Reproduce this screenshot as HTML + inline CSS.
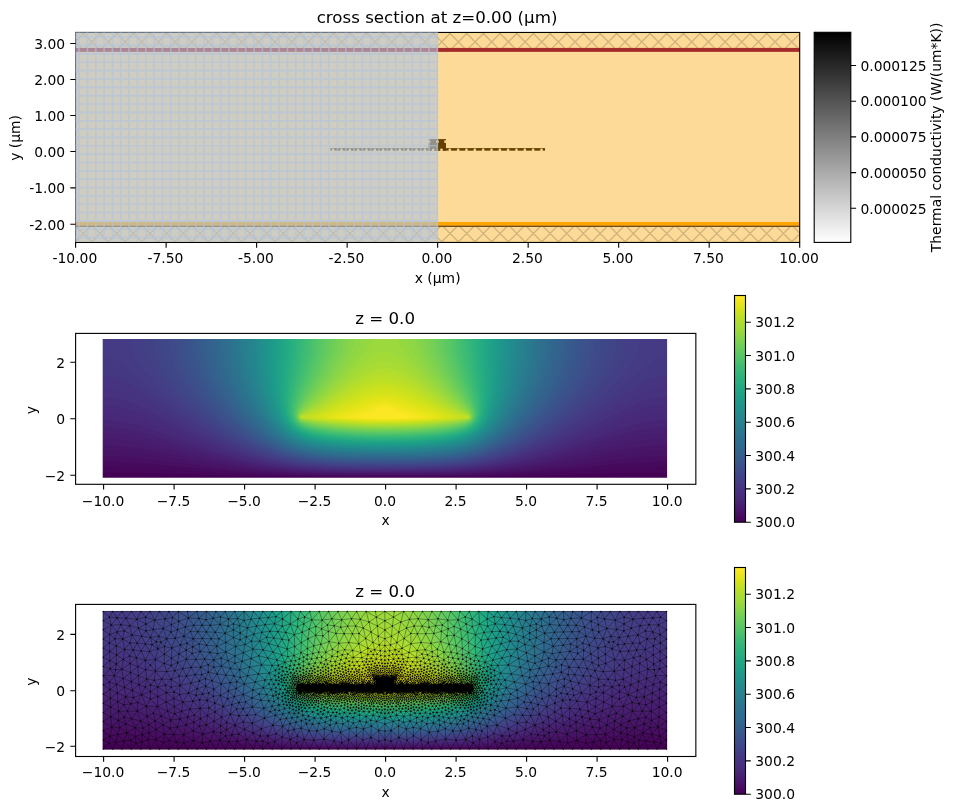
<!DOCTYPE html><html><head><meta charset="utf-8"><title>cross section</title><style>html,body{margin:0;padding:0;background:#fff}svg{display:block}</style></head><body><svg width="954" height="812" viewBox="0 0 954 812" font-family="DejaVu Sans, Liberation Sans, sans-serif" font-size="13.89" fill="#000">
<rect width="954" height="812" fill="#fff"/>
<defs><clipPath id="c1"><rect x="75.6" y="32.45" width="724.1" height="210.0"/></clipPath><clipPath id="c1t"><rect x="75.6" y="32.45" width="724.1" height="15.449999999999996"/></clipPath><clipPath id="c1b"><rect x="75.6" y="226.8" width="724.1" height="15.649999999999977"/></clipPath><linearGradient id="gy" x1="0" y1="1" x2="0" y2="0"><stop offset="0" stop-color="#fff"/><stop offset="1" stop-color="#000"/></linearGradient><linearGradient id="gv" x1="0" y1="1" x2="0" y2="0"><stop offset="0" stop-color="#440154"/><stop offset="0.03" stop-color="#470d60"/><stop offset="0.06" stop-color="#48186a"/><stop offset="0.09" stop-color="#482374"/><stop offset="0.12" stop-color="#472d7b"/><stop offset="0.16" stop-color="#453781"/><stop offset="0.19" stop-color="#424086"/><stop offset="0.22" stop-color="#3e4989"/><stop offset="0.25" stop-color="#3b528b"/><stop offset="0.28" stop-color="#375b8d"/><stop offset="0.31" stop-color="#33638d"/><stop offset="0.34" stop-color="#2f6b8e"/><stop offset="0.38" stop-color="#2c728e"/><stop offset="0.41" stop-color="#297a8e"/><stop offset="0.44" stop-color="#26828e"/><stop offset="0.47" stop-color="#23898e"/><stop offset="0.5" stop-color="#21918c"/><stop offset="0.53" stop-color="#1f988b"/><stop offset="0.56" stop-color="#1fa088"/><stop offset="0.59" stop-color="#22a785"/><stop offset="0.62" stop-color="#28ae80"/><stop offset="0.66" stop-color="#32b67a"/><stop offset="0.69" stop-color="#3fbc73"/><stop offset="0.72" stop-color="#4ec36b"/><stop offset="0.75" stop-color="#5ec962"/><stop offset="0.78" stop-color="#70cf57"/><stop offset="0.81" stop-color="#84d44b"/><stop offset="0.84" stop-color="#98d83e"/><stop offset="0.88" stop-color="#addc30"/><stop offset="0.91" stop-color="#c2df23"/><stop offset="0.94" stop-color="#d8e219"/><stop offset="0.97" stop-color="#ece51b"/><stop offset="1" stop-color="#fde725"/></linearGradient><clipPath id="cm"><rect x="102.4" y="610.6" width="565" height="139.3"/></clipPath></defs>
<rect x="75.6" y="32.45" width="724.1" height="210.0" fill="#fdda97"/>
<path clip-path="url(#c1t)" d="M32.4 32.45L47.85 47.9M49.07 32.45L64.52 47.9M65.73 32.45L81.18 47.9M82.4 32.45L97.85 47.9M99.07 32.45L114.52 47.9M115.73 32.45L131.18 47.9M132.4 32.45L147.85 47.9M149.07 32.45L164.52 47.9M165.73 32.45L181.18 47.9M182.4 32.45L197.85 47.9M199.07 32.45L214.52 47.9M215.73 32.45L231.18 47.9M232.4 32.45L247.85 47.9M249.07 32.45L264.52 47.9M265.73 32.45L281.18 47.9M282.4 32.45L297.85 47.9M299.07 32.45L314.52 47.9M315.73 32.45L331.18 47.9M332.4 32.45L347.85 47.9M349.07 32.45L364.52 47.9M365.73 32.45L381.18 47.9M382.4 32.45L397.85 47.9M399.07 32.45L414.52 47.9M415.73 32.45L431.18 47.9M432.4 32.45L447.85 47.9M449.07 32.45L464.52 47.9M465.73 32.45L481.18 47.9M482.4 32.45L497.85 47.9M499.07 32.45L514.52 47.9M515.73 32.45L531.18 47.9M532.4 32.45L547.85 47.9M549.07 32.45L564.52 47.9M565.73 32.45L581.18 47.9M582.4 32.45L597.85 47.9M599.07 32.45L614.52 47.9M615.73 32.45L631.18 47.9M632.4 32.45L647.85 47.9M649.07 32.45L664.52 47.9M665.73 32.45L681.18 47.9M682.4 32.45L697.85 47.9M699.07 32.45L714.52 47.9M715.73 32.45L731.18 47.9M732.4 32.45L747.85 47.9M749.07 32.45L764.52 47.9M765.73 32.45L781.18 47.9M782.4 32.45L797.85 47.9M799.07 32.45L814.52 47.9M815.73 32.45L831.18 47.9M832.4 32.45L847.85 47.9M51.1 32.45L35.65 47.9M67.77 32.45L52.32 47.9M84.43 32.45L68.98 47.9M101.1 32.45L85.65 47.9M117.77 32.45L102.32 47.9M134.43 32.45L118.98 47.9M151.1 32.45L135.65 47.9M167.77 32.45L152.32 47.9M184.43 32.45L168.98 47.9M201.1 32.45L185.65 47.9M217.77 32.45L202.32 47.9M234.43 32.45L218.98 47.9M251.1 32.45L235.65 47.9M267.77 32.45L252.32 47.9M284.43 32.45L268.98 47.9M301.1 32.45L285.65 47.9M317.77 32.45L302.32 47.9M334.43 32.45L318.98 47.9M351.1 32.45L335.65 47.9M367.77 32.45L352.32 47.9M384.43 32.45L368.98 47.9M401.1 32.45L385.65 47.9M417.77 32.45L402.32 47.9M434.43 32.45L418.98 47.9M451.1 32.45L435.65 47.9M467.77 32.45L452.32 47.9M484.43 32.45L468.98 47.9M501.1 32.45L485.65 47.9M517.77 32.45L502.32 47.9M534.43 32.45L518.98 47.9M551.1 32.45L535.65 47.9M567.77 32.45L552.32 47.9M584.43 32.45L568.98 47.9M601.1 32.45L585.65 47.9M617.77 32.45L602.32 47.9M634.43 32.45L618.98 47.9M651.1 32.45L635.65 47.9M667.77 32.45L652.32 47.9M684.43 32.45L668.98 47.9M701.1 32.45L685.65 47.9M717.77 32.45L702.32 47.9M734.43 32.45L718.98 47.9M751.1 32.45L735.65 47.9M767.77 32.45L752.32 47.9M784.43 32.45L768.98 47.9M801.1 32.45L785.65 47.9M817.77 32.45L802.32 47.9M834.43 32.45L818.98 47.9" stroke="#000" stroke-opacity="0.17" stroke-width="1.45" fill="none"/>
<path clip-path="url(#c1b)" d="M26.75 226.8L42.4 242.45M43.42 226.8L59.07 242.45M60.08 226.8L75.73 242.45M76.75 226.8L92.4 242.45M93.42 226.8L109.07 242.45M110.08 226.8L125.73 242.45M126.75 226.8L142.4 242.45M143.42 226.8L159.07 242.45M160.08 226.8L175.73 242.45M176.75 226.8L192.4 242.45M193.42 226.8L209.07 242.45M210.08 226.8L225.73 242.45M226.75 226.8L242.4 242.45M243.42 226.8L259.07 242.45M260.08 226.8L275.73 242.45M276.75 226.8L292.4 242.45M293.42 226.8L309.07 242.45M310.08 226.8L325.73 242.45M326.75 226.8L342.4 242.45M343.42 226.8L359.07 242.45M360.08 226.8L375.73 242.45M376.75 226.8L392.4 242.45M393.42 226.8L409.07 242.45M410.08 226.8L425.73 242.45M426.75 226.8L442.4 242.45M443.42 226.8L459.07 242.45M460.08 226.8L475.73 242.45M476.75 226.8L492.4 242.45M493.42 226.8L509.07 242.45M510.08 226.8L525.73 242.45M526.75 226.8L542.4 242.45M543.42 226.8L559.07 242.45M560.08 226.8L575.73 242.45M576.75 226.8L592.4 242.45M593.42 226.8L609.07 242.45M610.08 226.8L625.73 242.45M626.75 226.8L642.4 242.45M643.42 226.8L659.07 242.45M660.08 226.8L675.73 242.45M676.75 226.8L692.4 242.45M693.42 226.8L709.07 242.45M710.08 226.8L725.73 242.45M726.75 226.8L742.4 242.45M743.42 226.8L759.07 242.45M760.08 226.8L775.73 242.45M776.75 226.8L792.4 242.45M793.42 226.8L809.07 242.45M810.08 226.8L825.73 242.45M826.75 226.8L842.4 242.45M56.75 226.8L41.1 242.45M73.42 226.8L57.77 242.45M90.08 226.8L74.43 242.45M106.75 226.8L91.1 242.45M123.42 226.8L107.77 242.45M140.08 226.8L124.43 242.45M156.75 226.8L141.1 242.45M173.42 226.8L157.77 242.45M190.08 226.8L174.43 242.45M206.75 226.8L191.1 242.45M223.42 226.8L207.77 242.45M240.08 226.8L224.43 242.45M256.75 226.8L241.1 242.45M273.42 226.8L257.77 242.45M290.08 226.8L274.43 242.45M306.75 226.8L291.1 242.45M323.42 226.8L307.77 242.45M340.08 226.8L324.43 242.45M356.75 226.8L341.1 242.45M373.42 226.8L357.77 242.45M390.08 226.8L374.43 242.45M406.75 226.8L391.1 242.45M423.42 226.8L407.77 242.45M440.08 226.8L424.43 242.45M456.75 226.8L441.1 242.45M473.42 226.8L457.77 242.45M490.08 226.8L474.43 242.45M506.75 226.8L491.1 242.45M523.42 226.8L507.77 242.45M540.08 226.8L524.43 242.45M556.75 226.8L541.1 242.45M573.42 226.8L557.77 242.45M590.08 226.8L574.43 242.45M606.75 226.8L591.1 242.45M623.42 226.8L607.77 242.45M640.08 226.8L624.43 242.45M656.75 226.8L641.1 242.45M673.42 226.8L657.77 242.45M690.08 226.8L674.43 242.45M706.75 226.8L691.1 242.45M723.42 226.8L707.77 242.45M740.08 226.8L724.43 242.45M756.75 226.8L741.1 242.45M773.42 226.8L757.77 242.45M790.08 226.8L774.43 242.45M806.75 226.8L791.1 242.45M823.42 226.8L807.77 242.45M840.08 226.8L824.43 242.45" stroke="#000" stroke-opacity="0.17" stroke-width="1.45" fill="none"/>
<rect x="75.6" y="47.9" width="724.1" height="3.95" fill="#a52a2a"/>
<rect x="75.6" y="221.95" width="724.1" height="3.8" fill="#ffa500"/>
<rect x="75.6" y="225.7" width="724.1" height="1.15" fill="#553706"/>
<rect x="330.5" y="148.1" width="214.5" height="2.55" fill="#644100"/>
<rect x="428.4" y="139.1" width="17.6" height="11.55" fill="#644100"/>
<path d="M333.17 149.9h0M341.5 149.9h0M349.84 149.9h0M358.17 149.9h0M366.5 149.9h0M374.84 149.9h0M383.17 149.9h0M391.5 149.9h0M399.83 149.9h0M408.17 149.9h0M416.5 149.9h0M424.83 149.9h0M433.17 149.9h0M441.5 149.9h0M449.83 149.9h0M458.17 149.9h0M466.5 149.9h0M474.83 149.9h0M483.17 149.9h0M491.5 149.9h0M499.83 149.9h0M508.16 149.9h0M516.5 149.9h0M524.83 149.9h0M533.16 149.9h0M541.5 149.9h0M429.2 141.7h0M437.5 141.7h0M445.4 141.7h0" stroke="#fbd696" stroke-width="2.7" stroke-linecap="round" fill="none"/>
<rect x="75.6" y="32.45" width="724.1" height="210.0" fill="none" stroke="#000" stroke-width="1.11"/>
<rect x="75.03999999999999" y="31.890000000000004" width="362.76" height="210" fill="#b0c4de" fill-opacity="0.6"/>
<path d="M437.4 32.45V241.85M429.07 32.45V241.85M420.73 32.45V241.85M412.4 32.45V241.85M404.07 32.45V241.85M395.74 32.45V241.85M387.4 32.45V241.85M379.07 32.45V241.85M370.74 32.45V241.85M362.4 32.45V241.85M354.07 32.45V241.85M345.74 32.45V241.85M337.4 32.45V241.85M329.07 32.45V241.85M320.74 32.45V241.85M312.41 32.45V241.85M304.07 32.45V241.85M295.74 32.45V241.85M287.41 32.45V241.85M279.07 32.45V241.85M270.74 32.45V241.85M262.41 32.45V241.85M254.07 32.45V241.85M245.74 32.45V241.85M237.41 32.45V241.85M229.08 32.45V241.85M220.74 32.45V241.85M212.41 32.45V241.85M204.08 32.45V241.85M195.74 32.45V241.85M187.41 32.45V241.85M179.08 32.45V241.85M170.74 32.45V241.85M162.41 32.45V241.85M154.08 32.45V241.85M145.75 32.45V241.85M137.41 32.45V241.85M129.08 32.45V241.85M120.75 32.45V241.85M112.41 32.45V241.85M104.08 32.45V241.85M95.75 32.45V241.85M87.41 32.45V241.85M79.08 32.45V241.85M75.6 37.2H437.8M75.6 45.55H437.8M75.6 53.9H437.8M75.6 62.25H437.8M75.6 70.6H437.8M75.6 78.95H437.8M75.6 87.3H437.8M75.6 95.65H437.8M75.6 104H437.8M75.6 112.35H437.8M75.6 120.7H437.8M75.6 129.05H437.8M75.6 137.4H437.8M75.6 145.75H437.8M75.6 154.1H437.8M75.6 162.45H437.8M75.6 170.8H437.8M75.6 179.15H437.8M75.6 187.5H437.8M75.6 195.85H437.8M75.6 204.2H437.8M75.6 212.55H437.8M75.6 220.9H437.8M75.6 229.25H437.8M75.6 237.6H437.8" stroke="#b0c4de" stroke-opacity="0.62" stroke-width="1.65" fill="none"/>
<path d="M75.6 242.45v5.3M166.11 242.45v5.3M256.62 242.45v5.3M347.14 242.45v5.3M437.65 242.45v5.3M528.16 242.45v5.3M618.68 242.45v5.3M709.19 242.45v5.3M799.7 242.45v5.3M75.6 43.5h-5.3M75.6 79.5h-5.3M75.6 115.5h-5.3M75.6 151.5h-5.3M75.6 187.9h-5.3M75.6 224.3h-5.3" stroke="#000" stroke-width="1.11" fill="none"/>
<text x="74.9" y="263.1" text-anchor="middle">-10.00</text>
<text x="165.41" y="263.1" text-anchor="middle">-7.50</text>
<text x="255.93" y="263.1" text-anchor="middle">-5.00</text>
<text x="346.44" y="263.1" text-anchor="middle">-2.50</text>
<text x="436.95" y="263.1" text-anchor="middle">0.00</text>
<text x="527.46" y="263.1" text-anchor="middle">2.50</text>
<text x="617.98" y="263.1" text-anchor="middle">5.00</text>
<text x="708.49" y="263.1" text-anchor="middle">7.50</text>
<text x="799" y="263.1" text-anchor="middle">10.00</text>
<text x="65.2" y="48.7" text-anchor="end">3.00</text>
<text x="65.2" y="84.7" text-anchor="end">2.00</text>
<text x="65.2" y="120.7" text-anchor="end">1.00</text>
<text x="65.2" y="156.7" text-anchor="end">0.00</text>
<text x="65.2" y="193.1" text-anchor="end">-1.00</text>
<text x="65.2" y="229.5" text-anchor="end">-2.00</text>
<text x="437.65" y="283" text-anchor="middle">x (μm)</text>
<text transform="translate(19.8 137.95) rotate(-90)" text-anchor="middle">y (μm)</text>
<text x="437.05" y="23.2" text-anchor="middle" font-size="16.67">cross section at z=0.00 (μm)</text>
<rect x="814.2" y="32.3" width="36.6" height="210.1" fill="url(#gy)" stroke="#000" stroke-width="1.11"/>
<text x="860.4" y="70.7">0.000125</text>
<text x="860.4" y="106.4">0.000100</text>
<text x="860.4" y="142.1">0.000075</text>
<text x="860.4" y="177.8">0.000050</text>
<text x="860.4" y="213.5">0.000025</text>
<path d="M850.8 65.5h5.3M850.8 101.2h5.3M850.8 136.9h5.3M850.8 172.6h5.3M850.8 208.3h5.3" stroke="#000" stroke-width="1.11" fill="none"/>
<text transform="translate(941.3 137.4) rotate(-90)" text-anchor="middle">Thermal conductivity (W/(um*K))</text>
<g><rect x="101.2" y="337.6" width="567.4" height="141.6" fill="#440154"/><path d="M280.3 476.6l34.8 0.3 52.2 0.2 70.5-0.1 42.3-0.3 56.5-1 95.9-2.9 36.1-0.4 0-134.8-567.4 0 0 134.8 37.5 0.4 88.9 2.7 52.2 1.1z" fill="#46075a"/><path d="M296 475.9l40.2 0.4 66.3 0.1 48-0.2 33.9-0.5 26.8-0.9 28.2-1.3 91.7-5.6 19.8-0.7 17.7-0.2 0-129.4-567.4 0 0 129.4 17.7 0.2 18.4 0.7 97.9 5.9 30.5 1.3 29.6 0.8z" fill="#460a5d"/><path d="M303.1 475.2l41.6 0.5 69.1 0 40.9-0.3 31.1-0.8 26.8-1.3 26.8-1.8 25.4-2.3 48-4.7 18.3-1.5 19.8-1.1 17.7-0.3 0-124-567.4 0 0 124 19.1 0.4 21.2 1.2 18.3 1.6 53.7 5.2 33.8 2.7 28.2 1.6 26.9 0.9z" fill="#470e61"/><path d="M307.3 474.5l43 0.6 67.8 0 38.1-0.5 29.6-1 26.8-1.7 26.8-2.5 25.4-3 49.4-6.5 18.3-2 18.4-1.3 17.7-0.4 0-118.6-567.4 0 0 118.6 9.3 0.1 9.8 0.3 9.9 0.7 11.3 1 18.3 2.1 53.3 7 18.8 2.1 16.8 1.7 28.3 2 29.6 1.3z" fill="#471365"/><path d="M371.2 474.5l46.9-0.1 33.8-0.4 24-0.8 22.6-1.5 24-2.3 24-3.1 22.5-3.4 43.8-7.3 18.3-2.6 9.9-1.1 9.9-0.8 8.4-0.4 9.3-0.1 0-113-567.4 0 0 113 9.3 0.1 9.8 0.5 9.9 0.8 9.9 1.2 18.3 2.6 41 6.8 21.7 3.4 23.4 3 21.2 2.2 21.1 1.6 21.2 0.9 25.4 0.6 36.7 0.2z" fill="#481668"/><path d="M355 473.8l51.8 0 39.5-0.4 26.8-1 22.6-1.6 23.6-2.7 25.7-3.9 24-4.4 43.8-8.8 18.3-3.2 9.9-1.3 9.9-0.9 8.4-0.5 9.3-0.2 0-107.3-567.4 0 0 107.3 9.3 0.2 9.8 0.6 9.9 1 9.9 1.4 18.3 3.2 39.5 8 20.5 3.8 21.9 3.6 21.8 2.8 20.5 2 19.8 1.2 22.5 0.7 29.7 0.4z" fill="#481a6c"/><path d="M348.1 473.1l53 0.1 42.4-0.5 26.8-1 12.7-0.9 11.3-1 12.7-1.5 12.7-1.9 12.6-2.1 12.7-2.4 24.2-5.2 45-10.7 18.3-3.7 9.9-1.5 8.5-1 8.4-0.5 9.3-0.2 0-101.5-567.4 0 0 101.5 9.3 0.2 9.8 0.7 9.9 1.2 9.9 1.6 16.9 3.5 40.5 9.7 19.2 4.3 22 4.3 19.9 3.1 19.8 2.3 19.7 1.6 21.2 1 28.2 0.5z" fill="#481d6f"/><path d="M344 472.4l52.9 0.2 45.1-0.5 15.6-0.6 12.7-0.7 12.7-1 11.3-1.2 12.7-1.7 12.7-2.1 12.5-2.4 13.1-2.8 11.9-2.9 13.7-3.5 44.7-12.4 16.9-3.9 9.9-1.8 8.5-1.2 8.4-0.6 9.3-0.2 0-95.5-567.4 0 0 95.5 9.3 0.2 8.4 0.6 9.9 1.4 9.9 1.9 8.4 1.9 9.9 2.5 39.2 10.9 19.3 4.9 22.1 5 19.3 3.6 18.6 2.6 19.8 1.9 21.2 1.2 26.8 0.7z" fill="#482071"/><path d="M341.2 471.7l24.7 0.2 29.6 0.1 25.4-0.2 21.1-0.4 15.6-0.6 12.7-0.8 12.7-1.2 11.9-1.4 12.1-1.9 12.9-2.4 13.1-2.8 14.3-3.6 12.8-3.5 12-3.6 43.5-13.8 9.9-2.8 8.4-2.1 9.9-2 8.5-1.3 8.5-0.7 7.8-0.1 0-89.2-567.4 0 0 89.2 9.3 0.2 8.4 0.8 9.9 1.6 9.9 2.1 16.9 4.7 39.8 12.7 19.3 5.7 21.3 5.5 19.8 4.2 19.1 3.1 19 2.1 21.2 1.4 25.4 0.7z" fill="#482475"/><path d="M339.1 470.9l25.3 0.4 29.7 0 26.8-0.2 21.1-0.4 15.6-0.7 12.7-0.9 12.7-1.2 12.7-1.8 13-2.3 13.3-2.8 13.2-3.3 13.5-3.8 11.4-3.6 12.7-4.2 44.2-16 8.5-2.7 8.4-2.5 9.9-2.3 8.5-1.4 8.5-0.9 7.8-0.2 0-82.5-567.4 0 0 82.5 9.3 0.3 8.4 1 8.5 1.5 9.9 2.4 8.4 2.5 8.5 2.8 38.8 14 21.1 7.2 19.5 5.6 11.2 2.9 9.4 2.1 10.1 2 8.9 1.6 9.8 1.4 9.5 1.1 9.9 0.9 11.2 0.7 25.4 0.8z" fill="#482878"/><path d="M337.5 470.2l24.1 0.4 29.6 0.1 28.3-0.2 21.1-0.5 15.6-0.7 14.1-1 12.7-1.4 12.7-1.9 13.1-2.6 13.7-3.2 13.8-3.9 13.5-4.3 12.1-4.2 13.1-5 43.4-17.7 8.5-3.1 8.5-2.8 8.4-2.2 8.5-1.7 8.5-1 7.8-0.2 0-75.5-567.4 0 0 75.5 7.8 0.2 8.5 1 8.5 1.7 9.9 2.7 8.4 2.8 8.5 3.2 38.4 15.7 18.7 7.1 10.1 3.5 11.1 3.6 9.8 2.8 10.9 2.9 9.6 2.2 10.4 2.1 9.4 1.5 9.8 1.3 9.9 1 9.9 0.8 11.3 0.5 14.1 0.5z" fill="#472a7a"/><path d="M336.3 469.5l25.3 0.5 29.6 0.1 28.3-0.3 22.5-0.5 15.6-0.8 14.1-1.2 12.7-1.6 12.7-2.2 14.1-3.1 13.7-3.7 13.6-4.2 13.9-5 12.5-5 11.6-5 44.7-20.4 8.5-3.5 7.1-2.6 8.4-2.6 8.5-1.8 7.1-0.9 7.8-0.2 0-67.9-567.4 0 0 67.9 7.8 0.2 8.5 1.2 8.5 1.9 8.4 2.7 8.5 3.2 8.5 3.6 37.1 17.1 19.8 8.5 11 4.3 9.9 3.6 11 3.5 9.7 2.9 10.1 2.6 9.9 2.2 9.9 1.8 9.9 1.5 9.8 1.1 11.3 1 11.3 0.6 14.1 0.5z" fill="#472e7c"/><path d="M335.2 468.8l37.7 0.6 43.7-0.2 28.3-0.8 11.3-0.6 11.2-0.9 9.9-1.2 9.9-1.5 9.5-1.8 9.3-2.1 10.6-2.9 9.3-2.8 10.4-3.6 9.4-3.5 13.6-5.7 13.9-6.4 14.3-7.1 32.3-16.9 8.5-4.1 7.1-3.1 8.4-3.2 8.5-2.3 4.2-0.8 4.3-0.6 7.8-0.3 0-59.4-567.4 0 0 59.4 7.8 0.3 7.1 1.1 8.5 2.2 8.4 3 7.1 3 8.5 4.1 37.9 19.7 19.2 9.3 11.4 4.9 10.7 4.3 9.7 3.6 10.9 3.5 9.9 2.9 10.2 2.5 9.9 2.1 9.8 1.6 9.9 1.3 11.3 1.1 11.3 0.7 14.1 0.6z" fill="#46327e"/><path d="M334.3 468.1l34.4 0.6 42.3-0.1 29.6-0.7 11.3-0.6 11.3-0.8 9.9-1.1 8.5-1.2 9.5-1.8 8.8-1.9 8.9-2.3 9.4-2.9 8.5-2.8 9.5-3.6 8.6-3.5 9.6-4.3 8.9-4.3 9.6-4.9 17.9-10 33.3-19.8 7-3.9 7.1-3.5 8.4-3.5 7.1-2.3 7.1-1.3 4.2-0.4 3.6 0 0-49.6-567.4 0 0 49.6 6.4 0.2 7.1 1.2 7 2 8.5 3.5 7.1 3.4 7 3.8 37.2 22 10.1 5.7 10.7 5.7 10.1 5 10.9 4.9 10.3 4.3 11.6 4.3 10.9 3.5 10.2 2.9 10.7 2.5 9.3 1.7 10.4 1.6 11.3 1.2 11.3 0.8 14.1 0.7z" fill="#463480"/><path d="M370.2 468.1l35.2 0 28.2-0.6 21.1-1.1 17-1.7 8.4-1.3 8.5-1.5 7.1-1.6 8.2-2.1 9.4-2.9 8.3-2.8 7.5-2.9 8.5-3.5 10.9-5 9.9-5 10.4-5.7 9.7-5.7 17.7-11.3 33.5-23 7.1-4.5 5.6-3.3 7.1-3.5 4.2-1.7 2.8-0.9 5.7-1.2 2.8-0.3 3.6 0 0-37.4-567.4 0 0 37.4 3.6 0 2.8 0.3 5.7 1.2 2.8 0.9 4.2 1.7 7.1 3.5 5.6 3.3 7.1 4.5 30.3 20.8 16.3 10.7 8.2 5 8.6 5 7.9 4.2 8.4 4.3 7.6 3.5 8.1 3.6 8.9 3.5 7.9 2.9 8.8 2.8 7.4 2.2 8.7 2.1 8.2 1.7 7.1 1.2 8.4 1.1 8.5 0.9 9.9 0.8 22.6 1 28.2 0.4z" fill="#453882"/><path d="M362.6 467.4l34.3 0.1 29.6-0.5 22.6-0.9 16.9-1.5 8.5-1.2 7.1-1.2 7-1.4 8-1.9 7.5-2.2 8.8-2.8 7.8-2.9 7-2.8 12.6-5.7 11.1-5.7 11.3-6.4 12.5-7.8 14.3-9.9 14-10.7 13.9-11.4 25-21.5 9.9-7.8 4.2-2.8 4.3-2.1 2.8-1 1.4-0.2 3.6-0.2 0-17.4-567.4 0 0 17.4 3.6 0.2 2.8 0.7 4.3 1.8 4.2 2.6 5.6 4.2 5.7 4.6 21.7 18.7 11.9 9.9 9.8 7.9 9.5 7.1 11.1 7.8 12.2 7.8 10.9 6.4 12.1 6.4 7.4 3.5 8.1 3.6 7 2.8 7.8 2.9 7.4 2.4 7 2.1 7.6 1.9 7.9 1.7 14.1 2.2 17 1.7 19.7 1 24 0.5z" fill="#443b84"/><path d="M357.7 466.7l33.5 0.2 32.5-0.5 22.6-0.9 9.9-0.7 9-1 7.9-1 8.5-1.5 7.7-1.7 8.1-2.2 7-2.1 8.1-2.8 7.3-2.9 8.2-3.5 10.3-5 10.5-5.7 9.5-5.7 9.8-6.4 10-7.1 10-7.8 10-8.5 8.5-7.8 8.4-8.6 7.1-7.8 6.8-8.5 4.3-6.4 3.2-5.7 1.2-2.9 1.2-3.5 1-5 0.2-6.1-510.2 0 0.1 5.4 0.7 4.3 1.6 4.9 2.3 5 3.4 5.7 4.1 5.7 5.7 7.1 5.7 6.4 7.6 7.8 8.3 7.8 8.1 7.1 8.8 7.2 8.4 6.4 8.1 5.6 8.8 5.7 9.5 5.7 7.8 4.3 7 3.5 7.6 3.6 8.3 3.5 7.5 2.9 8.5 2.8 7.3 2.2 7.6 1.9 7.9 1.6 7.6 1.3 15.5 1.8 19.8 1.2 24 0.7z" fill="#433e85"/><path d="M354.2 466l34.2 0.2 32.5-0.3 24-1 9.8-0.7 8.5-0.9 8.5-1.2 7-1.2 8.5-1.9 7.1-1.8 8.2-2.6 7.9-2.8 7-2.9 7.9-3.5 9.8-5 10.1-5.7 10.2-6.4 10.2-7.1 9.3-7.1 9.2-7.8 8.4-7.9 7-7.1 6.9-7.8 5.6-7.1 4.8-7.1 4-7.1 2.8-6.4 1.7-5.7 0.9-5.7 0.2-6.8-483 0 0.1 5.4 0.6 5 1.2 5 2.1 5.6 2.7 5.7 3.4 5.7 4.3 6.4 5 6.4 6.2 7.1 6.1 6.4 6.7 6.4 8 7.1 7.8 6.4 7.6 5.7 8.1 5.7 8.9 5.7 7.3 4.2 7.9 4.3 7.1 3.6 7.9 3.5 7 2.9 7.9 2.8 6.8 2.1 7.9 2.2 7.7 1.7 7 1.3 7.1 1 8.4 1 18.4 1.3 22.6 0.8z" fill="#424186"/><path d="M351.4 465.3l32.8 0.3 33.9-0.3 23.9-0.9 9.9-0.7 8.5-0.9 8.5-1.1 8.1-1.4 7.4-1.6 7.4-2 6.8-2.1 7.9-2.8 7-2.9 7.8-3.5 9.7-5 9.8-5.7 8.8-5.7 10-7.1 8.9-7.1 8.2-7.1 7.3-7.1 7.4-7.8 6.5-7.9 5.1-7.1 4.5-7.1 3.6-7.1 2.5-6.4 1.8-6.4 0.9-6.4 0.1-6.8-463 0 0 6.1 0.6 5 1.1 5 1.8 5.7 2.4 5.6 3 5.7 4 6.4 4 5.7 5.7 7.1 5.7 6.4 6.2 6.4 6.8 6.4 6.6 5.7 7.1 5.7 7.7 5.7 8.4 5.7 6.9 4.2 7.4 4.3 6.8 3.5 7.5 3.6 6.6 2.8 7.4 2.9 7 2.4 7.1 2 7 1.7 7.1 1.5 7.1 1.1 8.4 1.1 17 1.4 22.5 0.8z" fill="#404588"/><path d="M349.1 464.6l32.3 0.4 33.8-0.3 24-0.9 9.9-0.6 9.9-1 8.4-1.1 7.1-1.2 7.1-1.5 7-1.9 7.1-2.1 7.2-2.6 7-2.9 7.7-3.5 9.5-5 8.4-5 8.7-5.7 9.8-7.1 8.7-7.1 7.9-7.1 7.8-7.8 6.3-7.1 5.6-7.1 5-7.1 4.2-7.1 3.7-7.9 2.6-7.1 1.6-6.4 0.8-6.4 0.1-6.8-446.8 0 0.1 6.1 0.5 5 1.1 5.7 1.7 5.7 2.3 5.7 2.7 5.6 3.3 5.7 4.2 6.4 4.2 5.7 5.3 6.4 5.9 6.4 5.7 5.7 6.1 5.7 6.8 5.7 7.2 5.6 8 5.7 6.6 4.3 7 4.3 6.5 3.5 7 3.6 6.2 2.8 7.2 2.9 7.7 2.8 7.1 2.1 6.3 1.7 7.1 1.5 7.1 1.2 8.4 1.1 17 1.5 21.1 0.8z" fill="#3f4788"/><path d="M347.1 463.8l31.5 0.5 33.8-0.2 25.4-0.9 9.9-0.6 9.1-0.9 7.8-1 8.5-1.4 7-1.6 6.6-1.7 6.9-2.1 6.3-2.3 6.5-2.7 7.7-3.5 9.3-5 8.3-5 9.5-6.4 8.4-6.4 8.5-7.1 7.6-7.1 6.8-7.1 6.1-7.1 5.4-7.1 5.2-7.8 3.9-7.1 3.2-7.2 2.4-7.1 1.5-6.4 0.9-6.4 0.1-7.5-432.6 0 0.1 6.1 0.4 5 1 5.7 1.6 5.7 2.1 5.7 2.5 5.6 3.1 5.7 3.9 6.4 4.5 6.4 5.1 6.4 5.7 6.4 4.8 5 5.9 5.7 6.5 5.7 7.1 5.6 6.7 5 6.3 4.3 6.8 4.3 6.2 3.5 6.8 3.6 6 2.8 6.8 2.9 7 2.6 7.1 2.2 5.8 1.5 6.9 1.6 7.1 1.3 7 1 8.5 0.9 8.4 0.7 19.8 0.9z" fill="#3e4a89"/><path d="M345.5 463.1l30.2 0.6 33.9-0.2 25.4-0.8 9.9-0.6 9.8-0.9 8.5-1.1 7.1-1.1 7-1.5 7.1-1.8 7-2.2 6.7-2.5 6.7-2.8 6-2.8 9.2-5 8.1-5 8.3-5.7 8.3-6.4 8.3-7.1 6.7-6.4 7.4-7.8 5.9-7.1 5.3-7.1 4.5-7.1 3.9-7.1 3.4-7.8 2.3-7.2 1.6-7.1 0.8-6.4 0.1-7.5-420 0 0 6.1 0.6 5.7 0.8 5 1.5 5.7 1.9 5.7 2.4 5.6 2.9 5.7 3.7 6.4 4.3 6.4 4.3 5.7 4.8 5.7 5.2 5.7 5.7 5.7 6.2 5.7 6.7 5.6 6.5 5 6.1 4.3 6.5 4.2 6 3.6 6.6 3.5 5.8 2.9 6.6 2.8 5.5 2.2 7.1 2.3 6.8 1.9 5.9 1.4 7.1 1.4 7 1 15.5 1.6 19.8 1z" fill="#3d4e8a"/><path d="M344 462.4l30.3 0.6 32.5-0.1 26.8-0.8 9.9-0.6 9.8-0.9 8.5-1.1 7.1-1.1 7-1.5 6.2-1.6 6.5-2 6.3-2.3 6.8-2.8 6-2.8 7.9-4.3 9.2-5.7 8.1-5.7 8.1-6.4 7.3-6.4 7.3-7.1 7.1-7.8 5.7-7.1 5.4-7.8 4.3-7.1 3.6-7.1 3-7.1 2.2-7.2 1.5-7.1 0.7-6.4 0.1-7.5-408.6 0 0.1 6.1 0.4 5.7 0.9 5 1.3 5.7 1.8 5.7 2.3 5.6 2.7 5.7 3.2 5.7 4.1 6.4 4 5.7 4.6 5.7 5.6 6.4 5.5 5.7 6 5.7 5.7 4.9 6.2 5 5.9 4.3 6.3 4.2 5.8 3.6 6.4 3.5 5.6 2.9 6.4 2.8 5.3 2.2 6.2 2.1 6.8 2 5.6 1.3 7.1 1.4 7 1.1 15.5 1.7 18.4 1z" fill="#3c508b"/><path d="M376.5 462.4l28.9-0.1 25.4-0.8 18.3-1.2 8.5-0.9 7-1.1 7.1-1.3 5.6-1.3 6.3-1.8 6.4-2.2 7.1-2.8 5.6-2.5 6.1-3.2 6.2-3.5 7.7-5 7.8-5.7 7-5.7 6.3-5.7 6.5-6.4 6.4-7.1 5.7-7.1 4.6-6.4 4-6.4 3.8-7.1 2.9-6.4 2.4-6.4 2-7.1 1.1-6.4 0.7-6.4 0-6.8-398 0 0 6.8 0.6 5.7 1.1 6.4 1.7 6.4 2.2 6.4 2.8 6.4 3.3 6.4 3.8 6.4 4.4 6.4 5.5 7.1 5.6 6.4 5.4 5.7 6 5.7 7.4 6.4 6.4 4.9 7.1 5 5.6 3.6 6.2 3.5 7 3.6 6.1 2.7 5.7 2.3 6.4 2.1 6.3 1.8 7 1.6 7.1 1.2 7 1 15.6 1.5 21.1 1 25.4 0.4z" fill="#3a538b"/><path d="M368.4 461.7l28.5 0.1 26.8-0.6 19.8-1.1 8.4-0.8 8.5-1.1 7-1.2 5.7-1.2 7-1.8 5.7-1.8 5.6-2.1 6.1-2.6 5.8-2.9 6.4-3.5 7.9-5 7-5 7.1-5.6 7.1-6.4 6.5-6.4 5.7-6.4 5.8-7.1 4.6-6.4 4.4-7.1 3.9-7.2 2.9-6.3 2.6-7.2 1.7-6.4 1.4-7.1 0.6-6.4 0.1-7.5-388.2 0 0 6.8 0.5 5.7 1.1 6.4 1.4 5.7 2.1 6.4 2.6 6.4 3.1 6.4 3.2 5.7 3.6 5.7 4.6 6.4 5.2 6.4 5.7 6.4 5.6 5.6 6.1 5.7 6.9 5.7 6.6 5 5.2 3.5 5.8 3.6 6.4 3.5 5.8 2.9 6.1 2.6 5.6 2.1 5.7 1.8 7 1.8 5.7 1.2 7 1.2 7.1 0.9 8.4 0.9 18.4 1.1 24 0.6z" fill="#39568c"/><path d="M363.5 461l29.2 0.2 26.8-0.5 19.7-1 8.5-0.7 8.5-0.9 7-1.1 7.1-1.4 6.9-1.7 5.8-1.8 5.6-2 6.2-2.6 5.8-2.9 5.2-2.8 8-5 6.9-4.9 7.1-5.7 6.3-5.7 6.4-6.4 6.4-7.1 5.6-7.1 4.5-6.4 4.4-7.1 3.7-7.1 3.1-7.1 2.5-7.2 1.9-7.1 1.1-6.4 0.6-6.4 0.1-7.5-379 0 0 6.8 0.5 5.7 1 6.4 1.3 5.7 2 6.4 2.5 6.4 3.1 6.4 3.1 5.7 3.9 6.4 4.5 6.4 5 6.4 5 5.7 5.5 5.6 6 5.7 6.6 5.7 5.6 4.3 5 3.5 5.6 3.6 6.2 3.5 5.7 2.9 6.3 2.7 5.6 2.1 5.7 1.8 5.6 1.5 5.7 1.3 7 1.2 14.1 1.7 17 1.2 22.5 0.7z" fill="#38598c"/><path d="M359.9 460.3l28.5 0.2 28.2-0.4 21.2-1 8.5-0.7 8.4-0.9 7.1-1.1 7.1-1.3 5.6-1.4 6.6-1.9 6-2.2 5.1-2.1 5.9-2.9 5.1-2.8 6.9-4.3 6.9-4.9 6.2-5 7.1-6.4 7-7.1 5.6-6.4 5.5-7.1 4.4-6.4 4.3-7.1 3.7-7.1 3.1-7.1 2.4-7.1 1.9-7.2 1.2-7.1 0.6-6.4 0.1-7.5-370.4 0 0 6.8 0.5 5.7 1 6.4 1.3 5.7 1.9 6.4 2.1 5.7 2.5 5.7 3.3 6.4 3.3 5.7 4.3 6.3 4.2 5.7 5.2 6.4 4.5 5 5.7 5.7 6.2 5.7 6.1 5 4.8 3.5 5.3 3.6 5.9 3.5 5.3 2.9 5.3 2.4 5.6 2.3 5.7 2 5.6 1.6 11.3 2.5 7 1.1 7.1 0.9 16.9 1.3 21.2 0.8z" fill="#365c8d"/><path d="M357 459.6l27.2 0.3 28.2-0.3 22.6-1 8.5-0.6 8.4-0.9 7.1-1 7-1.2 5.7-1.3 6.5-1.8 6.2-2.2 5.2-2.1 6-2.9 5.2-2.8 6.8-4.3 6.9-4.9 6.8-5.7 6.2-5.7 6.8-7.1 5.4-6.4 4.8-6.4 5.3-7.8 4.1-7.1 3.1-6.4 3-7.1 2.4-7.1 1.8-7.2 1.2-7.1 0.5-6.4 0.1-7.5-362.2 0 0 6.8 0.5 5.7 0.9 6.4 1.2 5.7 1.9 6.4 2 5.7 2.5 5.7 3.1 6.4 3.7 6.4 4.2 6.4 4.1 5.6 4.5 5.7 4.4 5 5.5 5.7 5.3 5 5.9 4.9 4.7 3.6 5.1 3.6 5.7 3.5 5.2 2.8 4.4 2.2 5.4 2.3 5.7 2 5.6 1.7 5.6 1.5 5.7 1.1 7 1.2 7.1 0.9 15.5 1.2 19.8 0.8z" fill="#355f8d"/><path d="M354.6 458.9l28.2 0.4 28.2-0.3 22.6-0.9 16.9-1.5 7.1-1 7-1.2 5.7-1.3 5.6-1.5 5.8-2 5.5-2.1 6-2.9 5.2-2.8 6.8-4.3 6.8-4.9 6.8-5.7 5.9-5.7 6-6.4 5.4-6.4 5.3-7.1 4.6-7.1 4-7.1 3.5-7.1 2.8-7.1 2.3-7.1 1.7-7.2 1.2-7.1 0.5-6.4 0.1-7.5-354.4 0 0 6.8 0.5 5.7 0.7 5.7 1.3 6.4 1.6 5.7 2.2 6.4 2.7 6.4 2.7 5.7 3.1 5.7 4 6.3 4.5 6.4 3.8 5 4.9 5.7 5.4 5.7 4.4 4.3 5.7 4.9 4.5 3.6 4.9 3.5 4.4 2.9 5.1 2.9 5.4 2.8 4.9 2.1 5.3 2 5.6 1.8 5.6 1.4 5.7 1.2 12.7 2 15.5 1.4 19.8 0.9z" fill="#34618d"/><path d="M352.5 458.2l27.5 0.4 28.2-0.2 22.6-0.8 9.8-0.7 8.5-0.9 7.1-0.9 7-1.2 5.7-1.3 5.8-1.6 5.4-1.8 5.7-2.2 5-2.4 5.3-2.8 6.8-4.3 5.8-4.2 6-5 6.8-6.4 5.9-6.4 5.3-6.4 5.1-7.1 4.6-7.1 3.9-7.1 3.4-7.1 2.9-7.1 2.2-7.1 1.7-7.1 1.2-7.2 0.6-7.1 0.1-7.5-347 0 0.1 6.1 0.3 5.7 0.8 6.4 1.1 5.7 1.7 6.4 1.8 5.7 2.6 6.4 2.6 5.7 3 5.6 3.8 6.4 3.7 5.7 4.2 5.7 4.1 5 5.1 5.7 4.9 4.9 5.5 5 4.4 3.6 4.8 3.5 4.3 2.9 4.7 2.8 5.5 2.9 4.8 2.1 4.5 1.7 5.6 1.9 5.6 1.5 5.7 1.3 12.7 2 14.1 1.3 18.3 0.9z" fill="#32648e"/><path d="M350.7 457.4l26.4 0.6 28.3-0.2 23.9-0.8 9.9-0.7 8.5-0.8 7-0.9 7.1-1.2 7.1-1.6 5.3-1.5 5.9-2 5.5-2.2 4.4-2.2 5.1-2.8 6.6-4.3 5.7-4.2 5.8-5 5.8-5.7 5.8-6.4 5.7-7.1 4.9-7.1 4.4-7.1 3.7-7.1 3.3-7.1 2.6-7.1 2.2-7.1 1.6-7.2 1-7.1 0.5-6.4 0.1-7.5-339.8 0 0 6.1 0.4 5.7 0.6 5.7 1.2 6.4 1.4 5.7 2 6.4 2.2 5.7 2.8 6.4 2.9 5.6 3.6 6.4 3.7 5.7 4.1 5.7 3.9 5 4.3 5 5.5 5.6 4.6 4.3 4.2 3.6 4.7 3.5 4.1 2.9 4.7 2.8 5.3 2.8 4.2 2 4.3 1.7 5.6 1.9 9.9 2.6 5.6 1.1 7.1 1.1 14.1 1.4 18.3 1z" fill="#31678e"/><path d="M349.1 456.7l26.6 0.6 28.2-0.1 24-0.8 9.9-0.7 8.5-0.7 7-0.9 7.1-1.2 5.6-1.2 5.7-1.5 5.6-1.8 5.7-2.2 4.8-2.3 5.2-2.8 6.6-4.3 5.6-4.2 5.7-5 5.1-5 5.7-6.4 5.6-7.1 4.4-6.4 4.3-7.1 3.8-7.1 3.2-7.1 2.7-7.1 2.4-7.8 1.5-7.1 1.1-7.2 0.6-7.1 0-7.5-332.8 0 0 6.1 0.3 5.7 0.8 6.4 1 5.7 1.5 6.4 1.8 5.7 2 5.7 2.4 5.6 2.8 5.7 3.1 5.7 3.9 6.4 3.9 5.7 4.3 5.7 4.2 5 4.7 4.9 4.4 4.3 4.1 3.6 4.5 3.5 4.1 2.9 4.5 2.8 3.8 2.1 4.8 2.4 4.6 1.9 5.3 1.9 9.9 2.6 5.6 1.2 7.1 1.1 14.1 1.4 16.9 1z" fill="#30698e"/><path d="M377.9 456.7l24.6-0.1 22.6-0.7 16.9-1.2 7.1-0.8 7.1-1 6.1-1.1 6.1-1.5 4.8-1.4 5.5-1.9 5.5-2.4 4.2-2.1 4.9-2.8 4.3-2.9 5.6-4.2 5.6-5 5-5 5-5.7 4.4-5.7 4.5-6.4 4-6.4 3.8-7.1 3-6.4 2.9-7.1 2.1-6.4 1.9-7.1 1.2-6.4 0.9-6.4 0.4-6.4 0.1-7.5-326.2 0 0 6.8 0.4 6.4 0.9 6.4 1.2 6.4 1.6 6.4 2.3 7.1 2.5 6.4 2.9 6.4 3.3 6.4 3.8 6.4 4.3 6.4 4.3 5.7 4.8 5.7 4.7 5 5.3 4.9 5.2 4.3 3.9 2.8 4.4 2.9 5 2.8 4.6 2.2 5.2 2.1 4.3 1.5 5.7 1.6 5.6 1.3 5.6 1 7.1 1 15.5 1.5 18.4 0.9 22.5 0.4z" fill="#2f6c8e"/><path d="M370.4 456l25.1 0.1 24-0.6 18.3-1.1 8.5-0.8 7-1 5.7-0.9 6.2-1.4 5.3-1.4 5.4-1.8 4.5-1.7 5.4-2.6 4.4-2.4 4.4-2.9 5.7-4.2 5-4.3 5-5 4.5-4.9 5-6.4 4.5-6.4 4.3-7.1 3.5-6.4 3.3-7.1 2.5-6.4 2.1-6.4 1.9-7.1 1.5-7.2 0.9-7.1 0.4-6.4 0.1-7.5-319.8 0 0.1 6.8 0.3 6.4 0.8 6.4 1.2 6.4 1.5 6.4 2 6.4 2.4 6.4 2.7 6.4 3.2 6.4 3.6 6.4 4.1 6.4 4.1 5.7 4 5 4.5 4.9 5 5 5 4.3 3.7 2.8 4.1 2.9 4.8 2.8 4.7 2.4 4.3 1.9 5.6 2 4.2 1.3 5.7 1.4 11.3 2 14.1 1.6 16.9 1 21.2 0.6z" fill="#2e6f8e"/><path d="M365.8 455.3l25.4 0.2 24-0.5 19.8-1 15.5-1.7 7.1-1.1 5.6-1.2 5.7-1.4 4.2-1.3 5.1-1.9 4.7-2.2 4.3-2.2 4.5-2.7 5-3.6 5.1-4.3 5.8-5.7 4.5-4.9 5-6.4 4.4-6.4 3.4-5.7 3.8-7.1 3-6.4 2.9-7.1 2.3-7.1 1.9-7.1 1.4-7.1 0.9-7.2 0.5-7.1 0-7.5-313.4 0 0 6.8 0.3 5.7 0.7 6.4 1.1 6.4 1.4 6.4 1.9 6.4 1.9 5.7 2.6 6.4 3 6.4 3 5.7 3.8 6.4 3.8 5.7 3.7 4.9 4.2 5 3.9 4.3 5.3 4.9 4.3 3.6 4 2.8 4.5 2.9 3.8 2.1 4.3 2 4.2 1.8 4.2 1.4 5.7 1.7 5.6 1.3 5.7 1 12.7 1.6 16.9 1.3 19.7 0.7z" fill="#2d718e"/><path d="M362.4 454.6l24.6 0.3 25.4-0.4 19.8-1 8.4-0.7 8.5-1 7.1-1.1 5.6-1.1 5.6-1.4 4.7-1.4 5.2-2 4.3-1.9 4.7-2.5 4.6-2.9 4.8-3.5 5-4.3 5-5 5-5.6 4.3-5.7 4.2-6.4 3.8-6.4 3.2-6.4 2.9-6.4 2.7-7.1 2.3-7.1 1.8-7.1 1.3-7.1 0.9-7.2 0.5-7.1 0-7.5-307.4 0 0 6.8 0.3 5.7 0.7 6.4 1 6.4 1.4 6.4 1.7 6.4 1.9 5.7 2.5 6.4 2.9 6.4 2.9 5.7 3.2 5.7 3.7 5.6 3.5 5 4 5 4.5 5 4.5 4.2 4.2 3.6 3.8 2.8 3.3 2.2 4.2 2.5 4.3 2.1 4.2 1.8 4.2 1.5 5.7 1.7 5.6 1.3 5.7 1.1 12.7 1.7 15.5 1.2 18.3 0.7z" fill="#2c738e"/><path d="M359.7 453.9l24.5 0.3 25.4-0.3 21.2-1 8.4-0.6 8.5-1 7-1 5.7-1.1 5.6-1.4 5.7-1.7 4.2-1.6 4.5-2 4.1-2.1 4.6-2.9 4.9-3.5 5-4.3 4.9-5 4.3-4.9 3.7-5 4.3-6.4 4.1-7.1 3.2-6.4 3.1-7.1 2.6-7.1 2.1-7.1 1.8-7.1 1.3-7.1 0.8-7.2 0.4-7.1 0.1-7.5-301.6 0 0.1 6.8 0.2 5.7 0.7 6.4 0.9 6.4 1.4 6.4 1.7 6.4 2 6.4 2.1 5.7 3.1 7.1 2.8 5.7 3.2 5.7 3.1 4.9 3.5 5 3.9 5 3.8 4.3 4.2 4.2 4.1 3.6 3.7 2.8 4.3 2.9 3.7 2.1 4.3 2.1 4.4 1.9 8.5 2.7 9.8 2.2 12.7 1.8 14.2 1.2 18.3 0.9z" fill="#2a768e"/><path d="M357.3 453.2l24.1 0.4 25.4-0.3 21.1-0.8 17-1.5 7-1 5.7-1 5.6-1.2 5.7-1.6 5.6-2 4.2-1.8 4.3-2.2 4.4-2.7 4.9-3.5 4.2-3.6 4.3-4.2 4.9-5.7 4.3-5.7 3.7-5.7 3.6-6.4 3.5-7.1 2.8-6.4 2.8-7.8 2.1-7.1 1.7-7.1 1.2-7.1 0.9-7.1 0.4-7.1 0.1-8.3-295.8 0 0 6.8 0.3 5.7 0.6 6.4 0.8 5.7 1.1 5.7 1.5 6.4 1.9 6.4 2.2 6.4 2.6 6.4 2.6 5.7 3 5.6 3.4 5.7 3.3 5 3.8 5 3.6 4.2 4.1 4.3 3.1 2.9 3.5 2.8 4 2.8 3.5 2.2 4 2.1 4 1.8 4.2 1.7 4.8 1.5 5.1 1.3 5.6 1.2 11.3 1.7 14.1 1.3 17 0.8z" fill="#2a788e"/><path d="M355.2 452.5l23.4 0.5 25.3-0.2 21.2-0.8 9.9-0.7 8.5-0.8 12.7-1.9 5.6-1.2 5.6-1.5 5.6-2 4.3-1.8 4.3-2.1 4.2-2.5 4.9-3.5 4.2-3.6 4.2-4.2 4.9-5.7 3.6-5 4.1-6.4 3.5-6.4 3.4-7.1 2.9-7.1 2.2-6.4 2.2-7.8 1.6-7.1 1.3-7.8 0.8-7.2 0.3-7.1 0.1-7.5-290.2 0 0 6.8 0.3 6.4 0.6 6.4 0.8 5.7 1.1 5.7 1.5 6.4 1.6 5.7 2.1 6.4 2.5 6.4 2.5 5.7 2.9 5.6 3.2 5.7 3.3 5 3.1 4.3 3.4 4.2 4 4.3 3 2.8 3.4 2.9 3.9 2.8 3.4 2.2 3.9 2.1 3.6 1.7 4.2 1.7 5 1.6 4.9 1.3 5.6 1.2 11.3 1.7 14.1 1.3 15.6 0.8z" fill="#297b8e"/><path d="M353.3 451.8l25.3 0.5 25.3-0.2 21.2-0.8 9.9-0.7 8.5-0.8 12.7-1.9 5.6-1.3 5.6-1.5 5.3-1.9 4.6-2 4.3-2.2 3.5-2.2 4.9-3.5 4-3.6 4.2-4.2 4.1-5 3.6-5 3.5-5.7 3.8-7.1 2.9-6.4 2.8-7.1 2.4-7.1 1.9-7.1 1.6-7.1 1.2-7.1 0.8-7.8 0.4-7.1 0-8.3-284.6 0 0 6.8 0.2 6.4 0.6 6.4 0.8 5.7 1.1 6.4 1.4 6.4 1.6 5.7 2.1 6.4 2.1 5.7 2.7 6.4 2.8 5.7 2.8 4.9 3.1 5 3.1 4.3 3.4 4.2 3.2 3.6 2.9 2.8 3.3 2.9 3.8 2.8 3.3 2.2 4.2 2.3 4.2 1.9 8 2.9 8.9 2.2 11.3 1.9 14.1 1.4 15.6 0.8z" fill="#277e8e"/><path d="M351.7 451l22.6 0.7 25.4-0.1 22.6-0.8 9.9-0.6 8.4-0.8 7.1-0.8 7-1.2 5.7-1.1 5.6-1.5 5.7-2 4.1-1.7 4.2-2.1 3.5-2.2 4.9-3.5 4.1-3.6 4.1-4.2 4.1-5 3.9-5.7 3-5 3-5.7 3.2-7.1 2.7-7.1 2.3-7.1 1.8-7.1 1.7-7.8 1.1-7.1 0.7-7.8 0.4-7.1 0-8.3-279.2 0 0 6.8 0.2 6.4 0.5 6.4 0.7 5.7 1.1 6.4 1.2 5.7 1.6 6.4 1.8 5.7 2.2 6.4 2 4.9 2.6 5.7 3 5.7 3 5 2.9 4.3 2.7 3.5 3.7 4.3 2.8 2.8 3.2 2.9 3.7 2.8 3.2 2.1 6.6 3.6 4.1 1.7 4.3 1.5 8.4 2.3 11.3 2 12.7 1.4 15.5 1z" fill="#27808e"/><path d="M375.5 451l22.8 0 19.8-0.6 16.9-1.1 14.1-1.6 5.6-1 5.7-1.2 5.6-1.5 4.3-1.4 4.2-1.8 4.2-2.1 3.2-1.9 4.1-2.8 4.3-3.6 3.5-3.5 3.7-4.3 3.6-5 3.5-5.6 3.1-5.7 2.6-5.7 2.5-6.4 2.2-6.4 2.1-7.1 1.6-7.1 1.3-7.1 1-7.1 0.6-7.2 0.3-7.1 0-7.5-274 0 0 7.5 0.3 7.1 0.6 7.2 0.9 6.4 1.2 7.1 1.5 6.4 1.7 6.4 2.1 6.4 2.1 5.6 2.8 6.4 2.9 5.7 2.9 5 3.3 5 3.3 4.2 3.1 3.6 3.7 3.5 3.5 2.9 3 2.1 3.4 2.2 4.1 2.1 3.8 1.6 4.3 1.5 4.2 1.3 5.6 1.4 11.3 1.9 14.1 1.5 17 0.9 19.7 0.5z" fill="#26828e"/><path d="M369.8 450.3l22.9 0.1 22.5-0.5 18.4-1.1 14.1-1.6 11.3-2 5.6-1.5 4.3-1.4 4.2-1.7 4.2-2 4.2-2.5 3.1-2.1 4.2-3.6 3.6-3.5 3.6-4.3 3.1-4.2 3.1-5 3-5.7 2.6-5.7 2.5-6.4 2.4-7.1 1.9-7.1 1.6-7.1 1.3-7.1 0.9-7.1 0.6-7.1 0.3-7.1 0-8.3-268.8 0 0 7.5 0.2 6.4 0.5 6.4 0.8 7.1 1 6.4 1.3 6.4 1.6 6.4 1.9 6.4 1.9 5.7 2.6 6.4 2.6 5.7 2.7 5 3.1 5 3.1 4.2 2.9 3.6 3.5 3.5 3.2 2.9 3.4 2.5 3.8 2.4 3.3 1.8 3.9 1.8 3.8 1.4 4.5 1.4 4.7 1.3 11.3 2 12.7 1.5 15.5 1 18.4 0.6z" fill="#25858e"/><path d="M365.9 449.6l22.5 0.2 22.6-0.4 18.3-0.9 15.6-1.6 7-1 5.7-1.1 5.6-1.4 4.2-1.4 4.3-1.6 4.2-2 4.1-2.3 3.1-2.1 4.4-3.6 3.5-3.5 3.6-4.3 3-4.2 3-5 2.6-5 2.8-6.4 2.2-5.7 2-6.4 1.9-7.1 1.6-7.1 1.3-7.8 0.9-7.1 0.6-7.8 0.2-7.1 0-8.3-263.6 0 0.2 13.9 0.4 7.1 0.7 6.4 1 6.4 1.2 6.4 1.4 6.4 1.8 6.4 1.8 5.7 2.2 5.7 2.5 5.7 2.5 5 2.9 4.9 3 4.3 2.8 3.6 3.3 3.5 3.2 2.9 2.7 2.1 3.1 2.1 3.7 2.2 3.2 1.5 4.2 1.7 8.5 2.6 9.9 2 12.7 1.6 15.5 1.2 18.4 0.7z" fill="#24878e"/><path d="M362.8 448.9l24.2 0.3 22.6-0.4 19.7-1 15.6-1.5 7-1.1 5.7-1.1 5.6-1.5 4.2-1.3 4.3-1.7 4.2-2 3.7-2.2 3.1-2.1 3.4-2.9 3.6-3.5 3.5-4.3 3-4.2 2.9-5 2.8-5.7 2.4-5.7 2-5.7 1.9-6.4 1.8-7.1 1.4-7.1 1.1-7.1 0.9-7.1 0.5-7.8 0.3-7.1 0-9-258.6 0 0.2 13.9 0.4 7.1 0.6 6.4 1 7.2 1.1 6.3 1.4 6.4 1.5 5.7 1.7 5.7 2 5.7 2.1 5 2.4 5 2.3 4.2 2.7 4.3 2.7 3.5 3.1 3.6 2.9 2.8 2.5 2.2 2.9 2.1 3.4 2.1 2.8 1.5 4.2 1.9 4.3 1.6 4.2 1.2 9.9 2.2 12.7 1.7 14.1 1.2 16.9 0.8z" fill="#238a8d"/><path d="M360.3 448.2l22.5 0.4 22.6-0.3 19.7-0.8 16.9-1.5 7.1-1 5.6-1 5.7-1.3 4.2-1.2 4.3-1.5 4.2-1.8 4.2-2.3 4-2.6 3.5-2.9 3.6-3.5 3.5-4.3 2.9-4.2 2.8-5 2.4-5 2.3-5.7 2-5.7 1.8-6.4 1.7-7.1 1.3-7.1 1.2-7.8 0.7-7.1 0.5-7.8 0.2-7.1 0-9-253.6 0 0.1 13.9 0.9 13.5 1.8 12.8 1.3 6.4 1.5 6.4 1.6 5.7 1.7 5 1.9 5 2.2 4.9 2.2 4.3 2.6 4.3 3.1 4.2 2.4 2.9 2.8 2.8 2.5 2.2 2.8 2.1 3.3 2.1 3.9 2.1 2.8 1.2 4.3 1.6 4.2 1.3 9.9 2.2 11.3 1.6 14.1 1.3 16.9 0.8z" fill="#228d8d"/><path d="M358 447.5l22 0.5 23.9-0.3 19.8-0.8 16.9-1.4 12.7-1.9 5.7-1.3 5.6-1.6 4.3-1.5 4.2-1.8 3.6-2 3.4-2.3 3.4-2.7 3.7-3.5 2.9-3.6 3-4.2 2.4-4.3 2.4-5 2.3-5.7 1.9-5.7 1.8-6.3 1.6-7.2 1.3-7.1 1-7.8 0.8-7.8 0.5-7.8 0.2-7.8-0.1-9-248.6 0 0.1 14.6 0.8 13.6 1.6 12.7 2.5 12.1 1.7 6.4 1.5 5 1.9 5 1.8 4.2 2.2 4.3 2 3.6 2.4 3.5 2.9 3.6 2.7 2.8 2.4 2.1 2.7 2.2 3.3 2.1 3.6 2 2.8 1.3 4.3 1.6 4.2 1.3 8.5 2 11.3 1.7 14.1 1.3 15.5 0.9z" fill="#218f8d"/><path d="M356 446.8l22.6 0.5 23.9-0.2 21.2-0.8 16.9-1.5 7.1-0.9 5.6-1 5.7-1.3 4.5-1.2 5.4-1.9 3.7-1.7 3.9-2.1 3.1-2.1 3.5-2.9 3.5-3.5 2.8-3.6 2.4-3.5 2.4-4.3 2.3-5 2.2-5.7 1.7-5.7 1.7-6.3 1.3-6.4 1.2-7.2 1-7.8 0.7-7.8 0.4-7.8 0.1-7.8 0-9.7-243.8 0 0.1 15.4 0.7 13.5 1.5 12.8 2.3 12 1.4 5.7 1.4 5 3.2 8.5 1.7 3.6 2.3 4.3 2.8 4.2 2.2 2.9 2.6 2.8 2.3 2.1 2.7 2.2 3.1 2.1 6.2 3.2 4.3 1.7 4.2 1.3 8.5 2 11.3 1.7 12.7 1.3 15.5 0.9z" fill="#20928c"/><path d="M354.2 446.1l21.5 0.6 24-0.1 21.2-0.8 16.9-1.3 12.7-1.8 5.7-1.1 5.6-1.4 4.2-1.4 4.9-2 3.6-1.8 3.8-2.4 3.6-2.9 2.9-2.8 2.9-3.6 2.9-4.2 2.6-5 1.9-4.3 1.8-5 1.7-5.6 1.6-6.4 1.2-6.4 1.1-7.1 0.8-7.9 0.6-7.8 0.4-8.5 0.1-17.5-239 0 0 15.4 0.6 13.5 1.3 12.8 2 12 1.3 5.7 1.4 5 3 8.5 1.6 3.6 2.2 4.3 1.8 2.8 2.6 3.5 2.5 2.9 2.2 2.1 2.6 2.2 3.1 2.1 5.9 3.1 7.1 2.7 8.5 2.1 11.2 1.9 12.7 1.3 14.2 0.9z" fill="#1f948c"/><path d="M378.6 446.1l21.1-0.1 18.4-0.7 15.5-1.1 14.1-1.7 5.6-1 5.7-1.2 4.2-1.2 4.2-1.5 3.4-1.5 3.7-1.9 3.6-2.3 2.6-2.2 3-2.8 2.9-3.6 2.4-3.5 2-3.6 2.2-5 1.6-4.2 1.5-5 1.3-5 1.1-5.7 1.1-6.4 0.8-7.1 0.7-7.1 0.7-15.6 0-17.5-234.2 0 0 16.8 0.6 14.9 1.3 13.5 1 6.4 1.2 6.4 1.4 5.7 1.5 5 1.5 4.2 1.8 4.3 1.9 3.6 2.2 3.5 2.7 3.6 2.6 2.8 2.4 2.1 2.8 2.2 3.5 2.1 3.3 1.7 7.1 2.7 4.2 1.2 5.7 1.2 11.3 1.8 14.1 1.4 16.9 0.9 19.8 0.5z" fill="#1f968b"/><path d="M371.8 445.4l22.3 0 19.7-0.5 17-1.1 14.1-1.5 11.3-2 5.6-1.5 4.2-1.4 4.3-1.8 3.2-1.6 3.3-2.1 2.8-2.2 3-2.8 2.4-2.9 2.4-3.5 2-3.6 1.7-3.5 1.9-5 1.5-5 1.2-5 1.1-5.6 0.9-6.4 1.4-14.2 0.6-15.7-0.1-18.9-229.4 0-0.1 18.2 0.5 14.9 1.2 13.5 1.7 11.4 1.1 5 1.3 5 1.4 4.2 1.7 4.3 1.7 3.5 2.1 3.6 2 2.8 2.4 2.9 2.2 2.1 2.6 2.1 3.1 2.2 3 1.6 2.8 1.4 4.3 1.6 4.2 1.3 5.7 1.4 11.2 1.9 12.7 1.3 15.6 1 16.9 0.6z" fill="#1f998a"/><path d="M367.7 444.6l20.7 0.2 21.2-0.4 18.3-1 15.6-1.6 11.2-1.9 5.7-1.4 4.2-1.3 4.3-1.7 3.1-1.5 3.6-2.1 2.8-2.2 3.1-2.8 2.4-2.9 2.5-3.5 1.6-2.9 1.6-3.5 1.6-4.3 1.3-4.2 1.4-5.7 1-5.7 0.9-6.4 1.1-13.5 0.5-16.4-0.2-20.3-224.6 0-0.2 18.9 0.4 14.9 0.8 12.8 1.5 11.4 1 5 1.2 5 1.5 4.9 1.4 3.6 1.6 3.5 1.6 2.9 1.9 2.8 2.3 2.9 2.1 2.1 2.8 2.3 2.8 2 2.8 1.6 2.8 1.3 4.3 1.7 4.2 1.3 4.2 1.1 9.9 1.8 12.7 1.6 14.1 1 17 0.6z" fill="#1e9c89"/><path d="M364.5 443.9l22.5 0.3 21.2-0.4 18.3-0.9 15.5-1.5 11.3-1.9 5.7-1.3 4.2-1.2 4.2-1.6 3.2-1.4 3.7-2.1 3-2.2 2.4-2.1 2.7-2.9 2.5-3.5 1.6-2.8 1.7-3.6 1.6-4.3 1.2-4.2 1.3-5.7 0.9-5.7 0.7-5.7 0.9-13.5 0.3-15.6-0.3-22.5-219.8 0-0.3 20.3 0.1 14.3 0.6 12 1.2 10.7 1.6 9.2 1.1 4.3 1.4 4.3 1.5 3.5 1.4 2.9 1.8 2.8 2 2.8 2.7 2.9 2.4 2.1 2.8 2.1 2.6 1.5 3 1.5 3.2 1.3 3.9 1.3 4.2 1.2 9.9 2 11.3 1.4 14.1 1.2 16.9 0.7z" fill="#1f9e89"/><path d="M361.8 443.2l21 0.4 22.6-0.3 19.7-0.9 15.5-1.5 7.1-1 5.6-1 5.7-1.3 4.2-1.3 4.2-1.6 3.1-1.4 3.7-2.2 2.9-2.1 2.3-2.1 2.5-2.9 2-2.8 2-3.6 1.5-3.5 1.5-4.3 1.1-4.2 0.9-5 1.3-10.7 0.6-12.8 0.1-14.9-0.4-24.6-215.2 0-0.4 22.5 0 13.5 0.4 12.1 0.9 9.9 1.5 9.2 1 4.3 1.2 3.6 1.3 3.5 1.4 2.9 1.7 2.8 1.6 2.1 1.8 2.2 2.2 2.1 2 1.6 2.8 2 2.8 1.5 4.3 1.9 7 2.3 9.9 2.1 11.3 1.5 14.1 1.3 15.5 0.7z" fill="#1fa188"/><path d="M359.4 442.5l22 0.5 21.1-0.2 19.8-0.9 16.9-1.5 12.7-1.9 5.7-1.2 4.2-1.2 4.2-1.5 4.3-1.9 2.8-1.6 2.9-2.1 2.4-2.1 2.6-2.9 2-2.8 1.6-2.8 1.5-3.6 1.4-4.3 0.9-3.5 0.9-5 1.1-9.9 0.5-12.1-0.1-13.5-0.7-28.9-210.4 0-0.8 38.8 0.2 11.4 0.7 9.2 1.3 8.6 1.8 7.1 1.4 3.5 1.3 2.9 1.7 2.8 1.5 2.1 1.9 2.2 2.2 2.1 2.4 1.9 2.7 1.7 5.8 2.7 7 2.3 8.5 1.9 11.3 1.6 12.7 1.2 15.5 0.9z" fill="#20a386"/><path d="M357.3 441.8l21.3 0.5 22.5-0.1 19.8-0.8 16.9-1.4 7.1-1 7-1.1 5.7-1.3 4.2-1.2 4.2-1.5 4.3-1.9 2.8-1.7 2.8-2 2.3-2.1 2.4-2.9 1.9-2.8 1.5-2.9 1.4-3.5 1-3.6 1-4.2 0.7-4.3 0.7-9.2 0.3-11.4-1.3-43.8-205.8 0-1.2 40.9 0 10 0.4 8.5 1 7.8 1.5 7.2 2.1 5.6 1.5 2.9 1.4 2.1 1.6 2.1 2 2.2 2.5 2.1 2.1 1.4 2.6 1.6 2.9 1.3 7 2.5 8.5 2.1 11.3 1.7 12.7 1.3 14.1 0.8z" fill="#21a585"/><path d="M355.5 441.1l20.2 0.6 22.6-0.1 21.2-0.8 16.9-1.3 12.7-1.8 5.6-1.1 5.7-1.4 4.2-1.4 4.3-1.8 2.8-1.6 3.1-2.1 2.4-2.1 2-2.2 2-2.8 1.5-2.8 1.2-2.9 1.1-3.5 1-4.3 0.6-4.3 0.7-8.5 0-10.7-1.6-36.2-0.3-10.4-201 0-0.3 11.1-1.5 32-0.2 9.2 0.2 7.1 0.8 7.8 1.2 6.4 1.8 5.7 1.4 2.9 1.3 2.1 1.5 2.1 2 2.2 2.4 2.1 1.9 1.4 2.6 1.6 2.9 1.3 2.8 1.2 4.2 1.4 8.5 2 9.9 1.6 12.7 1.3 14.1 1z" fill="#22a884"/><path d="M378.2 441.1l20.1-0.1 18.3-0.6 15.6-1.1 14.1-1.8 9.9-1.8 4.2-1.2 4.2-1.4 4.3-1.8 2.8-1.6 2.8-1.9 1.8-1.6 2-2.2 1.6-2.1 1.3-2.1 1.5-3.6 1-2.8 0.8-3.6 0.6-3.5 0.4-4.3 0.3-7.1-0.2-9.2-2.1-34.2-0.5-13.9-196.2 0-0.5 13.9-2.1 33.4-0.2 8.6 0.2 7.1 0.8 7.8 0.7 3.6 0.9 2.8 1 2.8 1.4 2.9 1.4 2.1 1.7 2.1 2.1 2.2 2.5 1.9 2.8 1.8 2.9 1.4 2.8 1.1 4.2 1.4 8.5 2.1 11.3 1.7 14.1 1.4 15.5 0.9 18.3 0.5z" fill="#25ab82"/><path d="M371.8 440.4l19.4 0.1 19.8-0.5 16.9-1 15.6-1.7 11.2-2 4.3-1 4.2-1.3 4.2-1.7 2.9-1.4 2.8-1.8 2.3-1.9 2.1-2.2 1.6-2.1 1.6-2.8 0.9-2.2 1-2.8 0.8-3.6 0.8-7.1 0.2-7.1-0.3-7.8-2.8-34.8-0.7-16.1-191.4 0-0.7 16.1-2.8 34.1-0.3 7.1 0 5.7 0.6 7.1 1.2 6.4 1.9 5 1.2 2.1 1.5 2.1 1.8 2.2 2.5 2.1 2 1.4 2.8 1.6 2.9 1.3 4.2 1.6 8.5 2.1 11.3 1.9 12.7 1.4 14.1 0.9 16.9 0.6z" fill="#26ad81"/><path d="M367.8 439.7l20.6 0.2 19.8-0.4 18.3-1 15.5-1.6 11.3-1.9 5.7-1.4 4.2-1.3 4.2-1.7 2.9-1.4 2.8-1.9 2.2-1.8 1.9-2.2 1.5-2.1 1.2-2.1 1.2-2.9 0.8-2.8 0.6-2.9 0.6-7.1 0-5.7-0.4-7.1-3.5-34.8-0.7-9.9-0.3-8.3-186.6 0-0.2 6.8-0.6 8.6-3.5 34.8-0.5 7.1-0.1 6.4 0.3 6.4 0.9 5.7 0.8 2.8 0.9 2.2 1 2.1 1.4 2.1 1.8 2.1 2.3 2.2 2 1.4 2.8 1.7 5.7 2.3 4.2 1.3 4.3 1.1 9.8 1.8 12.7 1.5 14.1 1 15.6 0.7z" fill="#29af7f"/><path d="M364.6 439l21 0.3 19.8-0.3 18.3-1 15.5-1.4 12.7-2 5.7-1.2 4.2-1.2 4.2-1.6 2.9-1.3 2.8-1.7 2.7-2.1 2-2.2 1.6-2.1 1.1-2.1 0.9-2.2 0.9-2.8 0.5-2.9 0.4-3.5 0.2-3.6-0.2-6.4-0.6-7.1-3.4-26.3-1.1-9.9-0.7-9.3-0.2-7.5-181.8 0-0.2 7.5-0.8 10-1.1 9.9-3.2 24.9-0.6 6.4-0.2 5.7 0.1 6.4 0.8 5 0.5 2.1 1 2.9 2 3.5 1.7 2.1 2.2 2.2 1.9 1.4 2.3 1.4 3.4 1.6 2.8 1.1 7 2 9.9 1.9 11.3 1.5 14.1 1.1 15.5 0.8z" fill="#2db27d"/><path d="M362 438.3l19.4 0.3 21.1-0.2 18.4-0.8 16.9-1.5 12.7-1.8 5.7-1.2 4.2-1.1 4.2-1.4 2.8-1.2 3.3-1.8 2.9-2.1 1.4-1.5 1.8-2.1 1.3-2.1 1.2-2.9 1.2-4.9 0.4-6.4-0.3-5.7-0.7-7.1-4-26.3-1.4-10.7-0.9-9.9-0.3-8.3-176.8 0-0.4 9-1 10.6-1.4 10.7-3.5 22.7-1.2 11.4 0 5.7 0.5 5 1 4.2 0.9 2.2 1.2 2.1 1.5 2.1 1.4 1.4 1.6 1.5 2.4 1.7 2.9 1.5 2.8 1.2 7 2.2 9.9 2 11.3 1.5 12.7 1.1 15.5 0.8z" fill="#2fb47c"/><path d="M359.6 437.5l20.4 0.5 21.1-0.2 19.8-0.8 16.9-1.5 12.7-1.8 5.7-1.2 4.2-1.1 4.2-1.5 2.8-1.2 3.4-1.8 2.7-2.2 1.4-1.4 1.6-2.1 1.2-2.1 0.9-2.2 0.6-2.1 0.4-2.8 0.2-6.4-0.4-5.7-0.8-6.4-4.5-24.9-1.8-11.4-1.1-10.6-0.4-9-171.8 0-0.5 9.7-1.2 11.3-1.7 10.7-4.1 22.8-1.4 10.6-0.2 5.7 0.4 4.3 0.9 4.2 1.6 3.6 1.5 2.1 1.2 1.4 1.6 1.5 2.4 1.7 2.9 1.5 2.8 1.2 7 2.2 8.5 1.8 11.3 1.6 12.7 1.2 14.1 0.8z" fill="#34b679"/><path d="M357.5 436.8l21.1 0.6 21.1-0.1 19.8-0.9 16.9-1.4 7.1-0.8 7-1.2 5.7-1.1 4.2-1.2 4.2-1.4 2.8-1.2 2.9-1.5 2.8-2.2 1.7-1.8 1.1-1.4 1.2-2.1 0.8-2.2 0.5-2.1 0.4-2.8 0.1-5.7-0.5-5-1-6.4-5.2-24.9-2-11.4-1.4-11.3-0.5-9.7-166.8 0-0.1 4.7-0.4 5.7-1.5 11.4-2 11.3-4.9 23.5-1.5 9.9-0.3 5 0.3 4.3 0.8 3.5 1.6 3.6 1.5 2.1 1.3 1.4 1.8 1.6 2 1.3 2.3 1.2 2.8 1.2 7 2.2 8.5 1.8 11.3 1.6 11.3 1.1 14.1 0.8z" fill="#38b977"/><path d="M355.6 436.1l20.1 0.6 22.6 0 19.8-0.8 16.9-1.3 12.7-1.7 5.6-1 5.7-1.4 4.2-1.3 4.2-1.7 2.9-1.6 2.4-1.9 2.5-2.8 1.2-2.1 0.8-2.2 0.8-4.2 0-5.7-0.7-5-1-5.7-5.8-24.1-2.5-12.1-1.7-12.1-0.4-5.7-0.2-4.7-161.6 0-0.2 4.7-0.4 5.7-1.7 12.1-2.5 12.1-5.6 23.4-1.6 9.2-0.4 4.3 0.2 4.3 0.7 3.5 1.1 2.9 0.9 1.4 1.7 2.1 3.2 2.6 4.3 2.2 2.8 1.1 4.2 1.3 8.5 1.9 9.9 1.5 11.3 1.2 14.1 1z" fill="#3bbb75"/><path d="M375.1 436.1l19 0 18.3-0.5 16.9-1.1 14.2-1.6 11.2-2 4.3-1 4.2-1.3 2.8-1.1 2.9-1.3 2.8-1.9 1.7-1.7 2-2.8 1.4-3.6 0.5-4.2-0.3-5-0.7-4.3-1.2-5.7-6.6-24.1-2.8-12.1-1.1-6.4-0.8-5.7-0.6-6.4-0.1-4.7-156.4 0-0.1 4.7-0.6 6.4-0.8 5.7-1.1 6.4-2.8 12.1-6.6 24.1-1.1 5-0.7 4.3-0.4 4.2 0.2 4.3 1 3.6 1.5 2.8 1.5 1.8 2.1 1.7 2.1 1.5 2.9 1.3 5.6 2 8.5 2 11.3 1.8 12.7 1.3 15.5 1 16.9 0.5z" fill="#40bd72"/><path d="M370.1 435.4l19.7 0.2 18.4-0.5 16.9-0.9 15.5-1.5 11.3-1.8 5.7-1.2 4.2-1.2 4.2-1.5 2.9-1.4 2.2-1.6 2-1.8 0.9-1 1.2-2.1 1-2.9 0.4-3.5-0.4-5-0.8-4.3-1.3-5-7.4-24.1-3.1-12.1-1.3-6.4-1.1-6.4-0.6-6.4-0.2-5.4-151 0-0.2 5.4-0.6 6.4-1.1 6.4-1.3 6.4-3.1 12.1-7.4 24.1-2 8.6-0.5 4.2 0.2 3.6 0.9 3.6 1.1 2.1 1 1.4 1.7 1.7 1.5 1.1 2.8 1.6 5.6 2.2 8.5 2.1 11.3 1.9 12.7 1.3 14.1 1 15.5 0.6z" fill="#46c06f"/><path d="M366.5 434.7l19.1 0.3 19.8-0.4 18.3-0.9 15.5-1.5 12.7-1.9 5.7-1.2 4.2-1.2 4.2-1.5 2.9-1.4 2.4-1.7 1.5-1.4 1.1-1.4 0.8-1.4 0.9-2.9 0.3-3.5-0.4-4.3-1-4.3-1.2-4.2-8.3-24.2-2.2-7.1-1.7-6.4-1.5-6.4-1.1-6.4-0.7-6.4-0.2-5.4-145.4 0-0.2 5.4-0.7 6.4-1.1 6.4-1.7 7.1-3.7 12.8-8.1 23.6-2.1 7.7-0.5 3.5-0.2 3.6 0.5 2.8 1.1 2.9 1 1.4 1.6 1.8 1.4 1.1 2.9 1.6 5.6 2.2 7.1 1.8 9.8 1.8 12.7 1.5 14.1 1 14.2 0.7z" fill="#4ac16d"/><path d="M363.6 434l19.2 0.3 19.7-0.2 18.4-0.8 15.5-1.4 14.1-2 5.7-1.1 4.2-1 4.2-1.4 2.8-1.2 2.9-1.7 1.8-1.6 1.2-1.4 0.8-1.4 1-2.9 0.1-3.5-0.4-3.6-0.9-3.5-1.4-4.3-9.7-25.6-2.2-6.4-1.9-6.4-1.8-7.1-1.1-6.4-0.8-6.4-0.2-5.4-139.8 0-0.2 5.4-0.8 6.4-1.1 6.4-1.8 7.1-3.8 12.1-9.2 23.9-1.5 4.5-1.2 4.3-0.7 3.5-0.2 2.9 0.4 2.8 0.8 2.2 0.8 1.4 1.2 1.4 1.6 1.4 1.6 1.1 2.9 1.4 2.8 1.1 7 1.9 9.9 1.8 11.3 1.5 14.1 1.2 14.1 0.7z" fill="#50c46a"/><path d="M361 433.3l19 0.4 19.7-0.1 18.4-0.8 16.9-1.4 14.1-1.8 5.6-1.1 5.7-1.3 4.2-1.4 2.8-1.2 2.9-1.6 1.4-1.3 1.1-1.2 0.8-1.4 0.8-2.2 0.2-1.4 0-2.1-0.5-3.6-1-3.6-1.4-3.9-10.3-24.5-2.7-7.1-2.2-6.4-2-7.1-1.5-7.1-0.9-6.4-0.3-6.1-133.8 0-0.2 4.7-0.7 5.7-1 5.7-1.6 6.4-2.1 7.1-2.8 7.8-3.5 8.5-6.6 15.3-2.8 7.4-1 3.6-0.5 3.6 0.1 2.8 0.6 2.2 0.7 1.4 1 1.4 1.5 1.4 1.8 1.3 4.3 1.9 7 2.1 9.9 1.9 11.3 1.5 12.7 1.1 14.1 0.8z" fill="#56c667"/><path d="M358.8 432.6l19.8 0.5 19.7-0.1 18.3-0.7 17-1.3 14.1-1.8 5.6-1 5.7-1.2 4.2-1.2 4.2-1.7 2.9-1.7 1.3-1.2 1.5-2.1 0.6-1.5 0.3-1.4 0-2.8-0.7-3.6-1.2-3.5-1.8-4.5-8-16.9-3.8-8.5-4.4-11.4-2.4-7.8-1.5-6.4-1.1-7.1-0.3-6.1-127.8 0-0.2 4.7-0.8 6.4-1.1 5.7-1.8 6.4-2.6 7.8-3.2 7.8-3.8 8.5-8 16.9-2.1 5.2-1.1 3.5-0.5 2.9 0 2.8 0.5 2.2 0.8 1.4 1 1.3 1.4 1.3 1.4 0.9 4.3 2 7 2 8.5 1.7 11.3 1.5 12.7 1.2 12.7 0.8z" fill="#5ac864"/><path d="M356.8 431.9l18.9 0.6 21.2-0.1 19.7-0.7 17-1.4 15.5-1.9 5.6-1.1 5.7-1.3 4.2-1.3 2.8-1.1 2.9-1.7 1.4-1.4 1.3-2.1 0.6-2.2-0.1-2.8-0.7-2.9-1.1-3-1.4-3.1-13.3-25.9-3.2-7.1-2.5-6.4-2.4-7.1-1.8-7.1-1.2-7.1-0.3-6.1-121.4 0-0.2 5.4-1 6.4-1.5 6.4-2 6.4-2.6 7.1-4.1 9.2-4.3 8.6-7.6 14.4-2.8 6-1.1 3-0.7 2.9-0.1 2.1 0.3 2.1 0.6 1.5 1 1.4 1.4 1.4 1.4 0.9 4.3 1.9 5.6 1.7 8.5 1.7 11.3 1.6 12.7 1.3 12.7 0.8z" fill="#60ca60"/><path d="M377 431.9l18.5-0.1 16.9-0.5 15.5-1 14.1-1.5 12.7-2.1 8.5-2 2.8-1 2.9-1.4 1.4-0.9 1.5-1.6 1-2.2 0.3-2.1-0.4-2.8-1-3.2-2.8-5.6-9.3-16.1-5.4-10-4-8.5-3.2-7.8-2.1-6.4-1.5-6.4-0.9-5.7-0.3-5.4-114.6 0-0.3 5.4-1 6.4-1.7 6.4-2.1 6.4-3.5 8.5-4.2 8.6-4.6 8.5-9.3 16.1-2.8 5.6-1 3.2-0.4 2.1 0.1 2.1 0.8 2.2 1 1.4 0.9 0.9 1.4 0.9 2.9 1.4 2.8 1 4.2 1.1 9.9 2 11.3 1.5 14.1 1.3 14.1 0.8 15.5 0.4z" fill="#67cc5c"/><path d="M371.2 431.1l18.6 0.2 17-0.4 15.5-0.8 15.5-1.4 14.1-2 9.9-2.1 2.8-0.9 2.8-1.1 2.4-1.4 1.5-1.4 0.9-1.4 0.5-2.2-0.3-2.8-1.1-2.9-2.4-4.6-10.6-16.7-5.5-9.2-4.8-9.3-3.8-8.5-2.3-6.4-1.8-6.4-1.1-6.4-0.3-5.4-107.6 0-0.3 5.4-1.1 6.4-1.8 6.4-2.5 7.1-3.9 8.5-4.5 8.6-5.1 8.5-9.5 15.1-3.2 5.5-1.3 2.9-0.6 2.1-0.2 2.1 0.5 2.2 0.9 1.4 1 1.1 1.4 1 2.9 1.3 5.6 1.7 8.5 1.8 11.3 1.6 12.7 1.3 14.1 1 14.1 0.5z" fill="#6ccd5a"/><path d="M367.3 430.4l18.3 0.3 18.3-0.3 17-0.8 15.5-1.4 14.1-1.9 5.7-1 5.6-1.3 4.2-1.3 2.9-1.3 1.4-1 1.1-1.3 0.7-1.5 0.2-2.1-0.6-2.5-1.4-3-2.9-4.4-10.4-15-5.5-8.5-5.8-9.9-4.2-8.6-2.9-7.1-2-6.4-1.3-6.4-0.4-4.2 0-1.9-100 0 0 1.9-0.4 4.2-1.3 6.4-2.3 7.1-2.9 7.1-3.9 7.9-5.8 9.9-5.5 8.5-10.4 15-2.9 4.4-1 2-0.7 2.1-0.3 2.1 0.2 1.4 0.7 1.5 1.1 1.3 1.4 1 1.5 0.7 5.6 1.9 8.5 1.8 9.8 1.6 12.7 1.4 14.2 1 14.1 0.6z" fill="#73d056"/><path d="M364.2 429.7l18.6 0.4 18.3-0.2 17-0.8 15.5-1.2 15.5-1.9 11.3-2.2 4.2-1.1 2.8-1 2.1-1.2 1.5-1.4 0.4-0.7 0.5-1.5 0-1.4-0.6-2.1-1-2.1-2.9-4-11.6-15.2-6-8.6-6.8-10.6-4.6-8.6-3.2-7.1-2.5-7.1-1.4-6.4-0.4-3.5-0.1-2.6-91.8 0-0.1 2.6-0.4 3.5-1.6 7.1-2.6 7.1-3.2 7.1-5.2 9.3-5.9 9.2-6 8.6-11.6 15.2-2.9 4-1 2.1-0.4 1.4-0.2 1.4 0.2 1.4 0.7 1.5 0.7 0.8 1.4 1.1 1.5 0.7 5.6 1.8 7.1 1.5 9.8 1.6 12.7 1.4 12.7 1 12.7 0.7z" fill="#7ad151"/><path d="M361.5 429l18.5 0.4 18.3-0.1 16.9-0.6 15.6-1.2 15.5-1.7 12.7-2.2 5.6-1.4 2.8-1 1.5-0.6 1.7-1.5 0.8-1.5 0.2-1.4-0.3-1.4-1-2.3-2.9-3.8-12.2-14.5-7.1-9.3-7.9-11.3-5.5-9.3-3.5-7.1-2.7-7.1-1.6-6.4-0.5-4.2 0-1.9-83 0 0 1.9-0.5 4.2-0.8 3.6-1 3.5-2.8 7.1-4.4 8.6-5.7 9.2-7 10-8.3 10.6-10.5 12.4-2 2.5-1.7 2.9-0.4 1.4-0.1 1.4 0.2 0.7 0.8 1.5 1.7 1.5 4.3 1.6 7 1.7 9.9 1.7 11.3 1.4 12.7 1.1 14.1 0.9z" fill="#7fd34e"/><path d="M359.2 428.3l17.9 0.5 18.4 0 16.9-0.6 16.9-1.1 17-1.9 7-1.1 7.1-1.3 4.2-1.1 2.8-0.9 1.5-0.6 1.3-1.1 0.6-0.7 0.5-1.5-0.2-1.4-0.8-2-1.4-1.9-12.3-13.2-9.7-11.3-8.7-11.4-6.6-9.9-4.4-7.9-3.1-7.1-1.2-3.5-0.9-3.6-0.6-3.5 0-2.6-73 0 0 2.6-0.6 3.5-0.9 3.6-1.4 4.2-3.2 7.1-4.9 8.6-7.4 10.6-8.3 10.7-8.5 9.9-12.3 13.2-1.4 1.9-0.6 1.3-0.4 1.4 0 0.7 0.5 1.5 0.6 0.7 1.3 1.1 4.3 1.5 7 1.6 9.9 1.7 11.3 1.4 12.7 1.1 12.7 0.8z" fill="#86d549"/><path d="M357.1 427.6l17.2 0.6 18.4 0 16.9-0.5 16.9-1 17-1.8 8.4-1.2 7.1-1.2 5.6-1.2 2.8-0.9 1.5-0.6 1.5-1.4 0.5-0.8 0.1-1.4-0.7-1.8-1.4-1.9-12.4-11.9-10.7-11.4-10.1-12.1-4.4-5.7-4-5.6-5.4-8.6-3.5-7.1-1.3-3.5-0.9-3.6-0.6-3.5 0-1.9-61.4 0-0.1 2.6-0.6 3.5-1.1 3.6-1.3 3.5-1.7 3.6-2.3 4.2-6 9.3-8.1 10.6-10.3 12.1-10.1 10.7-11.7 11.2-1.4 1.9-0.5 1.1-0.2 1.4 0.1 0.7 1.1 1.5 0.9 0.7 1.5 0.6 4.2 1.2 9.9 1.9 12.7 1.8 12.7 1.3 14.1 0.9z" fill="#8ed645"/><path d="M376.7 427.6l16 0 15.5-0.4 14.1-0.8 14.1-1.2 14.1-1.8 12.7-2.3 2.8-0.7 2.9-0.9 1.2-1.1 0.5-0.8 0.1-1.4-0.2-0.7-1.6-2.2-11.6-9.9-10.4-9.9-6.8-7.1-5.8-6.4-5.5-6.4-5.8-7.1-6.7-9.3-2.7-4.2-1.9-3.6-1.6-3.5-0.9-2.9-0.8-3.5 0-1.9-47 0 0 1.9-0.8 3.5-1.2 3.6-1.7 3.5-2.4 4.3-2.7 4.2-6.9 9.3-9 10.6-11.1 12.1-5.6 5.7-5.9 5.7-5.6 5-7.6 6.3-1.4 1.8-0.4 1.1 0.1 1.4 0.5 0.8 1.2 1.1 1.5 0.5 7 1.7 9.9 1.7 12.7 1.6 14.1 1.3 14.1 0.8 15.5 0.5z" fill="#93d741"/><path d="M370.8 426.9l16.2 0.1 15.5-0.2 14.1-0.6 14.2-1.1 16.9-1.9 14.1-2.3 4.2-0.9 2.9-0.9 0.9-0.7 0.5-0.8 0.1-1.4-0.3-0.7-1.2-1.6-7.7-5.5-4.5-3.6-5.8-4.9-5.5-5-13.7-13.5-15.4-16.4-8.7-9.9-6-7.8-1.7-2.9-1.4-2.8-0.8-2.1 0-1.9-25.6 0 0 1.9-0.8 2.1-1.8 3.5-1.8 2.9-2.6 3.5-4.1 5-11.4 12.8-12.9 13.5-12.3 12.1-5.5 5-5.8 4.9-4.5 3.6-7.7 5.5-1.2 1.6-0.3 0.7 0.1 1.4 0.5 0.8 0.9 0.7 1.5 0.5 5.6 1.3 9.9 1.7 12.7 1.6 12.7 1.3 12.7 0.8 14.1 0.6z" fill="#9bd93c"/><path d="M366.9 426.2l15.9 0.2 15.5-0.1 14.1-0.5 14.1-0.9 17-1.8 15.5-2.2 8.4-1.6 1.5-0.4 1.1-1.3 0.1-1.4-1.2-1.7-6.5-4-4.2-2.8-10.1-7.8-11.4-10-22.9-21-9.9-8.4-5.6-4.1-4.2-2.5-4.3-1.8-2.8-0.7-1.4-0.1-1.4 0-2.8 0.4-4.3 1.5-4.2 2.3-5.6 3.9-9.9 8.3-23.5 21.5-11.3 10-5.3 4.2-5.7 4.3-4.2 2.8-6.5 4-1.2 1.7 0.1 1.4 1.1 1.3 5.7 1.3 9.9 1.6 11.3 1.5 12.7 1.3 12.7 0.9 12.7 0.6z" fill="#a2da37"/><path d="M363.8 425.5l14.8 0.3 16.9-0.1 14.1-0.4 14.1-0.8 15.5-1.5 17-2.2 11.2-1.8 1.5-0.4 0.8-1 0.1-1.4-0.9-1.3-4.7-2.2-5.1-2.9-4.4-2.8-5-3.6-10-7.8-23.1-19-9.8-7.3-5.7-3.4-5.6-2.7-2.8-1-2.9-0.7-4.2-0.5-4.2 0.2-2.8 0.6-2.9 0.8-5.6 2.5-5.7 3.3-5.6 3.9-5.6 4.3-23.1 19-10 7.8-5 3.6-4.4 2.8-5.1 2.9-4.7 2.2-0.9 1.3 0.1 1.4 0.8 1 4.3 0.9 9.9 1.5 12.7 1.7 11.2 1.2 11.3 0.9 12.7 0.6z" fill="#a8db34"/><path d="M361.2 424.7l14.5 0.5 15.5 0 14.2-0.3 14.1-0.7 14.1-1.2 15.5-1.8 18.3-2.6 1.5-0.3 0.5-0.7 0.1-1.4-0.6-0.9-3.6-1.2-4.8-2.1-5.2-2.9-4.5-2.8-9.2-6.4-23.5-17.7-9.9-6.6-5.7-3.1-5.6-2.4-5.7-1.6-2.8-0.4-2.8-0.2-2.8 0-2.8 0.3-5.7 1.4-5.6 2.2-5.7 3-5.6 3.5-5.7 3.9-21.6 16.2-10 7.2-8.1 4.9-5.8 2.9-5.3 1.9-0.6 0.9 0.1 1.4 0.5 0.7 12.7 2 12.7 1.6 11.3 1.2 11.3 1 11.3 0.6z" fill="#b0dd2f"/><path d="M358.8 424l14.1 0.5 15.5 0.1 14.1-0.2 12.7-0.6 14.1-1 12.7-1.3 24.9-3.1 2-0.5 0.2-0.3 0-1.4-0.2-0.4-6-1.7-3.6-1.4-4.4-2.2-6.2-3.5-8.7-5.7-20.5-14.1-5.7-3.6-5.6-3.3-5.7-2.7-5.6-2.2-5.7-1.4-4.2-0.5-5.6 0.1-5.7 1-5.6 1.8-5.7 2.5-5.6 3-5.6 3.5-24.4 16.6-10.1 6.4-3.8 2.1-4.4 2.2-3.6 1.4-6 1.7-0.2 0.4 0 1.4 0.2 0.3 2 0.5 30.5 3.7 12.7 1.2 12.7 0.7z" fill="#b8de29"/><path d="M356.7 423.3l13.4 0.5 14.1 0.2 14.1-0.1 14.1-0.5 12.7-0.9 12.7-1.1 25.2-3 4.3-0.8 0.1-1.4-5.5-1.4-4.1-1.4-4.8-2.2-5.3-2.8-8.4-5-19.8-12.5-5.7-3.3-5.6-3-5.7-2.5-5.6-2-5.7-1.3-4.2-0.4-5.6 0.1-5.7 0.9-5.6 1.6-5.7 2.3-5.6 2.7-5.6 3.2-25 15.6-8.7 5-4.2 2.2-4.5 1.8-2.9 1-5.5 1.4 0.1 1.4 4.3 0.8 28 3.3 21.2 1.6z" fill="#bddf26"/><path d="M374.2 423.3l24.1 0 21.2-1 21.1-1.8 17.9-2.1 3.4-0.8 0-1.4-1.5-0.7-6.3-2.1-7.6-3.6-7.7-4.2-20.7-12-9.9-5.1-5.7-2.3-5.6-1.9-5.7-1.1-5.6-0.5-5.6 0.3-5.7 1-5.6 1.7-5.7 2.2-5.6 2.7-5.7 3-20.7 12-7.7 4.2-7.6 3.6-6.3 2.1-1.5 0.7 0 1.4 3.4 0.8 17.9 2.1 21.1 1.8 11.3 0.7 11.3 0.3z" fill="#c5e021"/><path d="M369.2 422.6l24.9 0.1 21.1-0.7 11.3-0.8 11.3-1 16-1.8 3.1-0.8 0.1-1.4-1.2-0.7-5.8-2.1-6.2-2.9-25.7-13.5-9.9-4.8-5.7-2.2-5.6-1.8-5.7-1.1-5.6-0.5-4.2 0.2-5.7 0.8-5.6 1.5-5.7 2-5.6 2.4-5.6 2.7-27.2 14.3-6.2 2.9-5.8 2.1-1.2 0.7 0.1 1.4 3.1 0.8 8.9 1 11.3 1.2 11.3 0.9 21.2 1.1z" fill="#cde11d"/><path d="M365.6 421.9l11.5 0.3 12.7 0 21.2-0.6 11.3-0.7 12.7-1 13.9-1.5 3.1-0.8 0-1.4-1-0.7-4.7-1.8-5.5-2.5-21.3-10.4-9.9-4.4-7.1-2.8-5.6-1.7-5.7-1.2-4.2-0.4-4.2 0-5.7 0.7-5.6 1.3-5.6 1.8-11.3 4.8-24.1 11.6-6.3 2.9-5.4 2.1-1 0.7 0 1.4 3.1 0.8 22.4 2.2 21.1 1.3z" fill="#d2e21b"/><path d="M362.6 421.2l10.3 0.3 12.7 0.1 11.3-0.1 11.3-0.3 11.3-0.7 11.3-0.8 12.9-1.3 3.2-0.8 0.1-1.4-1-0.7-7-2.8-19.5-8.8-9.9-4.2-7.1-2.6-5.6-1.8-5.7-1.2-4.2-0.4-4.2 0-5.7 0.7-4.2 0.9-5.6 1.8-7.1 2.6-7 3-20.8 9.3-8.6 3.5-1 0.7 0.1 1.4 3.2 0.8 18.6 1.7 16.9 1.1z" fill="#dae319"/><path d="M360.1 420.5l19.9 0.5 14.1-0.1 9.8-0.2 11.3-0.5 11.3-0.8 11.6-1 3.4-0.8 0.1-1.4-1-0.7-29.6-12-8.5-3.1-5.6-1.8-5.7-1.3-4.2-0.5-4.2 0-4.2 0.5-4.3 0.9-4.2 1.3-8.5 3-9.9 3.8-22.5 9.2-1 0.7 0.1 1.4 3.4 0.8 14.4 1.2 12.7 0.8z" fill="#e2e418"/><path d="M357.8 419.8l19.3 0.6 24-0.2 11.3-0.4 11.3-0.8 8.2-0.6 3.8-0.8 0-1.4-0.9-0.7-15.3-5.8-24-8.4-4.3-1.1-4.2-0.5-2.8-0.1-2.8 0.2-2.8 0.4-4.3 1.1-21.1 7.4-18.2 6.8-0.9 0.7 0 1.4 0.7 0.2 3.1 0.6 2.6 0.2 16.9 1.2z" fill="#e7e419"/><path d="M378.1 419.8l16 0 12.7-0.4 17.9-1 4.4-0.8 0.1-1.4-1.3-0.8-25.4-8.4-9.8-3.6-2.9-0.7-4.2-0.5-4.2 0.2-4.3 1-9.8 3.6-24 7.9-1.7 0.6-1 0.7 0.1 1.4 4.4 0.8 16.5 1 15.5 0.4z" fill="#efe51c"/><path d="M370.6 419.1l17.8 0.1 12.7-0.2 14.9-0.6 5.5-0.8 0.1-1.4-1.1-0.7-19.4-5.6-4.2-1.7-5.7-2.6-2.8-0.7-2.8-0.3-4.2 0.3-2.8 0.7-8.5 3.8-20.8 6.1-1.1 0.7 0.1 1.4 3.4 0.5 5.7 0.5 12.7 0.4z" fill="#f6e620"/><path d="M366.6 418.4l10.5 0.2 18.4-0.1 7.7-0.1 8.6-0.8 0.1-1.4-1.5-0.7-9.3-2.2-4.2-1.3-2.8-1.6-2.2-2-1.2-0.7-0.9-0.4-2.8-0.4-4.2 0-2.8 0.4-2.1 1.1-2.2 2-2.8 1.6-4.2 1.3-9.3 2.2-1.5 0.7 0.1 1.4 7.9 0.7z" fill="#fbe723"/><path fill-rule="evenodd" fill="#fff" d="M98.7 335.1H671.1V481.7H98.7zM102.7 339.1H667.1V477.7H102.7z"/></g>
<rect x="75.6" y="333.4" width="620.25" height="150.9" fill="none" stroke="#000" stroke-width="1.11"/>
<text x="103.1" y="505.7" text-anchor="middle">−10.0</text>
<text x="173.6" y="505.7" text-anchor="middle">−7.5</text>
<text x="244.1" y="505.7" text-anchor="middle">−5.0</text>
<text x="314.6" y="505.7" text-anchor="middle">−2.5</text>
<text x="385.1" y="505.7" text-anchor="middle">0.0</text>
<text x="455.6" y="505.7" text-anchor="middle">2.5</text>
<text x="526.1" y="505.7" text-anchor="middle">5.0</text>
<text x="596.6" y="505.7" text-anchor="middle">7.5</text>
<text x="667.1" y="505.7" text-anchor="middle">10.0</text>
<text x="65.2" y="367.5" text-anchor="end">2</text>
<text x="65.2" y="423.9" text-anchor="end">0</text>
<text x="65.2" y="480.5" text-anchor="end">−2</text>
<text x="385.6" y="524.6" text-anchor="middle">x</text>
<text transform="translate(36.2 410.05) rotate(-90)" text-anchor="middle">y</text>
<text x="385.1" y="324.4" text-anchor="middle" font-size="16.67">z = 0.0</text>
<rect x="734.5" y="295.5" width="11" height="226.7" fill="url(#gv)" stroke="#000" stroke-width="1.11"/>
<text x="755.3" y="527.4">300.0</text>
<text x="755.3" y="494.07">300.2</text>
<text x="755.3" y="460.74">300.4</text>
<text x="755.3" y="427.41">300.6</text>
<text x="755.3" y="394.08">300.8</text>
<text x="755.3" y="360.75">301.0</text>
<text x="755.3" y="327.42">301.2</text>
<path d="M103.6 484.3v5.3M174.1 484.3v5.3M244.6 484.3v5.3M315.1 484.3v5.3M385.6 484.3v5.3M456.1 484.3v5.3M526.6 484.3v5.3M597.1 484.3v5.3M667.6 484.3v5.3M75.6 362.3h-5.3M75.6 418.7h-5.3M75.6 475.3h-5.3M745.5 522.2h5.3M745.5 488.87h5.3M745.5 455.54h5.3M745.5 422.21h5.3M745.5 388.88h5.3M745.5 355.55h5.3M745.5 322.22h5.3" stroke="#000" stroke-width="1.11" fill="none"/>
<g><rect x="101.2" y="609.4" width="567.4" height="141.7" fill="#440154"/><path d="M280.3 748.5l34.8 0.3 52.2 0.2 70.5-0.1 42.3-0.3 56.5-1 95.9-2.9 36.1-0.4 0-134.9-567.4 0 0 134.9 37.5 0.4 88.9 2.7 52.2 1.1z" fill="#46075a"/><path d="M296 747.8l40.2 0.4 66.3 0.1 48-0.2 33.9-0.5 26.8-0.9 28.2-1.3 91.7-5.6 19.8-0.7 17.7-0.2 0-129.5-567.4 0 0 129.5 17.7 0.2 18.4 0.7 97.9 5.9 30.5 1.3 29.6 0.8z" fill="#460a5d"/><path d="M303.1 747.1l41.6 0.5 69.1 0 40.9-0.3 31.1-0.8 26.8-1.3 26.8-1.9 25.4-2.2 48-4.7 18.3-1.5 19.8-1.1 17.7-0.3 0-124.1-567.4 0 0 124.1 19.1 0.4 21.2 1.2 18.3 1.6 53.7 5.2 33.8 2.7 28.2 1.6 26.9 0.9z" fill="#470e61"/><path d="M307.3 746.4l43 0.6 67.8 0 38.1-0.5 29.6-1 26.8-1.7 26.8-2.5 25.4-3 49.4-6.5 18.3-2 18.4-1.4 17.7-0.4 0-118.6-567.4 0 0 118.6 9.3 0.1 9.8 0.4 9.9 0.7 11.3 1 18.3 2.1 53.3 7 18.8 2.1 16.8 1.7 28.3 2 29.6 1.3z" fill="#471365"/><path d="M371.2 746.4l46.9-0.1 33.8-0.4 24-0.8 22.6-1.5 24-2.3 24-3.1 22.5-3.5 43.8-7.2 18.3-2.6 9.9-1.1 9.9-0.8 8.4-0.4 9.3-0.1 0-113.1-567.4 0 0 113.1 9.3 0.1 9.8 0.5 9.9 0.8 9.9 1.1 18.3 2.7 41 6.8 21.7 3.4 23.4 3 21.2 2.2 21.1 1.6 21.2 0.9 25.4 0.6 36.7 0.2z" fill="#481668"/><path d="M355 745.7l51.8 0 39.5-0.4 26.8-1 22.6-1.6 23.6-2.7 25.7-3.9 24-4.4 43.8-8.8 18.3-3.2 9.9-1.3 9.9-1 8.4-0.4 9.3-0.2 0-107.4-567.4 0 0 107.4 9.3 0.2 9.8 0.5 9.9 1.1 9.9 1.3 18.3 3.3 39.5 8 20.5 3.8 21.9 3.6 21.8 2.8 20.5 2 19.8 1.2 22.5 0.7 29.7 0.4z" fill="#481a6c"/><path d="M348.1 745l53 0.1 42.4-0.5 26.8-1 12.7-0.9 11.3-1 12.7-1.5 12.7-1.9 12.6-2.1 12.7-2.4 24.2-5.2 45-10.7 18.3-3.7 9.9-1.5 8.5-1 8.4-0.6 9.3-0.1 0-101.6-567.4 0 0 101.6 9.3 0.1 9.8 0.8 9.9 1.2 9.9 1.6 16.9 3.5 40.5 9.7 19.2 4.3 22 4.2 19.9 3.2 19.8 2.3 19.7 1.6 21.2 0.9 28.2 0.6z" fill="#481d6f"/><path d="M344 744.3l52.9 0.2 45.1-0.5 15.6-0.6 12.7-0.7 12.7-1 11.3-1.2 12.7-1.7 12.7-2.1 12.5-2.4 13.1-2.8 11.9-2.9 13.7-3.5 44.7-12.4 16.9-4 9.9-1.8 8.5-1.1 8.4-0.7 9.3-0.2 0-95.5-567.4 0 0 95.5 9.3 0.2 8.4 0.7 9.9 1.4 9.9 1.8 8.4 1.9 9.9 2.5 39.2 10.9 19.3 5 22.1 5 19.3 3.6 18.6 2.6 19.8 1.9 21.2 1.2 26.8 0.7z" fill="#482071"/><path d="M341.2 743.6l24.7 0.2 29.6 0.1 25.4-0.2 21.1-0.4 15.6-0.6 12.7-0.8 12.7-1.2 11.9-1.4 12.1-1.9 12.9-2.4 13.1-2.8 14.3-3.6 12.8-3.5 12-3.6 43.5-13.8 9.9-2.8 8.4-2.2 9.9-2 8.5-1.2 8.5-0.7 7.8-0.2 0-89.2-567.4 0 0 89.2 9.3 0.3 8.4 0.8 9.9 1.5 9.9 2.2 16.9 4.7 39.8 12.7 19.3 5.7 21.3 5.5 19.8 4.2 19.1 3.1 19 2.1 21.2 1.4 25.4 0.7z" fill="#482475"/><path d="M339.1 742.8l25.3 0.4 29.7 0 26.8-0.2 21.1-0.4 15.6-0.7 12.7-0.9 12.7-1.2 12.7-1.8 13-2.3 13.3-2.8 13.2-3.3 13.5-3.8 11.4-3.6 12.7-4.3 44.2-15.9 8.5-2.8 8.4-2.4 9.9-2.3 8.5-1.5 8.5-0.8 7.8-0.2 0-82.6-567.4 0 0 82.6 9.3 0.3 8.4 0.9 8.5 1.5 9.9 2.5 8.4 2.5 8.5 2.8 38.8 14 21.1 7.1 19.5 5.7 11.2 2.9 9.4 2.1 10.1 2 8.9 1.6 9.8 1.4 9.5 1.1 9.9 0.9 11.2 0.7 25.4 0.8z" fill="#482878"/><path d="M337.5 742.1l24.1 0.4 29.6 0.1 28.3-0.2 21.1-0.5 15.6-0.7 14.1-1 12.7-1.4 12.7-1.9 13.1-2.6 13.7-3.2 13.8-3.9 13.5-4.3 12.1-4.2 13.1-5 43.4-17.7 8.5-3.1 8.5-2.8 8.4-2.3 8.5-1.7 8.5-0.9 7.8-0.2 0-75.6-567.4 0 0 75.6 7.8 0.2 8.5 0.9 8.5 1.7 9.9 2.7 8.4 2.9 8.5 3.1 38.4 15.8 18.7 7.1 10.1 3.5 11.1 3.6 9.8 2.8 10.9 2.9 9.6 2.2 10.4 2 9.4 1.6 9.8 1.3 9.9 1 9.9 0.7 11.3 0.6 14.1 0.5z" fill="#472a7a"/><path d="M336.3 741.4l25.3 0.5 29.6 0 28.3-0.2 22.5-0.6 15.6-0.7 14.1-1.2 12.7-1.6 12.7-2.2 14.1-3.1 13.7-3.7 13.6-4.3 13.9-4.9 12.5-5 11.6-5 44.7-20.5 8.5-3.5 7.1-2.5 8.4-2.6 8.5-1.8 7.1-0.9 7.8-0.3 0-67.9-567.4 0 0 67.9 7.8 0.3 8.5 1.1 8.5 2 8.4 2.6 8.5 3.2 8.5 3.6 37.1 17.2 19.8 8.5 11 4.3 9.9 3.5 11 3.6 9.7 2.8 10.1 2.7 9.9 2.2 9.9 1.8 9.9 1.5 9.8 1.1 11.3 1 11.3 0.6 14.1 0.5z" fill="#472e7c"/><path d="M335.2 740.7l37.7 0.6 43.7-0.2 28.3-0.8 11.3-0.6 11.2-0.9 9.9-1.2 9.9-1.5 9.5-1.8 9.3-2.1 10.6-2.9 9.3-2.8 10.4-3.6 9.4-3.5 13.6-5.7 13.9-6.4 14.3-7.1 32.3-17 8.5-4.1 7.1-3.1 8.4-3.1 8.5-2.4 4.2-0.8 4.3-0.6 7.8-0.3 0-59.4-567.4 0 0 59.4 7.8 0.3 7.1 1.1 8.5 2.2 8.4 3.1 7.1 3 8.5 4 37.9 19.8 19.2 9.2 11.4 5 10.7 4.3 9.7 3.5 10.9 3.6 9.9 2.9 10.2 2.5 9.9 2.1 9.8 1.6 9.9 1.3 11.3 1.1 11.3 0.7 14.1 0.6z" fill="#46327e"/><path d="M334.3 740l34.4 0.6 42.3-0.1 29.6-0.7 11.3-0.6 11.3-0.8 9.9-1.1 8.5-1.2 9.5-1.8 8.8-1.9 8.9-2.4 9.4-2.8 8.5-2.9 9.5-3.5 8.6-3.6 9.6-4.2 8.9-4.3 9.6-5 17.9-9.9 33.3-19.8 7-3.9 7.1-3.5 8.4-3.6 7.1-2.2 7.1-1.4 4.2-0.3 3.6-0.1 0-49.6-567.4 0 0 49.6 6.4 0.3 7.1 1.1 7 2.1 8.5 3.4 7.1 3.4 7 3.9 37.2 22 10.1 5.7 10.7 5.7 10.1 4.9 10.9 5 10.3 4.3 11.6 4.3 10.9 3.5 10.2 2.9 10.7 2.5 9.3 1.7 10.4 1.6 11.3 1.2 11.3 0.8 14.1 0.7z" fill="#463480"/><path d="M370.2 740l35.2-0.1 28.2-0.5 21.1-1.1 17-1.7 8.4-1.3 8.5-1.6 7.1-1.5 8.2-2.2 9.4-2.8 8.3-2.9 7.5-2.8 8.5-3.6 10.9-4.9 9.9-5 10.4-5.7 9.7-5.7 17.7-11.4 33.5-23 7.1-4.5 5.6-3.3 7.1-3.5 4.2-1.7 2.8-0.9 5.7-1.2 2.8-0.2 3.6-0.1 0-37.4-567.4 0 0 37.4 3.6 0.1 2.8 0.2 5.7 1.2 2.8 0.9 4.2 1.7 7.1 3.5 5.6 3.3 7.1 4.5 30.3 20.9 16.3 10.7 8.2 4.9 8.6 5 7.9 4.3 8.4 4.3 7.6 3.5 8.1 3.6 8.9 3.5 7.9 2.9 8.8 2.8 7.4 2.2 8.7 2.1 8.2 1.7 7.1 1.2 8.4 1.1 8.5 0.9 9.9 0.8 22.6 1 28.2 0.4z" fill="#453882"/><path d="M362.6 739.3l34.3 0.1 29.6-0.5 22.6-1 16.9-1.5 8.5-1.1 7.1-1.2 7-1.4 8-1.9 7.5-2.2 8.8-2.8 7.8-2.9 7-2.8 12.6-5.7 11.1-5.7 11.3-6.4 12.5-7.8 14.3-10 14-10.7 13.9-11.3 25-21.6 9.9-7.8 4.2-2.8 4.3-2.1 2.8-0.9 1.4-0.3 3.6-0.2 0-17.4-567.4 0 0 17.4 3.6 0.2 2.8 0.7 4.3 1.8 4.2 2.6 5.6 4.2 5.7 4.6 21.7 18.7 11.9 10 9.8 7.8 9.5 7.1 11.1 7.8 12.2 7.9 10.9 6.4 12.1 6.4 7.4 3.5 8.1 3.6 7 2.8 7.8 2.9 7.4 2.4 7 2 7.6 2 7.9 1.7 14.1 2.2 17 1.7 19.7 1 24 0.5z" fill="#443b84"/><path d="M357.7 738.6l33.5 0.2 32.5-0.5 22.6-0.9 9.9-0.7 9-1 7.9-1.1 8.5-1.4 7.7-1.7 8.1-2.2 7-2.1 8.1-2.9 7.3-2.8 8.2-3.6 10.3-4.9 10.5-5.7 9.5-5.7 9.8-6.4 10-7.1 10-7.9 10-8.5 8.5-7.8 8.4-8.5 7.1-7.9 6.8-8.5 4.3-6.4 3.2-5.7 1.2-2.8 1.2-3.6 1-5 0.2-6.1-510.2 0 0.1 5.4 0.7 4.3 1.6 5 2.3 4.9 3.4 5.7 4.1 5.7 5.7 7.1 5.7 6.4 7.6 7.9 8.3 7.8 8.1 7.1 8.8 7.1 8.4 6.4 8.1 5.7 8.8 5.7 9.5 5.7 7.8 4.2 7 3.6 7.6 3.6 8.3 3.5 7.5 2.9 8.5 2.8 7.3 2.1 7.6 2 7.9 1.6 7.6 1.3 15.5 1.8 19.8 1.2 24 0.7z" fill="#433e85"/><path d="M354.2 737.9l34.2 0.2 32.5-0.4 24-0.9 9.8-0.8 8.5-0.8 8.5-1.2 7-1.2 8.5-1.9 7.1-1.9 8.2-2.5 7.9-2.9 7-2.8 7.9-3.6 9.8-4.9 10.1-5.7 10.2-6.4 10.2-7.1 9.3-7.2 9.2-7.8 8.4-7.8 7-7.1 6.9-7.8 5.6-7.2 4.8-7.1 4-7.1 2.8-6.4 1.7-5.7 0.9-5.7 0.2-6.8-483 0 0.1 5.4 0.6 5 1.2 5 2.1 5.7 2.7 5.7 3.4 5.6 4.3 6.4 5 6.4 6.2 7.2 6.1 6.4 6.7 6.4 8 7.1 7.8 6.4 7.6 5.7 8.1 5.7 8.9 5.6 7.3 4.3 7.9 4.3 7.1 3.5 7.9 3.6 7 2.8 7.9 2.9 6.8 2.1 7.9 2.2 7.7 1.7 7 1.3 7.1 1 8.4 1 18.4 1.3 22.6 0.7z" fill="#424186"/><path d="M351.4 737.2l32.8 0.3 33.9-0.3 23.9-1 9.9-0.6 8.5-0.9 8.5-1.1 8.1-1.4 7.4-1.6 7.4-2 6.8-2.1 7.9-2.9 7-2.8 7.8-3.6 9.7-4.9 9.8-5.7 8.8-5.7 10-7.1 8.9-7.1 8.2-7.2 7.3-7.1 7.4-7.8 6.5-7.8 5.1-7.1 4.5-7.1 3.6-7.2 2.5-6.4 1.8-6.4 0.9-6.4 0.1-6.8-463 0 0 6.1 0.6 5 1.1 5 1.8 5.7 2.4 5.7 3 5.7 4 6.4 4 5.6 5.7 7.2 5.7 6.4 6.2 6.4 6.8 6.4 6.6 5.7 7.1 5.6 7.7 5.7 8.4 5.7 6.9 4.3 7.4 4.3 6.8 3.5 7.5 3.6 6.6 2.8 7.4 2.9 7 2.3 7.1 2.1 7 1.7 7.1 1.5 7.1 1.1 8.4 1.1 17 1.3 22.5 0.9z" fill="#404588"/><path d="M349.1 736.4l32.3 0.5 33.8-0.3 24-0.9 9.9-0.6 9.9-1 8.4-1.1 7.1-1.2 7.1-1.5 7-1.9 7.1-2.2 7.2-2.6 7-2.8 7.7-3.6 9.5-4.9 8.4-5 8.7-5.7 9.8-7.1 8.7-7.1 7.9-7.2 7.8-7.8 6.3-7.1 5.6-7.1 5-7.1 4.2-7.1 3.7-7.8 2.6-7.2 1.6-6.4 0.8-6.4 0.1-6.8-446.8 0 0.1 6.1 0.5 5 1.1 5.7 1.7 5.7 2.3 5.7 2.7 5.7 3.3 5.7 4.2 6.4 4.2 5.6 5.3 6.4 5.9 6.4 5.7 5.7 6.1 5.7 6.8 5.7 7.2 5.7 8 5.7 6.6 4.3 7 4.2 6.5 3.6 7 3.5 6.2 2.9 7.2 2.9 7.7 2.8 7.1 2.1 6.3 1.7 7.1 1.5 7.1 1.2 8.4 1.1 17 1.5 21.1 0.8z" fill="#3f4788"/><path d="M347.1 735.7l31.5 0.5 33.8-0.2 25.4-0.9 9.9-0.6 9.1-0.9 7.8-1 8.5-1.4 7-1.6 6.6-1.7 6.9-2.1 6.3-2.3 6.5-2.7 7.7-3.6 9.3-4.9 8.3-5 9.5-6.4 8.4-6.4 8.5-7.1 7.6-7.2 6.8-7.1 6.1-7.1 5.4-7.1 5.2-7.8 3.9-7.1 3.2-7.1 2.4-7.2 1.5-6.4 0.9-6.4 0.1-7.5-432.6 0 0.1 6.1 0.4 5 1 5.7 1.6 5.7 2.1 5.7 2.5 5.7 3.1 5.7 3.9 6.4 4.5 6.4 5.1 6.4 5.7 6.4 4.8 4.9 5.9 5.7 6.5 5.7 7.1 5.7 6.7 5 6.3 4.3 6.8 4.2 6.2 3.6 6.8 3.5 6 2.9 6.8 2.8 7 2.6 7.1 2.3 5.8 1.5 6.9 1.6 7.1 1.3 7 1 8.5 0.9 8.4 0.7 19.8 0.9z" fill="#3e4a89"/><path d="M345.5 735l30.2 0.6 33.9-0.2 25.4-0.8 9.9-0.6 9.8-0.9 8.5-1.1 7.1-1.2 7-1.4 7.1-1.8 7-2.2 6.7-2.5 6.7-2.8 6-2.9 9.2-4.9 8.1-5 8.3-5.7 8.3-6.4 8.3-7.1 6.7-6.4 7.4-7.9 5.9-7.1 5.3-7.1 4.5-7.1 3.9-7.1 3.4-7.8 2.3-7.1 1.6-7.2 0.8-6.4 0.1-7.5-420 0 0 6.1 0.6 5.7 0.8 5 1.5 5.7 1.9 5.7 2.4 5.7 2.9 5.7 3.7 6.4 4.3 6.4 4.3 5.6 4.8 5.7 5.2 5.7 5.7 5.7 6.2 5.7 6.7 5.7 6.5 5 6.1 4.2 6.5 4.3 6 3.6 6.6 3.5 5.8 2.9 6.6 2.8 5.5 2.2 7.1 2.3 6.8 1.9 5.9 1.4 7.1 1.3 7 1.1 15.5 1.6 19.8 1z" fill="#3d4e8a"/><path d="M344 734.3l30.3 0.6 32.5-0.1 26.8-0.8 9.9-0.6 9.8-0.9 8.5-1.1 7.1-1.1 7-1.5 6.2-1.6 6.5-2 6.3-2.3 6.8-2.8 6-2.9 7.9-4.2 9.2-5.7 8.1-5.7 8.1-6.4 7.3-6.4 7.3-7.1 7.1-7.9 5.7-7.1 5.4-7.8 4.3-7.1 3.6-7.1 3-7.1 2.2-7.1 1.5-7.2 0.7-6.4 0.1-7.5-408.6 0 0.1 6.1 0.4 5.7 0.9 5 1.3 5.7 1.8 5.7 2.3 5.7 2.7 5.7 3.2 5.6 4.1 6.4 4 5.7 4.6 5.7 5.6 6.4 5.5 5.7 6 5.7 5.7 5 6.2 5 5.9 4.2 6.3 4.3 5.8 3.6 6.4 3.5 5.6 2.9 6.4 2.8 5.3 2.1 6.2 2.2 6.8 1.9 5.6 1.4 7.1 1.4 7 1.1 15.5 1.7 18.4 1z" fill="#3c508b"/><path d="M376.5 734.3l28.9-0.1 25.4-0.8 18.3-1.2 8.5-1 7-1 7.1-1.3 5.6-1.4 6.3-1.7 6.4-2.2 7.1-2.8 5.6-2.6 6.1-3.1 6.2-3.6 7.7-4.9 7.8-5.7 7-5.7 6.3-5.7 6.5-6.4 6.4-7.1 5.7-7.1 4.6-6.4 4-6.4 3.8-7.1 2.9-6.4 2.4-6.4 2-7.2 1.1-6.4 0.7-6.4 0-6.8-398 0 0 6.8 0.6 5.7 1.1 6.4 1.7 6.4 2.2 6.4 2.8 6.4 3.3 6.4 3.8 6.4 4.4 6.4 5.5 7.1 5.6 6.4 5.4 5.7 6 5.7 7.4 6.4 6.4 5 7.1 5 5.6 3.5 6.2 3.6 7 3.6 6.1 2.7 5.7 2.2 6.4 2.2 6.3 1.7 7 1.7 7.1 1.2 7 1 15.6 1.5 21.1 1 25.4 0.4z" fill="#3a538b"/><path d="M368.4 733.6l28.5 0 26.8-0.5 19.8-1.1 8.4-0.8 8.5-1.1 7-1.2 5.7-1.2 7-1.9 5.7-1.7 5.6-2.1 6.1-2.6 5.8-2.9 6.4-3.5 7.9-5 7-5 7.1-5.7 7.1-6.4 6.5-6.4 5.7-6.4 5.8-7.1 4.6-6.4 4.4-7.1 3.9-7.1 2.9-6.4 2.6-7.1 1.7-6.4 1.4-7.2 0.6-6.4 0.1-7.5-388.2 0 0 6.8 0.5 5.7 1.1 6.4 1.4 5.7 2.1 6.4 2.6 6.4 3.1 6.4 3.2 5.7 3.6 5.7 4.6 6.4 5.2 6.4 5.7 6.4 5.6 5.7 6.1 5.7 6.9 5.7 6.6 5 5.2 3.5 5.8 3.6 6.4 3.5 5.8 2.9 6.1 2.6 5.6 2.1 5.7 1.7 7 1.9 5.7 1.2 7 1.2 7.1 0.9 8.4 0.9 18.4 1.1 24 0.6z" fill="#39568c"/><path d="M363.5 732.9l29.2 0.1 26.8-0.4 19.7-1 8.5-0.7 8.5-1 7-1 7.1-1.4 6.9-1.7 5.8-1.8 5.6-2 6.2-2.6 5.8-2.9 5.2-2.8 8-5 6.9-5 7.1-5.7 6.3-5.7 6.4-6.4 6.4-7.1 5.6-7.1 4.5-6.4 4.4-7.1 3.7-7.1 3.1-7.1 2.5-7.1 1.9-7.2 1.1-6.4 0.6-6.4 0.1-7.5-379 0 0 6.8 0.5 5.7 1 6.4 1.3 5.7 2 6.4 2.5 6.4 3.1 6.4 3.1 5.7 3.9 6.4 4.5 6.4 5 6.4 5 5.7 5.5 5.7 6 5.7 6.6 5.7 5.6 4.2 5 3.6 5.6 3.6 6.2 3.5 5.7 2.9 6.3 2.7 5.6 2.1 5.7 1.8 5.6 1.5 5.7 1.3 7 1.2 14.1 1.7 17 1.2 22.5 0.7z" fill="#38598c"/><path d="M359.9 732.2l28.5 0.2 28.2-0.4 21.2-1 8.5-0.7 8.4-0.9 7.1-1.1 7.1-1.3 5.6-1.4 6.6-2 6-2.1 5.1-2.1 5.9-2.9 5.1-2.8 6.9-4.3 6.9-5 6.2-4.9 7.1-6.4 7-7.2 5.6-6.4 5.5-7.1 4.4-6.4 4.3-7.1 3.7-7.1 3.1-7.1 2.4-7.1 1.9-7.1 1.2-7.2 0.6-6.4 0.1-7.5-370.4 0 0 6.8 0.5 5.7 1 6.4 1.3 5.7 1.9 6.4 2.1 5.7 2.5 5.7 3.3 6.4 3.3 5.7 4.3 6.4 4.2 5.7 5.2 6.4 4.5 5 5.7 5.7 6.2 5.6 6.1 5 4.8 3.6 5.3 3.5 5.9 3.6 5.3 2.8 5.3 2.5 5.6 2.3 5.7 2 5.6 1.6 11.3 2.5 7 1.1 7.1 0.8 16.9 1.4 21.2 0.7z" fill="#365c8d"/><path d="M357 731.5l27.2 0.3 28.2-0.3 22.6-1 8.5-0.6 8.4-0.9 7.1-1 7-1.2 5.7-1.3 6.5-1.9 6.2-2.1 5.2-2.1 6-2.9 5.2-2.8 6.8-4.3 6.9-5 6.8-5.7 6.2-5.6 6.8-7.2 5.4-6.4 4.8-6.4 5.3-7.8 4.1-7.1 3.1-6.4 3-7.1 2.4-7.1 1.8-7.1 1.2-7.2 0.5-6.4 0.1-7.5-362.2 0 0 6.8 0.5 5.7 0.9 6.4 1.2 5.7 1.9 6.4 2 5.7 2.5 5.7 3.1 6.4 3.7 6.4 4.2 6.4 4.1 5.7 4.5 5.7 4.4 5 5.5 5.7 5.3 4.9 5.9 5 4.7 3.6 5.1 3.5 5.7 3.6 5.2 2.8 4.4 2.2 5.4 2.3 5.7 2 5.6 1.7 5.6 1.4 5.7 1.2 7 1.2 7.1 0.8 15.5 1.3 19.8 0.8z" fill="#355f8d"/><path d="M354.6 730.8l28.2 0.4 28.2-0.3 22.6-1 16.9-1.4 7.1-1 7-1.2 5.7-1.3 5.6-1.6 5.8-1.9 5.5-2.2 6-2.8 5.2-2.8 6.8-4.3 6.8-5 6.8-5.7 5.9-5.6 6-6.4 5.4-6.5 5.3-7.1 4.6-7.1 4-7.1 3.5-7.1 2.8-7.1 2.3-7.1 1.7-7.1 1.2-7.2 0.5-6.4 0.1-7.5-354.4 0 0 6.8 0.5 5.7 0.7 5.7 1.3 6.4 1.6 5.7 2.2 6.4 2.7 6.4 2.7 5.7 3.1 5.7 4 6.4 4.5 6.4 3.8 5 4.9 5.7 5.4 5.7 4.4 4.2 5.7 5 4.5 3.6 4.9 3.5 4.4 2.9 5.1 2.9 5.4 2.7 4.9 2.2 5.3 2 5.6 1.8 5.6 1.4 5.7 1.2 12.7 2 15.5 1.3 19.8 0.9z" fill="#34618d"/><path d="M352.5 730l27.5 0.5 28.2-0.2 22.6-0.9 9.8-0.6 8.5-0.9 7.1-0.9 7-1.2 5.7-1.3 5.8-1.6 5.4-1.8 5.7-2.2 5-2.4 5.3-2.8 6.8-4.3 5.8-4.3 6-4.9 6.8-6.4 5.9-6.4 5.3-6.4 5.1-7.2 4.6-7.1 3.9-7.1 3.4-7.1 2.9-7.1 2.2-7.1 1.7-7.1 1.2-7.1 0.6-7.2 0.1-7.5-347 0 0.1 6.1 0.3 5.7 0.8 6.4 1.1 5.7 1.7 6.4 1.8 5.7 2.6 6.4 2.6 5.7 3 5.7 3.8 6.4 3.7 5.7 4.2 5.7 4.1 4.9 5.1 5.7 4.9 5 5.5 5 4.4 3.5 4.8 3.6 4.3 2.8 4.7 2.9 5.5 2.8 4.8 2.2 4.5 1.7 5.6 1.9 5.6 1.5 5.7 1.3 12.7 2 14.1 1.3 18.3 0.9z" fill="#32648e"/><path d="M350.7 729.3l26.4 0.6 28.3-0.2 23.9-0.8 9.9-0.7 8.5-0.8 7-0.9 7.1-1.2 7.1-1.6 5.3-1.5 5.9-2 5.5-2.3 4.4-2.1 5.1-2.8 6.6-4.3 5.7-4.3 5.8-4.9 5.8-5.7 5.8-6.4 5.7-7.2 4.9-7.1 4.4-7.1 3.7-7.1 3.3-7.1 2.6-7.1 2.2-7.1 1.6-7.1 1-7.2 0.5-6.4 0.1-7.5-339.8 0 0 6.1 0.4 5.7 0.6 5.7 1.2 6.4 1.4 5.7 2 6.4 2.2 5.7 2.8 6.4 2.9 5.7 3.6 6.4 3.7 5.7 4.1 5.7 3.9 4.9 4.3 5 5.5 5.7 4.6 4.3 4.2 3.5 4.7 3.6 4.1 2.8 4.7 2.9 5.3 2.8 4.2 2 4.3 1.7 5.6 1.9 9.9 2.6 5.6 1.1 7.1 1.1 14.1 1.4 18.3 1z" fill="#31678e"/><path d="M349.1 728.6l26.6 0.6 28.2-0.1 24-0.8 9.9-0.7 8.5-0.8 7-0.9 7.1-1.1 5.6-1.2 5.7-1.5 5.6-1.8 5.7-2.2 4.8-2.3 5.2-2.8 6.6-4.3 5.6-4.3 5.7-4.9 5.1-5 5.7-6.4 5.6-7.1 4.4-6.4 4.3-7.2 3.8-7.1 3.2-7.1 2.7-7.1 2.4-7.8 1.5-7.1 1.1-7.1 0.6-7.2 0-7.5-332.8 0 0 6.1 0.3 5.7 0.8 6.4 1 5.7 1.5 6.4 1.8 5.7 2 5.7 2.4 5.7 2.8 5.7 3.1 5.7 3.9 6.4 3.9 5.6 4.3 5.7 4.2 5 4.7 5 4.4 4.3 4.1 3.5 4.5 3.6 4.1 2.8 4.5 2.9 3.8 2.1 4.8 2.4 4.6 1.9 5.3 1.8 9.9 2.7 5.6 1.1 7.1 1.1 14.1 1.5 16.9 1z" fill="#30698e"/><path d="M377.9 728.6l24.6-0.1 22.6-0.7 16.9-1.2 7.1-0.8 7.1-1 6.1-1.2 6.1-1.4 4.8-1.4 5.5-1.9 5.5-2.4 4.2-2.1 4.9-2.9 4.3-2.8 5.6-4.3 5.6-4.9 5-5 5-5.7 4.4-5.7 4.5-6.4 4-6.4 3.8-7.1 3-6.4 2.9-7.1 2.1-6.4 1.9-7.1 1.2-6.5 0.9-6.4 0.4-6.4 0.1-7.5-326.2 0 0 6.8 0.4 6.4 0.9 6.4 1.2 6.4 1.6 6.4 2.3 7.2 2.5 6.4 2.9 6.4 3.3 6.4 3.8 6.4 4.3 6.4 4.3 5.7 4.8 5.6 4.7 5 5.3 5 5.2 4.3 3.9 2.8 4.4 2.9 5 2.7 4.6 2.2 5.2 2.2 4.3 1.4 5.7 1.7 5.6 1.3 5.6 1 7.1 1 15.5 1.5 18.4 0.9 22.5 0.4z" fill="#2f6c8e"/><path d="M370.4 727.9l25.1 0.1 24-0.6 18.3-1.1 8.5-0.8 7-1 5.7-0.9 6.2-1.4 5.3-1.4 5.4-1.8 4.5-1.8 5.4-2.5 4.4-2.4 4.4-2.9 5.7-4.3 5-4.2 5-5 4.5-5 5-6.4 4.5-6.4 4.3-7.1 3.5-6.4 3.3-7.1 2.5-6.4 2.1-6.4 1.9-7.1 1.5-7.1 0.9-7.2 0.4-6.4 0.1-7.5-319.8 0 0.1 6.8 0.3 6.4 0.8 6.4 1.2 6.4 1.5 6.4 2 6.4 2.4 6.4 2.7 6.4 3.2 6.4 3.6 6.4 4.1 6.4 4.1 5.7 4 5 4.5 5 5 5 5 4.2 3.7 2.9 4.1 2.8 4.8 2.9 4.7 2.4 4.3 1.8 5.6 2.1 4.2 1.3 5.7 1.4 11.3 2 14.1 1.6 16.9 1 21.2 0.6z" fill="#2e6f8e"/><path d="M365.8 727.2l25.4 0.2 24-0.5 19.8-1.1 15.5-1.6 7.1-1.1 5.6-1.2 5.7-1.4 4.2-1.3 5.1-2 4.7-2.1 4.3-2.2 4.5-2.8 5-3.5 5.1-4.3 5.8-5.7 4.5-5 5-6.4 4.4-6.4 3.4-5.7 3.8-7.1 3-6.4 2.9-7.1 2.3-7.1 1.9-7.1 1.4-7.1 0.9-7.1 0.5-7.2 0-7.5-313.4 0 0 6.8 0.3 5.7 0.7 6.4 1.1 6.4 1.4 6.4 1.9 6.4 1.9 5.7 2.6 6.4 3 6.4 3 5.7 3.8 6.4 3.8 5.7 3.7 5 4.2 5 3.9 4.2 5.3 5 4.3 3.6 4 2.8 4.5 2.9 3.8 2.1 4.3 2 4.2 1.7 4.2 1.5 5.7 1.6 5.6 1.3 5.7 1.1 12.7 1.6 16.9 1.3 19.7 0.7z" fill="#2d718e"/><path d="M362.4 726.5l24.6 0.2 25.4-0.4 19.8-0.9 8.4-0.7 8.5-1 7.1-1.1 5.6-1.1 5.6-1.4 4.7-1.4 5.2-2 4.3-1.9 4.7-2.5 4.6-2.9 4.8-3.5 5-4.3 5-5 5-5.7 4.3-5.7 4.2-6.4 3.8-6.4 3.2-6.4 2.9-6.4 2.7-7.1 2.3-7.1 1.8-7.1 1.3-7.1 0.9-7.1 0.5-7.2 0-7.5-307.4 0 0 6.8 0.3 5.7 0.7 6.4 1 6.4 1.4 6.4 1.7 6.4 1.9 5.7 2.5 6.4 2.9 6.4 2.9 5.7 3.2 5.7 3.7 5.7 3.5 5 4 5 4.5 4.9 4.5 4.3 4.2 3.6 3.8 2.8 3.3 2.2 4.2 2.5 4.3 2.1 4.2 1.8 4.2 1.5 5.7 1.7 5.6 1.3 5.7 1.1 12.7 1.6 15.5 1.2 18.3 0.8z" fill="#2c738e"/><path d="M359.7 725.8l24.5 0.3 25.4-0.3 21.2-1 8.4-0.7 8.5-0.9 7-1.1 5.7-1 5.6-1.4 5.7-1.7 4.2-1.6 4.5-2 4.1-2.1 4.6-2.9 4.9-3.5 5-4.3 4.9-5 4.3-5 3.7-4.9 4.3-6.5 4.1-7.1 3.2-6.4 3.1-7.1 2.6-7.1 2.1-7.1 1.8-7.1 1.3-7.1 0.8-7.1 0.4-7.2 0.1-7.5-301.6 0 0.1 6.8 0.2 5.7 0.7 6.4 0.9 6.4 1.4 6.4 1.7 6.4 2 6.4 2.1 5.7 3.1 7.1 2.8 5.7 3.2 5.7 3.1 5 3.5 5 3.9 5 3.8 4.2 4.2 4.3 4.1 3.5 3.7 2.9 4.3 2.8 3.7 2.2 4.3 2.1 4.4 1.8 8.5 2.8 9.8 2.2 12.7 1.8 14.2 1.2 18.3 0.8z" fill="#2a768e"/><path d="M357.3 725.1l24.1 0.4 25.4-0.3 21.1-0.9 17-1.4 7-1 5.7-1 5.6-1.2 5.7-1.6 5.6-2 4.2-1.8 4.3-2.2 4.4-2.7 4.9-3.5 4.2-3.6 4.3-4.3 4.9-5.7 4.3-5.6 3.7-5.7 3.6-6.4 3.5-7.2 2.8-6.4 2.8-7.8 2.1-7.1 1.7-7.1 1.2-7.1 0.9-7.1 0.4-7.1 0.1-8.3-295.8 0 0 6.8 0.3 5.7 0.6 6.4 0.8 5.7 1.1 5.7 1.5 6.4 1.9 6.4 2.2 6.4 2.6 6.4 2.6 5.7 3 5.7 3.4 5.7 3.3 5 3.8 4.9 3.6 4.3 4.1 4.3 3.1 2.8 3.5 2.9 4 2.8 3.5 2.1 4 2.2 4 1.8 4.2 1.6 4.8 1.6 5.1 1.3 5.6 1.2 11.3 1.7 14.1 1.3 17 0.8z" fill="#2a788e"/><path d="M355.2 724.3l23.4 0.5 25.3-0.1 21.2-0.8 9.9-0.7 8.5-0.8 12.7-1.9 5.6-1.2 5.6-1.6 5.6-1.9 4.3-1.8 4.3-2.1 4.2-2.5 4.9-3.5 4.2-3.6 4.2-4.3 4.9-5.7 3.6-4.9 4.1-6.4 3.5-6.4 3.4-7.2 2.9-7.1 2.2-6.4 2.2-7.8 1.6-7.1 1.3-7.8 0.8-7.1 0.3-7.2 0.1-7.5-290.2 0 0 6.8 0.3 6.4 0.6 6.4 0.8 5.7 1.1 5.7 1.5 6.4 1.6 5.7 2.1 6.4 2.5 6.4 2.5 5.7 2.9 5.7 3.2 5.7 3.3 5 3.1 4.2 3.4 4.3 4 4.3 3 2.8 3.4 2.9 3.9 2.8 3.4 2.1 3.9 2.2 3.6 1.6 4.2 1.7 5 1.6 4.9 1.4 5.6 1.2 11.3 1.7 14.1 1.3 15.6 0.8z" fill="#297b8e"/><path d="M353.3 723.6l25.3 0.6 25.3-0.2 21.2-0.8 9.9-0.7 8.5-0.8 12.7-1.9 5.6-1.3 5.6-1.5 5.3-1.9 4.6-2 4.3-2.2 3.5-2.2 4.9-3.6 4-3.5 4.2-4.3 4.1-5 3.6-4.9 3.5-5.7 3.8-7.1 2.9-6.4 2.8-7.2 2.4-7.1 1.9-7.1 1.6-7.1 1.2-7.1 0.8-7.8 0.4-7.1 0-8.3-284.6 0 0 6.8 0.2 6.4 0.6 6.4 0.8 5.7 1.1 6.4 1.4 6.4 1.6 5.7 2.1 6.4 2.1 5.7 2.7 6.4 2.8 5.7 2.8 5 3.1 5 3.1 4.2 3.4 4.3 3.2 3.6 2.9 2.8 3.3 2.8 3.8 2.9 3.3 2.1 4.2 2.3 4.2 2 8 2.8 8.9 2.3 11.3 1.8 14.1 1.4 15.6 0.9z" fill="#277e8e"/><path d="M351.7 722.9l22.6 0.6 25.4 0 22.6-0.8 9.9-0.6 8.4-0.8 7.1-0.8 7-1.2 5.7-1.2 5.6-1.5 5.7-1.9 4.1-1.7 4.2-2.2 3.5-2.1 4.9-3.6 4.1-3.5 4.1-4.3 4.1-5 3.9-5.6 3-5 3-5.7 3.2-7.1 2.7-7.1 2.3-7.2 1.8-7.1 1.7-7.8 1.1-7.1 0.7-7.8 0.4-7.1 0-8.3-279.2 0 0 6.8 0.2 6.4 0.5 6.4 0.7 5.7 1.1 6.4 1.2 5.7 1.6 6.4 1.8 5.7 2.2 6.4 2 5 2.6 5.7 3 5.7 3 5 2.9 4.2 2.7 3.6 3.7 4.2 2.8 2.9 3.2 2.8 3.7 2.9 3.2 2.1 6.6 3.6 4.1 1.7 4.3 1.5 8.4 2.3 11.3 2 12.7 1.4 15.5 1z" fill="#27808e"/><path d="M375.5 722.9l22.8 0 19.8-0.6 16.9-1.1 14.1-1.6 5.6-1 5.7-1.2 5.6-1.5 4.3-1.5 4.2-1.7 4.2-2.1 3.2-1.9 4.1-2.8 4.3-3.6 3.5-3.6 3.7-4.2 3.6-5 3.5-5.7 3.1-5.7 2.6-5.7 2.5-6.4 2.2-6.4 2.1-7.1 1.6-7.1 1.3-7.1 1-7.1 0.6-7.1 0.3-7.2 0-7.5-274 0 0 7.5 0.3 7.2 0.6 7.1 0.9 6.4 1.2 7.1 1.5 6.4 1.7 6.4 2.1 6.4 2.1 5.7 2.8 6.4 2.9 5.7 2.9 5 3.3 4.9 3.3 4.3 3.1 3.6 3.7 3.5 3.5 2.9 3 2.1 3.4 2.1 4.1 2.2 3.8 1.6 4.3 1.5 4.2 1.3 5.6 1.4 11.3 1.9 14.1 1.4 17 1 19.7 0.5z" fill="#26828e"/><path d="M369.8 722.2l22.9 0.1 22.5-0.5 18.4-1.1 14.1-1.6 11.3-2.1 5.6-1.4 4.3-1.4 4.2-1.7 4.2-2 4.2-2.5 3.1-2.1 4.2-3.6 3.6-3.6 3.6-4.2 3.1-4.3 3.1-5 3-5.7 2.6-5.7 2.5-6.4 2.4-7.1 1.9-7.1 1.6-7.1 1.3-7.1 0.9-7.1 0.6-7.1 0.3-7.1 0-8.3-268.8 0 0 7.5 0.2 6.4 0.5 6.4 0.8 7.2 1 6.4 1.3 6.4 1.6 6.4 1.9 6.4 1.9 5.7 2.6 6.4 2.6 5.6 2.7 5 3.1 5 3.1 4.3 2.9 3.5 3.5 3.6 3.2 2.8 3.4 2.6 3.8 2.4 3.3 1.8 3.9 1.8 3.8 1.4 4.5 1.4 4.7 1.2 11.3 2.1 12.7 1.4 15.5 1.1 18.4 0.6z" fill="#25858e"/><path d="M365.9 721.5l22.5 0.2 22.6-0.4 18.3-1 15.6-1.5 7-1.1 5.7-1.1 5.6-1.4 4.2-1.3 4.3-1.6 4.2-2 4.1-2.3 3.1-2.1 4.4-3.6 3.5-3.6 3.6-4.2 3-4.3 3-5 2.6-5 2.8-6.4 2.2-5.6 2-6.4 1.9-7.2 1.6-7.1 1.3-7.8 0.9-7.1 0.6-7.8 0.2-7.1 0-8.3-263.6 0 0.2 13.9 0.4 7.2 0.7 6.4 1 6.4 1.2 6.4 1.4 6.4 1.8 6.4 1.8 5.7 2.2 5.6 2.5 5.7 2.5 5 2.9 5 3 4.3 2.8 3.5 3.3 3.6 3.2 2.8 2.7 2.2 3.1 2.1 3.7 2.1 3.2 1.6 4.2 1.7 8.5 2.6 9.9 2 12.7 1.6 15.5 1.2 18.4 0.7z" fill="#24878e"/><path d="M362.8 720.8l24.2 0.3 22.6-0.4 19.7-1 15.6-1.6 7-1 5.7-1.2 5.6-1.4 4.2-1.4 4.3-1.6 4.2-2 3.7-2.2 3.1-2.2 3.4-2.8 3.6-3.6 3.5-4.2 3-4.3 2.9-5 2.8-5.7 2.4-5.7 2-5.6 1.9-6.4 1.8-7.2 1.4-7.1 1.1-7.1 0.9-7.1 0.5-7.8 0.3-7.1 0-9-258.6 0 0.2 13.9 0.4 7.2 0.6 6.4 1 7.1 1.1 6.4 1.4 6.4 1.5 5.7 1.7 5.7 2 5.6 2.1 5 2.4 5 2.3 4.3 2.7 4.2 2.7 3.6 3.1 3.6 2.9 2.8 2.5 2.1 2.9 2.2 3.4 2.1 2.8 1.5 4.2 1.9 4.3 1.5 4.2 1.3 9.9 2.2 12.7 1.7 14.1 1.2 16.9 0.8z" fill="#238a8d"/><path d="M360.3 720.1l22.5 0.4 22.6-0.3 19.7-0.9 16.9-1.5 7.1-0.9 5.6-1.1 5.7-1.2 4.2-1.3 4.3-1.4 4.2-1.8 4.2-2.3 4-2.7 3.5-2.8 3.6-3.6 3.5-4.2 2.9-4.3 2.8-5 2.4-5 2.3-5.6 2-5.7 1.8-6.4 1.7-7.1 1.3-7.2 1.2-7.8 0.7-7.1 0.5-7.8 0.2-7.1 0-9-253.6 0 0.1 13.9 0.9 13.6 1.8 12.8 1.3 6.4 1.5 6.4 1.6 5.7 1.7 4.9 1.9 5 2.2 5 2.2 4.3 2.6 4.2 3.1 4.3 2.4 2.8 2.8 2.9 2.5 2.1 2.8 2.2 3.3 2.1 3.9 2.1 2.8 1.2 4.3 1.6 4.2 1.3 9.9 2.2 11.3 1.6 14.1 1.3 16.9 0.8z" fill="#228d8d"/><path d="M358 719.4l22 0.4 23.9-0.2 19.8-0.8 16.9-1.5 12.7-1.9 5.7-1.2 5.6-1.6 4.3-1.5 4.2-1.9 3.6-1.9 3.4-2.3 3.4-2.7 3.7-3.6 2.9-3.5 3-4.3 2.4-4.2 2.4-5 2.3-5.7 1.9-5.7 1.8-6.4 1.6-7.1 1.3-7.1 1-7.9 0.8-7.8 0.5-7.8 0.2-7.8-0.1-9-248.6 0 0.1 14.7 0.8 13.5 1.6 12.8 2.5 12.1 1.7 6.4 1.5 4.9 1.9 5 1.8 4.3 2.2 4.3 2 3.5 2.4 3.6 2.9 3.5 2.7 2.9 2.4 2.1 2.7 2.1 3.3 2.2 3.6 1.9 2.8 1.3 4.3 1.7 4.2 1.3 8.5 1.9 11.3 1.8 14.1 1.3 15.5 0.8z" fill="#218f8d"/><path d="M356 718.7l22.6 0.5 23.9-0.2 21.2-0.8 16.9-1.5 7.1-1 5.6-0.9 5.7-1.3 4.5-1.2 5.4-1.9 3.7-1.7 3.9-2.1 3.1-2.2 3.5-2.8 3.5-3.6 2.8-3.5 2.4-3.6 2.4-4.2 2.3-5 2.2-5.7 1.7-5.7 1.7-6.4 1.3-6.4 1.2-7.1 1-7.8 0.7-7.9 0.4-7.8 0.1-7.8 0-9.7-243.8 0 0.1 15.4 0.7 13.5 1.5 12.8 2.3 12.1 1.4 5.7 1.4 4.9 3.2 8.6 1.7 3.5 2.3 4.3 2.8 4.3 2.2 2.8 2.6 2.9 2.3 2.1 2.7 2.1 3.1 2.2 6.2 3.2 4.3 1.6 4.2 1.4 8.5 2 11.3 1.7 12.7 1.3 15.5 0.9z" fill="#20928c"/><path d="M354.2 717.9l21.5 0.6 24 0 21.2-0.8 16.9-1.4 12.7-1.7 5.7-1.1 5.6-1.4 4.2-1.4 4.9-2 3.6-1.8 3.8-2.5 3.6-2.8 2.9-2.9 2.9-3.5 2.9-4.3 2.6-5 1.9-4.2 1.8-5 1.7-5.7 1.6-6.4 1.2-6.4 1.1-7.1 0.8-7.8 0.6-7.9 0.4-8.5 0.1-17.5-239 0 0 15.4 0.6 13.5 1.3 12.8 2 12.1 1.3 5.7 1.4 4.9 3 8.6 1.6 3.5 2.2 4.3 1.8 2.9 2.6 3.5 2.5 2.9 2.2 2.1 2.6 2.1 3.1 2.2 5.9 3.1 7.1 2.6 8.5 2.2 11.2 1.9 12.7 1.3 14.2 0.9z" fill="#1f948c"/><path d="M378.6 717.9l21.1-0.1 18.4-0.6 15.5-1.1 14.1-1.7 5.6-1 5.7-1.3 4.2-1.2 4.2-1.5 3.4-1.4 3.7-1.9 3.6-2.4 2.6-2.1 3-2.9 2.9-3.5 2.4-3.6 2-3.5 2.2-5 1.6-4.3 1.5-5 1.3-4.9 1.1-5.7 1.1-6.4 0.8-7.1 0.7-7.1 0.7-15.7 0-17.5-234.2 0 0 16.8 0.6 14.9 1.3 13.5 1 6.4 1.2 6.4 1.4 5.7 1.5 5 1.5 4.3 1.8 4.3 1.9 3.5 2.2 3.6 2.7 3.5 2.6 2.9 2.4 2.1 2.8 2.1 3.5 2.2 3.3 1.7 7.1 2.6 4.2 1.2 5.7 1.3 11.3 1.8 14.1 1.4 16.9 0.9 19.8 0.4z" fill="#1f968b"/><path d="M371.8 717.2l22.3 0.1 19.7-0.5 17-1.1 14.1-1.5 11.3-2.1 5.6-1.4 4.2-1.4 4.3-1.8 3.2-1.6 3.3-2.2 2.8-2.1 3-2.9 2.4-2.8 2.4-3.6 2-3.5 1.7-3.6 1.9-5 1.5-4.9 1.2-5 1.1-5.7 0.9-6.4 1.4-14.2 0.6-15.7-0.1-18.9-229.4 0-0.1 18.2 0.5 15 1.2 13.5 1.7 11.3 1.1 5 1.3 5 1.4 4.3 1.7 4.2 1.7 3.6 2.1 3.6 2 2.8 2.4 2.8 2.2 2.2 2.6 2.1 3.1 2.1 3 1.7 2.8 1.3 4.3 1.7 4.2 1.3 5.7 1.4 11.2 1.9 12.7 1.3 15.6 1 16.9 0.5z" fill="#1f998a"/><path d="M367.7 716.5l20.7 0.2 21.2-0.4 18.3-1 15.6-1.6 11.2-1.9 5.7-1.4 4.2-1.3 4.3-1.7 3.1-1.5 3.6-2.2 2.8-2.1 3.1-2.9 2.4-2.8 2.5-3.6 1.6-2.8 1.6-3.6 1.6-4.2 1.3-4.3 1.4-5.7 1-5.7 0.9-6.4 1.1-13.5 0.5-16.4-0.2-20.3-224.6 0-0.2 18.9 0.4 15 0.8 12.8 1.5 11.3 1 5 1.2 5 1.5 5 1.4 3.5 1.6 3.6 1.6 2.8 1.9 2.9 2.3 2.8 2.1 2.2 2.8 2.3 2.8 1.9 2.8 1.7 2.8 1.3 4.3 1.7 4.2 1.3 4.2 1.1 9.9 1.8 12.7 1.5 14.1 1.1 17 0.6z" fill="#1e9c89"/><path d="M364.5 715.8l22.5 0.3 21.2-0.4 18.3-0.9 15.5-1.6 11.3-1.8 5.7-1.3 4.2-1.2 4.2-1.6 3.2-1.4 3.7-2.2 3-2.1 2.4-2.1 2.7-2.9 2.5-3.5 1.6-2.9 1.7-3.5 1.6-4.3 1.2-4.3 1.3-5.7 0.9-5.7 0.7-5.7 0.9-13.5 0.3-15.6-0.3-22.5-219.8 0-0.3 20.3 0.1 14.3 0.6 12.1 1.2 10.6 1.6 9.3 1.1 4.2 1.4 4.3 1.5 3.6 1.4 2.8 1.8 2.9 2 2.8 2.7 2.9 2.4 2.1 2.8 2 2.6 1.5 3 1.6 3.2 1.3 3.9 1.3 4.2 1.2 9.9 1.9 11.3 1.5 14.1 1.2 16.9 0.7z" fill="#1f9e89"/><path d="M361.8 715.1l21 0.4 22.6-0.3 19.7-1 15.5-1.4 7.1-1 5.6-1 5.7-1.4 4.2-1.2 4.2-1.6 3.1-1.5 3.7-2.1 2.9-2.1 2.3-2.2 2.5-2.8 2-2.8 2-3.6 1.5-3.6 1.5-4.2 1.1-4.3 0.9-5 1.3-10.6 0.6-12.8 0.1-15-0.4-24.6-215.2 0-0.4 22.5 0 13.5 0.4 12.1 0.9 9.9 1.5 9.3 1 4.3 1.2 3.5 1.3 3.6 1.4 2.8 1.7 2.9 1.6 2.1 1.8 2.1 2.2 2.2 2 1.6 2.8 1.9 2.8 1.6 4.3 1.9 7 2.2 9.9 2.1 11.3 1.6 14.1 1.2 15.5 0.8z" fill="#1fa188"/><path d="M359.4 714.4l22 0.5 21.1-0.3 19.8-0.8 16.9-1.5 12.7-1.9 5.7-1.3 4.2-1.1 4.2-1.5 4.3-1.9 2.8-1.6 2.9-2.1 2.4-2.2 2.6-2.8 2-2.8 1.6-2.9 1.5-3.5 1.4-4.3 0.9-3.6 0.9-5 1.1-9.9 0.5-12.1-0.1-13.5-0.7-28.9-210.4 0-0.8 38.8 0.2 11.4 0.7 9.3 1.3 8.5 1.8 7.1 1.4 3.6 1.3 2.8 1.7 2.9 1.5 2.1 1.9 2.1 2.2 2.2 2.4 1.8 2.7 1.7 5.8 2.8 7 2.3 8.5 1.8 11.3 1.7 12.7 1.2 15.5 0.9z" fill="#20a386"/><path d="M357.3 713.7l21.3 0.5 22.5-0.1 19.8-0.9 16.9-1.4 7.1-0.9 7-1.2 5.7-1.2 4.2-1.2 4.2-1.5 4.3-2 2.8-1.6 2.8-2 2.3-2.2 2.4-2.8 1.9-2.9 1.5-2.8 1.4-3.6 1-3.5 1-4.3 0.7-4.3 0.7-9.2 0.3-11.4-1.3-43.8-205.8 0-1.2 41 0 9.9 0.4 8.6 1 7.8 1.5 7.1 2.1 5.7 1.5 2.8 1.4 2.2 1.6 2.1 2 2.1 2.5 2.2 2.1 1.4 2.6 1.5 2.9 1.4 7 2.5 8.5 2 11.3 1.8 12.7 1.3 14.1 0.8z" fill="#21a585"/><path d="M355.5 713l20.2 0.6 22.6-0.1 21.2-0.8 16.9-1.4 12.7-1.7 5.6-1.1 5.7-1.4 4.2-1.4 4.3-1.8 2.8-1.6 3.1-2.1 2.4-2.2 2-2.1 2-2.8 1.5-2.9 1.2-2.8 1.1-3.6 1-4.3 0.6-4.2 0.7-8.6 0-10.6-1.6-36.3-0.3-10.4-201 0-0.3 11.1-1.5 32-0.2 9.3 0.2 7.1 0.8 7.8 1.2 6.4 1.8 5.7 1.4 2.8 1.3 2.2 1.5 2.1 2 2.1 2.4 2.2 1.9 1.4 2.6 1.5 2.9 1.4 2.8 1.2 4.2 1.4 8.5 2 9.9 1.6 12.7 1.3 14.1 0.9z" fill="#22a884"/><path d="M378.2 713l20.1-0.1 18.3-0.7 15.6-1.1 14.1-1.7 9.9-1.9 4.2-1.1 4.2-1.4 4.3-1.8 2.8-1.6 2.8-2 1.8-1.6 2-2.1 1.6-2.1 1.3-2.2 1.5-3.5 1-2.9 0.8-3.5 0.6-3.6 0.4-4.3 0.3-7.1-0.2-9.2-2.1-34.2-0.5-13.9-196.2 0-0.5 13.9-2.1 33.5-0.2 8.5 0.2 7.1 0.8 7.8 0.7 3.6 0.9 2.9 1 2.8 1.4 2.8 1.4 2.2 1.7 2.1 2.1 2.1 2.5 2 2.8 1.7 2.9 1.4 2.8 1.2 4.2 1.4 8.5 2 11.3 1.8 14.1 1.4 15.5 0.9 18.3 0.5z" fill="#25ab82"/><path d="M371.8 712.3l19.4 0.1 19.8-0.5 16.9-1 15.6-1.7 11.2-2 4.3-1 4.2-1.3 4.2-1.7 2.9-1.5 2.8-1.8 2.3-1.9 2.1-2.1 1.6-2.1 1.6-2.9 0.9-2.1 1-2.9 0.8-3.5 0.8-7.1 0.2-7.1-0.3-7.9-2.8-34.8-0.7-16.1-191.4 0-0.7 16.1-2.8 34.1-0.3 7.1 0 5.7 0.6 7.1 1.2 6.4 1.9 5 1.2 2.2 1.5 2.1 1.8 2.1 2.5 2.2 2 1.4 2.8 1.6 2.9 1.3 4.2 1.5 8.5 2.2 11.3 1.9 12.7 1.3 14.1 1 16.9 0.6z" fill="#26ad81"/><path d="M367.8 711.5l20.6 0.3 19.8-0.4 18.3-1.1 15.5-1.5 11.3-1.9 5.7-1.4 4.2-1.3 4.2-1.7 2.9-1.4 2.8-1.9 2.2-1.9 1.9-2.1 1.5-2.1 1.2-2.2 1.2-2.8 0.8-2.9 0.6-2.8 0.6-7.1 0-5.7-0.4-7.1-3.5-34.9-0.7-9.9-0.3-8.3-186.6 0-0.2 6.8-0.6 8.6-3.5 34.8-0.5 7.1-0.1 6.4 0.3 6.4 0.9 5.7 0.8 2.9 0.9 2.1 1 2.1 1.4 2.2 1.8 2.1 2.3 2.1 2 1.5 2.8 1.6 5.7 2.4 4.2 1.3 4.3 1.1 9.8 1.8 12.7 1.5 14.1 1 15.6 0.6z" fill="#29af7f"/><path d="M364.6 710.8l21 0.3 19.8-0.3 18.3-0.9 15.5-1.4 12.7-2 5.7-1.2 4.2-1.3 4.2-1.5 2.9-1.3 2.8-1.7 2.7-2.2 2-2.1 1.6-2.1 1.1-2.2 0.9-2.1 0.9-2.9 0.5-2.8 0.4-3.6 0.2-3.5-0.2-6.4-0.6-7.1-3.4-26.3-1.1-10-0.7-9.3-0.2-7.5-181.8 0-0.2 7.5-0.8 10-1.1 10-3.2 24.9-0.6 6.4-0.2 5.6 0.1 6.4 0.8 5 0.5 2.2 1 2.8 2 3.6 1.7 2.1 2.2 2.1 1.9 1.5 2.3 1.4 3.4 1.6 2.8 1.1 7 2 9.9 1.9 11.3 1.4 14.1 1.2 15.5 0.7z" fill="#2db27d"/><path d="M362 710.1l19.4 0.4 21.1-0.2 18.4-0.8 16.9-1.5 12.7-1.8 5.7-1.2 4.2-1.1 4.2-1.5 2.8-1.2 3.3-1.7 2.9-2.2 1.4-1.4 1.8-2.1 1.3-2.2 1.2-2.8 1.2-5 0.4-6.4-0.3-5.7-0.7-7.1-4-26.3-1.4-10.7-0.9-9.9-0.3-8.3-176.8 0-0.4 9-1 10.6-1.4 10.7-3.5 22.8-1.2 11.3 0 5.7 0.5 5 1 4.3 0.9 2.1 1.2 2.2 1.5 2.1 1.4 1.4 1.6 1.4 2.4 1.7 2.9 1.5 2.8 1.2 7 2.2 9.9 2 11.3 1.6 12.7 1.1 15.5 0.8z" fill="#2fb47c"/><path d="M359.6 709.4l20.4 0.5 21.1-0.2 19.8-0.8 16.9-1.5 12.7-1.9 5.7-1.2 4.2-1.1 4.2-1.4 2.8-1.2 3.4-1.9 2.7-2.1 1.4-1.4 1.6-2.1 1.2-2.2 0.9-2.1 0.6-2.1 0.4-2.9 0.2-6.4-0.4-5.7-0.8-6.4-4.5-24.9-1.8-11.4-1.1-10.6-0.4-9-171.8 0-0.5 9.7-1.2 11.4-1.7 10.6-4.1 22.8-1.4 10.7-0.2 5.6 0.4 4.3 0.9 4.3 1.6 3.5 1.5 2.2 1.2 1.4 1.6 1.4 2.4 1.8 2.9 1.5 2.8 1.2 7 2.2 8.5 1.8 11.3 1.6 12.7 1.2 14.1 0.8z" fill="#34b679"/><path d="M357.5 708.7l21.1 0.6 21.1-0.2 19.8-0.8 16.9-1.4 7.1-0.9 7-1.1 5.7-1.2 4.2-1.1 4.2-1.4 2.8-1.2 2.9-1.6 2.8-2.1 1.7-1.8 1.1-1.4 1.2-2.2 0.8-2.1 0.5-2.1 0.4-2.9 0.1-5.7-0.5-5-1-6.4-5.2-24.9-2-11.3-1.4-11.4-0.5-9.7-166.8 0-0.5 10.4-1.5 11.4-2 11.4-4.9 23.4-1.5 10-0.3 5 0.3 4.2 0.8 3.6 1.6 3.5 1.5 2.2 1.3 1.4 1.8 1.5 2 1.3 2.3 1.3 2.8 1.2 7 2.2 8.5 1.7 11.3 1.6 11.3 1.1 14.1 0.9z" fill="#38b977"/><path d="M355.6 708l20.1 0.6 22.6-0.1 19.8-0.7 16.9-1.4 12.7-1.6 5.6-1.1 5.7-1.3 4.2-1.3 4.2-1.7 2.9-1.6 2.4-1.9 2.5-2.8 1.2-2.2 0.8-2.1 0.8-4.3 0-5.7-0.7-5-1-5.6-5.8-24.2-2.5-12.1-1.7-12.1-0.4-5.7-0.2-4.7-161.6 0-0.2 4.7-0.4 5.7-1.7 12.1-2.5 12.1-5.6 23.4-1.6 9.3-0.4 4.3 0.2 4.2 0.7 3.6 1.1 2.8 0.9 1.5 1.7 2.1 3.2 2.6 4.3 2.2 2.8 1.1 4.2 1.3 8.5 1.9 9.9 1.5 11.3 1.2 14.1 0.9z" fill="#3bbb75"/><path d="M375.1 708l19 0 18.3-0.5 16.9-1.2 14.2-1.5 11.2-2 4.3-1 4.2-1.3 2.8-1.1 2.9-1.4 2.8-1.9 1.7-1.6 2-2.9 1.4-3.5 0.5-4.3-0.3-5-0.7-4.2-1.2-5.7-6.6-24.2-2.8-12.1-1.1-6.4-0.8-5.7-0.6-6.4-0.1-4.7-156.4 0-0.1 4.7-0.6 6.4-0.8 5.7-1.1 6.4-2.8 12.1-6.6 24.2-1.1 4.9-0.7 4.3-0.4 4.3 0.2 4.3 1 3.5 1.5 2.9 1.5 1.7 2.1 1.8 2.1 1.4 2.9 1.4 5.6 2 8.5 2 11.3 1.7 12.7 1.4 15.5 1 16.9 0.5z" fill="#40bd72"/><path d="M370.1 707.3l19.7 0.1 18.4-0.4 16.9-0.9 15.5-1.6 11.3-1.7 5.7-1.3 4.2-1.1 4.2-1.6 2.9-1.4 2.2-1.5 2-1.8 0.9-1 1.2-2.2 1-2.8 0.4-3.6-0.4-5-0.8-4.2-1.3-5-7.4-24.2-3.1-12.1-1.3-6.4-1.1-6.4-0.6-6.4-0.2-5.4-151 0-0.2 5.4-0.6 6.4-1.1 6.4-1.3 6.4-3.1 12.1-7.4 24.2-2 8.5-0.5 4.3 0.2 3.6 0.9 3.5 1.1 2.1 1 1.5 1.7 1.7 1.5 1.1 2.8 1.6 5.6 2.2 8.5 2.1 11.3 1.8 12.7 1.4 14.1 1 15.5 0.6z" fill="#46c06f"/><path d="M366.5 706.6l19.1 0.2 19.8-0.3 18.3-1 15.5-1.4 12.7-1.9 5.7-1.3 4.2-1.1 4.2-1.5 2.9-1.4 2.4-1.7 1.5-1.4 1.1-1.5 0.8-1.4 0.9-2.8 0.3-3.6-0.4-4.3-1-4.2-1.2-4.3-8.3-24.2-2.2-7.1-1.7-6.4-1.5-6.4-1.1-6.4-0.7-6.4-0.2-5.4-145.4 0-0.2 5.4-0.7 6.4-1.1 6.4-1.7 7.1-3.7 12.8-8.1 23.6-2.1 7.7-0.5 3.6-0.2 3.5 0.5 2.9 1.1 2.8 1 1.5 1.6 1.7 1.4 1.2 2.9 1.6 5.6 2.2 7.1 1.8 9.8 1.7 12.7 1.5 14.1 1.1 14.2 0.6z" fill="#4ac16d"/><path d="M363.6 705.9l19.2 0.3 19.7-0.2 18.4-0.9 15.5-1.3 14.1-2 5.7-1.1 4.2-1.1 4.2-1.3 2.8-1.3 2.9-1.6 1.8-1.6 1.2-1.5 0.8-1.4 1-2.8 0.1-3.6-0.4-3.5-0.9-3.6-1.4-4.3-9.7-25.6-2.2-6.4-1.9-6.4-1.8-7.1-1.1-6.4-0.8-6.4-0.2-5.4-139.8 0-0.2 5.4-0.8 6.4-1.1 6.4-1.8 7.1-3.8 12.1-9.2 24-1.5 4.5-1.2 4.2-0.7 3.6-0.2 2.8 0.4 2.9 0.8 2.1 0.8 1.4 1.2 1.5 1.6 1.4 1.6 1.1 2.9 1.4 2.8 1.1 7 1.9 9.9 1.8 11.3 1.4 14.1 1.2 14.1 0.7z" fill="#50c46a"/><path d="M361 705.1l19 0.5 19.7-0.2 18.4-0.7 16.9-1.4 14.1-1.9 5.6-1 5.7-1.4 4.2-1.3 2.8-1.2 2.9-1.7 1.4-1.2 1.1-1.3 0.8-1.4 0.8-2.1 0.2-1.4 0-2.2-0.5-3.5-1-3.7-1.4-3.9-10.3-24.4-2.7-7.1-2.2-6.4-2-7.2-1.5-7.1-0.9-6.4-0.3-6.1-133.8 0-0.2 4.7-0.7 5.7-1 5.7-1.6 6.4-2.1 7.1-2.8 7.8-3.5 8.6-6.6 15.2-2.8 7.4-1 3.7-0.5 3.5 0.1 2.9 0.6 2.1 0.7 1.4 1 1.5 1.5 1.4 1.8 1.2 4.3 2 7 2.1 9.9 1.9 11.3 1.5 12.7 1.1 14.1 0.8z" fill="#56c667"/><path d="M358.8 704.4l19.8 0.6 19.7-0.1 18.3-0.8 17-1.3 14.1-1.7 5.6-1 5.7-1.3 4.2-1.2 4.2-1.6 2.9-1.7 1.3-1.2 1.5-2.2 0.6-1.4 0.3-1.4 0-2.9-0.7-3.5-1.2-3.6-1.8-4.5-8-16.8-3.8-8.6-4.4-11.3-2.4-7.9-1.5-6.4-1.1-7.1-0.3-6.1-127.8 0-0.2 4.7-0.8 6.4-1.1 5.7-1.8 6.4-2.6 7.8-3.2 7.8-3.8 8.6-8 16.8-2.1 5.2-1.1 3.6-0.5 2.8 0 2.9 0.5 2.1 0.8 1.4 1 1.4 1.4 1.3 1.4 0.9 4.3 1.9 7 2.1 8.5 1.6 11.3 1.6 12.7 1.2 12.7 0.8z" fill="#5ac864"/><path d="M356.8 703.7l18.9 0.6 21.2 0 19.7-0.8 17-1.3 15.5-2 5.6-1 5.7-1.3 4.2-1.3 2.8-1.2 2.9-1.7 1.4-1.3 1.3-2.2 0.6-2.1-0.1-2.9-0.7-2.8-1.1-3.1-1.4-3.1-13.3-25.8-3.2-7.1-2.5-6.4-2.4-7.2-1.8-7.1-1.2-7.1-0.3-6.1-121.4 0-0.2 5.4-1 6.4-1.5 6.4-2 6.4-2.6 7.1-4.1 9.3-4.3 8.5-7.6 14.5-2.8 5.9-1.1 3.1-0.7 2.8-0.1 2.2 0.3 2.1 0.6 1.4 1 1.4 1.4 1.4 1.4 1 4.3 1.9 5.6 1.7 8.5 1.7 11.3 1.6 12.7 1.3 12.7 0.8z" fill="#60ca60"/><path d="M377 703.7l18.5 0 16.9-0.6 15.5-1 14.1-1.5 12.7-2 8.5-2.1 2.8-0.9 2.9-1.4 1.4-1 1.5-1.6 1-2.1 0.3-2.1-0.4-2.9-1-3.1-2.8-5.7-9.3-16.1-5.4-9.9-4-8.6-3.2-7.8-2.1-6.4-1.5-6.4-0.9-5.7-0.3-5.4-114.6 0-0.3 5.4-1 6.4-1.7 6.4-2.1 6.4-3.5 8.6-4.2 8.5-4.6 8.5-9.3 16.1-2.8 5.7-1 3.1-0.4 2.2 0.1 2.1 0.8 2.1 1 1.4 0.9 0.9 1.4 1 2.9 1.4 2.8 0.9 4.2 1.2 9.9 1.9 11.3 1.5 14.1 1.4 14.1 0.8 15.5 0.4z" fill="#67cc5c"/><path d="M371.2 703l18.6 0.1 17-0.3 15.5-0.9 15.5-1.4 14.1-2 9.9-2.1 2.8-0.8 2.8-1.1 2.4-1.4 1.5-1.5 0.9-1.4 0.5-2.1-0.3-2.9-1.1-2.8-2.4-4.6-10.6-16.8-5.5-9.2-4.8-9.2-3.8-8.6-2.3-6.4-1.8-6.4-1.1-6.4-0.3-5.4-107.6 0-0.3 5.4-1.1 6.4-1.8 6.4-2.5 7.1-3.9 8.6-4.5 8.5-5.1 8.5-9.5 15.2-3.2 5.5-1.3 2.8-0.6 2.1-0.2 2.2 0.5 2.1 0.9 1.4 1 1.1 1.4 1 2.9 1.4 5.6 1.7 8.5 1.7 11.3 1.7 12.7 1.3 14.1 1 14.1 0.5z" fill="#6ccd5a"/><path d="M367.3 702.3l18.3 0.2 18.3-0.2 17-0.9 15.5-1.3 14.1-1.9 5.7-1 5.6-1.3 4.2-1.3 2.9-1.3 1.4-1.1 1.1-1.3 0.7-1.4 0.2-2.1-0.6-2.6-1.4-3-2.9-4.4-10.4-14.9-5.5-8.6-5.8-9.9-4.2-8.6-2.9-7.1-2-6.4-1.3-6.4-0.4-4.2 0-1.9-100 0 0 1.9-0.4 4.2-1.3 6.4-2.3 7.1-2.9 7.2-3.9 7.8-5.8 9.9-5.5 8.6-10.4 14.9-2.9 4.4-1 2-0.7 2.1-0.3 2.2 0.2 1.4 0.7 1.4 1.1 1.3 1.4 1.1 1.5 0.7 5.6 1.9 8.5 1.8 9.8 1.5 12.7 1.4 14.2 1.1 14.1 0.6z" fill="#73d056"/><path d="M364.2 701.6l18.6 0.3 18.3-0.2 17-0.7 15.5-1.2 15.5-2 11.3-2.1 4.2-1.1 2.8-1.1 2.1-1.2 1.5-1.4 0.4-0.7 0.5-1.4 0-1.4-0.6-2.2-1-2-2.9-4.1-11.6-15.2-6-8.5-6.8-10.7-4.6-8.5-3.2-7.2-2.5-7.1-1.4-6.4-0.4-3.5-0.1-2.6-91.8 0-0.1 2.6-0.4 3.5-1.6 7.1-2.6 7.1-3.2 7.2-5.2 9.2-5.9 9.3-6 8.5-11.6 15.2-2.9 4.1-1 2-0.4 1.5-0.2 1.4 0.2 1.4 0.7 1.4 0.7 0.9 1.4 1 1.5 0.7 5.6 1.8 7.1 1.6 9.8 1.5 12.7 1.5 12.7 1 12.7 0.6z" fill="#7ad151"/><path d="M361.5 700.9l18.5 0.4 18.3-0.1 16.9-0.7 15.6-1.1 15.5-1.8 12.7-2.1 5.6-1.4 2.8-1 1.5-0.7 1.7-1.5 0.8-1.4 0.2-1.4-0.3-1.4-1-2.3-2.9-3.8-12.2-14.6-7.1-9.2-7.9-11.4-5.5-9.2-3.5-7.2-2.7-7.1-1.6-6.4-0.5-4.2 0-1.9-83 0 0 1.9-0.5 4.2-0.8 3.6-1 3.5-2.8 7.1-4.4 8.6-5.7 9.2-7 10-8.3 10.7-10.5 12.4-2 2.5-1.7 2.8-0.4 1.5-0.1 1.4 0.2 0.7 0.8 1.4 1.7 1.5 4.3 1.7 7 1.7 9.9 1.6 11.3 1.4 12.7 1.2 14.1 0.8z" fill="#7fd34e"/><path d="M359.2 700.2l17.9 0.5 18.4-0.1 16.9-0.5 16.9-1.2 17-1.9 7-1 7.1-1.4 4.2-1 2.8-0.9 1.5-0.7 1.3-1.1 0.6-0.7 0.5-1.4-0.2-1.4-0.8-2.1-1.4-1.9-12.3-13.1-9.7-11.4-8.7-11.4-6.6-9.9-4.4-7.9-3.1-7.1-1.2-3.5-0.9-3.6-0.6-3.5 0-2.6-73 0 0 2.6-0.6 3.5-0.9 3.6-1.4 4.2-3.2 7.2-4.9 8.5-7.4 10.7-8.3 10.6-8.5 10-12.3 13.1-1.4 1.9-0.6 1.4-0.4 1.4 0 0.7 0.5 1.4 0.6 0.7 1.3 1.1 4.3 1.6 7 1.6 9.9 1.6 11.3 1.4 12.7 1.2 12.7 0.7z" fill="#86d549"/><path d="M357.1 699.5l17.2 0.5 18.4 0.1 16.9-0.5 16.9-1.1 17-1.7 8.4-1.2 7.1-1.2 5.6-1.3 2.8-0.8 1.5-0.6 1.5-1.5 0.5-0.7 0.1-1.4-0.7-1.9-1.4-1.9-12.4-11.9-10.7-11.4-10.1-12-4.4-5.7-4-5.7-5.4-8.6-3.5-7.1-1.3-3.5-0.9-3.6-0.6-3.5 0-1.9-61.4 0-0.1 2.6-0.6 3.5-1.1 3.6-1.3 3.5-1.7 3.6-2.3 4.3-6 9.2-8.1 10.7-10.3 12.1-10.1 10.6-11.7 11.2-1.4 1.9-0.5 1.2-0.2 1.4 0.1 0.7 1.1 1.4 0.9 0.8 1.5 0.6 4.2 1.2 9.9 1.9 12.7 1.7 12.7 1.3 14.1 1z" fill="#8ed645"/><path d="M376.7 699.5l16 0 15.5-0.4 14.1-0.8 14.1-1.3 14.1-1.8 12.7-2.2 2.8-0.7 2.9-1 1.2-1.1 0.5-0.7 0.1-1.4-0.2-0.7-1.6-2.3-11.6-9.8-10.4-10-6.8-7.1-5.8-6.4-5.5-6.4-5.8-7.1-6.7-9.3-2.7-4.2-1.9-3.6-1.6-3.5-0.9-2.9-0.8-3.5 0-1.9-47 0 0 1.9-0.8 3.5-1.2 3.6-1.7 3.5-2.4 4.3-2.7 4.3-6.9 9.2-9 10.7-11.1 12.1-5.6 5.7-5.9 5.6-5.6 5-7.6 6.3-1.4 1.9-0.4 1.1 0.1 1.4 0.5 0.7 1.2 1.1 1.5 0.6 7 1.7 9.9 1.6 12.7 1.7 14.1 1.3 14.1 0.8 15.5 0.4z" fill="#93d741"/><path d="M370.8 698.7l16.2 0.2 15.5-0.3 14.1-0.6 14.2-1 16.9-2 14.1-2.2 4.2-0.9 2.9-0.9 0.9-0.8 0.5-0.7 0.1-1.4-0.3-0.7-1.2-1.6-7.7-5.6-4.5-3.5-5.8-5-5.5-5-13.7-13.5-15.4-16.3-8.7-10-6-7.8-1.7-2.9-1.4-2.8-0.8-2.1 0-1.9-25.6 0 0 1.9-0.8 2.1-1.8 3.5-1.8 2.9-2.6 3.5-4.1 5-11.4 12.8-12.9 13.5-12.3 12.1-5.5 5-5.8 5-4.5 3.5-7.7 5.6-1.2 1.6-0.3 0.7 0.1 1.4 0.5 0.7 0.9 0.8 1.5 0.5 5.6 1.3 9.9 1.6 12.7 1.7 12.7 1.2 12.7 0.9 14.1 0.5z" fill="#9bd93c"/><path d="M366.9 698l15.9 0.3 15.5-0.1 14.1-0.6 14.1-0.9 17-1.7 15.5-2.2 8.4-1.6 1.5-0.5 1.1-1.2 0.1-1.4-1.2-1.8-6.5-3.9-4.2-2.9-10.1-7.8-11.4-9.9-22.9-21-9.9-8.5-5.6-4.1-4.2-2.5-4.3-1.8-2.8-0.6-1.4-0.2-1.4 0-2.8 0.4-4.3 1.5-4.2 2.3-5.6 3.9-9.9 8.3-23.5 21.5-11.3 10-5.3 4.3-5.7 4.2-4.2 2.9-6.5 3.9-1.2 1.8 0.1 1.4 1.1 1.2 5.7 1.3 9.9 1.7 11.3 1.5 12.7 1.3 12.7 0.9 12.7 0.6z" fill="#a2da37"/><path d="M363.8 697.3l14.8 0.4 16.9-0.1 14.1-0.4 14.1-0.9 15.5-1.4 17-2.2 11.2-1.9 1.5-0.3 0.8-1 0.1-1.4-0.9-1.3-4.7-2.3-5.1-2.8-4.4-2.9-5-3.5-10-7.9-23.1-18.9-9.8-7.3-5.7-3.5-5.6-2.7-2.8-1-2.9-0.7-4.2-0.5-4.2 0.3-2.8 0.5-2.9 0.9-5.6 2.4-5.7 3.3-5.6 3.9-5.6 4.4-23.1 18.9-10 7.9-5 3.5-4.4 2.9-5.1 2.8-4.7 2.3-0.9 1.3 0.1 1.4 0.8 1 4.3 0.8 9.9 1.6 12.7 1.7 11.2 1.1 11.3 0.9 12.7 0.7z" fill="#a8db34"/><path d="M361.2 696.6l14.5 0.4 15.5 0.1 14.2-0.4 14.1-0.7 14.1-1.1 15.5-1.8 18.3-2.6 1.5-0.3 0.5-0.7 0.1-1.4-0.6-0.9-3.6-1.3-4.8-2.1-5.2-2.8-4.5-2.9-9.2-6.4-23.5-17.7-9.9-6.6-5.7-3.1-5.6-2.4-5.7-1.6-2.8-0.4-2.8-0.2-2.8 0-2.8 0.4-5.7 1.3-5.6 2.3-5.7 2.9-5.6 3.5-5.7 3.9-21.6 16.3-10 7.1-8.1 5-5.8 2.8-5.3 2-0.6 0.9 0.1 1.4 0.5 0.7 12.7 1.9 12.7 1.7 11.3 1.2 11.3 0.9 11.3 0.7z" fill="#b0dd2f"/><path d="M358.8 695.9l14.1 0.5 15.5 0.1 14.1-0.3 12.7-0.5 14.1-1 12.7-1.3 24.9-3.2 2-0.4 0.2-0.3 0-1.4-0.2-0.5-6-1.7-3.6-1.4-4.4-2.1-6.2-3.6-8.7-5.7-20.5-14.1-5.7-3.6-5.6-3.2-5.7-2.8-5.6-2.2-5.7-1.3-4.2-0.5-5.6 0.1-5.7 0.9-5.6 1.8-5.7 2.5-5.6 3-5.6 3.5-24.4 16.6-10.1 6.4-3.8 2.2-4.4 2.1-3.6 1.4-6 1.7-0.2 0.5 0 1.4 0.2 0.3 2 0.4 30.5 3.8 12.7 1.1 12.7 0.8z" fill="#b8de29"/><path d="M356.7 695.2l13.4 0.5 14.1 0.2 14.1-0.2 14.1-0.5 12.7-0.8 12.7-1.2 25.2-3 4.3-0.7 0.1-1.4-5.5-1.4-4.1-1.5-4.8-2.1-5.3-2.9-8.4-4.9-19.8-12.6-5.7-3.3-5.6-3-5.7-2.5-5.6-2-5.7-1.2-4.2-0.5-5.6 0.1-5.7 0.9-5.6 1.6-5.7 2.3-5.6 2.8-5.6 3.1-25 15.7-8.7 5-4.2 2.1-4.5 1.9-2.9 1-5.5 1.4 0.1 1.4 4.3 0.7 28 3.3 21.2 1.6z" fill="#bddf26"/><path d="M374.2 695.2l24.1-0.1 21.2-0.9 21.1-1.9 17.9-2.1 3.4-0.7 0-1.4-1.5-0.7-6.3-2.2-7.6-3.5-7.7-4.3-20.7-12-9.9-5-5.7-2.4-5.6-1.8-5.7-1.2-5.6-0.5-5.6 0.3-5.7 1-5.6 1.7-5.7 2.2-5.6 2.7-5.7 3-20.7 12-7.7 4.3-7.6 3.5-6.3 2.2-1.5 0.7 0 1.4 3.4 0.7 17.9 2.1 21.1 1.9 11.3 0.6 11.3 0.4z" fill="#c5e021"/><path d="M369.2 694.5l24.9 0.1 21.1-0.7 11.3-0.8 11.3-1.1 16-1.8 3.1-0.7 0.1-1.4-1.2-0.7-5.8-2.2-6.2-2.8-25.7-13.6-9.9-4.7-5.7-2.3-5.6-1.7-5.7-1.2-5.6-0.4-4.2 0.1-5.7 0.8-5.6 1.5-5.7 2-5.6 2.5-5.6 2.7-27.2 14.3-6.2 2.8-5.8 2.2-1.2 0.7 0.1 1.4 3.1 0.7 8.9 1.1 11.3 1.2 11.3 0.9 21.2 1.1z" fill="#cde11d"/><path d="M365.6 693.8l11.5 0.2 12.7 0 21.2-0.5 11.3-0.7 12.7-1.1 13.9-1.5 3.1-0.7 0-1.4-1-0.7-4.7-1.9-5.5-2.4-21.3-10.4-9.9-4.5-7.1-2.7-5.6-1.8-5.7-1.1-4.2-0.4-4.2 0-5.7 0.6-5.6 1.3-5.6 1.9-11.3 4.7-24.1 11.7-6.3 2.8-5.4 2.2-1 0.7 0 1.4 3.1 0.7 22.4 2.3 21.1 1.2z" fill="#d2e21b"/><path d="M362.6 693.1l10.3 0.3 12.7 0.1 11.3-0.1 11.3-0.4 11.3-0.6 11.3-0.9 12.9-1.3 3.2-0.7 0.1-1.4-1-0.7-7-2.9-19.5-8.8-9.9-4.1-7.1-2.7-5.6-1.7-5.7-1.2-4.2-0.5-4.2 0-5.7 0.7-4.2 1-5.6 1.7-7.1 2.7-7 2.9-20.8 9.3-8.6 3.6-1 0.7 0.1 1.4 3.2 0.7 18.6 1.8 16.9 1z" fill="#dae319"/><path d="M360.1 692.3l19.9 0.5 14.1 0 9.8-0.2 11.3-0.5 11.3-0.8 11.6-1.1 3.4-0.7 0.1-1.4-1-0.7-29.6-12-8.5-3.1-5.6-1.9-5.7-1.3-4.2-0.5-4.2 0-4.2 0.5-4.3 0.9-4.2 1.3-8.5 3-9.9 3.8-22.5 9.3-1 0.7 0.1 1.4 3.4 0.7 14.4 1.3 12.7 0.8z" fill="#e2e418"/><path d="M357.8 691.6l19.3 0.6 24-0.1 11.3-0.5 11.3-0.7 8.2-0.7 3.8-0.7 0-1.4-0.9-0.7-15.3-5.8-24-8.4-4.3-1.1-4.2-0.6-2.8-0.1-2.8 0.2-2.8 0.5-4.3 1.1-21.1 7.3-18.2 6.9-0.9 0.7 0 1.4 0.7 0.1 3.1 0.6 2.6 0.2 16.9 1.2z" fill="#e7e419"/><path d="M378.1 691.6l16 0 12.7-0.3 17.9-1.1 4.4-0.7 0.1-1.4-1.3-0.8-25.4-8.5-9.8-3.6-2.9-0.7-4.2-0.4-4.2 0.2-4.3 0.9-9.8 3.6-24 8-1.7 0.6-1 0.7 0.1 1.4 4.4 0.7 16.5 1 15.5 0.4z" fill="#efe51c"/><path d="M370.6 690.9l17.8 0.1 12.7-0.1 14.9-0.7 5.5-0.7 0.1-1.4-1.1-0.7-19.4-5.7-4.2-1.6-5.7-2.7-2.8-0.7-2.8-0.2-4.2 0.2-2.8 0.7-8.5 3.8-20.8 6.2-1.1 0.7 0.1 1.4 3.4 0.5 5.7 0.4 12.7 0.5z" fill="#f6e620"/><path d="M366.6 690.2l10.5 0.2 18.4 0 7.7-0.2 8.6-0.7 0.1-1.4-1.5-0.7-9.3-2.2-4.2-1.3-2.8-1.6-2.2-2.1-1.2-0.7-0.9-0.4-2.8-0.4-4.2 0-2.8 0.4-2.1 1.1-2.2 2.1-2.8 1.6-4.2 1.3-9.3 2.2-1.5 0.7 0.1 1.4 7.9 0.7z" fill="#fbe723"/><path fill-rule="evenodd" fill="#fff" d="M98.7 606.9H671.1V753.6H98.7zM102.7 610.9H667.1V749.6H102.7z"/></g>
<path d="M384.9 611.4l9.4 0 9.4 0 9.4 0 5.2 7.3 4.2-7.3-9.4 0-3.6 7.9-5.8-7.9-10.2 5.7-8.6-5.7-9.4 0 .8 5.7 8.6-5.7 0 9.3 0 9.2-6.6 6.4-5.4 6.2 1.8 7.2 2.4 4.4 3.6 1.5 4.2 .4 0 4 0 3.4 0 3 1.8 1.9 .5-2.1-2.3 .2-1.8 1.9-.5 2.3-1.4 1.8 1.9 .3-.5-2.1-2.2 .3 .4-2.2 1.8 1.9 2.3 .5 1.8 1.6 1.3 1.4M394.3 611.4l-.8 5.7-8.6 3.6 7.5 5.3-7.5 3.9 0 8.7-6.6-2.3-.9-10.3 7.5 3.9 6.6 6.4-6.6 2.3 0 6.9 0 5.8 0 4.7 4.2-.4 3.6-1.5 2.4-4.4 3.8 1.7-2.4 3.2-1.4-4.9 6.9-1.5 2.1-9.7 2.5-10.5 7.6-2 4.1-7.3 9.9 1 .9 7.6 4.8 6.1 7.5-2 1-6.5-6.8 .8-6.5 1.6-3.4 6.4-8.3 .1-3.2-7.8 8 .1 6.9 1.2M375.5 611.4l-9.4 0-5.8 7.9-3.6-7.9 9.4 0 10.2 5.7 8.6 3.6-7.5 5.3-6.4 6 7.3 4.3 1 8.6-6.4-2.4-7.2-4-2.5-10.5-2.9-8.7-8.8-.6 5.2-7.3-9.4 0-5.7 8.3-.9 7.6-4.8 6.1-7.5-2-1-6.5-5.3-4.8-10.3-.3-7.2-2.8 5.2-5.6 9.4 0-7.4 8.4 3.9 6.6 6.4-6.3 6.5-8.7-9.4 0 2.9 8.7-.5 8.7-5.9-2.4-6.5 2.7 2.6-9.3-2-8.4-9.4 0-2.6 7.6 6.8-2-4.2-5.6-9.4 0-.8 12.7-4.4 8.3-3.9 6.9-4-7.6-3.4-7.9-6.2-6.2 7.6-1-1.4 7.2 8.1-4.8 7.6 5.1 7.6-5.1-6.8-7.6-9.4 0-5.7 5.2-3.7-5.2-3.9 6.2-3.2 7.1 9.4-.9 7.7 2.4 8-2.1 7.3 2.5 6.2-2.7 8.1-4.1M403.7 611.4l-2.9 10.6 5.8 6 4.2 5.5-6.7 5-5.3-6.5 7.8-4 2.9-8.7 8.8-.6 3.9 7.4-4.8 7.7-6.6-.3 3.4-7.5-4.7-6.7-8.7 2.7-8.4 4 6.4 6-7.3 4.3 .9-10.3 1.1-8.9 7.3 4.9-2 10-1.9 10.5-1.8 7.2-5.6 1 3.2 3.4 3.8 .5 5.5-.1 6.1 3.1 8.3-.2 .9 4.7 3 3.3 .9 3.7-3.6-.2 2.7-3.5-4.7 .1-5.1 .4 3.5 3 3.6 0-2-3.4 1.7-3.4 3.5-.9-.5 4.2 4 1.8-3.1 1.9 .4 2.4 2 1.5 2.2 1.4 1.4 1.3-.5 1.9-1.4-1.5-2.4-.3 2.9-1.4 3.1-.2 2.5 1.6 .6-2.7 3.3-.7-2.6-1.8-1.7-2.7-3.7 1.2-3-1.9-.2 3-2.9-1.1-2.2 2.6-1.5 2.7-2.5 .8-2.5 1-2.2 1.1-.2-2.6 2.4 1.5-.1 2.4-2.1-1.3-1.9-.9 1.7-1.7 2.8-1.1-.4 2.6 2 1.3 .5-2.3-2.1-1.6-1.9-1.4-.9 2.5-2.6 0-2.4-1.1-.7-2.9-2.5 1.9 3.2 1-1.9 1.5 .6 2-1.8-.7-1.9 .4-.7 1.9-.7 1.8-2.1-.2 1 1.6M428.2 619.7l-5.7-8.3 9.4 0 6.1 7.4 3.2-7.4 6.5 8.7 6.4 6.3 6.5 2.7 1.2 9.7 .6 9.7 6.4 4.1 1.7 6.2 3.8 1.9 4.4 .2 1.1 4.8 4 1.9-1.2 4-3.6 1.2-2 2.2-.3 2.2 1.3 1.7 1.3-2.3-2.6 .6-1.8 .6-.4-2.1 2.2 1.5-.7 2.1 2-.4 2.2 1.2 2.2-2.8 2.1-2.7-1.9-3 4.2-.5 3.7-2 .5 4 3.9 2.5 3.6 4 2.5 4.5-2.5 5.3-4.6-1.7-4.4 1.6 1.1 4.6-3 2.7-2.8-1.3-1.5-2.6-2.7 .2-2.5-.5-1.1-2-2.4 .2 .2 2 1.6 1.2 1.7-1.4-1.9-.4 .2 1.8-1.2 1.9-2 1 1.8 1.4-.2 2.5-2.6 .7-1.9-2.1-2.4 1.2-.9 2.3-.8 2.7-3 0-2.6-.6 1.6-2.3 1 2.9 1.6 2.8 1.4-2.8 2 2.2 2.7 1.8 2.8 1.2-2.4 2.3-.4-3.5-3.3 1.5 3.7 2 4.3 .6-1.9-2.9 3.1-1 3.5-1.7-3.3-2 2.7-.9 .6 2.9 .4 4.7 2.7 5.8 6.1 1.1 7.6 5.7 11.4 3.6 8.2 4.2 6.5 6.6 9.3 1.8 8.4 .4 3.4-5.8-1.1-6.4 6.2-3.7-1.2-8.8-5.1 5.4 6.3 3.4 6.4-4.6-7.6-4.2-1.6-10.6 8.3-3.3 5.9 4.8 1.5 7.6 1.1 9.2 6-6.1-7.1-3.1 7.4-7.2 7.3-7.1-6.9-1.5-2.8-5.9 5.4-5.2 6.1-5.6 11 2.3 .3 9.2 6 4 7.3-5.9 .9-7.6 7.7 2 3.5-6.8-1.2-9.2-8.7-7.6-.2-9.2 6.6-5.6 1.6-7-2.6-5.6-4.3-7.7-3.6 10.3 7.9-2.6-2.3 6.2 4.9-.6 5.6-4.2-8.2-1.4 5.5-6.7-9.8-1 8.4-8.3 1.4 9.3 2.7 8.1 9-1.2 3-8.1 8.9-2.5 8.9-1 3.8-6.8 7.6-.7 6.2 3.4 0 9.2 0 9.2 0 9.1-6.2-5.2 6.2-3.9-6.5-4.5 6.5-4.7-8.2-4.7-9.4-.4-5.4-6.5-3.5 7.5-2.3 9.2 2.1 8.1-3.3 6.9-8 1.2 4.9 6.7 6.7-1.9-3.6-6-3.1 7.9-9 2.5 4.1-9.2-8.4 .4-8.2-2.8-3.3-6.4-5.6-3.6-8.5-.4-5.2 6.7-5.7 5.2-6 3.2-.7-6.6 6.7 3.4 7.1 3.7 1.3 8.7-5 6-8.5-1.2-3.9 7.3-5.6-7.5 9.5 .2 4.8-8.1 .3-9.1-.9-6.9-5.8 3.5-6.2-2.7-7.6 1.1-3.3 7.2-3.8 7.6-.1 7.2-7.6-1.1 4.3 7.9 3.3-6.8 5.6-2.4 7.5 2.4-3.9-8.2-5.3-6.6-7.6 1.2 3.8 6.4-7.7 6.1-6.6-5.5 6.8-2.3 7.5 1.7 5.5 4.8 3.6-5.8-9.1 1M447.7 620.1l2.9-8.7 9.4 0 5.2 5.6 4.2-5.6-9.4 0-2 8.4 7.2-2.8 .9 6.9-5.5 5.2 7 3.2-5.8 6.5-5.7 7-7.1-1.6-5 8-6.2 4-5.6-4.5-7-2.1-3.2 4.4-5.6 3.4 7.2 .9-1.6-4.3-4.8-3.6 8-.8 5.8-6.3 1.2 8.4 5.2-2.4 .4 6.9-3.3 5.3-5.5-1.8-5.4-1.4-2.8 2.9 4.3 2 3.9-3.5 1.3 4.2 .7 4 4 .8 .3 3.7 3.4 .8-2.3 2.5 2.1 1.7-.3 2 1.9-.6 1.1-2-2.7 .6 1.6 1.4 2 .1-.9-2.1 2.2 .7 .2-2 2.8-.9 .8 2.1-.6 1.8 2-.7-.5 2.1 1.9-.9 2-.5 2.2-.5 .9-2.4-3.2-1.1 0-3.4 3.2-1.9 1.1-3.1 2.5 2.1-3.6 1-.3 3.3 .3 3.1-2.3 1 1.4 1.4 2.6 0-1.7-2.4 2.7 .3-1 2.1 2 1.5 2.2-.2 2.2 .5-1.7 1.1M458 619.8l-3.9 6.6-5.9 2.4-6.8 2.6-5.8-5.7-1.7 7.7 6.9 8.2 .6-10.2 5.6 4.4 2 8.4-8.2-2.6 3.2 10.6-6.6-2.9-6.4-6 2.9-9.9-8.2 .3 5.3 9.6 9.8-1.7 6.2-5.8 1.2-7-5.8-3.9-4.4-6.1-2.4 6.9-7.4-6 3.7-8.3 9.3 0 9.4 0 7.4 8.4 8.1 4.1 5.9-4.9-6.8-2M478.8 611.4l.8 12.7 4.4 8.3 3.9 6.9 4-7.6-7.9 .7-8.5 2.3 4.1-10.6-7.6-5.1-2.6-7.6 9.4 0 9.4 0-1 7.6-7.6 5.1-7.3 2.5-6.2-2.7 1.5 8.4 4.7-5.7-.3-7.6 6.8-7.6 8.4 7.6 6.7-2.4-5.7-5.2 9.4 0 3.9 6.2-7.6-1 3.7-5.2 9.4 0 3.3 6.9-5.6 6.4-4.8 6.5 8.1 1.1 8 2 7.5 2.6 6.2 2.9-4.8 4.7-1.4-7.6-5.1 4.4-2.4-7-5.8 6.8-7-3.9 4.8-4.9-3.3-7.6 8.6 1.3 2.7 8.3 6.3-6.4 1.2 9 6.1-3.9 6.8-3 0 7.6-6.7 2.2 4.6 6.7-9.4-2 1.5 8.2-7.7 5.8-10.4 6.4-6.2-6.9-9.2 1.9-4.8-5-6.1 1.7-3.3 4.3-3.2 4-1.2-4.2-3.4 3.5-4.6 1.7-5.5-1.8-4.6 2-4.4 1.1 .1 3.9-2.7-1.1-.1 2.9-2.7 1.7 2.6 1-.4 2.2 2.1-.8-.7 2M479.6 624.1l8 2.1 4.3 5.5 4.2 6.3 7.1-.8-2.1 6.6-5-5.8-8.2 1.3-5.3 9.7-.6 7.6 3.1 5.7-6.4-1.4-2.9-5.4-7-2.9 6.3-6.1 7.5 2.5 9.3-2.9 4.2-8.1 3.8-6.8 3.3 6M493.9 616.6l1.4 7.2-3.4 7.9 8-.5-4.6-7.4 9.4 .9-3.2-7.1 5.5-6.2 9.4 0-6.1 6.9 8.5 .8-2.4-7.7 9.4 0 6.5 7.1 9 .5 8.5 5.5 6.9-6.3-7.4-1.3-8 2.1-5 4.9 .1 6.1 8.4 3.3 5-8.8-.5-7.6-4.8-5.5-9.4 0 6.2 7.6 .4 7.2 8.1-1.7 9.7 .8-2.8-7.1 7.1 1.5 7.2-1.3 5.2 6.8 3.1 6.4 6.6 4.6 8.7 2.1 4.3-6.4 7.8-3.5-2-9.5 10.4 1.2 9.1-2.9 4.8-5.8-9.3 0-9.4 0-5.6 7.5-7.4-1.4-6.3 3.8-6.5 5.6-8.3-1.7-4.2 6.5-8.6 .2-4.7 6.9-7.8-.1-6.1-5.4-3.1-7.1-5.3 3.8-6.2-4.4 2.1-7.1 4 5.4 5.4 2.3M525.8 611.4l9.3 0-2.8 7.1-6.6 1.9 .1-9-7 7.7 6.9 1.3-3.4 7.5-3.5-8.8-5.5 6.9-5.3 6.3 2.2 8.8-9.1 2.7-9.2 2.3-4-6.8-6.9 .8 1.6 8.9 5.5 5.9 3.8-8.8 5 6 5.2 5.9 9-2.2-2.8 9.1 11.9 2.3-1.5-8.7-7.6-2.7-4.3-6.1-4.7 8.3-4.3 7.4 10.5-.5 3.1 9 10.9 1.8 7.2 1.7 3.5 4.4 6.6 .9-5.9 5.8-.7-6.7 3.1-6 3.5 6.9 9 1.2 4.1-9.9 5.1 6.6-9.2 3.3 .7 11.6 5.6 7.7 1.6-7-7.2-.7-7.8-4.5-1.9-8.3 4.5-7.6 4.5 8.8-7.1 7.1-7.8-2.5-7.1 6 4.3 8 2.4 6.6-2.5 6.7-4-7.1 6.5 .4 4.8-4.5-7.2-2.1-4.1 6.2-9.3-1.8 .3-8.9-7.2-4-1.7 6.2 8.9-2.2 8.8-3.5-9.6-4.5-6.4 4-7.4 .6-4.7-5.2 7.9-1.7 4.2 6.3M525.7 620.4l4.5 5.2 6.1-1.7M541.3 619l3.2-7.6 9.4 0 2.8 6.8 6.6-6.8 .5 8.3-4.3 5.6 3.9 6.6 4.1 6.5-8.8 .4 4.5 6.4 4.3-6.8 3.3 5.7 5.8-5.3 .4 8-7.3 4.6 8 2 5.7 5.9 8.7 3.3 6.6 2.8 6.9-1.9-2.3 8.1 11-.5 9.9-1.3 .3-9.5-4.3-8.8 4.2-7.5 4.2 7.1 4-8 7.3-.1 7.2-4 7.8-.3-1.4 7.2-.3 9.1 .4 8.9 5.9 4.9 7.1-2.3-6.6-5.9-6.4 3.3-7.1-4.5 6.7-4.4 6.8 5.6 6.6-3.3 0-9.2-6.5 3.5 6.5 5.7 0 9.2 0 9.2-6.3 6.4-7 2.3-6.7-5.9-7.3-6-7.3-5.9 1.5-8.8 6.2 5.8-.4 8.9 8.6-3.3-1.3 9.3-1.2 8.8 7.9-2.9 6.4 5.1 .6-7.4 6.3 2.7-6.9 4.7-.3 8.6 7.2-4.1 0 9.2 0 9.2 0 9.1 0 9.2-8.5-3.9-8.1 .8-5.9-3.7-1.1 8.9 2.9 8.3-6.7-.8 3.8-7.5 7-5.2 1.6-7.1-7.5 3.4-9.4 3.9-7.1 6.7-5.7 5.2-7.9-.1-8.6-5.3-9.2 .2 3.7-6.3-.8-8.1-6.7 6.9 3.8 7.5 4.3 6 4.9-6.2-5.5-6.1-7.5-1.2-8.7-1.9-1.6-8.2 6.1-5.7 7.2-4.6 .7-8-.3-6.6-6-6.6 8.8-6 5.7 5.7-5.7 2-8.8-1.7-8.4 7.6-4.4 8.3-3.3-6-3.6 4.5-.4 8.6-8.9-.4-6.1 4-6.5 5.1-8.8-2.8-8.6 1.5 4 9.5-3.8 8.8 1.5 7.3 5.5-6.6 2.9 7 9-1.5 9.7 1 8 1.6 9-2.3-9.6-6.4-7.4 7.1 3.7 7.8-9.4 0-9.4 0-3.6-7.3-5.8 7.3-2.6-7.7-6.7 7.7 9.3 0 9.4 0 5.4-8.8-5.6-4.3-6.3-1.2-7-.7-7.8 5.5-9.7 1.6 3.2-8.2 8.6-3.5-2.1 10.1 2.6 9.5-9.4 0-2.9-7.9-6.6-.1-4.9-5.2 6.5-7.1-3.1-10.5 .6-10.1 11.5-1.3-8.6-6.7-5.7-5.6 3.2-6.9-5.4-3.6-4.9 .1 2.4 5.2-1.7 6.5 6.4-1.3-2.1 6.2 7.8-.6-2.9 8-8.3-2-6.8-1.3-.4 5.6 3.9 4.9-7.4-1.4 3.5-3.5 4.4-.7-4-4.9-4.7-.5-2.3-2.6-2.3-2.5-2.3 1-.4-2.8 2.7 1.8 .1-3.6-1.1-2.8-1.8 1.7-.7-2.2 1.7-2 .8 2.5M549.3 616.9l4.6-5.5 9.4 0 7.7 7 1.7-7 8.7 6.6-5.2 7.2-8.4 .1-4-5.6M563.3 611.4l9.4 0 9.4 0-.7 6.6 9.6 3.3 1.3 8.5 2.3 8.5 3.4 9.7 5.1-9.3 2.1 7.8 3.5-4.2M582.1 611.4l9.4 0-.5 9.9 7.4 3.3 8.3 3.8M581.4 618l-10.4 .4-3.2 6.9-4.4 6.6-8.9 .3-4.7-7.7M591.5 611.4l5.8 6.1 3.6-6.1 9.4 0 4.8 8.7 4.6-8.7 4.5 5.8 8.8 2.1-4-7.9 9.4 0-5.4 7.9-1.8 8.9 6.6 6.7-9.6 1.4-3.8 7.7-5.2-6.5 4.6-6.6 7.4-2.7-7.2-4.2-8.9-3.9M597.3 617.5l1.1 7.1-6.1 5.2-7.8-2.9-5.2 4.7-2.7 7.2-9.1-.4 4.5-6.7 7.3-.1M624.2 617.2l-.2 6.8-7.5 5.4 7.3 1.5 4.4 5.4 4.4 6.8 5.2-8.2 9.3 4.1 6.4 6.9 6.9-3-5.5-4.2 5.2-4.2 .3 8.4-.3 8.7-6.9 3.4-8-5.5-5.3-6.5M633 619.3l7.1 6.4 5.4 5.2 3.5-6.2 3.7 7.2 2.2 6.8M666.6 611.4l-9.4 0-4.4 6.5-9.2 .3-10.6 1.1-9 4.7-.2 6.9M660.4 617.2l-3.2-5.8-9.4 0-4.2 6.8-5.2-6.8 9.4 0 5 6.5 5.6 7.2 2-7.9 6.2-5.8 0 9.2-8.2 4.5 1.7 9.4-7.4-2.6-7.2-1-7.7 4M658.4 625.1l-5.7 6.8-5.6 7.1-1.6-8.1M666.6 675.7l0 9.1 0 9.2-6.9-4.5-7.4 3.5 1-8.6 2.2-8.7 4.8 6.4M655.5 675.7l-8.9 2.8-8 3 .7-9-7.9 3.2-.6 9-6.2 2.3-5.1 4.6-7.5-4.5-8.6 5.6-7.6-.7-5.7 2.6-8.7-1.6-8.7-4.3 1 6.6-6.4-1.4-6.2-.8-4.6 3.1-.5-7-7.4-5.3M658.1 726.8l8.5-5.3-7.6-4.8-.9 10.1-6.5-6.3-.5-9.2-8.8-.2-9.8 .1-9.8 5 .8-10-7.2 7 6.4 3 6.5 4.8 3.3-9.8-9-5-4.1-7.2 .1-7.4 8.8 3.2-3.7-7.8-1.5-7.9-7.6 1.2 3.7 4.7-7.2 2.1 0 9.4-8.6-3.8 .4 9.4-7.7-3.5-9.1 3.6-10-.9 2.9 7.8 8.3 2.1-1.2-9 3.1-7.6M666.6 749.1l0-9.2-5.7 3.4 5.7 5.8-9.4 0-3.2-7-8.1-1 6.1-6.8 6.1-7.5 1.7 9.4 6.8-5.5 0 9.2-6.8-3.7-7.8-1.9-9-1.5-8.3-5-5.5-6.8 9-2.4 4.1-7.5-3.2-7.3-6.6 7.4 5.7 7.4 5.9 5.3 1.6-6.9-3.4-5.9 3.6-6.3 5.2 6.5 .9-9.5 7.4-3.7 7.2 5.1-7.4 4 .2-9.1-7.1-5.1-6.9-5.7-7.9 3-6.7-5.6-2.5 10.1-4.8 11.4-11.1 .2 3.9 6.8-7.8 3-9.4 3.9 7.7 4.9-6.9 3.2M660.9 743.3l-3.7 5.8-9.4 0-9.4 0 7.5-8 1.9 8 6.2-7-2-7.8-2-6.7M638.4 749.1l.8-8.8-5.3 3 4.5 5.8-9.4 0 4.9-5.8 .5-6.7-6.8-2.1 .2 7.5-5.9-2.3-2.2 9.4-5.7-9.5-7.7 2.9-.9-8.2 1.4-9.3 6.9 4.6 .3 10-3.7 9.5-4-6.6-5.8-2-7.1 1.4 2.8-7.4-10.1 .3-9.5 5.8 5.5 8.5 3.7-6-9.2-2.5-3.9 8.5-9.4 0 4.3-6.2 5.1 6.2 9.4 0 9.4 0-5.7-6 7.6-1.2 7.5 7.2-.4-8.6M633.9 743.3l-6.1-1.3 6.6-5.4 8.6-3.8M639.2 740.3l-4.8-3.7 .3-8.8 3.5-9.2 7.5-1.6 5.4-5.7 7.9 5.4 7.6-4.3-7.4-5.2-8.1 4.1M619.7 749.1l9.3 0-1.2-7.1-8.1 7.1-9.4 0-9.4 0 5.4-6.6M621.9 739.7l-1.2-6.9-6.7 6.8M600.9 749.1l-9.4 0 1.9-7.2-7.3-7.1 6.3-7.8-2.4-8-1.8-7.8 6.8 2.5 4.1 6.4-9.1-1.1-7.9-2.1-6 5.3-.7-7.2 6.7 1.9-2.2-7.8-10.2-.7 5.7 6.6 4.5-5.9 7.1-6.9 8.4 4.4 8.4-4.5 8.6 4.3 7-7.4 8.9-4.2 9.2-4.5 1.1-8.8-7.8 3.2-7.7-5.6-8.8-8 5.1-5.8 5.1-5 7.5 6.3-.6 9.1 7.2 5.8 6.8 5.8-1.2 9.5 8.1-3.8-.3 8.8-6.1 3-6.8-1-7-1.3-8.6 3.7M585.8 743.1l.3-8.3-2.4-9.7-7.6-2.9 .3 8.5 .2 9.9M567.6 742.9l-.6-8.7-3.6-9.4 6.9 1.5 5.8-4.1-6.7-3.5 .3-10.3-7-8 7.4-.6M549.9 740.3l4 8.8 5.7-7.8-3.2-9.6-.6-10.4 6.5-5.7-7.6-3.6 .2-8.8 7.8-2.8-1.9 7.6M523.2 739.6l-6.8 9.5-9.4 0 6.5-7.9-3.8-5.2-1.2-7.2 9-5.6-3.2-8.6 3.2-7.7 6.7-4.8 6.7 .4 4.7-5.9-1.9-8.1-8.2-4.3 4-6.8 6.6-1.6 3.3-7.4 2.4-7.8-6.9-4.6-7.2 5.3-9-2.8-1.8-9.4-5.8 6.7M507 749.1l-5.3-5.7 .3-7.5-4.9-10.7 8.3-6.9 12.1 4.9-.8 9.8-7 3-7.7-.1-8.2-2.3 3.3-8.4-9.9 1.1-3.8-7.9-3.6 5.2 2 7.4-2.3 8.5 8.7 9.6-9.4 0-9.4 0 3.7-6.1 5.7 6.1 .7-9.6-7.2-3.5-3.6-7.9-7.9 2.8 2.6-7.1 5.3 4.3-.3-7.4-1.5-5.4 4.4-2.4 1.1 4.2 3.2-3.6 1.2-3.9 .2-3.7 .5-3.4-2.7-1.9 2.3-1.2-2.1-1.3 .2-2.4 2.1 .1 1.6 1.7-2.1-.2-1.8 .8-2.2 .8 .4-2.2 .1-1.9-1.9 .5 1.8 1.4M506.9 741.1l-5.2 2.3-6.6-1.8-6.9 7.5-.6-12-8.1 2.4-6.4 3.5-.8-7-6.6 3.5 3.7 9.6-9.4 0 5.7-9.6-4.9-8.6-4.8 9.4 4 8.8-9.4 0-9.4 0-5.5-8-3.9 8-3.7-6.4-6.9-2.9 1.3 9.3-9.4 0 8.1-9.3 8-7.5-2.4-8.3 1-6.2 2.3-4 0-4.2-1.4-3.7-3.5-.8-.5-2.4-2.6 1.1-2.4-2 .7-2 1.5-1.2-.3-2.1-1.7 1.2 .5 2.1-2.3-.3 1.6 2.3 2.8-.8-2.1-1.2M501.7 743.4l-4.1 5.7-9.4 0M479.5 739.5l-3.7-10-3.5 6.5M473.1 743l-7.4-3.5 3-11.4 5.2-5.8-1.5-5.2-4 3.6-5 3.1 .8-4.5-3.9 1.1-4.8-2.4 1.8-6.1-4.9-1.7-.8-3.7 2.7-1.8-3.1-1.3 .4 3.1-3 1.9 3.8 1.8-.6 3.9-5.1 0-3.4 3-4.2-1.3-5 .5-4-2.5-4.6-1.2 2.3 5.2-5.2-1.2 2.9-4-3.7-2.6 3.9-1.7-.5-3.2-3.1-1.3 0 2.9 3.1-1.6 2.5-2.5 1 3.3-3 2.4 4.4 1.3-4.6 3 .2-4.3-3.6-1.6-.3 3.3-2.5-2.1-3-.6-2.9-.3 .7 2.7-3.3 1.6-.5 3.8-6.6 1.3-7.1-1.1-3.3 6.1-2.2 9.1-6.2 9.3-6.2-9.3-2.2-9.1-3.3-6.1-7.1 1.1-6.6-1.3-.5-3.8-3.3-1.6 .7-2.7-1-2.8 3.2-1.6 .1 2.7-3.3-1.1-1.9 3.1 2.2 2.4-.9 3.4 4.7 2-6.4 2.5 .2 5.6-4 5.4-.7 11.2-1.3 9.3 9.4 0-8.1-9.3-8-7.5 2.4-8.3-1-6.2-2.3-4-3-1.4 3-2.8-2.4-3.3-3.7-.1 1.9-2.5 1.8 2.6 3.8-.4 3.5-.8 .5-2.4 2.6 1.1 2.4-2-.7-2-1.5-1.2 .3-2.1-1.4-1.4-.6 2.2-.1 2 1.2 1.7 2.8 .8 1.6-2.3 1.7-1.5 2 .2 2.2-.1 1.1 1.9-2.2-.3-2.2 .2-.9-1.9-.7-1.9M465.7 739.5l-9.7 .8-5.4 8.8-4.9-10-4.5 10-9.4 0-9.3 0 5.6-6.4 1.1-10.4-8.7-3.7 .7 11.2-7.7-4.1-.4 13.4-9.4 0-9.4 0-9.4 0-9.4 0 3.4-7.9-.2-10.7 6.2 .6 0 8.7 0 9.3 6-7.9 .2-10.7-6.2 .6 0-7.1 6.2 6.5 7.4-4.3-5.2-4.8-2.9-4.7 6.2-1.4 4.1-3.4 3 4.5-4.7 3.9-5.7 1.1-8.4 2.6-6.2 6.5-7.4-4.3 5.2-4.8 8.4 2.6 0-5.7 8.4 3.1M445.7 739.1l-.3-10.4 5.5-5.2 4.6-5.5-3.7-3.9 5.5-2.2-1.6-4.2-3.3 2.5-3.3 1.5-2.4 2.4-1.1-3.9 3-1.8-.7-3.8 3.7 1.9 4.1 1.2-1.4-3 3.4 .5 2.9-.4-1.5-2 3.1-.3-2-1.8 1-2-1.5-1.1-1.9-.5 1.7-1M428.1 742.7l7.6-1.6-6.5-8.8 8.9-1 7.3-2.6 7.4 2.3 8-.1-3.5-6.6-1.8-6.3 5.8-2-4-4.1 3.1-4.1 .2-3M413.1 749.1l-6.1-9-3.3 9-4.8-11.7-7.8-6.9M407 740.1l-.7-11.1-7.8-2.8 .5-5.9-2.4-5-.2-4.9 2.6-1.6 3.4-.1 3.3-.8 2.7-1.3-.3-3.1-3.7-.7-3.7 .6-1.4-2.3 1-1.9-1.1-1.6-2-.2 1.2-1.6 .8 1.8 1.9-.1-.8 1.7 2.2-.3 2.1-1.1-.8-1.8-2-.5 1 1.7 1.8 .6 1.1-1.9 1.2 1.5 .6-1.8 1.4 1.3 2.1-.6 1.2 1.8 1.1-1.6-2.3-.2-1.7-1.1M398.9 737.4l-4.6 11.7-3.4-7.9-6-1.4-6 1.4 6 7.9M390.9 741.2l8-3.8-.4-11.2 5-3.9 .2-5.9 2.3-4.9 4.3 3.6 4.7-2-.9-3.4 2.2-2.4 1.5 3.1-3.7-.7-3-1.4 2.3-1.3 1-2.8-3.2-1.6 2.4-1.2 1.9-1.5-1.1-1.7-2.2-.1 1.1 1.6 2.2 .2 2.6-.4 0-1.9M378.9 741.2l-8-3.8 7.8-6.9M376.5 721.4l2.9-4.7-6.2-1.4-4.1-3.4-3 4.5 4.7 3.9 5.7 1.1 8.4-3.1 5.5-1.6-1.7-3.8 1.8-3.5-2.2-2.6-.7 3.3 2.9-.7 2.2 2.8 3.9 3.1M390.4 716.7l2.3-4.5-4 .7-1.1-2.8-2.7 3.4 3.8-.6-3.8 5.4-3.8-5.4-1.8-3.5 2.2-2.6 .7 3.3-2.9-.7-2.2 2.8-3.9 3.1-2.4 5 .5 5.9-7.8 2.8 2.8-6.7-.2-5.9-2.3-4.9-4.3 3.6 .3 5.9 6.3-4.6M379.4 716.7l1.7-3.8 1.1-2.8 2.7 3.4-3.8-.6-4-.7 2.3 4.5 5.5 1.6 0-4.8 0-4.1 3.4-2.6-3.4-.8-3.4 .8 3.4 2.6 2.7 .7M382.2 710.1l2.7-.7 0-3.4 0-3 3.6-1.3 2.4 .4-.8 2-1.8 2.7-.9-2.6 1.1-2.5-1.6-1.4 2-1.4 2.4-.4 1.6-1.2 2-.6 2.3 .7 1 1.8 2.1 0 1.6 1.7-2.6 .2-2.2-.2-2.3 0-1.6 2.3-2.3-1.1 1.5-1.5-1.1-2.1 2.5 .3 1 2.1 1.4 2.1-3 .2-3.1 .9-1.6-2.4 .4-2.8-.6-2.1 1.5-1.3M388.3 706.8l3.7-.4-1.5 3 3.1-.5 2.8 1.5 4.3 1.5 1.7-3.2 3.6 2.8-.3-3.6 .2-2.6 2.5 1.3 2.7 1.7-.3 3 4.2 1.8 5 .4 1.8-3.5-4 .4 1.5-2.5 2.8-1.2-3.5-2 1.1-2.9-3 .1 1.4-2.4 1.8-1.8 2 .9 .6 2.4 2.2 1.7 3-.1 .6-2.6 1.9-.7-1.2-1.5-.7 2.2-2.7 .5-.9 2.2M381.5 706.8l-1.8-2.7 1.6-2.4-2.4 .4 .8 2-3.1-.9-2.8 3-3 2.6-3.4-.1-3.3-.8-2.7-1.3-2.7-1.3-2.3 1.7-2.9 .3-3 .6-2.5 2.1-3.9-1.7 .5-3.2 3.1-1.3 0 2.9-3.1-1.6-2.5-2.5-2.7-1.5 2.1-1.1 1.5-1.5-2.2-.7-1.2 1.5 1.9 .7 .6 2.6-1 3.3-1.4 3.7 0 4.2-4 2.5 1-3.9-3.8 .1-4.8-.4-5 2-5.1 0-.6-3.9-4.9 1.7-4 4.1 1 4.4 4.8-2.4-1.8-6.1 5.5 2.2-3.7 3.9-5.8-2-5.6-.7-4.4-2.4-2.4-2.3-1.9 2.9 4.3-.6 .4-3.5-2.8 1.2-3.1-1-3.5-1.7-2.5-2.7 3.1-.2-.6 2.9 3.3-2-2.7-.9 2.2-2.5 .5 3.4 .2 3.7 1.2 3.9-2.2 4.2-5.6 .7-6.1 1.1 2.5-5.5-3.5-3.5-.4-5.6-4.8-3.5-2 4.8 6.8-1.3 4.7-.5 3.4 .8-1.1-3.4 2.3-2.5 2.7-1.8-.4 2.8-2.3-1-.1-3.6 1.1-2.8 2.5-.5 1.1-2 2.4 .2-.2 2-1.6 1.2-1.7-1.4 1.9-.4 1.6-1.4-1.2-1.8-2.1-.3-1.9-.6-2.1 .3-1.6-2.5 3.2-.1-1.6 2.6-3 1.1-4.6 0-1.1 4.6 3 2.7 2.8-1.3 1.5-2.6 2.7 .2 1.8 1.7 .7-2.2-1.7-2-2.1-2.2-.6 2.3 2.7-.1 0-2.5-.5-2.3 1.8 1.1 1.1-2 .8 2.3 .8 1.8-1.2 1.6-2.8 0-.8 2.5M387.4 704.2l2.7-.1 1.9 2.3 1.2-3.2-.8-2.6 2.4 .3 1.2-2 1.2-1.5M382.4 704.2l-.9 2.6-3.7-.4-4-.2-2.2-1.8-1.7 1.9 3.9-.1-.4 4.2-2.6-1.6-1.7 3.1-1.7-3.2-3.6 2.8 .3-3.6-.2-2.6-2.5 1.3 .3-3.1-3 1.8 0 3-3 1.4-3.7 .7-4-.4-3.7 2.6-4.6 1.2M386.9 700.3l-2 2.7-3.6-1.3 1.6-1.4-2-1.4-2.4-.4-1.6-1.2-2-.6-1.1 2.2-1.2-1.5 2.3-.7 2-1M388.5 701.7l1.9-1.3 .9-1.9 0-1.9M382.9 700.3l2 2.7 0-2.5 2-.2-.1-1.9 1.5-1.6M381.3 701.7l-.4-2.8 .6-2.1-1.5-1.3M386.8 698.4l2.1 .5 1.5 1.5 2 .2 1.4-1.8 1.1-2.1-2-1M383 698.4l-.1 1.9 2 .2 0-2.2 1.7-1.8 .2 1.9-1.9 2.1-1.9-2.1-2.1 .5-1.5 1.5 1.9 1.3 1.1 2.5 2.5 1.8 2.5-1.8-2.5-1.2-2.5 1.2-2.7-.1-1.9 2.3 1.5 3-3.1-.5-2.4-2.7-.2-3.2 3 .2-1.6-2.3-1.2-2-1.1 2-2.2 .2-1-1.9 1.1-1.6 2-.2-1.2-1.6-.8 1.8-1.9-.1-.7-2-2 .5-.8 1.8-1.1-1.9-1.2 1.5-.6-1.8-1.4 1.3 .5 2.2 1.7 1.9 .5-1.9 1.6-1.3 1.8-.6 1-1.7 1.8-.7M384.9 696.3l1.5-1.5M386.6 696.5l1.4-1.4M383.2 696.5l-1.4-1.4M383.4 694.8l1.5 1.5 0 2-1.7-1.8-.2 1.9-1.5-1.6M384.9 673l-1.5 1.4M386.4 674.4l-1.5-1.4 0-1.9-1.8 1.6-1.3 1.4M387.2 670.6l-.5-2.3 2.3 .4 .4 2.2 2.1-.5 2.3-1.1 1.9 1.4 2.4-.2 .1-2.8-2.2 .9-.3 2.1 1.3 1.8 1.1-2 1 2.6 2.8-.5 1.3 2.5-2.4-.3-1.7-1.7-1.7 1.3-.4-1.9 2.1 .6 1.2-2.1 1.6 1.6-1.1 2.2-.7 2 2.1 1.8 1.6-1.5 2.2-.5-.9-3 2.9-1.5-3.6-1.4-2.6-1 .1 2.9M382.6 670.6l2.3-1.7 0-2.5-2.3-.2 2.3-2.8 2.9-.1 3.3-.5 3.7 .4-2 2.2-1.7-2.6-2.5-3-3.7 .2 2.9 3.3 .8-3.5-3.7-3.8-3.7 3.8 3.7 .2-2.9 3.3 2.9 .1 2.3 2.8 .6-2.9 2.1 2.5 1.2-3 2.4-3.7-.8-5M586.1 734.8l-9.7-4.1 7.3-5.6 6.3-6.1 5-5.3 .4-7.1 6.9 4.4-3.2 9.1M468.7 728.1l7.1 1.4 4-5.9 7.4 2.7 2.3-6.8 4.9-4.1 11 2.9-5.6-6.5-2.1-5.6 3.4-5.4-4.3-4.9-3.1-.8-3.1-1.2 3.3-2.1 4.6-2.4M502 735.9l-6.9 5.7-1.3-8-6.6-7.3-5.4 4.7-6-1.5-1.9-7.2-5.5-1.6-4.2-1.4 2.7-4 .7-4.4 .6-3.3-3.4 .6 2.8 2.7-4.5 .7-5.8 .3M509.7 736l-2.8 5.1 .1 8-9.4 0-2.5-7.5-7.5-4.5-.4-10.8M429.2 732.3l4.2-9.4-5.6-5.1 6.3-1.5 2.8-3.8 2.2 3.3-.1 4.2-4.9-3.7-.7 6.6-6.6 1.1-6.3 4.6-4-5.4 .2-5.6-6.4-2.5-.3 5.9-6.3-4.6M395.1 649.7l-4.6-4.8-5.6 .6 4.6 5.2-4.6 .6 4.2 4.3-.5 4.2 4.9-.7-4.4-3.5 .4-4.9 1-5.8-5.6-6.3-5.6 6.3-4.6 4.8-3.8 1.7-3.1-3.2 5.1-5.7-1.9-10.5-5.3 6.5 2.1 9.7 6.9 1.5-1.4 4.9 3.8-.5-.8 5-3.6 2.2-1.3 3.2 2.7 1.6 2.9-.7-1.2 1.9-2 1.3 .3-2.5 1.7 1.2 .2 2-2.2-.7 .3 2.1 2.1 .6-.2-2-1.9 1.4-2.4-.2 2.1-1.9-2.2-.9 2.5-1.6 .9-2.9 2 2.2 1.7-2.6 3.3 .5-.8-3.5-2.5 3-3.7 .4-3.6 1.3-3.6 0-1.6-2.5-3.6-.4-3.3 4.3-3.5 3-1.6 3.2 .6 3.1 2.5 1-2 1.3-.5-2.3-2.5-.8 1.9-2.3-2-3.2-3.6 .2-.4 2.4-2 1.5-2.2 1.4-1.4 1.3-1.7-1.5 3.1 .2 2.9 1.4-2.4 .3 1.1 1.8-2.5-.3 1.4-1.5M531 734.1l-5.7-4.6 9.5-4.2 8.4 4.3-.1-7.1-8.3 2.8-8.3-3.4 4.3-6.1-8.2-.5-5.1-8.4M495.3 623.8l-7.7 2.4-3.6 6.2-3 7.7-5.9 6.4-6.5-3.9 .2 10-2.5 4.5 4.2 1.7 .4 5.4 1.7 4-2.6 3.2 2.3 2.3-.7 2.5 1.7 1.2 1.2-1.7 2.5-.7-1.6-2-3.1 .7-3.3 1.2 2.6 1.3-.2 2.1 1.9-.9 .2 2-2.1-1.1-2-.9-2 1.5-1.7-1.4-1.8-1.1 2.1-1-.3 2.1-.4 1.9 2.1-.5-.9 1.9M567 734.2l9.4-3.5-6.1-4.4-.9-7.6 6-3.7M556.4 731.7l-7-5.8-.5 6.9-5.7-3.2-5.2 5.2-3.2-9.5 4.6-11-6.1-5.2M388.9 698.9l1-1.7 1.4 1.3M472.3 626.6l3.2 8.1-7.9-2.4 1 10.3-6.8-3.8-7.6-3.5-.1-8.9M522.3 627.9l-9-1.9-3-7.7-8.8-.7-6.2 6.2-8.1-4.8 .4 7.2M406.3 729l-2.8-6.7-4.5-2M598.9 631.9l4.2 6.8M493.8 733.6l-6.2 3.5-5.8-6.1M544.3 736l4.6-3.2 1 7.5 6.5-8.6 7-6.9-7.6-3.5-1.1-9.3-8.1-5.5-8.5-1.9 4.1-5.8 7.1-3.3-2.7 11-4.4-7.7-.7-7.8-5.9 5.6 2.5 8 1.3 9.7 3.7 8.2M647.9 669.2l5.7-5.3 .6 5.8 5.3-.9 7.1 6.9-11.1 0 4-6.9 .5-8.2 .1-9-6.6-5.7-8.3 3.6-5 6.4 6.3 3.5 1.4 9.8 7.6 6.5-1.3-6-6.3-.5-8.2-5.6 .5-7.7M644.2 696.8l-5.1 7-2.7-6.4 1.1-7.1 6.7 6.5 7.8 5 7.2 5.4-.2 9.5-7.4 3.8-5.9-3.5M390.5 672.3l-1.9 .1-1.9 .3 .5-2.1 1.4 1.8 1.1 1.6 1.9 0 1.8 .9M389.4 670.9l-2.2-.3 1.8-1.9 2.8-.8 2.2-.6-1.2-1.9 2.9 .7 .3 2.5-2-1.3-.2 2 2.2-.7 2.1 1.9 1.8-1.4-1.7-1.4 .2-3.2 3.6 0-1.7-3-1.9 3 2.3 2.6 1.3-2.6 1.5 3 .9 3.2 2.6-2.2 3.5-2.6 2.1-4.2-4.5-4.1-5 1.4-2.8 2.5-1.8-3.2 3.5-3.8-3.1-3.1 3.1-3.2 0 6.3 1.1 4.5-4.6-.7-2-3.7-3 4.5 1.3 4.1 3.6 1.3-1.3-3.2 3.2 .2 3.3 .5-1.6 2.5 3.6 .4 4.9 1 .2 3.9 3.3-.9 1.6-3.4-3-3.8 4.7 .4M391.5 670.4l-1 1.9 1.1 1.7 1.8-.9M389 668.7l2.5 1.7 .6 1.8M393.6 671.3l2.1-.6M442.4 624.9l5.3-4.8 .5 8.7 6 6.5-5.2 8.9 2.1 7.9-7.1 .1-.2 7.5-1.5 4.4 3.2 .1 3.5-1.4-1.8 4.8-1.7-3.4-1.3 2.4-1.9-2.5-.9 3.9-3.4-2.2 4.3-1.7-3-2.8-1.5-5.1-5.4 .4-.2-4.9-4.7 3.1-2.3-5.2-4.2-7.1-3.6-8.7-6.4 9.9-6.9-5.2-7.2 4 5.1 5.7 9-4.5-.2-10.2M645.2 649.5l-8.6 .4-4-6.8-8.2 .9-6.6 .7-4.2-3M420.5 728.6l1.5-7.5 5.8-3.3M426.8 724l-4.8-2.9-5.5 2.1-3.2 4.2 7.2 1.2-7 7.1-7.2-6.7-7.4 8.4 8.1 2.7 6.5-4.4-.2-8.3-7 1.6 3.7-8 6.5 2.2M433.4 722.9l4.7 8.4 7.6 7.8 10.3 1.2-3.2-9.3-1.9-7.5 6.4 .8 6.1-.5-3.1-3.4-3 3.9-4.5 6.7-7.1 8.1-10 2 2.4-9.8 1.8-6.1 5.5 3.5-.9-6.5-1.2-5.1-4.3 2.9-5.6 2.9 6.5 2.3-.9-5.2 5.5 2.2 6.4 1.3-2.1-5.3-2.1-4.1-5-2-2.6 3.7M403.5 722.3l6.5-1.3 6.7-3.4 5.9-1-2.6-3.1 5.5-.9M413.3 727.4l-3.3-6.4M455.5 718l-6.7 .2 3-4.1-2.7-2.4-.5-3.3-3.1-1.4-1.8-3.1 2.6-1.7 .5-2.4 2.5-.9-.4-1.9-1.3-1.4 2.2-.1-1.2-1.5M605.4 734.3l8.3-4.7 7 3.2 6.9 1.7-1.1-6.4 2.7-7.1-8.2 3.7 1.7-8.5-8 4.7 1.6-7.7M454.2 635.3l-7.2 .5M393.8 698.8l2.2 .1 1.1 2 1.2 1.8-2.1 .3 .9-2.1 1.1-1.7 1-1.6M439.9 725.2l4.6-3 4.3-4-5.5-1.1-1.6-5-3.1-3.3-1.7 3.7-2.3-3.2 4-.5 1.2-3.4 3.9-1.5 .8-3 1.8 1.3 1.6 2.4-4.2-.7-1.3 3.9-3.8 1-2.4-2.6 3.6-.8 2.6 2.4 3.2 2.4 3.5 1.5M497.1 725.2l-2.7-9.8 5.4-3.6 6.2-3.6-4.9-7.4-5.4 .6-4.8 3.5-5.6 3.7-5-.7 2.5-2.7-3.1-.2-2.2-2.5 1.8-2.2-2.2-.9 1.8-1.9 2.8-1.8 1.6-3-1.5-1-2-1.3-2.8 0-1.2-1.6 .8-1.8 .8-2.3 2.9 .9 3.2 .1 1.6-2.9 1.2-2.5 2.1-1.4 2.3 1.7 .5-3.3-2.8 1.6-.4-3.5 3-2.3 3.4-2.8-3.9-1.2 1-3.8 1.4-5.4-7.8 2.4 3-7.4 8.8-2.8-4 7.8 4.9 5.5-3.4 4.9 .5 5.3-3.7 1.7-.2-4.2-4.2-2-3-3.5-3.5 1.7 2.3 2.3-1 2.9 .8 2.8 1.2 2.9 2.7 .1-.7-2.6 2.8 1.2-.2 3.2-1.9-1.8M647.1 639l-1.9 10.5 1.3 9.9-6.8 4.2-7.7 3-7.8 3.2 7.2 5.9-8.3 3.4 1.1-9.3-4.8-4.5-5-5.8-9-5.2-.2-7.8 6.8 2.2 2.4 10.8-.1 11.6-6.2 8 7.4 1.2M460.3 720.4l1-4.4 5.6-.7-3.8-3.7 1.7-3.4-4.4-.4 2.8-2.4 1.5-2 2.3-.7 1.9 2.1-2.7 .6-1.5-2-2.5-.9 .1-2.1-1.1-1.7-2.4 .3-2.3-.2-1-1.8-2-.2 .9 1.8 2.1 .2-1.3 1.8-.8-2 1.1-1.6 2.3 .1-1.3 1.7 1.1 2 1.2-1.8 1.4 1.7 2.1-.3 2.6 .2 2.1 2.1 2.7-.7-1.8-1.6 .5-1.9 1.1-1.8 0-2 1.9 .6 .1 2.1-2-.7-1.6-1.4-.8 1.8-2-.7-1.9 .8-2 1.5-.1-1.9 2.1 .4 1.9 1-1.8 .9-2.1-.4M464.2 719.3l-2.9-3.3 1.8-4.4-2.7-3.8-4.7-.1 2-2.5-1.5-2.5-1.9 2-.8-2.6-2.3 1.3-3.3 1.2-2.4 2.4 .1 3.2-3.9 1.9-4.8 .4-3.8-.1-3 1.4M619.2 637.5l-1.4 7.2-5.8 4M645.9 704.8l-1.7-8-7.8 .6-8.1-2.6 3.8 7.7 .4 8.7M411 643.7l6.2 6.7 3.8-7.9 10 .8M416.7 717.6l3.3-4.1-2.2-3.1-2.8 2.7 1.7 4.5 5.3 3.5 .6-4.5M393.2 703.2l2.8 3 3 2.6 1.7 3.1 5.3-.4 4.8-.2-2.4-2 0-2.7 2.7-1.3 2.3 1.7M529.7 639.8l-.1-6.8 6.8 4.6 8.4-4.3-.9 9.2 7-3.8 3.6-6.5-9.7 1.1M517.5 723.2l7.8 6.3 1.2-7.6-9 1.3 5.1-7.9 4.2-6.6-2.6-6.6-6.4-4.1-.8-8-10.6-2.3 8.1-5.7-3.1-8.1-10.8-.8 7.7-8.2M505.4 718.3l8.9-3.7-8.3-6.4M634.7 727.8l-8.2 .3-5.8 4.7 .3-8.1-7.3 4.9 1-8.7-7.9 4.1 1.7-8.8 3.9-9.8-.4-9.9 7.5-4.9-.3-6.6 5.4 2M394 667.3l1.7-1.2 2.5 1.6 2.5-.6 1.1 2.6 1.7-2.2-2.8-.4-.8 2 1.9 .6-1.5 1.3-2.2-.5M585.9 636.2l3.5 8.8 1.4 8.9-7.4 5.4 3.7 9.3 3.6 7.5-.9 9.3-6.5-9.5-4.7-8.5-4.6-8 3.7-6M626.5 728.1l-5.5-3.4-6.3-3.8-6.2-4.7-6.2-5.2 1.5-8.9 8.2-5.6 7.4 2.5M402 648.2l7 4.2-.9 5.2-.9 4 3.3 4.3M475.5 634.7l-.4 11.8 .7 9-5.3 3.3-4.1 2.7-.1 4.4 .3 3.8 3.4 1.7-3.5 1.5 2.5 2 1-3.5 3.4-.3-1.1 2.6 2.2 2-2.9 .5-2.2 1.2-.4-2.5-3 .5 .5-2.5 .1-3.2 2.8-1.8-3.1-2-3.5 2.5-4.1-.2 1.5 2.7 .8 2.5 2.8 .7 2.7-1.2-3-1.4-3.3-.6-2.9-.1 1.4-2.6 2.1-4.1-2.5-5.2-5.5-.9-3.8 4.8 2.8 4.4 3.3 2 2.2 1.6-2.5 1.7-2.9-1.4-2.8 1.8-.1 2.7-1.8 1.1-1.9 .4 1.1-2.5-2.4-1.8 .1-3.1-2.7-1.7 2.8-1.4 3 1 2 2.4 2.6-2.8-4.6 .4-3.1 2.1 .1-3.1M510.2 641.1l-3.4 8.6-5.7-5.9-4.2 8.3 9.9-2.4 10.1-.6 8-4.6-6.5-3.2-8.2-.2 6.7 8 9.5 3.6 1.3 8.6 7.2 1.9 6.9-2.6 2.3-8.7 4.5 6.4-.2 7.8-9 2.3-4.5-5.2 0-7.2-.6-9.5-7.9 6.2 8.5 3.3 9.2-4.1-9.8-5.4 9.6-4 .2 9.4 8.2 1.7-3.7 4.7M481 640.1l-5.5-5.4-6.9 7.9-6.2 5.9-6.3-2.7-1.9-10.5 6.4-6.2-2.6-9.3-10.3 .3-9.7-1.3-9.8 .9-6 6.4 3.5 7.6-4.7 8.8-10 1.2-2 8.7-7 2.1M632.1 702.5l4.3-5.1M548.9 732.8l7.5-1.1 10.6 2.5 3.3-7.9M393.6 708.9l-.9 3.3 3.7-1.8-.4-4.2 2.2-1.8-2-1.4-.2 3.2-2.4 2.7-1.6-2.5 4-.2 3.9 .1 2.5 2.4 .8-3 2.5 2.2 2.7 1.4 2.7-1 0-3-3-1.8-2.2 1.8-1.5-2.5 0-2.7 1.8-1-1.6-1.3-.2 2.3-1.9-1.2-1.4-1.4 .7-2-1.8-.7M441.7 712.1l.7-4.3 3.1-.8M518.4 641.3l-1.5 7.8M595 713.7l7.3-2.7 10.1-4.6M489.5 719.5l-2.5-5.5-3.6 4.4-5.6-.7-2.2-4.2 5.1-.9-3.9-3-3.2-2.6 3.4-1.1-2.6-2.4 .4-2.9-2-1.7-.6 2.4-.6 2.9-.9 2.5 .2 2.7 2.7-2.4 .1 3.6M494.4 715.4l.5-5.6 2.8-3.6-2-4.8 1.1-5.5-2.9-4.1-4.4-2.5 1.7-5 2.7 3.4 2.2-3.5 2.4-4.6-4.7 .7 1.1-4.7 5.7-2.5-2.1 6.5 6.5 .4-4 4.1M576.6 638.8l-4.6-7.1-4.2-6.4-8.3 0-5 6.9 4.2 6.6-5.5 7.4 6.7 6.2 9.8-1-6.5-6.2-10 1-2.3-7.5M514.3 714.6l8.3 .7 3.9 6.6M434.1 716.3l-1-3.9-3-2.8 4.5-.3 1.6-3.1 1.3-2.8 2.3 2 .6-2.7 3.3 1.2-1.2-2.2-1.6-1.3 2-.5 1.7-1.8 2.2 1.7 .4-2.2-2.6 .5 1.4-1.6M397.1 661.3l-2.3 1.9 .9 2.9 2.7-1.6M406 711.5l2.4-2.2M605.2 646.5l-7.2 1.5 7.4 6.3-7.1 3.8-6.2 4.5 2.9 8.1-7.9-2.1-3.8 7.3-8.6-1.2 4.1 8.4-8.3-2.2 4.2-6.2-6.6-.1 1-7.4-7.7 5-5.4-5M482.6 649l-6.8 6.5-1.5 5.2M534.3 646.5l2.1-8.9 7.5 4.9 9.3 3.7-.9 7.4M598 648l-8.6-3-6.6-1.7-6.2-4.5 9.3-2.6 6.4-6.4 6.6 2.1-.5-7.3 6.3-5.7-3.8-7.5-9.4 0-10.1 6.6 3.1 8.9 1.4 9.3-3.1 7.1M440.8 641.6l-3.4 7.7M617.8 644.7l2.4 6.8-5.8 8 10.1 .8M394.9 696.7l-.6-2.1-1.8-.7M399 708.8l.9-2.5 .8-2.9-2.4-.7 1-1.6-1.1-1.9-2.2-.3-1.1-2.2 1.8-.7M468.8 652.6l-6.4 2.2 0-6.3-5.4 4.9-4.2 4.6 1.9 4.9 1.5 3.2M475.8 655.5l6.2 1.1M466.3 657.1l.1 4.4 4.5 2.7 4.6 .7-2.9 3.3 .8 2.9 2 1.9 3.6-.2 1.3-3.5-.5-3.6-4.3-.8 1 4.5-3.9-1.2-3.2-.3 .6 3.5M499.8 711.8l-4.9-2M444 652.2l4.1 4.8 .9 5.8-5.2-3.1-6-3.5M539.4 714.3l7.2-7.8M480.7 712.6l-2.9 5.1 2 5.9-5.9-1.3 3.9-4.6-5.4-.6-5.5-1.8M394.8 691.4l-2.7-.1-2.2 .4-2-.3-3 .4-3-.4-2 .3-2.2-.4-2.7 .1M570.8 644.1l-1.1 7.3-4.5 7.6 8.8 .4-4.9 7.8M553.2 646.2l-9.1 5.7M569.7 651.4l4.3 8 9.4-.1M422 654l5.5 .8 1.5 4.9 3.4-3.1 2.1 4.9 3.5 4.3-3 2.9-2.3 1.9-.7 2.5-3.1 1.1-1.7 1.5 1.8 1.1 2.4-1 2.3 1.8 .9 2.2 1.7-1.4 1.9 1-1.7 1.2-.2-2.2 2.2-1 .8-2.1 1.9 1.5 2.4-1.3 1.7 1.6-1.9 .4 1.1 2 1.8 .6M462.8 659.2l3.6 2.3-5.6 2.6 2-4.9-4.5-.3 4.1-4.1 3.9 2.3-3.5 2.1-.4-4.4-5.4-1.4-.9-7.6-5 6.3 1.7 5.9-4.7-1-4.3 2.7 1.7 4.5M530.2 669.8l-.7 7.6M587 702.2l-5.6-9.2-2.6-9.9 4.5-7.2 7.4 .2 7.9 3.3 4.7-7.8-4.6-6.2-3.7 5.3 3.6 8.7 0 7.7 4.8 5.6M614.4 659.5l-8.8 4-7.3-5.4 .4 7.3M623.1 679.1l-3.9 5.9M490.5 710.5l-5.2-1.9 1.7 5.4-6.3-1.4 4.6-4 .9-4.2 1.2-3.7 .2-4.1-3.1 1.6-2.9 1.1-.8 3.2-1.1 2.5M420.8 661.2l-4.4-3.8 .8-7-8.2 2 7.4 5-3.8 4.3-5.4-.1-4.1-2.6 .5 3 2 2.9-2.1 2.6 3.5 1-1.4-3.6 1.6-3.3-3.6 .4M460.4 707.8l-2.7-2.6 1.4-2.4 1.1-2.1-2.6 .1-1.4 1.9-1-2.1-1.9-.4 .2 1.9 2.7 .6 2.9 .1-1.5-2-2.4-.2-1.7 1.5-2.2-1.3-.1 2.6-2.4-1.8-2.5 .6M485.3 708.6l-2.5-3.4 1.1-3.4-3.1 .7-1.5-2.2M470.9 664.2l-1.5 3.7M524.2 702.1l2.4-7.6-1.1-10.3 7.5-2.4M443.8 659.7l-4.5 1.6-4.8 .2-4.2 2.4-2.6 2.2 3.3 1.8-1.2 3.3-2.5-2.1-3.2 1.1-.5 2.8-3.1 1.2-3 .2 1.2 1.7 1.8-1.9 1.1-2.7-2.6 .2 1.5 2.5 2.4 1.6 .7-2.8 3-1-.8 2.4M448.1 657l3-4.9 5.9 1.3 1.3 5.5-3.6 4-5.7-.1M534.9 663.2l-4.7 6.6-7.9 5.9-7.8 6.3 2.5 8 8.5-5.8-3.2-8.5-2.1-8.5-8.8 6.7-6.4 6.1 1.4 7.7M400.7 703.4l-2.5 1 1.7 1.9 3.3-.6-2.5-2.3 1.2-2.5 .6-2M495.7 701.4l-3.9-3-4.2-1.8-.8-3.7 3.8 1 1.2 4.5-.9 6.5-3.5-4.2-3.5 1.1 .6-3.6 .3-2.9-3.1 .4-2.9-1.1 .1 2.9M581.4 693l-7.7 2.3M486.2 704.4l-3.4 .8-2-2.7-3.3 0-.4-3.1-.3-2.1-1.6-1.6-1.9-.9M419.3 707.9l-.7-3.2 3.5-.9 .4-2.8 3.1-.5 2.1 2.1 3.4 .9-2.4 2.4 3.8 .4-2.4 3.3M405.9 705.3l-2.7 .4 1.2-2.9-2.5-1.9 2.5-.8 2.3 .9-.5-1.9 2.2 0 .5-2.2-2 .5-.7 1.7M525.5 684.2l-11-2.2-9.5-2-4.4-6.9-6.2-2.8-2.9-5-6.4-3-1.3 5.3 3.9-.8 2.8 2.3M433.1 712.4l1.5-3.1-2.1-3-1.4-2.8 1.9-2 1.3-2-1.2-1.6-.9-1.8 1.9 .2 .9-1.7 2.3 .2-1.2 1.6 .7 2.3-2.5 .8 1.4 1.7 1.1-2.5 1.7 2.1 2.4-.4 .9-2-1.4-1.5-1 1.7 1.5 1.8-.5 2.3-1.9-1.9-2.8 .4 1.8 2.2 1-2.6 .9-2.2-2.6 .1 1.4-1.9-.9-2 1.6-1M526.6 694.5l9 2.1 6.6 2.2M404.4 702.8l2.3-1.8 1.4 2.5 .9-2.2-.6-2.2 1.9-1 .7-1.8 1.4-1.4 2-.1-1.1 1.7 1.1 1.7 .9-1.7-2 0M548.4 666.1l-4.3 9-4.7-6.7-9.2 1.4-2.5-8.5-7.5 5.9 10 2.6 5.9 6 8-.7 8.6-1.1 8.7-1.8 .2-7.4M562.7 700.4l4.6-6.5-3.1-7.6 8.5 2.4-2.2-7.8-6.3 5.4-3.1 6.8-5.1-3.9-6.7 6.3M432.4 656.6l-4.9-1.8-3.9 3.5 1.5 4.9-4.8 2.2M434.5 661.5l-.6 4-2.9 2.4M612 687.1l-3.9-8-3.8 6M439.3 661.3l-1.3 4.5 .3 4.2-3 2.4 1.1 3.3-.1 2.7-2.6-.8 2.7-1.9-2.6-.8-2.4 .9-.5 2.5-2.4 1-1.8-1.7-.9 2.1 1.6 1M598.6 687.1l-2.8 4.9M433.9 665.5l1.1 3.2 3.3 1.3 3.1-2 0 3.3 2.6 1.5-.4 2.7-2.2-1.4 2.6-1.3 2.6-1.4-.2 3.2M438 665.8l-4.1-.3-3.6-1.6-5.2-.7 2.6 2.9-.4 3-.7 2.9 2.3 2.2 .9-3 2.2 1.9 1.8 1.8 1.5-2.5M425.1 663.2l-.8 4 3.4-1.1M487.7 666.8l-.9 4.3-2.3 3.5-2.9-.1-2.6-1.7 .3 3.8-2.3-1.6M399.1 673.1l-.3 2.3 1.3 1.4-2 .3 1.3 1.6 1.7 2-2.4-.2-1.6-1.8 2.3 0 2.8-.1-.2-2.2-1.2-1.6-2 .6M496.8 695.9l-5 2.5 1.9-3.3 .2-3.3 0-4.1M491.8 698.4l-4.4 2.3-2.9-2.5-2.8-2.5M500.6 673.1l-2.8-7.7-6.3-.1-3.8 1.5-2.6-4.5-5.3 3.4-3.3 3.7 2.5 3.4M561.1 693.1l1.6 7.3-6.2-4.2M564.2 686.3l-8.2 2.9 1.8-8.6 6.4 5.7 .2-7.6-6.6 1.9 3.6-8.4 3 6.5 3.7-4.1 2.4 6.3-6.1-2.2M470.7 706.7l-2.5 .9 .7-2.8 2.7-.6-1.9-2.2 2.5-.7 2.2 2.2-2.8 .7 2 2.8-2.9-.3-1.8-1.9 .8-2.8 .6-2.8 1.2-1.8 1.3 1.5-2.5 .3-1.9-.7-1.3-1.4-2 1.1-.2 2.4-2.7 1.9M590.7 676.1l4.3-5.4 8.3 .9 4.8 7.5-9.5 .3M473.6 707l.8-3.5 3.1-1M400.3 671l-.4-1.9M427.7 702.6l2.7-1.5-2.1-1.1-1.5-1.5 2.2-.7 1.2-1.6 2-.1-1.1 1.7 2 .1-1.1 1.6 2.3 0M480.3 669.3l-3.8 .1-1.1 3.6-.9 2.7M476.5 669.4l-3.1 1.7M408.1 703.5l3.1-.9-2.2-1.3-2.3-.3 1.7-1.9-1.5-1.7-2.3 .4M486.8 671.1l1.2 4.3 3.2 1.9 2.6 3-3.1 .3 .5 3.7 2.6-4 2.3 3.9-4.9 .1-4.2 1.3 2.5 3.7-4.6 0-1.4-3.6-1.5-2.8-1.7 2.7-1.8 1.1-1.1-2 1.8-1.8 1.1 2.7 1.6 2.6 1.6-2.5 3.5-.1-1.9-2.8-1.5-2.6 2-2.5-3.2-.4-3.1-.7 2.3-2.1M393.1 677.9l-2.3-.1-2.4-.1-2.5 .2-2 0-2.5-.2-2.4 .1-2.3 .1M401.8 695.5l-1.7 .8M418.6 704.7l-2.3 2.6-1.9-3.1-.8-2.8 3.1 .5-1.2-2 .9-1.9-2 .2M408 672.1l2.1 2.6M411 672.2l-.3-2.4-3.7-1.3 1 3.6 2.7-2.3 2.3 1.4 1-2.3 1.6 3.2-.6 3.1 1.7 1.6 2-.7 0 2.4-1.4 1.7-1.9 .6 1.7 1 2.1-.8-1.9-.8M413 671.2l-.1 2.4 2.7-1.5 1.9 2.3-.8 2.4-.6 2-.7 2-2.3-.1-.7-2.1 1.9 .7M464.7 703.4l.2-2.8 3-.2M409 701.3l2.1-1.3 1.1-1.9-1.9 0 .8 1.9 2.5 1.4M414.4 704.2l4.2 .5-1.9-2.8-2.3 2.3-3.3 1.1 .1-2.7-.1-2.6 2.2-.3M430.4 701.1l1.6-1.6-.9-1.7-2.1 0-1.7-1M451.8 667.2l2.9-4.3 6.1 1.2 2 4.3-2.6 2.5-2.3 2.6-2.8 2.1M422.5 701l1.2-1.7-.1-2-.6-2.2-1.4 1.4 2 .8-1.7 1.3M447.2 667.6l-.6 3.8 2.6-1.4M418.1 699.5l-1.7-1.5 .7-1.9M561.4 672.2l6.7 2.4M477.3 695.8l-.9-2 2.4 .8M470.3 699.2l-.8-2.5 1.9-1.4M407.5 674.7l.9 1.7-2.4 .2-2.8-1.5M457.3 670.8l.6 2.7 3.1-.1-1.4 1.7-1.8 .8 1.9 1.4 1.3 2 1.3-1.5 .9 2 .9-1.7M415.6 672.1l2-3.2 1.4 2.8-3.4 .4-2.6-.9-2 1-3-.1-.5 2.6-1.5 1.9 2.2 2.3-1.4 1.3-1.6-1.1 .2 2-1.1 1.6-.8-1.9 1.9 .3M423.7 699.3l1.9 1.2 1.2-2M484.8 695.3l2-2.4 2.7-3.6M447.9 704.6l.9-3-2-1.8-2.3 1.1 .1-2.8 0-2-2 .2 1.3-1.7M469.5 696.7l-2.4 .4-.4 1.9-1.8 1.6-1.6-1.5M408.4 699.1l2.7 .9M483.3 692.7l1.6-3.4 2.1-3.7 1.2-3.5 2.5-1.5M484.9 689.3l1.9 3.6-3.5-.2-.8-2.2-2.7-.1 0-2.5-1.9 .6 .6-1.8M444.5 700.9l-2 .8-2.1 1-2.9 .7-3.2 .3-1.8 2.6 3.7-.1-1.9-2.5 1.4-2.5-2.7 .3-1-2M432.7 670.6l-2.9 .6-3.2 .8-2.5-1.8-2.5 1.3M451.9 674.5l-2.9 1.1 1.7 1.4 1.2-2.5-2.8-1.6-2.5-1.5-2.5-1.7-2.7 1.6-2.7 1.9-.4-3.2 3.1 1.3 0 2.8-2.7-.9 .6 2.1-2.9 .4M469 674.9l-1.6 1.9 0 2.1 2.2 .6 1.8-1.2 0 1.9-1.8-.7-.2-2.1-2-.6-1.7 .7M452 698.4l1.5-1.6-1.8-.4-1.9-.9M449.3 698.9l1-1.6 1.7 1.1 2.4 .2M458.8 699l-1-1.9-1.3-1.5-1.9-.4-1.6-1.2M406 676.6l-.8 2.5-1.4-2M491.2 684.3l-3-2.2-3.1 .7-3.1 .1-2.8 0 1-2.8 3.4 .1-1.6 2.7-1.8-2.8-.9-3.5M420.5 674.2l-.1 2.4-.3 2.8M419.9 697.7l-1.1-1.6M452.8 676.6l-.9-2.1 2.9-2 3.1 1-.1 2.4M480.2 680.1l-2.8 1.1 .6-2.3M441.2 676.8l.2-2.7-2.1 1.2M425 698.7l-1.4-1.4 1.9-.1M476 679.3l-1.1 2 2.5-.1 1.8 1.7M474.9 677.8l-1.4 1.6 1.4 1.9-1.2 2-1.8-.5M416.4 698l-1.1-1.5M428.9 674.2l.1 2.6-2.3 .8-2.5 .3 1.1-1.8M433.8 674.9l-.1 2.7-2.8 .7-.3 2.1-2.1-1.1 .5 1.9M476.2 692l-1.6-1.4 1.2-1.8 2.1-.3-.9 1.9M410.3 677.3l-2.1 1.6 .1 2.4 1.7 1.1M414.5 677.5l-2.1 1.1-2 .4-2.2-.1 1.8 1.7M474.6 690.6l-1.7-1.1M422.9 675.8l-2.5 .8 1.1 1.7 1.4-2.5 1.3 2.1 1.6 1.8 2.7-.4 .5-2.5 1.9 1.5 1.6 1.4 1.2-2.1M436.8 698.7l-1.9-.9M467.4 676.8l-1.4-1.4-2.2-1.3 .1 2.3-1.6 1.4-.7-2.1-.6-2.3 2.5-1.9 3.1-1.8-3.8-1.3 .7 3.1 .3 2.6-2.2 1.6 2.3 .7M465.3 679.4l-2.1 .4-.2 1.9M408.4 676.4l-.2 2.5-3 .2-3-.5-1.1 2.1 1.4 1.5M402.2 678.6l1.3 2.2-2.4-.1M457.9 673.5l1.7 1.6 2 .6-1.9 1.6-.9 2.2-2 .8 1.6 1.3-1.1 1.7M436.1 696.4l-2-.1M438.2 696.8l-2.1-.4-1.1-1.8M442.1 678.9l2.4 .6 .9 1.9M480.3 685.6l-.5 2.3 2.1 .3 3 1.1-2.4 1.2-.6-2.3-2.1 2.2-1.9-1.9-1.3-1.5M420.4 676.6l-1.7 1.9 .5 2.5 2.1-.8 2-.5 2.5 0 .2 1.9M441.8 698.4l2.8-.3-2-1.8-2.2 .6-2.2-.1 1.2 1.8 2.4-.2 .8-2.1M444.5 679.5l-1.8 1.2M428.1 693.5l2-.2M462.3 677.8l-2.6-.5-2.9 .7 0 2.3-1.9 1.1 .3-1.9 1.6-1.5M463.2 679.8l1.5 1.3M477.4 684.7l-2 1M437.3 694.8l2 .6M454.2 678l-.9 2.1-2.1 .1 .8-1.7 .8-1.9-2.1 .4 1.3 1.5 1.3 1.6 1.6 1.3M446.6 678.5l1.5 1.4-1.2 1.7M395.9 681.6l1.1 1.7M393.9 682.7l-.1-3M405.2 679.1l-1.7 1.7M469.6 679.5l.1 1.9-2 .8M421.5 678.3l1.8 1.4 .9-1.8-2.7 .4-.2 1.9 1.5 1.3M459.6 675.1l.1 2.2M455.5 697l-.9-1.8-1.1 1.6M473.5 679.4l-2.1 .8-1.7 1.2M430.6 680.4l1.9-.7 2.1 .1 1.9 .8 .3 2-1.8-1M460.9 695.2l-1.7-.8 1.8-.8M405.1 691.5l1.9 0M433.4 691.3l-2.3 .1-2-.1M453.3 680.1l1.9-.6M424.1 691.6l2.9 .2M436.8 682.6l1.5-1.3M464.1 691.7l2.1 .2M423 691.4l-2.9 .2M451.7 696.4l.3 2 1.3 1.8-2 .6 .7-2.4-2.7 .5-2.1-1.3 .4-2-.8-2M472.8 681.4l2.1-.1 1.2 1.6 1.3-1.7-1.4-1.9-2.5 .1-.7 2 .9 1.9 2.4-.4 1.3 1.8-2-.5-1.7-.9M408.1 694l1.8-.5M421 681.6l-1.8-.6 .9 1.8M458.8 679.5l-.4 2.1 1.6-1.1M447.6 695.6l-1.9-.6M470.1 690.4l-.2-2.4M413.5 691.6l2.8 0 2 .1M420.3 685.3l-2.4 0M413 684.6l2 .5-3.3 .2M441 685.3l2-.2 1.9 .1 3 .1 2.3 0M437.8 685l1.9 0M397 684.7l2.1 .6M408 691.6l2.7-.2M404.8 685.3l2-.1M438.8 691.5l3.3 .1M444.7 691.4l2.3-.1M431.7 683.3l1.8-.8M426.5 685l-1.9 .3-2.7-.1M410.7 685.2l-2.1-.2M464.2 685.2l-2.1 .1-2.2-.1M458.5 691.4l-1.9-.1M452 685.2l2.3 0 2.2-.2M454.5 691.7l-2-.2-2.1-.1M366.1 611.4l2.9 10.6-8.7-2.7-4.7 6.7-4.1-7.3-4.2-7.3-9.3 0 3.6 8.3 9.9-1-3.9 7.4-6.9 1.2-6.5-1.6 1.7 7.7-6.9 8.2-.6-10.2 5.8-5.7-6.8-.8-5.8 3.9 6.8 2.6-5.6 4.4-2 8.4 5 8 6.2 4 5.6-4.5 4.7 3.1 2.3-5.2-7 2.1-5.2-2.4-.4 6.9 3.3 5.3 5.5-1.8 1.5-4.9 5.5-.8 5.6 3.4 8.3 .2 .9 4 4.1-2.6-.5 3 3.3-.5-1.7 3 1.3 2.6 2.5 .6-.2-3.2-1.9-3 1.8-3.2 1.4 3-3.2 .2-2.8-2.5-5-1.4 6.1-3.1 3.1-3.1 2.4 3.2-5.5-.1 0-6.3-9-4.5 6.9-5.2-6.7-5 4.2-5.5-7.6-2-3.2 7.8-8.3-.1-3.4-6.4M341.6 619.7l-7.4 6-2.4-6.9-9.7 1.3M304.6 617l-.9 6.9 5.5 5.2-1.2 9.7-.6 9.7-6.4 4.1-1.7 6.2-3.8 1.9-4.4 .2-1.1 4.8 3.3 3.7 3.9-1.2 2.6 3.2-2.3 2.3 .7 2.5-1.7 1.2 1.9 .9-.2-2.1 2.2 1.2 2-.6 0 2.1 1.7-1.4-1.7-.7-1.6-1.9-3.3-1.2-3.1-.7-1.1-3.6-2.5 3.4 2 2.2 .3 2.2-1.3 1.7-1.3-2.3 2.6 .6 1.8 .6 .4-2.1-2.2 1.5 .7 2.1-2-.4-2.2 1.2-2.2-2.8-2.1-2.7 1.9-3-1.2-4 4-1.9 4.3-.8-1 4.5-3.8-.1-3.5-1.7-3 3.5-3.7-2-.5 4-3.9 2.5-5.7-2.5 2.8-7.7-4.3-7.4-6.2 6.9 7.7 8.2-4.4 6.9 4 4.1 2.5 5.3 4.6-1.7 4.4 1.6-1.7-5 3-2.2-.2-3.2 2.1 1.4-1.9 1.8-2.5-1.5 2.3-1.7-2.8-1.6 .2-4.2-3.4-2.8-6.2 2.8 2.1 6.5-6.5 .4-6.4-6.1 10.8-.8M291 611.4l-8.4 7.6-6.7-2.4M290.2 624.1l4.1 10.6-8.5-2.3-7.9-.7 4.3-5.5 3.6 6.2 3 7.7-6.9-.8 5.3 9.7-9.3-2.9-4.2-8.1-7.1-.8-4.8-4.9-8 2-6.3-6.4-7.3 5.1-.6-7.4 7.9 2.3-1.2 9-6.1-3.9-6.8 4.6 0-7.6 6.8 3-.1 6.8-6.7-2.2-8.4-4.3-5-8.8-6.9-6.3 7.4-1.3 8 2.1-8.5 5.5 .5-7.6 4.8-5.5 9.4 0 9.4 0-6.6 7.1 2.1 7.1-6.2 4.4-8.4 3.3-6.1 5.4-7.8 .1-4.7-6.9-4.1 6.5 8.8 .4-4.5 6.4 3.3 7.2 3.8 7.6 .1 7.2 7.6-1.1 4.3 9 4.5 7.6 5.9 5.8 .7-6.7-6.6 .9-9 1.2-4.1-9.9-3.3-6.8-5.6-2.4-7.5 2.4-4.9-7.8-4.6 8 3.9 7.3 5.6-7.5-9.5 .2-8.5 1.2-7.9 2.1 2.9-8.1-6.2-4.5 .3-10.1 3.4-9.7-8.5 .4 5.1 9.3-7.4 6.3-9 5.2 2.4-10.8-5.8-4 4.2-3 2.6-5.6 4.3-7.7 3.6 10.3-7.9-2.6 2.3 6.2-4.9-.6 1.6 7 3.3-6.4 5.6-3.6-2.1 7.8 7.2 1.5 8.6-3 6.6-1.7-.9 6.9 6 3.2 3.7 6 8.8-.4-3.9 8.2 1 7.4-6.6 .1-4.1 8.4-11 2.3-.3 9.2-6 4-7.3-5.9-.9-7.6-3.8-6-7.4 1.2 3.5 6.8 3.9-8-6.2-8-.1-11.6-5.8-8 2.4-6.8-1.4-7.2-5.2 6.5 6.6 .7M244.1 611.4l9.3 0-2.4 7.7-3.5 8.8-3.4-7.5-4.5 5.2-6.1-1.7-5-4.9 9-.5-2.8-7.1-6.2 7.6-3.2-7.6-9.4 0-2.8 6.8-7.1 1.5 .5-8.3 6.6 6.8-2.8 7.1 9.7-.8 8.1 1.7 .4-7.2M244.1 620.4l-6.6-1.9-4 5.4-.1 6.1-5.3-3.8-3.1 7.1 .9 9.2 7.5-4.9 2.1 8.9 4.6-6.7 4.8 4.7 8 4.6-1.8 9.4-1.5 8.7 11.9-2.3 10.5 .5 4.9-5.5-9.2-1.9-9-2.2-5.8-6.7-9.5 3.6 7.7 5.8 10.4 6.4-2.8-9.1-7.6 2.7-9 2.8 7.5 5.9 8.8 6.7 3.1-9M220.5 616.9l-4.6-5.5-9.4 0-9.4 0-8.7 6.6 5.2 7.2-3.1 6.4-5.2-4.7 3.1-8.9-10.1-6.6 .5 9.9 9.6-3.3 10.4 .4-5.2 6.8 4.2 6.5-7.3-.1 2.7 7.2-6.2 4.5 5.8 3.5-6.7 3.4-5.7-5.2-5.2-6.7-4.3-6.4-7.8-3.5-8.4-8.3-9.1-2.9-8.8 2.1 1.8 8.9 3 8.1 3.8 7.7-8.2-.9-7.3-.1-5.3 6.5-8 5.5-.4 8.9-5.9 4.9 4 6.9-4.8 6.4 7 2.3 6.7-5.9 7.3-6 7.3-5.9-1.5-8.8 4.9-6.7-4-8 4.4-6.8 9 1.2 5.6 4.2M206.5 611.4l-7.7 7 7.2 1.3 4.3 5.6-3.9 6.6-8.6-.2 4.5 6.7 4.3 6.8-7.6-1.1-6.2 2.7-.7 6.6-5.7 5.9 9.4 .1 4.3-8-8 2M206 619.7l-4 5.6-8.4-.1-8.3 1.7-6.5-5.6-7.4 3.3-8.3 3.8-9.8 1 5.5 6.7-8.2 1.4 2.7-8.1 1.4-9.3 10.4-1.2-2 9.5M187.7 611.4l.7 6.6M178.3 611.4l-5.8 6.1 6.3 3.8-1.3 8.5-6.1-5.2 1.1-7.1-7.4 1.4 3.8-7.5-9.4 0-9.3 0-4.6 5.8-4.8-5.8 9.4 0 4.5 8.7 4.8-8.7 5.6 7.5 6.3 5.7-.5 7.3-4.2 6.8M172.5 617.5l-3.6-6.1 9.4 0 9.4 0 9.4 0 1.7 7 3.2 6.9 4.4 6.6 8.9 .3 4.7-7.7M154.7 620.1l-8.9 3.9-7.2 4.2-8.9-2.5-8.9-1-9.4 .4-8.2-4.5 6.2-3.4 2 7.9-8.2 4.7 0-9.2 0-9.2 6.2 5.8 7.6 .7-5.6 7.2-1.7 9.4-6.5-4.7 0 9.2 0 9.1 6.2-5.2-6.2-3.9 6.5-4.5 5.2 4.2 1.4 7.2 8.3 3.6 5 6.4 6.7 1.9-3.1-7.9-8.6-.4-1.3 9.9-7.1 4.5 5.7 5.3 1.3 9.3 1.2 8.8-7.9-2.9-6.4 5.1-.6-7.4-6.3-6.4 0-9.2 6.6-5.9-6.6-3.3 0-9.2 6.5 3.5-6.5 5.7 0 9.2 7.1 2.3-7.1 6.9 0 9.1 0 9.2 0 9.2 0 9.2 7.6 4.3 .9 10.1 8.1 .8 5.9-3.7 1.1 8.9-2.9 8.3-8.1 1-6.9 1.2-5.7-3.4 6.8-3.7-1.1 7.1-5.7 5.8 0-9.2 0-9.2 6.8 5.5 5.8 5.9-3.2 7 9.4 0 9.4 0-7.5-8 6.7-.8-3.8-7.5-7-5.2-1.6-7.1 7.5 3.4 9.4 3.9 8.2 .3-1.1 6.4 5.7 5.2 7.9-.1 8.6-5.3 9.2 .2 10.1 .3 9.5 5.8 9.6-6.4 10.6-2.5 7.5 1.1-.5-6.9-7 5.8 .6-10.4 7.6-4.2-1.2 8.8-6.4-4.6-6.5-5.7 1.5-7.6 5.9-4.8 5.6-7.7 .7-11.6 7.1 7.1 1.9-8.3 3.5-6.9 6.6 1.6-3.5 4.4-3.1-6-3.3-7.4-2.4-7.8-6.6 5.5-7.7-6.1 7.5-1.7 6.8 2.3 6.9-4.6 7.2 5.3-7.2 1.9-6.9-2.6-2.3-8.7-4.5 6.4 .2 7.8 9 2.3 4.5-5.2 0-7.2 8.5-3.3 1.5-8.2 1.4-7.6 7.5-2.6 5.8 6.8-6.7 8 10.1 .6 4.7 8.3 5.2-5.9 4 7.8 4.8-5-3.8-8.8 4-6.8-8.2-1.3 4.2-6.3-8-.5 4.6-7.4M145.6 617.2l.2 6.8 7.5 5.4-7.3 1.5-7.4-2.7-6.6 6.7 5.2 8.2-4 6.8-3.3-6.9 2.1-8.1-2.3-9.2-3.5-7.5-5.4 6.5-3.8-6.8 9.2 .3 10.6 1.1-7.1 6.4-5.4 5.2-3.5-6.2-3.7 7.2-5.7-6.8M136.8 619.3l4-7.9-9.4 0-5.2 6.8-4.2-6.8 9.4 0 5.4 7.9 9 4.7 .2 6.9-4.4 5.4-9.6-1.4-9.3 4.1 1.9 10.5M103.2 611.4l9.4 0 4.4 6.5 5-6.5-9.4 0-3.2 5.8M103.2 675.7l11.1 0 2.2 8.7 1 8.6-7.4-3.5 .3 8.6-7.2-4.1 6.9-4.5-6.9-4.7 6.3-2.7M114.3 675.7l8.9 2.8 8 3-.7-9-8.6-3.3 1.4-9.8-6.7-4.4-.3-9.1-6.9-3 5.5-4.2 2.2-6.8-7.4 2.6-.3 8.4 .3 8.7 6.9 3.4-6.8 5.6 6.4 3.3-.6 5.8-1.3 6 7.6-6.5-6.3 .5-5.3-.9-.5-8.2-.1-9 6.6-5.7 6.4-6.9 7.2 4M111.7 726.8l-8.5-5.3 7.6-4.8 7.9-5.4 8.8-.2 9.8 .1 9.8 5-.8-10 7.2 7-6.4 3-6.5 4.8 2.7 7.1 5.8 4.7 6.7 6.8 7.7 2.9 .9-8.2 5.5-6.1 3.7 6.3 3.8-7.5 6.3 7.8-7.3 7.1-2.8-7.4-4.3 6-4.9-6.2-1.4-9.3 7.7-4.9 4.1-6.4-7.3-2.7 3.2 9.1-.8 8.1 7.5-1.2-6.7-6.9-9.4-3.9 6.2-5.2 6.9-4.4 .4 7.1 6.8-2.5 6.1 5.7 6 5.3 .7-7.2-6.7 1.9 2.2-7.8 2.9-7.8 6.9-1.5 2.8-5.9-5.4-5.2 2.2-7.8-4.2-6.2-8.6 1.2 4.7-8.5-4.8-8.1-.3-9.1-7.1 3.7-7.5 4.2-7.1-3.8-6.6-5.6 6.8-2.2-3.5-4.2M103.2 749.1l9.4 0-3.7-5.8M131.4 749.1l-.8-8.8 4.8-3.7 6.8-2.1-7.1-6.7-8.3 5-9 1.5-2 7.8 6.2 7 1.9-8-6.1-6.8-6.1-7.5-8.5 3.9 0-9.2 0-9.1 7.4-5.2-.2-9.1-7.2 5.1 7.4 4 8.1 4.1-.5 9.2-6.5 6.3-1.7 9.4 7.8-1.9 2-6.7M135.9 743.3l-5.3-3M150.2 749.1l5.6-9.5 3.7 9.5 4-6.6 5.8-2 7.1 1.4-7.5 7.2 .4-8.6M147.9 739.7l2.3 9.4-9.4 0-9.4 0 4.5-5.8 4.9 5.8 1.2-7.1 .2-7.5 6.9-1.7-1.2 6.9-5.9 2.3 8.2 7.1 9.3 0 9.4 0-5.4-6.6M155.8 739.6l.3-10 8.3 4.7M168.9 749.1l9.4 0 5.7-6-.3-8.3 2.4-9.7-8.7 1.9 2.4-8-5-5.3M184 743.1l9.2-2.5 9 2.3 .6-8.7 7.4 7.1 3.2-9.6-7-6.9 7.6-3.5 1.1-9.3 6.5 5.1 5.1 5.4-6.3 3.4 6.2 3.7-5.7 3.2 4.6 3.2 3.4 5.8-3.6 7.3-9.4 0-9.4 0-9.4 0 5.1-6.2 8-1.6-3.7 7.8-4.3-6.2M193.2 740.6l-5.5 8.5 9.4 0-3.9-8.5 .2-9.9-9.7 4.1M219.9 740.3l1-7.5M246.6 739.6l-9.3 1.8-8.4 .4 2.9-7 5.5 6.6 1.5-7.3 7.8 5.5 6.5-6.6 7 3 1.2-7.2-8.2 4.2 3.2 8.2 3.8-5.2 7.7-.1-6.5-7.1 3.1-10.5-.6-10.1-11.5-1.3-.3-8.9 7.2-4 1.7 6.2-8.9-2.2-8.8-3.5-4.3 8-2.4 6.6 2.5 6.7 4-7.1-6.5 .4-4.8-4.5 7.2-2.1 4.1 6.2 9.3-1.8 8.6-6.7 5.7-5.6 4.7-5.2-7.9-1.7 1.4-7.7-9.5 2 3.1-8.1-10.9 1.8 2.1-8.5-10 2.6 .7 7.6 7.2-1.7 7.8 6.3 8.1 5.7-4.2 6.3 7.4 .6-3.2-6.9 5.4-3.6 2.5-4.5 3.6-4 .5-5.3-3.4-4.9 6.3-.1 1 3.8-3.9 1.2 2.9-5-1.4-5.4 7.8 2.4 6.4-1.4 3.2 4 1.2-4.2 3.4 3.5 4.6 1.7 3.5 2.5 4.1-.2 2.5-2.1 1.1 3.1 3.2 1.9 0 3.4 2.9 1.1 .4 2.2 .5 2.1-1.9-.9-2-.5-1.3 1.6-.9-2.1-.9-2.4-2.8-2.1-2.3-2.6-2.6-2.5 2-4.3-5.5 1.8-.3 3.8 3.8-1.3-.7 3.1-3 1.4-3.5-1.5 1 3.5-2.6 1.3-2.9-.5-2.5-.7 1.6-2-3.6-.2-3.6-1.2 2.3-2.3 .5-3.6-5.3-3.4 1.3 5.3-3.9-.8-2.8 2.3M262.8 749.1l9.4 0 9.4 0 .6-12 8.1 2.4-8.7 9.6 9.4 0 9.4 0 9.4 0 4-8.8 5.4 8.8 4.9-10 4.5 10 5.5-8 3.9 8 9.3 0-5.6-6.4-3.7 6.4-9.4 0-9.4 0-9.4 0-5.7-9.6-3.7 9.6-3.7-6.1-5.7 6.1-.7-9.6 7.2-3.5 3.6-7.9 7.9 2.8-2.6-7.1 3.1-3.4-3.9-1.1 2.9-3.3-1.8-4.4 5.8 .3 1.6-4.2 3.3 2.5 .8-3.7-2.7-1.8 3.1-1.3 2.4-1.8 2.5 .6 1.8-1.3 2 .8 2.1 1-3.3 1.2-.8-3-2.3-1.1-2 1.8 .9 3-3.7 1.9 3 1.9-3.8 1.8 3.3 1.5 2.4 2.4 3.4 3 1.6-5 3.1-3.3 2.4-2.6-3.6-.8-.6-2.7-.5-2.3-2-.5-1.7-1.8 2-1.8-1.3-1.7M262.9 741.1l-2.8-5.1M268.1 743.4l4.1 5.7 2.5-7.5 6.9 7.5M290.3 739.5l6.4 3.5 .8-7 6.6 3.5 4.9-8.6 4.8 9.4-9.7-.8-3-11.4 .3-7.4 1.5-5.4-.7-4.4-3.7 2-1.1 4.2-3.2-3.6-5.1-.9-6.3 1.4 3.6 4.4 3.6 5.2-7.4 2.7-.4 10.8 5.8-6.1 2.3 8.5 3.7-10 3.5 6.5M296.7 743l7.4-3.5M324.1 739.1l.3-10.4 5.5-3.5 1.8 6.1-7.3-2.6-5.5-5.2-4.6-5.5-1.8 6.3-3-3.9M341.7 742.7l6.9-2.9 7.7-4.1 .4 13.4 9.4 0 4.8-11.7 4.6 11.7-9.4 0-3.3-9-6.1 9M362.8 740.1l.7-11.1 7.4 8.4 .4-11.2-5-3.9 4.5-2M370.9 737.4l-8.1 2.7-6.5-4.4-7-7.1-8.7 3.7 1.1 10.4-7.6-1.6 6.5-8.8-8.9-1 4.7-8.4-6.5 2.3 .9-5.2-.1-4.2-2.6-3.7-3.9-1.9-1.1 3.9-2.1 4.1-3-4.1 2.7-2.4 .5-3.3 .7-3.8 4.2-.7-2.6-1.7-.5-2.4-2.5-.9 .5 2.7-2.5-.8 .1 2.6-.4 3.1-4.1 1.2 1.4-3-3.4 .5-2.9-.4-2.6 .6-3 0-.8-2.7-.9-2.3-2.4-1.2-2.5-.3-.4-2.2-1.8 1.4 2.2 .8-2 1.7-.2-2.5-2.1 1.3 2.3 1.2 2.6 .7-.6-2.4 1.3-1.5 1.2 1.8-1.9 2.1 .6 2.9 .9 2.5-.2 2.7 3.3 1.5-.6-3.3-2.7 1.8-2.7-2.4-3.4-1.1 2.6-2.4-.4-2.9-2.7 1.9-1.8-2.2 2.2-.9-1.8-1.9 2.1-.2-.3 2.1-.4 3.1-3.3 0-2 2.7-2.5 3.4-1.7 5.4-7.4 1.4 4.9 4.1-7.6 5.7-11.4 3.6-9-5.6 .8 9.8-8.6-3.5 2.1 10.1 9.7 1.6 6.6-.1 4.9-5.2 4.9-10.7-8.3-6.9-12.1 4.9 3.2-8.6-3.2-7.7-6.7-4.8-6.7 .4-4.7-5.9 1.9-8.1 7.1 6 9.6-4.5 6.4 4M377.1 654.1l3.2-3.4 4.6 .6-4.2 4.3 .5 4.2-4.9-.7 2.4 3.7 1.2 3-2.9-.4 1 2.5-2.2-.6M301.1 728.1l5.3-4.3-5-3.1 4.2-1.4-2.7-4 3.8-3.7-4.5-.7 2.8-2.7 1.6-2.8 1-2.9 1.6 2.3 1.5-2-3.1-.3-.1-2.1 2.1 .3-1-2 1.5-1.1 1.9-.5-1.7-1M267.8 735.9l8.2-2.3 6.2 3.5-7.5 4.5-6.9-5.7 .3 7.5-5.3 5.7-6.5-7.9-2.9 7.9-6.8-9.5-2.5 9.5-9.4 0-5.8-7.3-9-1.5-6.5-8.6M340.6 732.3l-4.2-9.4 5.6-5.1 5.2-1.2-2.9-4-2.3 5.2-6.3-1.5-5-.5 2.2-3.3-1.7-3.7 4 .5 2.1-3 1.4-2.8 .7-2.4-1.6-1.6-1.1-1.6 2-.1-.9 1.7-2.3 0 1.2-1.6 .9-1.8 1.1 1.7 2.1 0 .7 2.2 2.7 .5 1.9-1.2M118.7 711.3l-.9-9.5-7.4-3.7 7.1-5.1 6.9-5.7 7.9 3 6.7-5.6 6.2 2.3 5.1 4.6 7.5-4.5 7.7-2 5.7-5.7 3.6-8.7-3.7-5.3 .4-7.3-7.3 5.4-8.8-4-10.1 .8-4.1-9.2-8-1.2-3.6 6-6.3 3.5 6.8 4.2 .4 8.9 7.9 3.2 .6 9 2.5 10.1 3.7-7.8 1.5-7.9 7.6 1.2 1.2-9.2 8.7-7.6 .2-9.2 .2-7.8M374.7 649.7l5.6 1 4.6-5.2-5.6-.6 1 5.8 .4 4.9-4.4 3.5-1.3 4.1-2.3-1.9M126.8 732.8l8.6 3.8-.3-8.8 5.5-6.8-3.3-9.8 9-5 4.1-7.2-.1-7.4-8.8 3.2 4.8 11.4 11.1 .2 10.1 4.6-1.5-8.9 .4-9.4-8.6-5.6 0 9.4 8.6-3.8 7.6-.7 6-6.6-8.8-6-9.5-.3 4.8-7.5 8.3-.9 4.3 5.4 .9 9.3-8.8 1.7-5.7-2M238.8 734.1l5.7-4.6-9.5-4.2 4-9.5 4.3 6.1 1.2 7.6 7.8-6.3-9-1.3-8.3 3.4 3.8 8.8-7 .7-5.2-5.2-1.1 6.4-5.6 4.3-9.7 1 5.7 7.8 4-8.8 5.4 8.8 9.4 0 2.6-7.7 6.8 7.7 9.3 0 9.4 0 .1-8 5.2 2.3 6.6-1.8 1.3-8-3.3-8.4 9.9 1.1-2.3-6.8M202.8 734.2l3.6-9.4 1.1-9.2-7.4-7.2-7.3-7.1-4.4-8.3-8.4-7.6 6.5-9.5 4.5 7.2 6.1 5.6 8.5-2.4-3.1 7.6 6.2-.8 4.6 3.1 1.6 7 8.3 3.3-1.6 10.6 8.8-2.8 8.6 1.5 8.2-.5 5.1-8.4M380.9 698.9l-1-1.7-1.4 1.3-2.5 .3-1.1-2.1 .6-2.1 1.8-.7M297.5 626.6l.3-7.6 5.9 4.9-1.5 8.4 5.8 6.5 5.7 7 7.1-1.6 8.2-2.6-3.2 10.6 6.6-2.9-3.4-7.7-6.2-5.8-1.2-7-6 6.5 .1-8.9M247.5 627.9l9-1.9-2.7 8.3-2.4 7 1.5 7.8M363.5 729l-7.2 6.7 .2-8.3-3.2-4.2-5.5-2.1-5.8-3.3M170.9 631.9l6.6-2.1-2.3 8.5 8.7-2.1 3.1 7.1M276 733.6l6.6-7.3 3.8-7.9 2.7-5.8 .4-4.7-5 .7-5.2 1.9-3.9 4.9-11 2.9 5.6-6.5 2.1-5.6-3.4-5.4 5.4 .6-1.1-5.5-1.7-6.5 2.4-5.2-4.9-.1M282.2 626.2l.4-7.2-1-7.6-9.4 0-9.4 0 5.5 6.2-8.8 .7 5.6 6.4 4.8 6.5-8.1 1.1 3.3-7.6-8.6 1.3 5.3 6.3-2.2 8.8 7-3.9 2.1 6.6 5-5.8-3.8-6.8-3.3 6M225.5 736l6.3-1.2 3.2-9.5-8.4 4.3 .1-7.1 8.3 2.8-4.6-11 6.1-5.2M233.5 623.9l-5.4 2.3M121.9 669.2l8.2-5.6-.5-7.7M125.6 696.8l-8.1-3.8 .3 8.8 6.1 3 3.6 6.3 3.2-7.3 6.6 7.4-5.7 7.4-4.1-7.5-3.4 5.9 1.6 6.9 5.9-5.3 9 2.4 8.2 3.7-5.5 3.4M379.3 672.3l-1-1.9-2.1 .9M373.2 715.3l.2-4.9-4.3 1.5-5.3-.4-4.8-.2-4.2 1.8-5 .4-1.8-3.5-.3-3.3-3.6 1.6-3-2.4-2.4-2.4-3.2 .2-1.4-2.5 1.4-1.7-2.5-.8 1.9-.9M378.5 698.5l.9 1.9-2 .2 1.1-2.1 0-1.9M380.4 670.9l-2.1-.5-.6 1.8M378.3 670.4l-2.3-1.1 2-1.4 .3 2.5 2.5-1.7 2.3-.4-.5-2.1-.6-2.9-2.1 2.5-1.9 2.1 2.8 .8-.9-2.9 2.7 .4-1.8 2.5M114.9 638.7l7.8 .3 1.6-8.1 7.7 4M146 630.9l4.6 6.6M327.4 624.9l4.4-6.1 6.2-7.4-9.4 0 3.2 7.4 9.8 .9 6 6.4 4.8 7.7 6.6-.3-3.4-7.5-8 .1-3.5 7.6-8.2-.3 2.9 9.9-1.2 8.4-.2 4.9 4.9-1.8 3.9 3.5 7.2-.9-.9 4.7-3 3.3-.9 3.7 2.2 2.6 3.4 .4 2.7 1.5 .4 2.6 2.2 1.1 .2-2.6 2.1-2.6 3.6-1.4-.7 2.9-2.9-1.5 1-3.6 2.6 2.2 2.5 1.9-3.2 1 1.9 1.5-.6 2 1.8-.7-.2 2.2-1.6-1.5-2.2-.5-2.4-.2-1.9 .9-2.1 1.3-.7 2.1-2.3 .1-1.9-.6-1.4-1.7 0-2.4 1.2-1.7-3-.2 1.8 1.9 2 .7-2 1.7-.5 2.5-.9 1.8M349.3 728.6l-6.3-4.6-6.6-1.1-.7-6.6-2.8-3.8 2.3-3.2 1.5 3.1M343 724l4.8-2.9-.6-4.5 2.6-3.1-5.5-.9-4.6-3 4.4-1.3 .2 4.3M336.4 722.9l-5.6-2.9 4.9-3.7M124.1 717l-5.4-5.7 5.2-6.5 6.8-1 7-1.3 8.6 3.7M366.3 722.3l-6.5-1.3-6.5 2.2M356.5 727.4l-7.2 1.2-1.5-7.5 5.3-3.5-5.9-1M359 633.5l-.2 10.2-6.4-9.9-3.6 8.7-4.2 7.1 3.2 4.4-1.6 4.3-5.4 1.4-1.3 4.2 5.2-.7-3.9-3.5-3.4-3.1-5.4-.4-1.5 5.1-3 2.8-3.2 .1-3.5-1.4 1.8 4.8 .6 3.8 .2 3.2-.8 2.1-1.8-1.1 2.6-1 1.1 2.5-1.9-.4 .6 1.8-2-.7-2.1-.8 .7 2M314.3 718l6.7 .2-2.1 5.3-1.9 7.5 7.4-2.3 .9-6.5 4.6 3M359.8 721l-6.7-3.4-3.3-4.1 2.2-3.1-1.5-2.5-2.8-1.2 3.5-2 4.2-.5 .8-2.8 2.5-1.4 2.1 1.3 2.3-.3 2.3 1.8 3.7 .6 1.4-2.3 1 1.6 1.2-1.8 2.3 0-1.4 2.1-.9-2.1-1.1-1.7 2.2-.3 2.2-.1-1 2.1 2.4-.3-.8 2.6 2.3-1.1-1.5-1.5-1.4-1.8M169.9 728.2l-6.9-3.2-6.9 4.6-7 3.2-.3-8.1-1.7-8.5 8 4.7-1.6-7.7 3.9-6.8-7-7.4-8.9-4.2-9.2-4.5-1.1-8.8 7.8 3.2 7.7-5.6 8.8-8-9.9-1.3-.3-9.5-9-2.5-6.2 5.8 7.7 3 7.5-6.3 4.3-8.8-8.4-.4 4.2-7.1 4.2 7.5 8.2-2.8M315.6 635.3l-7.6 3.5-6.8 3.8-.2 10-6.3-6.1-7.5 2.5 .6 7.6 3.3 4.3 2.9-5.4 7-2.9 2.5 4.5-4.2 1.7-.4 5.4-1.7 4-2.9-3.3 4.6-.7 1.5 3.7 3.1-2-.1-4.4-4.1-2.7-5.3-3.3 1.5 5.2M288 731l2-7.4 5.9-1.3 5.5-1.6-4-3.6 5.5-1.8M170.7 720.1l9.1-1.1 1.8-7.8-7.2-4.6-.7-8 .3-6.6 5.7 2.6 8.7-1.6 8.7-4.3-1 6.6-3.3 6-10 .9-1.2 9 8.3-2.1 10.2-.7-.4-8.6-3.6-4.5 6.4-1.4 4.6 6.5-7.4-.6M272.7 725.2l2.7-9.8-5.4-3.6-6.2-3.6-2.9-8 7.8 .6-2.1-6.2 6.4 1.3-4.3 4.9-4.9 7.4 8.3-2 2.8 3.6 4.4 .7M122.7 639l-5.6-7.1 7.2-1M305.6 719.3l.8 4.5 6.1 .5-3.5 6.6 8 .1-3.2 9.3 10.3-1.2-7.1-8.1-4.5-6.7 6.4-.8 6.4-1.3 1.2-5.1 4.2-1.3M123.9 704.8l1.7-8-1.2-9.5 6.8-5.8 7.2-5.8-.6-9.1 7.8 3.2-7.2 5.9 8.3 3.4-1.1-9.3 4.8-4.5 5-5.8M358.8 643.7l-6.2 6.7 .8 7-4.4 3.8 3.5 .9 1.7 3.4 5.1 .4-2.1-4.2 5.4-.1 1.6 3.3 2-2.9M353.1 717.6l1.7-4.5-2.8-2.7 1.5-3.1-2.3-2.6-1.1-2.9 3 .1 2.3 2.3M376.6 703.2l1.2 3.2-1.6 2.5-2.8 1.5 3.7 1.8-.9-3.3M240.1 639.8l6.2-2.9 5.1 4.4-6.5 3.2-9.4 2-.6 9.5-9.2-4.1 .2-9.4-7-3.8-2.3 7.5-6.7 6.2-5.3 6.6 9.1 1-5.5 4.8-3.6-5.8-4.5-7.6 9.8 1 7.6 1.2-3.8 6.4M252.3 723.2l-5.1-7.9-4.2-6.6 2.6-6.6 6.4-4.1 .8-8 10.6-2.3M264.4 718.3l-8.9-3.7 8.3-6.4M312.5 711.9l-3.1-4.1-.2-3M225 633.3l-9.7-1.1 3.6 6.5M135.1 727.8l-3.5-9.2-7.5-1.6-5.9 3.5-7.4-3.8-.2-9.5 7.2-5.4 7.8-5 5.1 7 2.7-6.4-1.1-7.1-6.7 6.5 7.8 .6 8.1-2.6-3.8 7.7-.4 8.7M322.8 635.8l-7.2-.5 5.2 8.9-2.1 7.9 7.1 .1 .2 7.5 1.5 4.4 .9 3.9-2.8-1.4 1.9-2.5 4.3 1.7 3.5-4.3-4.8-.2 1.3 4.5-3.4 2.2-2.7 1.7-2.5 1.7-2.6-1.4-2.7 1.1 2.8 1.8 2.5-1.5 2.6 1.4-2.4 1.8-2.7-1.7 .1 2.7-1.7 1.4-1.2-2.5-3.2 1.1 2.3 1-1.4 1.4 2.2 .5-.8-1.9 .9-2.1 2.8-1.6-.1-2.9 2-2.4 1.7-3.4 1.3 2.4-3 1 3.1 2.1-.1-3.1M190.5 631.6l-6.6 4.6-3.5 8.8-1.4 8.9-7.2-5.9M183.9 636.2l-6.4-6.4 7.8-2.9-1.4 9.3 9.3 2.6-.4 8 7.3 4.6 6.5-6.2 10 1-5.5-7.4 4.2-6.6-5-6.9-8.3 0-4.2 6.4-4.6 7.1 9.1-.4-3.3 5.7-5.8-5.3M367.8 648.2l-7 4.2-7.4 5 3.8 4.3 4.5-4.1-.9-5.2 7 2.1 3.5 3.8 2-3.7 3 4.5-5-.8-4.6 .7 1.1-4.5M282.6 726.3l5.4 4.7 6-1.5 7.1-1.4-5.2-5.8-3.9-4.6-2 5.9 4 5.9 1.9-7.2 1.5-5.2-5.4 .6-2.9-5.1 3.9-3 3.2-2.6-.1 3.6M294.3 634.7l3.2-8.1 4.7 5.7 7-3.2 6.4 6.2-1.9 10.5-6.3 2.7-6.2-5.9-6.5 3.9-5.9-6.4-1.6 8.9-5.5 5.9 6.1 1.7-3.1 5.7-6.4 3 3.8 1.5 .9 4.3 4.2 .5 1 2.9-.8 2.8-1.2 2.9-2.7 .1 1.2 2.5-3.1-.7 1.2 3.5-2.5 3.7-4.4 2.5-4.6-2.4M259.6 641.1l9.1 2.7 9.2 2.3-5 6-4.2-8.3-5.7 5.9-4.3 6.1M288.8 640.1l5.5-5.4 7.9-2.4-1 10.3-6.9-7.9 .4 11.8-.7 9-6.8-6.5M137.7 702.5l-4.3-5.1M328.1 712.1l-.7-4.3 3.8 1-1.2-3.4-3.9-1.5 1.3 3.9 2.6-2.4 2.3-2 1.3 2.8 1.6 3.1 4.5 .3M320.7 711.7l3.5-1.5-3-1.8 3.1-1.4 1.8-3.1 1.2-2.2 1.6-1.3 2.4 .4-1.9 1.9 2.9 .7 3.2 .3 1.3-2.2 2.6-.4M251.4 641.3l8.2-.2 3.4 8.6 9.9 2.4 8.8 2.8 3 7.4-2.6 4.5M275.4 715.4l-.5-5.6 4-4.9 5.6 3.7-.9-4.2 2.3-2.6 3.1 .7-.8-3.2-2.9-1.1-3.1-1.6 .8-3.7-3.8 1-3.1 1.2-3.1 .8 2.9-4.1 3.3 2.1-1.2 4.5-3.9 3M255.5 714.6l-8.3 .7-3.9 6.6M199.5 726.3l3.3 7.9-9.4-3.5 .3-8.5-7.6 2.9 1.6-8.2-7.9 2.1 6.3 6.1 7.3 5.6 6.1-4.4 6.9-1.5-6-6.1 7.1-3.1 7.6-3.6-6.1-4-8.9 .4-5.7 6.6-4.5-5.9-7.1-6.9-3.1-7.6M363.8 711.5l-2.4-2.2 0-2.7-2.7 1.7-2.3-1.3M235.5 646.5l7.9 6.2-1.3 8.6-2.5 8.5 7.9 5.9-3.2 8.5-8.2 4.3-7.8 2.5-7.8 4.5-7.2 .7 .5-7 7.4-5.3-9.2-3.3-6.4 5.7 3.1 6.8 5.1-3.9 6.7 6.3 7.1 3.3 4.1 5.8-8.5 1.9-2.7-11M329 641.6l9.8 1.7 5.8 6.3 8 .8-4.8 3.6M338.8 643.3l-6.4 6M374.9 696.7l-1.8-.7M370.8 708.8l-.9-2.5-2.5 2.4-.8-3-2.5 2.2-2.7 1.4-2.4 2-.3-3 2.7 1M226.7 722.5l3.7-8.2 1.3-9.7 2.5-8 9-2.1 2.4 7.6M194.4 715l6 3.7-6.7 3.5 5.8 4.1 .9-7.6-.3-10.3 7-8 1.9 7.6M301 652.6l6.4 2.2 0-6.3 5.4 4.9 4.2 4.6 3.8 4.8-2.8 4.4-4.4-1.1-4.6-2-2-4.9-3.6 2.3-4.5 2.7M294 655.5l-6.2 1.1M303.5 657.1l3.9-2.3 4.1 4.1 3.6 4-1.5 3.2M270 711.8l4.9-2M325.8 652.2l-4.1 4.8-.9 5.8 5.2-3.1 6-3.5M230.4 714.3l-7.2-7.8 4.4-7.7 .7-7.8 5.9 5.6-6.6 2.2M289.1 712.6l-4.6-4M153.5 713.2l7.8 3 1.7 8.8-7.9-4.1 1 8.7-7.3-4.9 6.3-3.8 6.2-4.7-3.9-9.8 8.6-4.3 7.7-3.5 9.1 3.6-8.4 4.4-8.4-4.5-8.2-5.6-7.5-4.9 .3-6.6 3.7-4.7M371.4 664.5l-2.3 2.6-1.1 2.6-2.6 1 .9-3.2 1.5-3-3.6 .4-4.9 1 3.5 2.6 3.5-1 1.7 2.2-.1 2.9-1.3 2.5 2.4-.3 1.7-1.7-2.8-.5 1.1 2.2 .7 2 2 .3-1.3 1.6 .7 1.8-2.4 .2 1.7-2-.7-1.9-1.9-.4 1.2-1.6 2 .6-.3-2.3 1.7 1.3 .4-1.9-2.1 .6 1-2.6-.1-2.8-1.7 1.4-1.9 .6 1.5 1.3 1.2 2.1M199 644.1l1.1 7.3M372.6 697.4l-1 1.8-2.1 0-2.2-.3-2.1-1.1 .2 2.3-2.3 .9-1.4 2.5 3.7-.7-1.5 2.5-2.2-1.8-.9-2.2 .6-2.2-2.7 .9-.1 2.6-2.4-1.2-1.9-1.5 1.1-1.7 1.1-1.7 1.1 1.6-1.1 1.6M223.2 706.5l-8.1 5.5-.2-8.8-7.8-2.8 1.6-7.3M370.6 697.6l1 1.6-1.1 1.9-2.6-.2 1.6-1.7-.8-1.7-1.4 1.4-1.9 1.2-1.8-1-2.2 0 1.5-1.7 .7 1.7M216.6 646.2l9.3-3.7 9.6 4-9.8 5.4-8.2 1.7 3.7 4.7M145.3 660.3l5.1 5 5.1 5.8 11 .5-2.3-8.1 6.9 1.9 6.6-2.8 5 6 3.7-9.3-8.7 3.3 1.3-8.7 7.4 5.4M376.4 673.1l1.8 .9-1.8 .9M307 659.2l4.5-.3-2.5 5.2 2.1 4.1 3.6 1-2.2 1.6-.6 2.7-3.1-.1 .8-2.5 1.5-2.7 1.4 2.6-2.9 .1-3.3 .6 2.5 1.9-2.8 .7-2.7-1.2-2.5 2-.4 2.5 2 1.5 .9 1.9M217.5 653.6l-.9-7.4 9.1 5.7M239.6 669.8l-9.2-1.4-4.7 6.7-4.5 8.8M374.1 670.7l-1.3 1.8-1.1-2-1.8-1.4-.8-2-2.8 .4-2.1-2.6-1.4 3.6-3.7 1.3 2.7 2.3-3 .1 .9 2.5-2.4 1.5 .1 2.4-2.1-1.1-1.6 1.3-2.6-.3-1.7-1.9 .3 2.8M182.8 702.2l5.6-9.2 2.6-9.9 8.3-2.2 6.3 5.4 8.2 2.9-1.8-8.6-6.6-1.9 3-6.5-7.7-5M150.4 699l7.4-2.5-.4 9.9M145.2 687l5.4-2 7.2 2.1M146.7 679.1l3.9 5.9M352.5 662.1l4.7-.4-3 3.8-2 3.4-2.7-3.5 4.7 .1 1.6 3.4-3.6 0-1.4 2.8 1.5 2.7 .8 2.4 2.2 .7M349 661.2l.5 4.2-4 1.8 3.1 1.9-2.9 1.1 .5 2.8 3.1 1.2-1.1-2.7 2.6 .2-1.5 2.5-2.4 1.6-.7-2.8-3-1 .8 2.4M309.4 707.8l-2.8-2.4-1.5-2-2.3-.7-1.9 2.1 2.7 .6-2 2.2 3.4 .6-1.4-2.8 1.5-2 2.5-.9 2-1.8 1.4-1.7 1-1.9 1.3 1.7-2.3 .2-2.4-.3 .1-1.9-2.1 .4-1.9 1-2-1.1 .4 1.9 1.8 1.6-2.1 2.1-2.7-.7 1.8-1.6-.5-1.9 1.3-1.4 2-.7 1.9 .8 2 1.5-1.1 1.7-2.6 .2 2.7 1.9M326 659.7l-1.7 4.5M321.7 657l-4.7 1-5.5 .9 1.3-5.5 .9-7.6 5 6.3-1.7 5.9-1.9 4.9 5.7-.1M234.9 663.2l4.7 6.6-5.9 6-8-.7-8.6-1.1 4.3-7.9M369.1 703.4l2.4-.7 2.1 .3-2 1.4-2.5-1-2.5 2.3-1.2-2.9 0-2.7 2.5 .8-.6-2M188.4 693l7.7 2.3M283.6 704.4l-1.2-3.7-.2-4.1-4.2 1.8 .9 6.5 3.5-4.2 3.5 1.1-.6-3.6-.3-2.9 3.1 .4-1.6-3 1.5-1 2-1.3 1.9-1.9-.6-1.8M359.3 665.9l-.2 3.9-3.3-.9 1 2.3-2.6 .9M350.5 707.9l.7-3.2-3.5-.9-.4-2.8 2.1-1.2 2.3-.3 2.6 .4-1.2 2-1.4-2.4 0-1.9M363.9 705.3l2.7 .4 3.3 .6-.8-2.9-1.2-2.5-2.5 1.9M244.3 684.2l-4-6.8M371.7 670.5l-2.2 .5-1.6 1.6M243.2 694.5l1.1-10.3-7.5-2.4M207.1 700.4l6.2-4.2M337.4 656.6l-2.1 4.9 4.2 2.4-.7 4 3.7 1.2 3.2 1.1 2.5 1.3M335.3 661.5l.6 4 2.9 2.4-1.7 2.7-2.6 1.8 3.3 .7 .6 2.7 2.5-1.6-3.1-1.1-.7-2.5-2.3-1.9 4-.8 1.2 3.3 2.5-2.1-.4-3-3.3 1.8M166.4 692.7l4.8-5.6 2.8 4.9M330.5 661.3l-4.5-1.6-4.3-2.7-3-4.9-5.9 1.3-5.4 1.4-.4 4.4-3.5-2.1-.1 4.4 5.6 2.6 6.1-1.2 2.9 4.3-.1 3.9-2.9 1.4-3.1 1 .1 2.4-1.9 1.4-1.3 2-2.2 .5 1.7 1.1M171.2 687.1l0-7.7-4.7-7.8 4.6-6.2M335.9 665.5l-1.1 3.2-.3 3.7-3.4 .8-.6 2.1-2.1-1.2-2.6-1.3-.1-3.1 2.7 1.6 0-3.3 3.1 2 3 2.4-1.1 3.3-2.9-.4 .8 2.1 .3 2-1.9-.6-2 .1 .9-2.1 1.9-1.5M331.8 665.8l3 2.9-3.3 1.3 .3-4.2 4.1-.3 3.6-1.6 2.6 2.2 3.4 1.1-3 1.9 .7 2.9-2.3 2.2-.9-3-2.2 1.9-1.8 1.8 2.4 .9-2.3 1.8-.9 2.2-1.7-1.4-1.9 1 1.7 1.2-.3 2 1.8-1M344.7 663.2l4.8 2.2M290.1 705l-1.1-2.5 1.5-2.2M273 695.9l5 2.5-1.9-3.3-.2-3.3 0-4.1 2.7-3.4 .5-3.7-.5-3.3-3.7-1.7 1.1 4.7-4.7-.7 2.4 4.6 2.2 3.5M278 698.4l4.4 2.3 2.9-2.5 2.8-2.5 2.8 1.8 1.6-1.7 2.1-.1 2 1-.1-1.9-1.9 .9 .2 2.4-1.8-.8 1.6-1.6-1.2-1.9-.9 2M205.6 686.3l-.2-7.6-3.7-4.1-2.4 6.3 6.1-2.2M299.1 706.7l2.5 .9-.7-2.8-2.7-.6 1.9-2.2-2.5-.7-2.2 2.2 2.8 .7-2 2.8 2.9-.3 1.8-1.9-.8-2.8-.6-2.8 1.9-.7-1.1-1.8 2.4 .4-.8-1.8-1.6 1.4 0-2-1.9 .6-1.8 1.4M179.1 676.1l3.6-7.5 3.8 7.3-7.4 .2-7.9 3.3M296.2 707l-.8-3.5-3.1-1M369.5 671l.4-1.9M342.1 702.6l3 .1 2.2-1.7 .6-2.4 2-.9-.5 2.1M289.5 669.3l1.3 3.5-2.6 1.7-2.9 .1-2.3-3.5-4.2 2 3 2.3-.4 3.5 2.8-1.2 3.2-.4 3.1-.7 2.3-1.6M293.3 669.4l3.1 1.7 1.1 2.6-2.2 2 1.2 1.7-.2 2 2.1-1.1 2-.9-.2 2.1 2.2-.6 2.1 .5-.4-1.9 1.8-1.1-2.1-1-1.4 1.4M361.7 703.5l-3.1-.9 2.2-1.3M300.4 667.9l-3.2 .3-.8 2.9-2 1.9 .9 2.7M283 671.1l-1.2 4.3 3.5-.8-1.1 3.1-.7 2.6M368 695.5l1.7 .8M351.2 704.7l1.9-2.8 3.1-.5M361.8 672.1l.5 2.6-.9 1.7-1.7-1.7-2.8-1.1-2.1 1.6-1.7 1.6 .6 2 .7 2-1.7 1-2.1-.8 1.9-.8M358.8 672.2l-1.9 1.4-.1-2.4 2.3-1.4-.3 2.4-2-1M342.1 666.1l2.6-2.9 1.5-4.9 2.8 2.9-4.3 2 .8 4 .2 3-2.5 1.8-3.2-.8-2.9-.6M305.1 703.4l-.2-2.8-3-.2M371 675.4l-1.3 1.4-2.1 1.8 2.8 .1 2.3 0-1.6 1.8 2.1-.2-1 1.6M318 667.2l-3.3 2 .3 3.3-.3 3.1-2.7 .3 1 2.1-2.9-.7 .9 2.2-2.2-.2-1.3-1.5 2.6-.5 .1-2.2 1.7-1.6M345.1 702.7l-.9-2.2-1.2-2M290.9 697.5l.1-2.9-2.9 1.1M296.4 671.1l3.4 .3 3.4-1.7 .1 3.2 .5 2.5 .3 2.1M299.8 671.4l.6-3.5 2.8 1.8 3.1 1.8-.3 2.6-.1 2.3 1.6 1.4-.9 2-.9-1.7M347.3 701l-3.1-.5-2.1 2.1-3.4 .9-1.9-2-1.3-2M290.8 672.8l-.3 3.8-2.3-2.1M322.6 667.6l-4.6-.4 2.6 2.8M324.3 707l-2.4-2.4 1.6-2.4M351.7 699.5l-1.8-1.8-1.7-1.2-2 .8 1.7 1.3M208.2 664.8l.2 7.4 5.4-5M208.4 672.2l3.6 8.4 5.1-6.6-8.7-1.8-6.7 2.4M291 694.6l2.4-.8 .2-1.8M299.5 699.2l.8-2.5-2 .7 .1-2.1-1.9-.5M359.7 674.7l2.6 0 2.4-1.1-.9 3 2.8-1.5M362.3 674.7l1.5 1.9-2.2 2.3-.2-2.5M312.5 670.8l2.5 1.7 2.9 2M285 695.3l-2-2.4-2.7-3.6M321.9 704.6l-3.3-1.2-2.3-1.3-.8 2.6-1.9-2-1.5 2.5 2 2.5-4.7 .1-4.4 .4 1.7 3.4 2.7-3.8 2.7-2.6-1.4-2.4-1.1-2.1 2.6 .1 1.1-2 1-1.8-2.3 .1 1.3-1.5 1.9-.4 1.1 1.6-2 .2 .9-1.8 1.6-1.2M300.3 696.7l-1.9-1.4M361.4 699.1l-1.9-1-.7-1.8-1.2 1.8 1.9 0-.8 1.9M286.5 692.7l-1.6-3.4 1.4-3.6-1.6-2.9 1.5-2.6-2-2.5-2.4-2.3-3.2 1.9-2.6 3 3.1 .3M284.9 689.3l2.4 1.2-.8 2.2-3.5 .2 1.9-3.6-2.1-3.7 3.5 .1 1.5-2.8 1.7 2.7 2.9-.9 2-.5 1.7-.9 1.8-.5M323.4 674.6l2.8 .9 2.2-1.4 2.7-.9 2.3 2.5-2.1 1.7-1.6 1.4-1.1-2 2.7 .6 2.2 1-.2 2.2 1.9-.8 2.1-.1 1.9 .7-.3-2.1-.5-2.5 2.4 1 2.3 .8 .9 2.1-.2 1.9M325.3 700.9l-.1-2.8-2.2 1.7-.4-2.2 2.6 .5-1.4-1.6M300.8 674.9l3 .5 2.2-1.3 2.2 1.6 1.9 1.6M317.8 698.4l1.7-1.1 1 1.6 .4-1.9 1.3-1.4-2.2-.1-1.9 .9-1.8 .4-.9 1.8-2.1 .2 1.3 1.8 .8-2-1.1-1.6M320.5 698.9l-2 1.9-2-.6 1.3-1.8-1.5-1.6M311 699l1.2 1.8 1.4 1.9 1-2.1 1.9-.4-.2 1.9-2.7 .6-2.9 .1 1.5-2 2.4-.2 1.7 1.5 2.2-1.3-.7-2.4-2.4 .2M337.8 699.5l-1 2-2.7-.3-1.1-2.5 .7-2.3-1.2-1.6-1.6-1M363.8 676.6l.8 2.5-.2 2 1.1 1.6 .8-1.9-1.9 .3M278.6 684.3l-2.6-4-2.3 3.9 4.9 .1 4.2 1.3 1.9-2.8 3.1 .1 2.8 0-1.1 2.7M349.3 674.2l.1 2.4-2.5-.8-1.3 2.1-1.6 1.8-1.6 1M306.5 699.1l-1.8-.9 .2 2.4 1.6-1.5 2.1-.4M342.5 696.8l-1.7 1-1.2-1.6-2-.1-1.9 .2-.9-1.7-1.1 1.8 2-.1M349.9 697.7l1.1-1.6M317 676.6l2.1 .4-1.3 1.5 .8 1.7-2.1-.1-1.9-.6-1.6-1.5 2.6 0M314.7 675.6l-1.7 2.4-2 1.5 2 .8 0-2.3M290.5 676.6l-.9 3.5 1 2.8 1.8 1.8 2 1M334.5 672.4l1.5 2.5 .1 2.7-2.6 .8-.1-2.7 2.7 1.9 2.8 .7 2.4 1 1.8-1.7-.5-1.9-1.8 1.1 .5 2.5-.5 1.9M289.6 680.1l-3.4 .1 1.6 2.7 1.8-2.8 2.8 1.1-.6-2.3M365.2 697.8l-2.3-.4-2-.5-2.1-.6-2.3 .2-1.1-1.7 2 .1 1.4 1.4 1.7-1.1M328.6 676.8l-2.2 .7-.2-2-1.7 1.6 1.9 .4-1.1 2-1.8 .6M344.8 698.7l1.4-1.4-1.9-.1M293.8 679.3l1.1 2 1.2 2 .9-1.9-2.1-.1-2.5-.1-1.8 1.7M294.9 677.8l1.4 1.6-1.4 1.9-1.2 1.6-1.3 1.8M353.4 698l1.1-1.5 2 0M340.9 674.2l-.1 2.6-1.9 1.5-1.6 1.4-1.2-2.1M336 674.9l-2.6 .8M355.4 698.2l-.9-1.7M359.5 677.3l2.1 1.6 1.4 1.3 1.6-1.1 1.4-2M295.2 690.6l1.7-1.1M346.9 675.8l1.4 2.5-1.8 1.4 2 .5-.2-1.9 1.1-1.7M333 698.7l-1.7 2.1 2.8 .4-1.8 2.2-1-2.6-.9-2.2-1.5 1.8-.9-2-.8-2.1-2-.2 0 2 2.8 .3 1.4-1.5-2.2-.6M305.9 676.4l2.3-.7 .6-2.3 1.4 1.7 1.8 .8M304.5 679.4l2.1 .4 .2 1.9M367.6 678.6l1.1 2.1-1.4 1.5M333.7 696.4l-2.1 .4 .9-2 2.3-.2M331.6 696.8l1.4 1.9-2.6-.1-2.4-.2M327.7 678.9l-2.4 .6-.9 1.9M292.8 690.4l-.9-1.9 1.3-1.5M325.3 679.5l1.8 1.2M341.7 693.5l-2-.2M307.5 677.8l.7-2.1 2-.6M306.6 679.8l-1.5 1.3M332.5 694.8l-2 .6M323.2 678.5l-1.5 1.4 1.2 1.7M373.9 681.6l-1.1 1.7M375.9 682.7l.1-3M364.6 679.1l3-.5-1.3 2.2 2.4-.1M359.8 680.6l1.8-1.7-.1 2.4-1.7 1.1M300.2 679.5l-1.8-1.2 0 1.9 1.7 1.2 .1-1.9-1.8 .7-2.1-.8-2.5-.1-1.4 1.9 1.3 1.7 2.4 .4M348.3 678.3l-2.7-.4 .9 1.8-2.5 0-2.7-.4-2.1 1.1M366.3 680.8l-1.7-1.7-3-.2-2.2 .1-2-.4-1.9 .7M296.3 679.4l.7 2M347 681.5l1.5-1.3 2.1 .8-1.8 .6M308.9 695.2l1.7-.8-1.8-.8M364.7 691.5l-1.9 0M300.1 681.4l2 .8M336.4 691.3l2.3 .1 2-.1M316.5 680.1l-1.6 1.3-1.9-1.1-1.6 1.3-.4-2.1M345.7 691.6l-2.9 .2M333 682.6l-1.5-1.3M305.7 691.7l-2.1 .2M346.8 691.4l2.9 .2M318.1 696.4l-.3 2 2.7 .5 2.1-1.3-.4-2 .8-2M361.7 694l-1.8-.5M314.6 679.5l.3 1.9M322.2 695.6l1.9-.6M299.7 690.4l.2-2.4M356.3 691.6l-2.8 0-2 .1M349.5 685.3l2.4 0M320 695.5l1.2-1.5M309.8 680.5l1.6 1.1 1.1 1.7M356.8 684.6l-2 .5 3.3 .2M328.8 685.3l-2-.2-1.9 .1-3 .1-2.3 0M332 685l-1.9 0M372.8 684.7l-2.1 .6M361.8 691.6l-2.7-.2M365 685.3l-2-.1M331 691.5l-3.3 .1M325.1 691.4l-2.3-.1M338.1 683.3l-1.8-.8M343.3 685l1.9 .3 2.7-.1M359.1 685.2l2.1-.2M305.6 685.2l2.1 .1 2.2-.1M311.3 691.4l1.9-.1M317.8 685.2l-2.3 0-2.2-.2M315.3 691.7l2-.2 2.1-.1M376.3 617.1l1.1 8.9-8.4-4-5.8 6 7.8 4-2-10 7.3-4.9M659.8 736.2l1.1 7.1-6.9-1.2 5.8-5.9M384.9 671.1l2.3-.5-2.3-1.7 0 2.2M387.2 666.2l2.7-.4 1.9 2.1 2 1.4-.2 2-2.1-.9 .3-2.5 1-2.5-2.9 .4-.9 2.9-1.8-2.5M390.5 644.9l1-8.6 5.4 6.2-6.4 2.4M393.5 659.1l5-.8-1.4 3-3.6-2.2M522.3 627.9l7.3 5.1 .6-7.4-7.9 2.3M598 648l-7.2 5.9 7.5 4.2-.3-10.1M431.1 703.5l3.2 .2-1.3-2.2-2.6-.4 .7 2.4M484.5 674.6l3.5 .8-2.4 2.3-1.1-3.1M451.3 700.8l-2-1.9-.5 2.7 2.5-.8M445.3 677.1l1.3 1.4-2.1 1 .8-2.4M416.7 676.8l2 1.7-2.6 .3-1.6-1.3 2.2-.7M262.8 611.4l-3.3 6.9-6.1-6.9 9.4 0M259.5 618.3l-8.5 .8-6.9-7.7 0 9 6.9-1.3 5.5 6.9 3-7.7M135.9 743.3l-.5-6.7 6.6 5.4-6.1 1.3M178.3 749.1l-1.9-7.2 7.6 1.2 3.7 6-9.4 0M324.1 739.1l7.6-7.8 2.4 9.8-10-2M381.2 672.4l-1.9-.1-1.1 1.7 1.9 0 1.1-1.6M363.5 729l-7-1.6 3.3-6.4 3.7 8M325.3 722.2l5.5-2.2-4.3-2.9-5.5 1.1 4.3 4M344.1 633.7l-5.3 9.6 10-.8-4.7-8.8M358.8 643.7l-10-1.2 3.8 7.9 8.2 2-2-8.7M324.2 710.2l3.2-2.4-3.1-.8-.1 3.2M255.3 682l-2.5 8-8.5-5.8 11-2.2M325.8 672.8l.4 2.7 2.4 1.3-.2-2.7 0-2.8-2.6 1.5M324.5 677.1l-1.3 1.4 2.1 1-.8-2.4M328.4 671.3l2.7 1.9 .4-3.2-3.1 1.3M330.4 698.6l-1-1.7 2.2-.1-1.2 1.8" stroke="#000" stroke-opacity="0.68" stroke-width="0.5" fill="none"/><path d="M384.9 611.4h0M394.3 611.4h0M403.7 611.4h0M413.1 611.4h0M422.5 611.4h0M431.9 611.4h0M441.2 611.4h0M450.6 611.4h0M460 611.4h0M469.4 611.4h0M478.8 611.4h0M488.2 611.4h0M497.6 611.4h0M507 611.4h0M516.4 611.4h0M525.8 611.4h0M535.1 611.4h0M544.5 611.4h0M553.9 611.4h0M563.3 611.4h0M572.7 611.4h0M582.1 611.4h0M591.5 611.4h0M600.9 611.4h0M610.3 611.4h0M619.7 611.4h0M629 611.4h0M638.4 611.4h0M647.8 611.4h0M657.2 611.4h0M666.6 611.4h0M666.6 620.6h0M666.6 629.8h0M666.6 639h0M666.6 648.1h0M666.6 657.3h0M666.6 666.5h0M666.6 675.7h0M666.6 684.8h0M666.6 694h0M666.6 703.2h0M666.6 712.4h0M666.6 721.5h0M666.6 730.7h0M666.6 739.9h0M666.6 749.1h0M657.2 749.1h0M647.8 749.1h0M638.4 749.1h0M629 749.1h0M619.7 749.1h0M610.3 749.1h0M600.9 749.1h0M591.5 749.1h0M582.1 749.1h0M572.7 749.1h0M563.3 749.1h0M553.9 749.1h0M544.5 749.1h0M535.1 749.1h0M525.8 749.1h0M516.4 749.1h0M507 749.1h0M497.6 749.1h0M488.2 749.1h0M478.8 749.1h0M469.4 749.1h0M460 749.1h0M450.6 749.1h0M441.2 749.1h0M431.8 749.1h0M422.5 749.1h0M413.1 749.1h0M403.7 749.1h0M394.3 749.1h0M384.9 749.1h0M384.9 739.8h0M384.9 731.1h0M384.9 724h0M384.9 718.3h0M384.9 713.5h0M384.9 709.4h0M384.9 706h0M384.9 703h0M384.9 700.5h0M384.9 698.3h0M384.9 696.3h0M384.9 694.6h0M384.9 693.1h0M384.9 691.8h0M384.9 677.5h0M384.9 676.2h0M384.9 674.7h0M384.9 673h0M384.9 671.1h0M384.9 668.9h0M384.9 666.4h0M384.9 663.4h0M384.9 660h0M384.9 656h0M384.9 651.3h0M384.9 645.5h0M384.9 638.6h0M384.9 629.9h0M384.9 620.7h0M389.1 655.6h0M473.1 743h0M593.4 741.9h0M386.6 692.7h0M390.9 741.2h0M456 740.3h0M392.4 626h0M386.7 672.7h0M465.7 739.5h0M659.5 668.8h0M604.7 618.9h0M633 619.3h0M506.9 741.1h0M386 676.9h0M445.7 739.1h0M435.7 741.1h0M660 660.6h0M659.2 707.2h0M386.4 694.8h0M390.5 644.9h0M581.4 618h0M409.5 619.3h0M387.1 692.1h0M660.3 682.1h0M645.9 741.1h0M472.3 736h0M659.7 689.5h0M532.5 741.4h0M493.9 616.6h0M660.4 617.2h0M460.8 730.9h0M559.6 741.3h0M621.9 739.7h0M563.8 619.7h0M386.1 675.8h0M388.7 712.9h0M386.9 700.3h0M591 621.3h0M597.3 617.5h0M472 619h0M452.8 731h0M571 618.4h0M518.8 619.1h0M386.6 696.5h0M659.8 736.2h0M659 716.7h0M398.9 737.4h0M510.3 618.3h0M598.4 624.6h0M389.5 650.7h0M407 740.1h0M495.1 741.6h0M391.5 636.3h0M501.5 617.6h0M495.3 623.8h0M540.9 741.8h0M541.3 619h0M653.6 663.9h0M658.1 726.8h0M659.4 698.1h0M532.3 618.5h0M386.4 674.4h0M391.1 730.5h0M504.7 624.7h0M567.6 742.9h0M652.3 693h0M388.6 672.4h0M390.4 716.7h0M513.5 741.2h0M388.9 698.9h0M428.2 619.7h0M389.4 670.9h0M428.1 742.7h0M387 676.5h0M391.5 670.4h0M501.7 743.4h0M385.9 677.9h0M660.1 634.5h0M387.5 675.5h0M487.2 619h0M386.8 698.4h0M624 624h0M400.8 622h0M567.8 625.3h0M458 619.8h0M530.2 625.6h0M447.7 620.1h0M556.7 618.2h0M653.3 684.4h0M386.7 668.3h0M418.3 618.7h0M653.2 655h0M388.5 701.7h0M421.2 739.8h0M393.3 721.4h0M429.2 732.3h0M387.1 677.2h0M387.6 710.1h0M651.6 720.5h0M398.5 726.2h0M420.5 728.6h0M414.2 626h0M450.9 723.5h0M660.4 642.9h0M643.6 618.2h0M646.5 659.4h0M388.3 676.7h0M406.3 729h0M387.4 704.2h0M624.2 617.2h0M559.5 625.3h0M413.5 735.7h0M388 674.1h0M660.1 651.6h0M387.6 693.5h0M585.8 743.1h0M522.3 627.9h0M660.9 743.3h0M658.4 625.1h0M596.2 734.5h0M454.1 626.4h0M614 739.6h0M391.3 698.5h0M479.5 739.5h0M445.4 728.7h0M523.2 739.6h0M592.4 727h0M606.3 742.5h0M615.1 620.1h0M502 735.9h0M653.5 645.9h0M652 734.3h0M463.4 723.8h0M422.2 626.1h0M616.5 629.4h0M652 701.8h0M633.9 743.3h0M388.6 659.8h0M410.8 633.5h0M645.9 704.8h0M422 721.1h0M654.2 669.7h0M389 675.4h0M499.9 631.2h0M413.3 727.4h0M627.8 742h0M513.3 626h0M392.4 700.6h0M529.6 633h0M509.7 736h0M586.1 734.8h0M508.5 728.8h0M646.6 678.5h0M392.7 654.1h0M576.6 740.6h0M649 624.7h0M654.9 638.7h0M605.4 734.3h0M631.2 628.2h0M390.9 702.1h0M468.7 728.1h0M651.1 711.3h0M387.8 663.3h0M455.5 718h0M388.3 696.8h0M536.3 623.9h0M541.7 626.2h0M634.4 736.6h0M448.2 628.8h0M438.1 731.3h0M391.8 667.9h0M438 618.8h0M388 695.1h0M398.8 632h0M393.5 617.1h0M583.7 725.1h0M584.5 626.9h0M652.7 631.9h0M620.7 732.8h0M444.5 722.2h0M396.9 642.5h0M487.6 737.1h0M439.9 725.2h0M465.2 617h0M395.1 649.7h0M479.6 624.1h0M388.3 706.8h0M508 632.3h0M406.6 628h0M576.2 625.2h0M491.9 631.7h0M640.1 625.7h0M426.8 724h0M639.2 740.3h0M386.3 692.1h0M484 632.4h0M639.1 703.8h0M466.1 623.9h0M460.6 629.1h0M544.3 736h0M472.3 626.6h0M647.9 669.2h0M457.3 724.3h0M390.4 700.4h0M392.7 712.2h0M403.5 722.3h0M645.5 630.9h0M549.9 740.3h0M448.8 718.2h0M387.2 666.2h0M644.2 696.8h0M410 721h0M387.2 670.6h0M645.2 649.5h0M460.3 720.4h0M446.7 714.1h0M516 634.3h0M389.7 674h0M599.1 720.1h0M404.1 638.5h0M390.5 709.4h0M417.4 633.8h0M600.5 740.5h0M389.2 693.8h0M516.7 733h0M396.6 715.3h0M645.4 687.3h0M531 734.1h0M637.5 690.3h0M497.1 725.2h0M579.3 631.6h0M481.8 731h0M523.5 636.9h0M592.3 629.8h0M517.5 723.2h0M433.4 722.9h0M475.5 634.7h0M388.9 692.6h0M393.6 708.9h0M393.5 659.1h0M538 734.8h0M525.7 620.4h0M454.2 635.3h0M623.8 630.9h0M548.9 732.8h0M626.5 728.1h0M567 734.2h0M429.1 627.3h0M403.7 716.4h0M611 636.1h0M608.7 642.3h0M487.9 639.3h0M643 732.8h0M529.7 639.8h0M603.1 638.7h0M433.9 633.4h0M619.2 637.5h0M442.4 624.9h0M451.8 714.1h0M398.9 651.4h0M634.7 727.8h0M525.3 729.5h0M399 720.3h0M487.2 726.3h0M390.1 704.1h0M493.8 733.6h0M467.6 632.3h0M393.8 698.8h0M613.7 729.6h0M647.1 639h0M421 642.5h0M518.4 641.3h0M576.4 730.7h0M481 640.1h0M510.2 641.1h0M475.8 729.5h0M390.2 692.8h0M396 706.2h0M387.8 692.3h0M642.3 711.1h0M391.1 662.8h0M536.4 630h0M639.9 643h0M388.6 691.9h0M640.2 655.9h0M650 727.6h0M549.3 616.9h0M628.2 636.3h0M637.8 634.9h0M390.5 672.3h0M479.8 723.6h0M435.6 625.7h0M543.2 729.6h0M425.7 633.7h0M443.3 717.1h0M396.4 710.4h0M576.1 722.2h0M645.7 717h0M475.1 646.5h0M638.2 718.6h0M572 631.7h0M655.5 675.7h0M496.1 638h0M389.8 695.5h0M639.7 663.6h0M569.4 718.7h0M389.9 697.2h0M590 719h0M516.9 649.1h0M389.9 691.7h0M632.6 643.1h0M613.6 641.7h0M606.7 628.4h0M468.8 652.6h0M392.9 697.3h0M503.2 637.2h0M599.9 728.2h0M594.6 638.3h0M629.2 721h0M391.3 692.2h0M441.4 631.4h0M505.4 718.3h0M606.8 725h0M582.1 716.9h0M440.8 641.6h0M400.7 711.9h0M563.4 631.9h0M387.9 691.4h0M589.4 645h0M598.9 631.9h0M543.1 722.5h0M396.5 654.6h0M439 720h0M389.9 665.8h0M389 668.7h0M522.6 715.3h0M632.1 702.5h0M391.3 696.6h0M621 724.7h0M570.3 726.3h0M582.8 643.3h0M489.5 719.5h0M598 648h0M549.8 624.5h0M410.3 715.1h0M391.4 693.1h0M483.4 718.4h0M392.1 691.3h0M622.7 716.2h0M390.7 694h0M511.1 655.8h0M482.6 649h0M468.4 720.7h0M549.4 725.9h0M544.8 633.3h0M632.5 711.2h0M402 648.2h0M394.8 663.2h0M416.7 717.6h0M534.8 725.3h0M567.5 638.4h0M391.4 695.1h0M576.6 638.8h0M406 711.5h0M468.6 642.6h0M487.6 626.2h0M499.8 711.8h0M514.3 714.6h0M575.4 715h0M411 643.7h0M554.5 632.2h0M624.4 644h0M394.9 696.7h0M556.4 731.7h0M654 742.1h0M439.1 715.8h0M548.2 717.1h0M644.1 723.9h0M518.7 658.5h0M397.2 697.4h0M393.2 703.2h0M394.8 700.9h0M491.9 646.1h0M399 708.8h0M605.2 646.5h0M390.6 675.4h0M501.1 643.8h0M550.9 638.7h0M402 654.5h0M558.7 638.8h0M464.2 719.3h0M632 666.6h0M392.5 693.9h0M570.8 644.1h0M391.6 674h0M590.8 653.9h0M417.2 650.4h0M466.3 657.1h0M488.1 654.9h0M506 708.2h0M585.9 636.2h0M539.4 714.3h0M553.2 646.2h0M409 652.4h0M392.8 665.4h0M520.2 667.2h0M393.6 671.3h0M583.7 650.2h0M588.2 711.2h0M639.3 672.5h0M402.4 708.7h0M427.8 717.8h0M623.5 706.2h0M393.8 669.3h0M612 648.7h0M616.3 713.2h0M425.2 649.6h0M410.8 711.3h0M420 713.5h0M415 713.1h0M620.2 651.5h0M393.4 673.1h0M563.2 645.2h0M563.4 724.8h0M398.5 658.3h0M628.3 694.8h0M526.4 652.7h0M624.2 669.8h0M494.4 715.4h0M554.7 712h0M496.9 652.1h0M583.4 659.3h0M475.8 655.5h0M462.8 659.2h0M408.4 709.3h0M614.7 720.9h0M394 667.3h0M617.8 644.7h0M416.4 657.4h0M457.3 711.9h0M389.9 676.6h0M490.5 710.5h0M492.9 659.9h0M470.5 658.8h0M517.5 706.9h0M392.9 695.7h0M526.8 708.7h0M408.1 657.6h0M466.9 715.3h0M444 652.2h0M449 644.2h0M447 635.8h0M527.7 661.3h0M577 646.8h0M398.2 704.4h0M497.7 706.2h0M595.4 706.6h0M456.1 645.8h0M638.6 681.5h0M394.6 673.9h0M403.1 659h0M506.8 649.7h0M482 656.6h0M587 702.2h0M485.3 708.6h0M636.4 697.4h0M394 693.1h0M395 675.1h0M395.7 666.1h0M487 714h0M407.2 661.6h0M530.8 715.8h0M502.1 658h0M624.6 687h0M562.3 715.6h0M630.8 684.7h0M474.3 660.7h0M421.8 710h0M405.7 707.9h0M467.6 710.9h0M394 692.2h0M524.9 644.5h0M522.3 675.7h0M636.6 649.9h0M462.4 648.5h0M534.9 656h0M395.2 692.3h0M395.9 691.6h0M619.4 699h0M534.9 663.2h0M534.3 646.5h0M398.4 695.8h0M552.3 653.6h0M579.9 709.1h0M612.4 706.4h0M480.7 712.6h0M544.1 651.9h0M608.5 716.2h0M451.1 652.1h0M394.2 676.3h0M555.8 721.3h0M396 698.9h0M461.3 716h0M430.1 713.8h0M395.7 670.7h0M533.3 709.1h0M478.7 660.9h0M517.8 698h0M471.3 712.9h0M393.4 691.8h0M538.1 704.6h0M416.5 723.2h0M633.5 657.8h0M400.3 661.5h0M400.7 703.4h0M437.4 649.3h0M431 643.3h0M394.3 694.6h0M539.4 668.4h0M460.8 664.1h0M569.7 708.4h0M393.4 674.9h0M631.4 675.7h0M546.6 706.5h0M432.4 656.6h0M623.1 679.1h0M396.3 675.1h0M462.4 654.8h0M457 653.4h0M612 696.5h0M569.7 651.4h0M619.2 685h0M536.4 637.6h0M391.9 675.4h0M602.3 711h0M615.5 680.3h0M577.7 653.4h0M395.8 693.6h0M570.1 699.8h0M437.8 656.2h0M559.9 652.4h0M603.4 692.7h0M434.5 661.5h0M398.4 664.5h0M422.6 716.6h0M392.8 676.3h0M619.5 691.6h0M436.9 712.5h0M429 659.7h0M464.8 708.2h0M417.8 710.4h0M396.2 703h0M485.1 662.3h0M473.9 722.3h0M543.9 642.5h0M396 673.9h0M603.8 702.1h0M389.4 677.2h0M524.2 702.1h0M466.4 661.5h0M443.8 659.7h0M397 672.5h0M399.9 706.3h0M472.4 717.1h0M396 668.6h0M482.8 705.2h0M495.7 701.4h0M577 701.3h0M395.8 695.1h0M508.3 664.9h0M432.2 651.7h0M628.6 651.1h0M397.1 691.5h0M430.1 709.6h0M614.3 671.1h0M425.7 708.3h0M567.3 693.9h0M483.9 701.8h0M425.5 712.6h0M422 654h0M468.2 707.6h0M587.1 668.6h0M624.5 660.3h0M476.8 709.6h0M501.1 700.8h0M397.1 676h0M398.1 670.5h0M395.1 672.5h0M391.3 676.5h0M496.8 695.9h0M598.6 687.1h0M403.2 705.7h0M463.1 711.6h0M386.1 693.7h0M397.7 692.2h0M448.1 657h0M595 713.7h0M497.8 665.4h0M392.1 672.2h0M442.3 664.1h0M480.3 707.9h0M612 687.1h0M477 705.9h0M428.7 705.9h0M470.9 709.4h0M475.6 713.5h0M398.2 667.7h0M541.8 660.6h0M479.7 705h0M479.8 665.7h0M596.1 698.6h0M404.4 702.8h0M434.6 709.3h0M475.5 664.9h0M470.9 664.2h0M526.5 721.9h0M397.4 674.4h0M405.9 705.3h0M392.3 677.2h0M393.5 677.3h0M530.2 669.8h0M412.6 661.7h0M460.4 707.8h0M388.4 677.7h0M405.6 664.9h0M487.7 666.8h0M491.8 698.4h0M474.4 703.5h0M403.6 662h0M608.1 679.1h0M427.5 654.8h0M460.6 704.8h0M402 664.5h0M396.5 692.4h0M483.8 667.6h0M390.8 677.8h0M560.8 708h0M605.4 654.3h0M400 694.8h0M511.4 673.9h0M461.8 638.8h0M419.3 707.9h0M434.1 716.3h0M422.1 706.7h0M400.7 667.1h0M395.6 676.2h0M455.7 707.7h0M595.8 692h0M423.6 658.3h0M542.2 698.8h0M514.5 682h0M397.1 661.3h0M458.3 658.9h0M480.8 702.5h0M407 668.5h0M581.4 693h0M394.8 677.5h0M410.7 669.8h0M425.1 663.2h0M398.2 699.2h0M432.5 706.3h0M433.1 712.4h0M398.1 677.1h0M452.4 710.2h0M604.3 685.1h0M404.4 670.7h0M627.6 734.5h0M474.8 700.6h0M463.2 705.4h0M554.9 703.2h0M408.4 706.6h0M590.1 694.6h0M399.1 673.1h0M549.3 695.5h0M417.3 662.1h0M561.1 693.1h0M408.1 703.5h0M392.6 692.5h0M394 678.3h0M452.8 658h0M598.6 679.4h0M415.6 665.5h0M477.5 702.5h0M400.3 671h0M459.1 702.8h0M397.1 694.6h0M486.2 704.4h0M418.6 704.7h0M431.1 703.5h0M454.7 662.9h0M473.6 707h0M562.7 700.4h0M595 670.7h0M398.6 694h0M396.4 677.3h0M589.8 685.4h0M438.6 708.8h0M466.3 665.9h0M425.2 705.1h0M410.5 665.9h0M399.3 701.1h0M508.9 700.2h0M481.6 699.3h0M472.6 668.2h0M422.1 703.8h0M652.8 617.9h0M479.3 700.3h0M556.5 696.2h0M403.5 667.5h0M480.3 669.3h0M444.2 666.6h0M420.3 665.4h0M536.1 675.8h0M464.7 703.4h0M399.9 669.1h0M556 689.2h0M473.4 671.1h0M442.4 707.8h0M424.3 667.2h0M573.7 695.3h0M392 706.4h0M400.1 696.3h0M525.5 684.2h0M487.4 700.7h0M500.6 673.1h0M441.7 712.1h0M505 680h0M578.6 667.4h0M419.7 701.8h0M467 702.7h0M490.9 704.9h0M569.1 667.2h0M414.1 709.7h0M449 662.8h0M572.7 688.7h0M397.1 700.9h0M556.1 660h0M478.9 697.5h0M578.8 683.1h0M401.8 669.7h0M526.6 694.5h0M398.3 702.7h0M477.1 699.4h0M491.5 665.3h0M541.5 691h0M561.6 664.8h0M411.1 708.3h0M427.7 702.6h0M619.4 665.3h0M469.4 667.9h0M449.1 711.7h0M451.8 667.2h0M469.7 702h0M401.9 700.9h0M544.1 675.1h0M535.6 696.6h0M436.2 706.2h0M462.8 668.4h0M408 672.1h0M574.7 674.7h0M539.6 682.7h0M510.6 694h0M401.1 694h0M533.7 688.5h0M413.4 707h0M458.7 668.2h0M466.2 705.4h0M592.1 662.6h0M467.9 700.4h0M533 681.8h0M494.4 670.3h0M472.2 701.3h0M447.2 667.6h0M486.8 671.1h0M471.6 704.2h0M476.8 697.3h0M414 668.9h0M564.2 686.3h0M565.2 659h0M517 690h0M422.5 701h0M398.8 675.4h0M603.3 671.6h0M561.4 672.2h0M396.7 696h0M590.7 676.1h0M433.9 665.5h0M583.3 675.9h0M614.4 659.5h0M598.3 658.1h0M411.1 705.3h0M487.6 696.6h0M400 693.3h0M451.6 706.5h0M448.6 708.4h0M399.2 697.6h0M501 684.1h0M451.2 703.4h0M424.7 702.7h0M475 698.1h0M548.6 683.9h0M401.9 672.6h0M548.4 666.1h0M400.8 674.8h0M503.2 694.6h0M470.3 699.2h0M477.3 695.8h0M605.6 663.5h0M598.7 665.4h0M430.3 663.9h0M445.6 710.2h0M466.6 669.7h0M493.7 695.1h0M409 701.3h0M427.7 666.1h0M398.4 691.4h0M484.5 698.2h0M486.8 692.9h0M416.7 701.9h0M445.5 707h0M472.8 698.9h0M446.6 671.4h0M406.7 701h0M490.5 669.1h0M400.3 699.2h0M530.9 702.5h0M443.7 703.9h0M431 667.9h0M451.9 671.1h0M529.5 677.4h0M498.5 679.6h0M455.1 669.2h0M449.2 670h0M427.3 669.1h0M470 671.4h0M399.4 691.6h0M417.6 668.9h0M506.4 687.7h0M475.2 695.7h0M428.3 700h0M439.3 661.3h0M468.9 704.8h0M471.5 697.4h0M451.3 700.8h0M557.8 680.6h0M457.6 700.8h0M493.9 691.8h0M570.5 680.9h0M433 701.5h0M395.7 678.3h0M552.7 674h0M425.6 700.5h0M466.7 699h0M423.7 699.3h0M430.4 701.1h0M498.5 689.4h0M446.4 674.6h0M454.3 704.7h0M456.2 666.1h0M483.3 692.7h0M405.1 673.6h0M493.9 687.7h0M421.2 669.1h0M447.9 704.6h0M397.5 693.2h0M416.3 707.3h0M548.6 658.3h0M449.1 672.9h0M484.5 674.6h0M493.8 680.3h0M470.7 706.7h0M419 671.7h0M395.8 679.3h0M484.9 689.3h0M420.8 661.2h0M397.1 678.7h0M481.7 695.7h0M564.4 678.7h0M464.9 700.6h0M401.1 697.5h0M442.5 701.7h0M429 697.8h0M463.5 671.5h0M427.3 696.8h0M476.5 669.4h0M398.8 692.5h0M434.3 703.7h0M490.6 693.9h0M420.4 699.8h0M426 695.7h0M480.6 692.9h0M473.7 710.6h0M482.6 671.6h0M491 673.1h0M451.9 674.5h0M441.4 668h0M484.8 695.3h0M479 672.8h0M432.7 670.6h0M439.8 705.4h0M491.2 677.3h0M421.6 671.5h0M444 672.8h0M479.3 676.6h0M396.6 680.3h0M477.8 717.7h0M404.4 700.1h0M430.2 696.2h0M394.8 691.4h0M437.5 703.4h0M408.4 699.1h0M429.3 694.8h0M441.4 674.1h0M419.9 697.7h0M482.5 690.5h0M423.6 697.3h0M414.4 704.2h0M426.8 698.5h0M415.6 672.1h0M400.2 692.2h0M473.2 696.7h0M476.7 677.2h0M472.3 673.7h0M401.4 692.6h0M395.2 680.2h0M421.9 698.6h0M418.1 699.5h0M462.2 702.5h0M417.5 674.4h0M402.5 698.9h0M432 673.1h0M401.8 695.5h0M415.5 699.9h0M465.1 698.2h0M481.6 674.5h0M424.1 670.2h0M457.7 705.2h0M443.6 675.5h0M488 675.4h0M412.9 673.6h0M401.2 691.3h0M478.8 694.6h0M441.4 671.3h0M471.4 695.3h0M418.1 697.6h0M469.5 696.7h0M411 672.2h0M476.4 693.8h0M467.1 697.1h0M448.8 701.6h0M440.4 702.7h0M412.5 676.2h0M489.5 689.3h0M474.8 692.6h0M477 675h0M402.2 691.6h0M471.6 676.2h0M449 675.6h0M425 698.7h0M423.6 673h0M494.9 675.6h0M404.6 697.8h0M475.4 673h0M434.3 699.5h0M490.7 680.6h0M466.5 672.9h0M438 665.8h0M469 674.9h0M456.2 702.7h0M393.1 677.9h0M496.1 684.2h0M468.4 698.5h0M462.3 700.4h0M426.6 672h0M431.1 697.8h0M494.9 709.8h0M463.2 697.2h0M420.2 695.9h0M487 685.6h0M413 671.2h0M427.6 695.2h0M434.9 697.8h0M467.4 676.8h0M433.1 697.9h0M403.8 696h0M415 675.2h0M446.3 702.2h0M482.4 677.3h0M556 667.2h0M465.7 677.5h0M462.3 695.9h0M410.3 677.3h0M410.1 674.7h0M403.3 694.7h0M400.1 676.8h0M467.9 695.3h0M460.2 700.7h0M460.2 670.9h0M428.9 674.2h0M435.7 701.2h0M438.7 673.2h0M436.8 698.7h0M434.1 696.3h0M402.4 693.7h0M394.8 678.9h0M432 699.5h0M472 693.7h0M411.2 702.6h0M441.2 676.8h0M453.5 702.1h0M474.5 675.7h0M466 675.4h0M481.9 688.2h0M439.3 675.3h0M411.1 700h0M470.6 693.8h0M402.9 692.4h0M405.7 695.9h0M478.1 692.4h0M438.5 677.4h0M446.8 699.8h0M403.2 675.1h0M430.2 699.3h0M403.6 691.4h0M418.8 696.1h0M402 676.4h0M420.5 674.2h0M440.9 700.4h0M426.4 694.1h0M483.6 680.2h0M476.2 692h0M444.1 669.7h0M443.4 677.5h0M432.2 696.1h0M428.1 693.5h0M463.9 676.4h0M463.7 695.5h0M404.7 694.5h0M466.4 695.6h0M438.3 670h0M406.9 697.4h0M465.3 679.4h0M429 676.8h0M450.7 677h0M403.8 693.4h0M431 694.7h0M416.4 698h0M488.4 678.9h0M425.8 674.4h0M461.2 698.7h0M483.5 685.7h0M480.3 685.6h0M423 695.1h0M469.5 694.7h0M465.1 696.4h0M421.6 696.5h0M469.3 693.5h0M458.8 699h0M436.1 696.4h0M424.5 696h0M474.6 690.6h0M465.3 694.8h0M452.8 676.6h0M491.2 684.3h0M421.2 694.7h0M436.4 675.7h0M455.2 700.6h0M444.5 679.5h0M485.6 677.7h0M480.2 680.1h0M471.1 692.8h0M394.7 681.3h0M479.8 690.4h0M395.9 681.6h0M422.1 693.8h0M407.5 674.7h0M488.2 682.1h0M424.7 694.5h0M414.5 677.5h0M446.3 680.1h0M393.9 682.7h0M405.3 693h0M447.2 676.7h0M459.7 697.6h0M435.3 672.4h0M432.4 694.6h0M428.7 696.2h0M425.3 676.1h0M418 694.9h0M468.1 693.7h0M423.5 693.4h0M413.6 701.4h0M475.8 688.8h0M435 668.7h0M453.3 700.2h0M442.9 699.9h0M473.3 694.8h0M431.8 693.5h0M446.6 678.5h0M431.3 692.4h0M444 681.2h0M454.8 672.5h0M408.2 678.9h0M425.2 693.3h0M404.1 692.3h0M426.7 692.9h0M463.3 699.1h0M393.8 679.7h0M432.7 692.4h0M473.6 691.9h0M464 694.1h0M424.3 692.5h0M431.4 675.8h0M466.7 694.2h0M470 692.6h0M425.4 692.4h0M478 678.9h0M406.3 694.3h0M426.7 677.6h0M397.6 681.9h0M403.8 677.1h0M477 690.4h0M469.4 677.4h0M399.4 678.7h0M461.1 696.8h0M462.5 694.6h0M485.1 682.8h0M430.1 693.3h0M422.9 675.8h0M461 673.4h0M420.4 676.6h0M410.4 679h0M441.8 698.4h0M424.2 677.9h0M430.1 692.1h0M415.3 696.5h0M482 682.9h0M439.4 698.6h0M477.4 681.2h0M416.7 676.8h0M574 659.4h0M407 693.1h0M457.8 697.1h0M448.6 677.8h0M407.5 695.6h0M448.1 679.9h0M474.8 687.3h0M428.9 692.3h0M425.5 697.2h0M456.5 698.8h0M445.5 664.2h0M442.7 680.7h0M425.8 679.7h0M464.1 678.1h0M445.3 677.1h0M413.3 699.7h0M479.2 682.9h0M465.4 693.4h0M402.2 678.6h0M440.1 678.8h0M423.3 679.7h0M417.1 696.1h0M438.5 700.8h0M433.8 674.9h0M476 679.3h0M457.3 670.8h0M472.9 689.5h0M430.9 678.3h0M442.1 678.9h0M474.7 694.1h0M416.1 678.8h0M438.2 696.8h0M479.8 687.9h0M418.7 678.5h0M418.7 676.1h0M438.2 679.4h0M437.3 694.8h0M422.8 681.5h0M422.3 692.9h0M446.9 681.6h0M455.1 675.6h0M414.4 698.2h0M471.4 678.3h0M473.7 686.1h0M466.8 692.7h0M432.1 691.9h0M460.9 695.2h0M455.5 697h0M405.1 691.5h0M454.4 698.6h0M464.1 692.8h0M481.8 691.7h0M472.9 684.9h0M435 694.6h0M412.4 678.6h0M395.3 682.7h0M433.5 693.6h0M429.8 671.2h0M406 676.6h0M469.6 679.5h0M433.4 691.3h0M420.8 693.1h0M403.5 680.8h0M459.6 675.1h0M441 680.4h0M457.9 673.5h0M444.5 700.9h0M406.3 692.2h0M412.2 698.1h0M467.4 678.9h0M454.2 678h0M473.3 677.4h0M413.3 696.5h0M402.8 697.2h0M406.2 699.1h0M415.4 680.8h0M427.2 675.7h0M423.2 692.3h0M398.7 680.5h0M401.1 680.7h0M474.9 677.8h0M415.9 695.2h0M462.7 693.3h0M456.5 695.6h0M452 678.5h0M436.3 678.4h0M429.1 691.3h0M470.7 691.7h0M408.9 696.9h0M410.3 698.1h0M421.5 678.3h0M411 696.3h0M402.5 682.2h0M477.9 688.5h0M462.3 677.8h0M461.6 675.7h0M424.1 691.6h0M442.6 696.3h0M468.5 692.4h0M465.3 692.4h0M463 692.4h0M419.4 694.3h0M436.5 680.6h0M424.4 680.9h0M414.4 694.8h0M461 693.6h0M398.7 683.3h0M472.1 692.1h0M423.3 682.9h0M428.5 679.3h0M431.1 691.4h0M464.1 691.7h0M423 691.4h0M471.7 688.7h0M473.4 693.2h0M417.8 693.6h0M422.3 683.7h0M433.7 677.6h0M452 698.4h0M473.5 679.4h0M421.3 680.2h0M408.1 694h0M413.2 693.6h0M441 695.7h0M412.4 694.9h0M421 681.6h0M432.5 679.7h0M401.7 683.3h0M394.9 683.7h0M399.4 682.2h0M453.3 680.1h0M472.9 687.7h0M443.9 694.6h0M423.5 683.9h0M474.2 688.8h0M469.5 691.7h0M486.3 680.3h0M407.3 692.2h0M397 683.3h0M424.4 682.2h0M474.9 681.3h0M415.5 682.6h0M434 692.3h0M468.5 691.3h0M427.7 692.4h0M441.5 681.9h0M471.4 680.2h0M425.6 682.8h0M427 691.8h0M474.3 684.8h0M463.2 679.8h0M475.4 685.7h0M440.4 696.9h0M568.1 674.6h0M408.4 676.4h0M394.2 684.5h0M444.6 698.1h0M405.2 679.1h0M476.1 682.9h0M401 684.3h0M440.4 694.4h0M442 694.7h0M454.6 695.2h0M421.9 692.2h0M459.5 696.1h0M413.8 692.6h0M412.6 692.5h0M433.5 681h0M417.3 680.2h0M466.5 680.8h0M465.9 682.3h0M449.6 680.5h0M427.4 680.7h0M411.7 693.6h0M409.3 695.2h0M472.2 686.1h0M461.8 692.4h0M464.7 681.1h0M444.4 682.5h0M471.5 684.9h0M414.7 693.4h0M414.2 681.9h0M415.7 694.2h0M463.8 674.1h0M472.9 690.9h0M448.6 681.7h0M451.2 680.2h0M410.8 694.7h0M416.2 693h0M428.1 691.6h0M459.2 694.4h0M417.1 683.6h0M400.2 683.4h0M459.7 677.3h0M470.9 685.9h0M453.5 696.8h0M453.2 681.9h0M466.2 691.9h0M461 679.3h0M441.4 693.7h0M458.1 695.5h0M440.4 683.1h0M420.1 679.4h0M443.4 683.2h0M402.5 684.3h0M421.8 682.7h0M407 691.5h0M400.9 682.2h0M434.8 693.2h0M447.6 683h0M418.4 682.5h0M414.3 679.3h0M455.9 694.5h0M444.6 696.1h0M410 680.6h0M447.2 697.6h0M439.9 681.6h0M467.2 691.6h0M439.5 680.3h0M421.4 684.5h0M449.3 698.9h0M420.1 691.6h0M467.7 682.2h0M460.5 692.3h0M477.7 682.9h0M413.1 680.7h0M426 681.6h0M424.6 683.6h0M449.2 683.3h0M406.8 680.2h0M442.1 683.3h0M395.5 684.6h0M478.5 686.7h0M470.1 690.4h0M452.9 695.5h0M443.1 682.2h0M477.4 684.7h0M416.3 691.6h0M448 684.2h0M414.9 692.4h0M413.5 691.6h0M430.6 680.4h0M473.7 683.3h0M471.5 690.4h0M441.7 692.6h0M420.3 685.3h0M447.6 695.6h0M469.7 681.4h0M457.8 675.9h0M472.8 681.4h0M455.2 679.5h0M404.3 682.7h0M439.1 683.7h0M401.8 685h0M472.1 683.9h0M436.1 693.5h0M420.1 682.8h0M450.4 681.8h0M451.9 681.3h0M405.4 681.1h0M435.3 692.4h0M438.3 681.3h0M412.8 682.4h0M418.8 683.7h0M454.7 693.7h0M454.9 681.4h0M419 692.7h0M462.3 691.6h0M426 683.9h0M417.5 692.4h0M451.8 682.6h0M450.6 683.2h0M463 681.7h0M467.9 683.4h0M421.1 683.6h0M419.2 681h0M411.4 683.2h0M470.7 689.1h0M467.4 684.2h0M451.6 684h0M471.3 681.6h0M451.7 696.4h0M400.1 681.4h0M406 682.4h0M435 681.6h0M427.3 684h0M439.3 695.4h0M424.2 684.4h0M409.9 693.5h0M450.3 697.3h0M470.4 684.9h0M443 684.1h0M450 679h0M461.5 680.9h0M420.1 684.1h0M416.8 694.5h0M411.4 681.6h0M406.8 681.3h0M429 681.2h0M445.9 683h0M418.3 691.7h0M466.7 683.4h0M460 680.5h0M461.6 682.2h0M446 696.5h0M417.1 684.7h0M426.8 682.9h0M442.7 693.4h0M455 692.5h0M416.1 684.6h0M440 684.3h0M468.3 684.3h0M456.8 678h0M412.4 691.3h0M470.7 683.9h0M417.1 681.8h0M461.2 691.6h0M415 685.1h0M437.5 693.4h0M437.7 684h0M469.8 685.4h0M444.2 692.9h0M438.7 682.8h0M432 681.5h0M449.8 695.5h0M436.8 682.6h0M465.3 683.6h0M434.6 679.8h0M445.7 684.2h0M466.4 684.4h0M445.4 681.4h0M471.9 682.8h0M443.1 692.2h0M414 684.1h0M433.5 695.1h0M436.8 692.5h0M471.4 687.2h0M440.2 693.1h0M458.8 679.5h0M444.3 684h0M446.8 683.8h0M438.3 692.5h0M435.9 691.8h0M418.1 684.4h0M469.4 684.5h0M445.7 695h0M408.5 692.6h0M417.9 685.3h0M467.7 685.3h0M395.9 683.8h0M414.1 683.1h0M403.9 684.2h0M411.4 680h0M399.6 684.4h0M441 685.3h0M470.6 682.6h0M415.3 683.9h0M445.6 692.6h0M437.8 685h0M443 685.1h0M442.1 684.4h0M397 684.7h0M407.3 682.2h0M410 682.4h0M408 691.6h0M469.2 683.3h0M438.9 684.4h0M411.2 692.4h0M470.7 688h0M425.2 684.5h0M468.2 680.5h0M427.7 682h0M440.4 692.2h0M456.8 680.3h0M458.4 681.6h0M410.2 684h0M456.6 681.9h0M419 684.6h0M450.2 684.2h0M441.1 684.1h0M423 684.6h0M409.3 692h0M404.8 685.3h0M412.8 683.7h0M456.2 693.4h0M405.5 683.9h0M406.6 684.3h0M448.9 697h0M430.4 682.2h0M427.9 683.1h0M437.7 691.6h0M436.2 684h0M408.5 683.1h0M435 683.2h0M438.8 691.5h0M398.3 684.3h0M399.1 685.3h0M400.4 685.2h0M446.8 693.6h0M468.3 685.2h0M438.9 693.8h0M444.7 691.4h0M408.3 681.3h0M470.1 686.6h0M448.6 694h0M457.3 694.4h0M458 693.1h0M405.9 684.7h0M431.7 683.3h0M459.6 693.1h0M433.5 682.5h0M449.1 684.6h0M442.1 691.6h0M403.5 685.2h0M476.6 687h0M447.9 685.3h0M428.7 684h0M446.9 692.2h0M411.6 684.4h0M456.7 692.2h0M443.2 691.4h0M448.1 692.7h0M460.1 691.5h0M451.5 694.7h0M444.9 685.2h0M433.5 683.9h0M435.8 684.9h0M457.4 691.8h0M434.9 684.2h0M439.7 685h0M439.4 692.4h0M445.2 693.7h0M466.1 685.2h0M469.9 688h0M409.9 692.4h0M460.2 681.9h0M459.1 692.2h0M463.8 684.2h0M465.2 684.6h0M436.8 684.9h0M413 684.6h0M458 692.1h0M426.5 685h0M433.1 684.9h0M434.4 691.3h0M464.2 682.8h0M429 682.8h0M462.4 683.3h0M424.6 685.3h0M462.3 684.4h0M454.1 682.8h0M407.7 684.2h0M406.9 683.4h0M461 684.7h0M434.1 684.8h0M430 683.8h0M410.7 685.2h0M454.2 683.9h0M430.9 684.4h0M428 684.8h0M453 694h0M464.2 685.2h0M455.6 691.6h0M455.5 683.2h0M432.1 684.4h0M460.7 683.2h0M458.5 691.4h0M457.3 683.3h0M453 683.3h0M451.5 693.3h0M453.7 693h0M453 684.4h0M459.1 683.2h0M429.6 685.2h0M406.8 685.2h0M453.6 692.2h0M408.6 685h0M455.3 684.3h0M408.9 684.2h0M410.7 691.4h0M409.6 684.6h0M431.5 685.2h0M463.1 684.8h0M421.9 685.2h0M462.1 685.3h0M403 683.4h0M459.8 684.3h0M449.3 693.1h0M458.3 684.3h0M451 684.7h0M416.3 685.3h0M454.3 685.2h0M446.7 684.6h0M456.4 684.1h0M450.3 692.6h0M452 685.2h0M411.7 685.3h0M461.2 684h0M459.9 685.2h0M454.5 691.7h0M452.6 692.6h0M449.2 692.1h0M457.6 685.1h0M450.2 685.3h0M452.5 691.5h0M450.2 693.9h0M448.1 691.5h0M451.4 692.2h0M446 691.9h0M447 691.3h0M456.6 691.3h0M450.4 691.4h0M475.4 684.2h0M456.5 685h0M449 691.4h0M457.2 684.4h0M458.7 685.2h0M375.5 611.4h0M366.1 611.4h0M356.7 611.4h0M347.3 611.4h0M338 611.4h0M328.6 611.4h0M319.2 611.4h0M309.8 611.4h0M300.4 611.4h0M291 611.4h0M281.6 611.4h0M272.2 611.4h0M262.8 611.4h0M253.4 611.4h0M244.1 611.4h0M234.7 611.4h0M225.3 611.4h0M215.9 611.4h0M206.5 611.4h0M197.1 611.4h0M187.7 611.4h0M178.3 611.4h0M168.9 611.4h0M159.5 611.4h0M150.2 611.4h0M140.8 611.4h0M131.4 611.4h0M122 611.4h0M112.6 611.4h0M103.2 611.4h0M103.2 620.6h0M103.2 629.8h0M103.2 639h0M103.2 648.1h0M103.2 657.3h0M103.2 666.5h0M103.2 675.7h0M103.2 684.8h0M103.2 694h0M103.2 703.2h0M103.2 712.4h0M103.2 721.5h0M103.2 730.7h0M103.2 739.9h0M103.2 749.1h0M112.6 749.1h0M122 749.1h0M131.4 749.1h0M140.8 749.1h0M150.2 749.1h0M159.5 749.1h0M168.9 749.1h0M178.3 749.1h0M187.7 749.1h0M197.1 749.1h0M206.5 749.1h0M215.9 749.1h0M225.3 749.1h0M234.7 749.1h0M244.1 749.1h0M253.4 749.1h0M262.8 749.1h0M272.2 749.1h0M281.6 749.1h0M291 749.1h0M300.4 749.1h0M309.8 749.1h0M319.2 749.1h0M328.6 749.1h0M338 749.1h0M347.3 749.1h0M356.7 749.1h0M366.1 749.1h0M375.5 749.1h0M380.7 655.6h0M296.7 743h0M176.4 741.9h0M383.2 692.7h0M378.9 741.2h0M313.8 740.3h0M377.4 626h0M383.1 672.7h0M304.1 739.5h0M110.3 668.8h0M165.1 618.9h0M136.8 619.3h0M262.9 741.1h0M383.8 676.9h0M324.1 739.1h0M334.1 741.1h0M109.8 660.6h0M110.6 707.2h0M383.4 694.8h0M379.3 644.9h0M188.4 618h0M360.3 619.3h0M382.7 692.1h0M109.5 682.1h0M123.9 741.1h0M297.5 736h0M110.1 689.5h0M237.3 741.4h0M275.9 616.6h0M109.4 617.2h0M309 730.9h0M210.2 741.3h0M147.9 739.7h0M206 619.7h0M383.7 675.8h0M381.1 712.9h0M382.9 700.3h0M178.8 621.3h0M172.5 617.5h0M297.8 619h0M317 731h0M198.8 618.4h0M251 619.1h0M383.2 696.5h0M110 736.2h0M110.8 716.7h0M370.9 737.4h0M259.5 618.3h0M171.4 624.6h0M380.3 650.7h0M362.8 740.1h0M274.7 741.6h0M378.3 636.3h0M268.3 617.6h0M274.5 623.8h0M228.9 741.8h0M228.5 619h0M116.2 663.9h0M111.7 726.8h0M110.4 698.1h0M237.5 618.5h0M383.4 674.4h0M378.7 730.5h0M265.1 624.7h0M202.2 742.9h0M117.5 693h0M381.2 672.4h0M379.4 716.7h0M256.3 741.2h0M380.9 698.9h0M341.6 619.7h0M380.4 670.9h0M341.7 742.7h0M382.8 676.5h0M378.3 670.4h0M268.1 743.4h0M383.9 677.9h0M109.7 634.5h0M382.3 675.5h0M282.6 619h0M383 698.4h0M145.8 624h0M369 622h0M202 625.3h0M311.8 619.8h0M239.6 625.6h0M322.1 620.1h0M213.1 618.2h0M116.5 684.4h0M383.1 668.3h0M351.5 618.7h0M116.6 655h0M381.3 701.7h0M348.6 739.8h0M376.5 721.4h0M340.6 732.3h0M382.7 677.2h0M382.2 710.1h0M118.2 720.5h0M371.3 726.2h0M349.3 728.6h0M355.6 626h0M318.9 723.5h0M109.4 642.9h0M126.2 618.2h0M123.3 659.4h0M381.5 676.7h0M363.5 729h0M382.4 704.2h0M145.6 617.2h0M210.3 625.3h0M356.3 735.7h0M381.8 674.1h0M109.7 651.6h0M382.2 693.5h0M184 743.1h0M247.5 627.9h0M108.9 743.3h0M111.4 625.1h0M173.6 734.5h0M315.7 626.4h0M155.8 739.6h0M378.5 698.5h0M290.3 739.5h0M324.4 728.7h0M246.6 739.6h0M177.4 727h0M163.5 742.5h0M154.7 620.1h0M267.8 735.9h0M116.3 645.9h0M117.8 734.3h0M306.4 723.8h0M347.6 626.1h0M153.3 629.4h0M117.8 701.8h0M135.9 743.3h0M381.2 659.8h0M359 633.5h0M123.9 704.8h0M347.8 721.1h0M115.6 669.7h0M380.8 675.4h0M269.9 631.2h0M356.5 727.4h0M142 742h0M256.5 626h0M377.4 700.6h0M240.2 633h0M260.1 736h0M183.7 734.8h0M261.3 728.8h0M123.2 678.5h0M377.1 654.1h0M193.2 740.6h0M120.8 624.7h0M114.9 638.7h0M164.4 734.3h0M138.6 628.2h0M378.9 702.1h0M301.1 728.1h0M118.7 711.3h0M382 663.3h0M314.3 718h0M381.5 696.8h0M233.5 623.9h0M228.1 626.2h0M135.4 736.6h0M321.6 628.8h0M331.7 731.3h0M378 667.9h0M331.8 618.8h0M381.8 695.1h0M371 632h0M376.3 617.1h0M186.1 725.1h0M185.3 626.9h0M117.1 631.9h0M149.1 732.8h0M325.3 722.2h0M372.9 642.5h0M282.2 737.1h0M329.9 725.2h0M304.6 617h0M374.7 649.7h0M290.2 624.1h0M381.5 706.8h0M261.8 632.3h0M363.2 628h0M193.6 625.2h0M277.9 631.7h0M129.7 625.7h0M343 724h0M130.6 740.3h0M383.5 692.1h0M285.8 632.4h0M130.7 703.8h0M303.7 623.9h0M309.2 629.1h0M225.5 736h0M297.5 626.6h0M121.9 669.2h0M312.5 724.3h0M379.4 700.4h0M377.1 712.2h0M366.3 722.3h0M124.3 630.9h0M219.9 740.3h0M321 718.2h0M382.6 666.2h0M125.6 696.8h0M359.8 721h0M382.6 670.6h0M124.6 649.5h0M309.5 720.4h0M323.1 714.1h0M253.8 634.3h0M380.1 674h0M170.7 720.1h0M365.7 638.5h0M379.3 709.4h0M352.4 633.8h0M169.3 740.5h0M380.6 693.8h0M253.1 733h0M373.2 715.3h0M124.4 687.3h0M238.8 734.1h0M132.3 690.3h0M272.7 725.2h0M190.5 631.6h0M288 731h0M246.3 636.9h0M177.5 629.8h0M252.3 723.2h0M336.4 722.9h0M294.3 634.7h0M380.9 692.6h0M376.2 708.9h0M376.3 659.1h0M231.8 734.8h0M244.1 620.4h0M315.6 635.3h0M146 630.9h0M220.9 732.8h0M143.3 728.1h0M202.8 734.2h0M340.7 627.3h0M366.1 716.4h0M158.8 636.1h0M161.1 642.3h0M281.9 639.3h0M126.8 732.8h0M240.1 639.8h0M166.7 638.7h0M335.9 633.4h0M150.6 637.5h0M327.4 624.9h0M318 714.1h0M370.9 651.4h0M135.1 727.8h0M244.5 729.5h0M370.8 720.3h0M282.6 726.3h0M379.7 704.1h0M276 733.6h0M302.2 632.3h0M376 698.8h0M156.1 729.6h0M122.7 639h0M348.8 642.5h0M251.4 641.3h0M193.4 730.7h0M288.8 640.1h0M259.6 641.1h0M294 729.5h0M379.6 692.8h0M373.8 706.2h0M382 692.3h0M127.5 711.1h0M378.7 662.8h0M233.4 630h0M129.9 643h0M381.2 691.9h0M129.6 655.9h0M119.8 727.6h0M220.5 616.9h0M141.6 636.3h0M132 634.9h0M379.3 672.3h0M290 723.6h0M334.2 625.7h0M226.6 729.6h0M344.1 633.7h0M326.5 717.1h0M373.4 710.4h0M193.7 722.2h0M124.1 717h0M294.7 646.5h0M131.6 718.6h0M197.8 631.7h0M114.3 675.7h0M273.7 638h0M380 695.5h0M130.1 663.6h0M200.4 718.7h0M379.9 697.2h0M179.8 719h0M252.9 649.1h0M379.9 691.7h0M137.2 643.1h0M156.2 641.7h0M163.1 628.4h0M301 652.6h0M376.9 697.3h0M266.6 637.2h0M169.9 728.2h0M175.2 638.3h0M140.6 721h0M378.5 692.2h0M328.4 631.4h0M264.4 718.3h0M163 725h0M187.7 716.9h0M329 641.6h0M369.1 711.9h0M206.4 631.9h0M381.9 691.4h0M180.4 645h0M170.9 631.9h0M226.7 722.5h0M373.3 654.6h0M330.8 720h0M379.9 665.8h0M380.8 668.7h0M247.2 715.3h0M137.7 702.5h0M378.5 696.6h0M148.8 724.7h0M199.5 726.3h0M187 643.3h0M280.3 719.5h0M171.8 648h0M220 624.5h0M359.5 715.1h0M378.4 693.1h0M286.4 718.4h0M377.7 691.3h0M147.1 716.2h0M379.1 694h0M258.7 655.8h0M287.2 649h0M301.4 720.7h0M220.4 725.9h0M225 633.3h0M137.3 711.2h0M367.8 648.2h0M375 663.2h0M353.1 717.6h0M235 725.3h0M202.3 638.4h0M378.4 695.1h0M193.2 638.8h0M363.8 711.5h0M301.2 642.6h0M282.2 626.2h0M270 711.8h0M255.5 714.6h0M194.4 715h0M358.8 643.7h0M215.3 632.2h0M145.4 644h0M374.9 696.7h0M213.4 731.7h0M115.8 742.1h0M330.7 715.8h0M221.6 717.1h0M125.7 723.9h0M251.1 658.5h0M372.6 697.4h0M376.6 703.2h0M375 700.9h0M277.9 646.1h0M370.8 708.8h0M164.6 646.5h0M379.2 675.4h0M268.7 643.8h0M218.9 638.7h0M367.8 654.5h0M211.1 638.8h0M305.6 719.3h0M137.8 666.6h0M377.3 693.9h0M199 644.1h0M378.2 674h0M179 653.9h0M352.6 650.4h0M303.5 657.1h0M281.7 654.9h0M263.8 708.2h0M183.9 636.2h0M230.4 714.3h0M216.6 646.2h0M360.8 652.4h0M377 665.4h0M249.6 667.2h0M376.2 671.3h0M186.1 650.2h0M181.6 711.2h0M130.5 672.5h0M367.4 708.7h0M342 717.8h0M146.3 706.2h0M376 669.3h0M157.8 648.7h0M153.5 713.2h0M344.6 649.6h0M359 711.3h0M349.8 713.5h0M354.8 713.1h0M149.6 651.5h0M376.4 673.1h0M206.6 645.2h0M206.4 724.8h0M371.3 658.3h0M141.5 694.8h0M243.4 652.7h0M145.6 669.8h0M275.4 715.4h0M215.1 712h0M272.9 652.1h0M186.4 659.3h0M294 655.5h0M307 659.2h0M361.4 709.3h0M155.1 720.9h0M375.8 667.3h0M152 644.7h0M353.4 657.4h0M312.5 711.9h0M379.9 676.6h0M279.3 710.5h0M276.9 659.9h0M299.3 658.8h0M252.3 706.9h0M376.9 695.7h0M243 708.7h0M361.7 657.6h0M302.9 715.3h0M325.8 652.2h0M320.8 644.2h0M322.8 635.8h0M242.1 661.3h0M192.8 646.8h0M371.6 704.4h0M272.1 706.2h0M174.4 706.6h0M313.7 645.8h0M131.2 681.5h0M375.2 673.9h0M366.7 659h0M263 649.7h0M287.8 656.6h0M182.8 702.2h0M284.5 708.6h0M133.4 697.4h0M375.8 693.1h0M374.8 675.1h0M374.1 666.1h0M282.8 714h0M362.6 661.6h0M239 715.8h0M267.7 658h0M145.2 687h0M207.5 715.6h0M139 684.7h0M295.5 660.7h0M348 710h0M364.1 707.9h0M302.2 710.9h0M375.8 692.2h0M244.9 644.5h0M247.5 675.7h0M133.2 649.9h0M307.4 648.5h0M234.9 656h0M374.6 692.3h0M373.9 691.6h0M150.4 699h0M234.9 663.2h0M235.5 646.5h0M371.4 695.8h0M217.5 653.6h0M189.9 709.1h0M157.4 706.4h0M289.1 712.6h0M225.7 651.9h0M161.3 716.2h0M318.7 652.1h0M375.6 676.3h0M214 721.3h0M373.8 698.9h0M308.5 716h0M339.7 713.8h0M374.1 670.7h0M236.5 709.1h0M291.1 660.9h0M252 698h0M298.5 712.9h0M376.4 691.8h0M231.7 704.6h0M353.3 723.2h0M136.3 657.8h0M369.5 661.5h0M369.1 703.4h0M332.4 649.3h0M338.8 643.3h0M375.5 694.6h0M230.4 668.4h0M309 664.1h0M200.1 708.4h0M376.4 674.9h0M138.4 675.7h0M223.2 706.5h0M337.4 656.6h0M146.7 679.1h0M373.5 675.1h0M307.4 654.8h0M312.8 653.4h0M157.8 696.5h0M200.1 651.4h0M150.6 685h0M233.4 637.6h0M377.9 675.4h0M167.5 711h0M154.3 680.3h0M192.1 653.4h0M374 693.6h0M199.7 699.8h0M332 656.2h0M209.9 652.4h0M166.4 692.7h0M335.3 661.5h0M371.4 664.5h0M347.2 716.6h0M377 676.3h0M150.3 691.6h0M332.9 712.5h0M340.8 659.7h0M305 708.2h0M352 710.4h0M373.6 703h0M284.7 662.3h0M295.9 722.3h0M225.9 642.5h0M373.8 673.9h0M166 702.1h0M380.4 677.2h0M245.6 702.1h0M303.4 661.5h0M326 659.7h0M372.8 672.5h0M369.9 706.3h0M297.4 717.1h0M373.8 668.6h0M287 705.2h0M274.1 701.4h0M192.8 701.3h0M374 695.1h0M261.5 664.9h0M337.6 651.7h0M141.2 651.1h0M372.7 691.5h0M339.7 709.6h0M155.5 671.1h0M344.1 708.3h0M202.5 693.9h0M285.9 701.8h0M344.3 712.6h0M347.8 654h0M301.6 707.6h0M182.7 668.6h0M145.3 660.3h0M293 709.6h0M268.7 700.8h0M372.7 676h0M371.7 670.5h0M374.7 672.5h0M378.5 676.5h0M273 695.9h0M171.2 687.1h0M366.6 705.7h0M306.7 711.6h0M383.7 693.7h0M372.1 692.2h0M321.7 657h0M174.8 713.7h0M272 665.4h0M377.7 672.2h0M327.5 664.1h0M289.5 707.9h0M157.8 687.1h0M292.8 705.9h0M341.1 705.9h0M298.9 709.4h0M294.2 713.5h0M371.6 667.7h0M228 660.6h0M290.1 705h0M290 665.7h0M173.7 698.6h0M365.4 702.8h0M335.2 709.3h0M294.3 664.9h0M298.9 664.2h0M243.3 721.9h0M372.4 674.4h0M363.9 705.3h0M377.5 677.2h0M376.3 677.3h0M239.6 669.8h0M357.2 661.7h0M309.4 707.8h0M381.4 677.7h0M364.2 664.9h0M282.1 666.8h0M278 698.4h0M295.4 703.5h0M366.2 662h0M161.7 679.1h0M342.3 654.8h0M309.2 704.8h0M367.8 664.5h0M373.3 692.4h0M286 667.6h0M379 677.8h0M209 708h0M164.4 654.3h0M369.8 694.8h0M258.4 673.9h0M308 638.8h0M350.5 707.9h0M335.7 716.3h0M347.7 706.7h0M369.1 667.1h0M374.2 676.2h0M314.1 707.7h0M174 692h0M346.2 658.3h0M227.6 698.8h0M255.3 682h0M372.7 661.3h0M311.5 658.9h0M289 702.5h0M362.8 668.5h0M188.4 693h0M375 677.5h0M359.1 669.8h0M344.7 663.2h0M371.6 699.2h0M337.3 706.3h0M336.7 712.4h0M371.7 677.1h0M317.4 710.2h0M165.5 685.1h0M365.4 670.7h0M142.2 734.5h0M295 700.6h0M306.6 705.4h0M214.9 703.2h0M361.4 706.6h0M179.7 694.6h0M370.7 673.1h0M220.5 695.5h0M352.5 662.1h0M208.7 693.1h0M361.7 703.5h0M377.2 692.5h0M375.8 678.3h0M317 658h0M171.2 679.4h0M354.2 665.5h0M292.3 702.5h0M369.5 671h0M310.7 702.8h0M372.7 694.6h0M283.6 704.4h0M351.2 704.7h0M338.7 703.5h0M315.1 662.9h0M296.2 707h0M207.1 700.4h0M174.8 670.7h0M371.2 694h0M373.4 677.3h0M180 685.4h0M331.2 708.8h0M303.5 665.9h0M344.6 705.1h0M359.3 665.9h0M370.5 701.1h0M260.9 700.2h0M288.2 699.3h0M297.2 668.2h0M347.7 703.8h0M117 617.9h0M290.5 700.3h0M213.3 696.2h0M366.3 667.5h0M289.5 669.3h0M325.6 666.6h0M349.5 665.4h0M233.7 675.8h0M305.1 703.4h0M369.9 669.1h0M213.8 689.2h0M296.4 671.1h0M327.4 707.8h0M345.5 667.2h0M196.1 695.3h0M377.8 706.4h0M369.7 696.3h0M244.3 684.2h0M282.4 700.7h0M269.2 673.1h0M328.1 712.1h0M264.8 680h0M191.2 667.4h0M350.1 701.8h0M302.8 702.7h0M278.9 704.9h0M200.7 667.2h0M355.7 709.7h0M320.8 662.8h0M197.1 688.7h0M372.7 700.9h0M213.7 660h0M290.9 697.5h0M191 683.1h0M368 669.7h0M243.2 694.5h0M371.5 702.7h0M292.7 699.4h0M278.3 665.3h0M228.3 691h0M208.2 664.8h0M358.7 708.3h0M342.1 702.6h0M150.4 665.3h0M300.4 667.9h0M320.7 711.7h0M318 667.2h0M300.1 702h0M367.9 700.9h0M225.7 675.1h0M234.2 696.6h0M333.6 706.2h0M307 668.4h0M361.8 672.1h0M195.1 674.7h0M230.2 682.7h0M259.2 694h0M368.7 694h0M236.1 688.5h0M356.4 707h0M311.1 668.2h0M303.6 705.4h0M177.7 662.6h0M301.9 700.4h0M236.8 681.8h0M275.4 670.3h0M297.6 701.3h0M322.6 667.6h0M283 671.1h0M298.2 704.2h0M293 697.3h0M355.8 668.9h0M205.6 686.3h0M204.6 659h0M252.8 690h0M347.3 701h0M371 675.4h0M166.5 671.6h0M208.4 672.2h0M373.1 696h0M179.1 676.1h0M335.9 665.5h0M186.5 675.9h0M155.4 659.5h0M171.5 658.1h0M358.7 705.3h0M282.2 696.6h0M369.8 693.3h0M318.2 706.5h0M321.2 708.4h0M370.6 697.6h0M268.8 684.1h0M318.6 703.4h0M345.1 702.7h0M294.8 698.1h0M221.2 683.9h0M367.9 672.6h0M221.4 666.1h0M369 674.8h0M266.6 694.6h0M299.5 699.2h0M292.5 695.8h0M164.2 663.5h0M171.1 665.4h0M339.5 663.9h0M324.2 710.2h0M303.2 669.7h0M276.1 695.1h0M360.8 701.3h0M342.1 666.1h0M371.4 691.4h0M285.3 698.2h0M283 692.9h0M353.1 701.9h0M324.3 707h0M297 698.9h0M323.2 671.4h0M363.1 701h0M279.3 669.1h0M369.5 699.2h0M238.9 702.5h0M326.1 703.9h0M338.8 667.9h0M317.9 671.1h0M240.3 677.4h0M271.3 679.6h0M314.7 669.2h0M320.6 670h0M342.5 669.1h0M299.8 671.4h0M370.4 691.6h0M352.2 668.9h0M263.4 687.7h0M294.6 695.7h0M341.5 700h0M330.5 661.3h0M300.9 704.8h0M298.3 697.4h0M318.5 700.8h0M212 680.6h0M312.2 700.8h0M275.9 691.8h0M199.3 680.9h0M336.8 701.5h0M374.1 678.3h0M217.1 674h0M344.2 700.5h0M303.1 699h0M346.1 699.3h0M339.4 701.1h0M271.3 689.4h0M323.4 674.6h0M315.5 704.7h0M313.6 666.1h0M286.5 692.7h0M364.7 673.6h0M275.9 687.7h0M348.6 669.1h0M321.9 704.6h0M372.3 693.2h0M353.5 707.3h0M221.2 658.3h0M320.7 672.9h0M285.3 674.6h0M276 680.3h0M299.1 706.7h0M350.8 671.7h0M374 679.3h0M284.9 689.3h0M349 661.2h0M372.7 678.7h0M288.1 695.7h0M205.4 678.7h0M304.9 700.6h0M368.7 697.5h0M327.3 701.7h0M340.8 697.8h0M306.3 671.5h0M342.5 696.8h0M293.3 669.4h0M371 692.5h0M335.5 703.7h0M279.2 693.9h0M349.4 699.8h0M343.8 695.7h0M289.2 692.9h0M296.1 710.6h0M287.2 671.6h0M278.8 673.1h0M317.9 674.5h0M328.4 668h0M285 695.3h0M290.8 672.8h0M337.1 670.6h0M330 705.4h0M278.6 677.3h0M348.2 671.5h0M325.8 672.8h0M290.5 676.6h0M373.2 680.3h0M292 717.7h0M365.4 700.1h0M339.6 696.2h0M375 691.4h0M332.3 703.4h0M361.4 699.1h0M340.5 694.8h0M328.4 674.1h0M349.9 697.7h0M287.3 690.5h0M346.2 697.3h0M355.4 704.2h0M343 698.5h0M354.2 672.1h0M369.6 692.2h0M296.6 696.7h0M293.1 677.2h0M297.5 673.7h0M368.4 692.6h0M374.6 680.2h0M347.9 698.6h0M351.7 699.5h0M307.6 702.5h0M352.3 674.4h0M367.3 698.9h0M337.8 673.1h0M368 695.5h0M354.3 699.9h0M304.7 698.2h0M288.2 674.5h0M345.7 670.2h0M312.1 705.2h0M326.2 675.5h0M281.8 675.4h0M356.9 673.6h0M368.6 691.3h0M291 694.6h0M328.4 671.3h0M298.4 695.3h0M351.7 697.6h0M300.3 696.7h0M358.8 672.2h0M293.4 693.8h0M302.7 697.1h0M321 701.6h0M329.4 702.7h0M357.3 676.2h0M280.3 689.3h0M295 692.6h0M292.8 675h0M367.6 691.6h0M298.2 676.2h0M320.8 675.6h0M344.8 698.7h0M346.2 673h0M274.9 675.6h0M365.2 697.8h0M294.4 673h0M335.5 699.5h0M279.1 680.6h0M303.3 672.9h0M331.8 665.8h0M300.8 674.9h0M313.6 702.7h0M376.7 677.9h0M273.7 684.2h0M301.4 698.5h0M307.5 700.4h0M343.2 672h0M338.7 697.8h0M274.9 709.8h0M306.6 697.2h0M349.6 695.9h0M282.8 685.6h0M356.8 671.2h0M342.2 695.2h0M334.9 697.8h0M302.4 676.8h0M336.7 697.9h0M366 696h0M354.8 675.2h0M323.5 702.2h0M287.4 677.3h0M213.8 667.2h0M304.1 677.5h0M307.5 695.9h0M359.5 677.3h0M359.7 674.7h0M366.5 694.7h0M369.7 676.8h0M301.9 695.3h0M309.6 700.7h0M309.6 670.9h0M340.9 674.2h0M334.1 701.2h0M331.1 673.2h0M333 698.7h0M335.7 696.3h0M367.4 693.7h0M375 678.9h0M337.8 699.5h0M297.8 693.7h0M358.6 702.6h0M328.6 676.8h0M316.3 702.1h0M295.3 675.7h0M303.8 675.4h0M287.9 688.2h0M330.5 675.3h0M358.7 700h0M299.2 693.8h0M366.9 692.4h0M364.1 695.9h0M291.7 692.4h0M331.3 677.4h0M323 699.8h0M366.6 675.1h0M339.6 699.3h0M366.2 691.4h0M351 696.1h0M367.8 676.4h0M349.3 674.2h0M328.9 700.4h0M343.4 694.1h0M286.2 680.2h0M293.6 692h0M325.7 669.7h0M326.4 677.5h0M337.6 696.1h0M341.7 693.5h0M305.9 676.4h0M306.1 695.5h0M365.1 694.5h0M303.4 695.6h0M331.5 670h0M362.9 697.4h0M304.5 679.4h0M340.8 676.8h0M319.1 677h0M366 693.4h0M338.8 694.7h0M353.4 698h0M281.4 678.9h0M344 674.4h0M308.6 698.7h0M286.3 685.7h0M289.5 685.6h0M346.8 695.1h0M300.3 694.7h0M304.7 696.4h0M348.2 696.5h0M300.5 693.5h0M311 699h0M333.7 696.4h0M345.3 696h0M295.2 690.6h0M304.5 694.8h0M317 676.6h0M278.6 684.3h0M348.6 694.7h0M333.4 675.7h0M314.6 700.6h0M325.3 679.5h0M284.2 677.7h0M289.6 680.1h0M298.7 692.8h0M375.1 681.3h0M290 690.4h0M373.9 681.6h0M347.7 693.8h0M362.3 674.7h0M281.6 682.1h0M345.1 694.5h0M355.3 677.5h0M323.5 680.1h0M375.9 682.7h0M364.5 693h0M322.6 676.7h0M310.1 697.6h0M334.5 672.4h0M337.4 694.6h0M341.1 696.2h0M344.5 676.1h0M351.8 694.9h0M301.7 693.7h0M346.3 693.4h0M356.2 701.4h0M294 688.8h0M334.8 668.7h0M316.5 700.2h0M326.9 699.9h0M296.5 694.8h0M338 693.5h0M323.2 678.5h0M338.5 692.4h0M325.8 681.2h0M315 672.5h0M361.6 678.9h0M344.6 693.3h0M365.7 692.3h0M343.1 692.9h0M306.5 699.1h0M376 679.7h0M337.1 692.4h0M296.2 691.9h0M305.8 694.1h0M345.5 692.5h0M338.4 675.8h0M303.1 694.2h0M299.8 692.6h0M344.4 692.4h0M291.8 678.9h0M363.5 694.3h0M343.1 677.6h0M372.2 681.9h0M366 677.1h0M292.8 690.4h0M300.4 677.4h0M370.4 678.7h0M308.7 696.8h0M307.3 694.6h0M284.7 682.8h0M339.7 693.3h0M346.9 675.8h0M308.8 673.4h0M349.4 676.6h0M359.4 679h0M328 698.4h0M345.6 677.9h0M339.7 692.1h0M354.5 696.5h0M287.8 682.9h0M330.4 698.6h0M292.4 681.2h0M353.1 676.8h0M195.8 659.4h0M362.8 693.1h0M312 697.1h0M321.2 677.8h0M362.3 695.6h0M321.7 679.9h0M295 687.3h0M340.9 692.3h0M344.3 697.2h0M313.3 698.8h0M324.3 664.2h0M327.1 680.7h0M344 679.7h0M305.7 678.1h0M324.5 677.1h0M356.5 699.7h0M290.6 682.9h0M304.4 693.4h0M367.6 678.6h0M329.7 678.8h0M346.5 679.7h0M352.7 696.1h0M331.3 700.8h0M336 674.9h0M293.8 679.3h0M312.5 670.8h0M296.9 689.5h0M338.9 678.3h0M327.7 678.9h0M295.1 694.1h0M353.7 678.8h0M331.6 696.8h0M290 687.9h0M351.1 678.5h0M351.1 676.1h0M331.6 679.4h0M332.5 694.8h0M347 681.5h0M347.5 692.9h0M322.9 681.6h0M314.7 675.6h0M355.4 698.2h0M298.4 678.3h0M296.1 686.1h0M303 692.7h0M337.7 691.9h0M308.9 695.2h0M314.3 697h0M364.7 691.5h0M315.4 698.6h0M305.7 692.8h0M288 691.7h0M296.9 684.9h0M334.8 694.6h0M357.4 678.6h0M374.5 682.7h0M336.3 693.6h0M340 671.2h0M363.8 676.6h0M300.2 679.5h0M336.4 691.3h0M349 693.1h0M366.3 680.8h0M310.2 675.1h0M328.8 680.4h0M311.9 673.5h0M325.3 700.9h0M363.5 692.2h0M357.6 698.1h0M302.4 678.9h0M315.6 678h0M296.5 677.4h0M356.5 696.5h0M367 697.2h0M363.6 699.1h0M354.4 680.8h0M342.6 675.7h0M346.6 692.3h0M371.1 680.5h0M368.7 680.7h0M294.9 677.8h0M353.9 695.2h0M307.1 693.3h0M313.3 695.6h0M317.8 678.5h0M333.5 678.4h0M340.7 691.3h0M299.1 691.7h0M360.9 696.9h0M359.5 698.1h0M348.3 678.3h0M358.8 696.3h0M367.3 682.2h0M291.9 688.5h0M307.5 677.8h0M308.2 675.7h0M345.7 691.6h0M327.2 696.3h0M301.3 692.4h0M304.5 692.4h0M306.8 692.4h0M350.4 694.3h0M333.3 680.6h0M345.4 680.9h0M355.4 694.8h0M308.8 693.6h0M371.1 683.3h0M297.7 692.1h0M346.5 682.9h0M341.3 679.3h0M338.7 691.4h0M305.7 691.7h0M346.8 691.4h0M298.1 688.7h0M296.4 693.2h0M352 693.6h0M347.5 683.7h0M336.1 677.6h0M317.8 698.4h0M296.3 679.4h0M348.5 680.2h0M361.7 694h0M356.6 693.6h0M328.8 695.7h0M357.4 694.9h0M348.8 681.6h0M337.3 679.7h0M368.1 683.3h0M374.9 683.7h0M370.4 682.2h0M316.5 680.1h0M296.9 687.7h0M325.9 694.6h0M346.3 683.9h0M295.6 688.8h0M300.3 691.7h0M283.5 680.3h0M362.5 692.2h0M372.8 683.3h0M345.4 682.2h0M294.9 681.3h0M354.3 682.6h0M335.8 692.3h0M301.3 691.3h0M342.1 692.4h0M328.3 681.9h0M298.4 680.2h0M344.2 682.8h0M342.8 691.8h0M295.5 684.8h0M306.6 679.8h0M294.4 685.7h0M329.4 696.9h0M201.7 674.6h0M361.4 676.4h0M375.6 684.5h0M325.2 698.1h0M364.6 679.1h0M293.7 682.9h0M368.8 684.3h0M329.4 694.4h0M327.8 694.7h0M315.2 695.2h0M347.9 692.2h0M310.3 696.1h0M356 692.6h0M357.2 692.5h0M336.3 681h0M352.5 680.2h0M303.3 680.8h0M303.9 682.3h0M320.2 680.5h0M342.4 680.7h0M358.1 693.6h0M360.5 695.2h0M297.6 686.1h0M308 692.4h0M305.1 681.1h0M325.4 682.5h0M298.3 684.9h0M355.1 693.4h0M355.6 681.9h0M354.1 694.2h0M306 674.1h0M296.9 690.9h0M321.2 681.7h0M318.6 680.2h0M359 694.7h0M353.6 693h0M341.7 691.6h0M310.6 694.4h0M352.7 683.6h0M369.6 683.4h0M310.1 677.3h0M298.9 685.9h0M316.3 696.8h0M316.6 681.9h0M303.6 691.9h0M308.8 679.3h0M328.4 693.7h0M311.7 695.5h0M329.4 683.1h0M349.7 679.4h0M326.4 683.2h0M367.3 684.3h0M348 682.7h0M362.8 691.5h0M368.9 682.2h0M335 693.2h0M322.2 683h0M351.4 682.5h0M355.5 679.3h0M313.9 694.5h0M325.2 696.1h0M359.8 680.6h0M322.6 697.6h0M329.9 681.6h0M302.6 691.6h0M330.3 680.3h0M348.4 684.5h0M320.5 698.9h0M349.7 691.6h0M302.1 682.2h0M309.3 692.3h0M292.1 682.9h0M356.7 680.7h0M343.8 681.6h0M345.2 683.6h0M320.6 683.3h0M363 680.2h0M327.7 683.3h0M374.3 684.6h0M291.3 686.7h0M299.7 690.4h0M316.9 695.5h0M326.7 682.2h0M292.4 684.7h0M353.5 691.6h0M321.8 684.2h0M354.9 692.4h0M356.3 691.6h0M339.2 680.4h0M296.1 683.3h0M298.3 690.4h0M328.1 692.6h0M349.5 685.3h0M322.2 695.6h0M300.1 681.4h0M312 675.9h0M297 681.4h0M314.6 679.5h0M365.5 682.7h0M330.7 683.7h0M368 685h0M297.7 683.9h0M333.7 693.5h0M349.7 682.8h0M319.4 681.8h0M317.9 681.3h0M364.4 681.1h0M334.5 692.4h0M331.5 681.3h0M357 682.4h0M351 683.7h0M315.1 693.7h0M314.9 681.4h0M350.8 692.7h0M307.5 691.6h0M343.8 683.9h0M352.3 692.4h0M318 682.6h0M319.2 683.2h0M306.8 681.7h0M301.9 683.4h0M348.7 683.6h0M350.6 681h0M358.4 683.2h0M299.1 689.1h0M302.4 684.2h0M318.2 684h0M298.5 681.6h0M318.1 696.4h0M369.7 681.4h0M363.8 682.4h0M334.8 681.6h0M342.5 684h0M330.5 695.4h0M345.6 684.4h0M359.9 693.5h0M319.5 697.3h0M299.4 684.9h0M326.8 684.1h0M319.8 679h0M308.3 680.9h0M349.7 684.1h0M353 694.5h0M358.4 681.6h0M363 681.3h0M340.8 681.2h0M323.9 683h0M351.5 691.7h0M303.1 683.4h0M309.8 680.5h0M308.2 682.2h0M323.8 696.5h0M352.7 684.7h0M343 682.9h0M327.1 693.4h0M314.8 692.5h0M353.7 684.6h0M329.8 684.3h0M301.5 684.3h0M313 678h0M357.4 691.3h0M299.1 683.9h0M352.7 681.8h0M308.6 691.6h0M354.8 685.1h0M332.3 693.4h0M332.1 684h0M300 685.4h0M325.6 692.9h0M331.1 682.8h0M337.8 681.5h0M320 695.5h0M333 682.6h0M304.5 683.6h0M335.2 679.8h0M324.1 684.2h0M303.4 684.4h0M324.4 681.4h0M297.9 682.8h0M326.7 692.2h0M355.8 684.1h0M336.3 695.1h0M333 692.5h0M298.4 687.2h0M329.6 693.1h0M311 679.5h0M325.5 684h0M323 683.8h0M331.5 692.5h0M333.9 691.8h0M351.7 684.4h0M300.4 684.5h0M324.1 695h0M361.3 692.6h0M351.9 685.3h0M302.1 685.3h0M373.9 683.8h0M355.7 683.1h0M365.9 684.2h0M358.4 680h0M370.2 684.4h0M328.8 685.3h0M299.2 682.6h0M354.5 683.9h0M324.2 692.6h0M332 685h0M326.8 685.1h0M327.7 684.4h0M372.8 684.7h0M362.5 682.2h0M359.8 682.4h0M361.8 691.6h0M300.6 683.3h0M330.9 684.4h0M358.6 692.4h0M299.1 688h0M344.6 684.5h0M301.6 680.5h0M342.1 682h0M329.4 692.2h0M313 680.3h0M311.4 681.6h0M359.6 684h0M313.2 681.9h0M350.8 684.6h0M319.6 684.2h0M328.7 684.1h0M346.8 684.6h0M360.5 692h0M365 685.3h0M357 683.7h0M313.6 693.4h0M364.3 683.9h0M363.2 684.3h0M320.9 697h0M339.4 682.2h0M341.9 683.1h0M332.1 691.6h0M333.6 684h0M361.3 683.1h0M334.8 683.2h0M331 691.5h0M371.5 684.3h0M370.7 685.3h0M369.4 685.2h0M323 693.6h0M301.5 685.2h0M330.9 693.8h0M325.1 691.4h0M361.5 681.3h0M299.7 686.6h0M321.2 694h0M312.5 694.4h0M311.8 693.1h0M363.9 684.7h0M338.1 683.3h0M310.2 693.1h0M336.3 682.5h0M320.7 684.6h0M327.7 691.6h0M366.3 685.2h0M293.2 687h0M321.9 685.3h0M341.1 684h0M322.9 692.2h0M358.2 684.4h0M313.1 692.2h0M326.6 691.4h0M321.7 692.7h0M309.7 691.5h0M318.3 694.7h0M324.9 685.2h0M336.3 683.9h0M334 684.9h0M312.4 691.8h0M334.9 684.2h0M330.1 685h0M330.4 692.4h0M324.6 693.7h0M303.7 685.2h0M299.9 688h0M359.9 692.4h0M309.6 681.9h0M310.7 692.2h0M306 684.2h0M304.6 684.6h0M333 684.9h0M356.8 684.6h0M311.8 692.1h0M343.3 685h0M336.7 684.9h0M335.4 691.3h0M305.6 682.8h0M340.8 682.8h0M307.4 683.3h0M345.2 685.3h0M307.5 684.4h0M315.7 682.8h0M362.1 684.2h0M362.9 683.4h0M308.8 684.7h0M335.7 684.8h0M339.8 683.8h0M359.1 685.2h0M315.6 683.9h0M338.9 684.4h0M341.8 684.8h0M316.8 694h0M305.6 685.2h0M314.2 691.6h0M314.3 683.2h0M337.7 684.4h0M309.1 683.2h0M311.3 691.4h0M312.5 683.3h0M316.8 683.3h0M318.3 693.3h0M316.1 693h0M316.8 684.4h0M310.7 683.2h0M340.2 685.2h0M363 685.2h0M316.2 692.2h0M361.2 685h0M314.5 684.3h0M360.9 684.2h0M359.1 691.4h0M360.2 684.6h0M338.3 685.2h0M306.7 684.8h0M347.9 685.2h0M307.7 685.3h0M366.8 683.4h0M310 684.3h0M320.5 693.1h0M311.5 684.3h0M318.8 684.7h0M353.5 685.3h0M315.5 685.2h0M323.1 684.6h0M313.4 684.1h0M319.5 692.6h0M317.8 685.2h0M358.1 685.3h0M308.6 684h0M309.9 685.2h0M315.3 691.7h0M317.2 692.6h0M320.6 692.1h0M312.2 685.1h0M319.6 685.3h0M317.3 691.5h0M319.6 693.9h0M321.7 691.5h0M318.4 692.2h0M323.8 691.9h0M322.8 691.3h0M313.2 691.3h0M319.4 691.4h0M294.4 684.2h0M313.3 685h0M320.8 691.4h0M312.6 684.4h0M311.1 685.2h0" stroke="#000" stroke-width="1.45" stroke-linecap="round" fill="none" clip-path="url(#cm)"/><path d="M299.0 685.1H375.7V679.6q0-2 2-2H392.1q2 0 2 2V685.1H470.8q3 0 3 3.30t-3 3.30H299.0q-3 0-3-3.30t3-3.30z" fill="#000"/>
<rect x="75.6" y="604.4" width="620.25" height="152.1" fill="none" stroke="#000" stroke-width="1.11"/>
<text x="103.1" y="777" text-anchor="middle">−10.0</text>
<text x="173.6" y="777" text-anchor="middle">−7.5</text>
<text x="244.1" y="777" text-anchor="middle">−5.0</text>
<text x="314.6" y="777" text-anchor="middle">−2.5</text>
<text x="385.1" y="777" text-anchor="middle">0.0</text>
<text x="455.6" y="777" text-anchor="middle">2.5</text>
<text x="526.1" y="777" text-anchor="middle">5.0</text>
<text x="596.6" y="777" text-anchor="middle">7.5</text>
<text x="667.1" y="777" text-anchor="middle">10.0</text>
<text x="65.2" y="639.6" text-anchor="end">2</text>
<text x="65.2" y="696" text-anchor="end">0</text>
<text x="65.2" y="751.5" text-anchor="end">−2</text>
<text x="385.6" y="797" text-anchor="middle">x</text>
<text transform="translate(36.2 681.65) rotate(-90)" text-anchor="middle">y</text>
<text x="385.1" y="596.9" text-anchor="middle" font-size="16.67">z = 0.0</text>
<rect x="734.5" y="567.5" width="11" height="226.7" fill="url(#gv)" stroke="#000" stroke-width="1.11"/>
<text x="755.3" y="799.4">300.0</text>
<text x="755.3" y="766.07">300.2</text>
<text x="755.3" y="732.74">300.4</text>
<text x="755.3" y="699.41">300.6</text>
<text x="755.3" y="666.08">300.8</text>
<text x="755.3" y="632.75">301.0</text>
<text x="755.3" y="599.42">301.2</text>
<path d="M103.6 756.5v5.3M174.1 756.5v5.3M244.6 756.5v5.3M315.1 756.5v5.3M385.6 756.5v5.3M456.1 756.5v5.3M526.6 756.5v5.3M597.1 756.5v5.3M667.6 756.5v5.3M75.6 634.4h-5.3M75.6 690.8h-5.3M75.6 746.3h-5.3M745.5 794.2h5.3M745.5 760.87h5.3M745.5 727.54h5.3M745.5 694.21h5.3M745.5 660.88h5.3M745.5 627.55h5.3M745.5 594.22h5.3" stroke="#000" stroke-width="1.11" fill="none"/>
</svg></body></html>
